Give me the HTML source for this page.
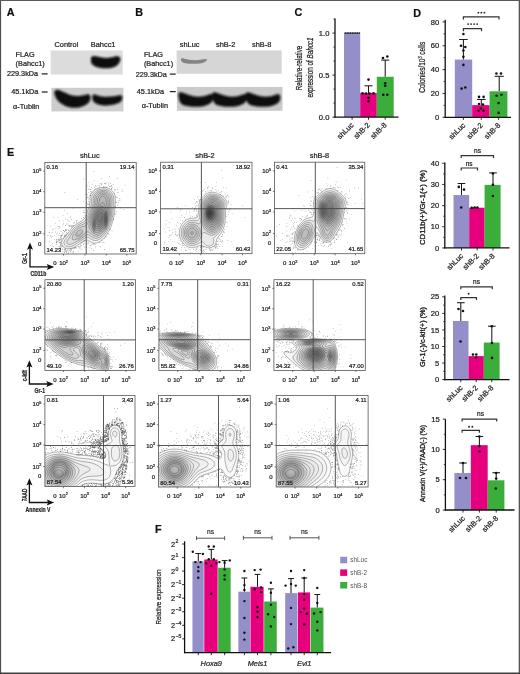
<!DOCTYPE html>
<html><head><meta charset="utf-8"><title>Figure</title>
<style>html,body{margin:0;padding:0;background:#fff;}body{width:520px;height:674px;overflow:hidden;position:relative;font-family:"Liberation Sans", sans-serif;}svg{display:block;filter:blur(0.35px);}svg.ov{position:absolute;left:0;top:0;filter:none;}svg text{stroke:#222;stroke-width:0.22px;}</style>
</head><body>
<svg width="520" height="674" viewBox="0 0 520 674" font-family='"Liberation Sans", sans-serif'><defs>
<filter id="bl1" x="-20%" y="-20%" width="140%" height="140%"><feGaussianBlur stdDeviation="0.7"/></filter>
<filter id="bl2" x="-20%" y="-30%" width="140%" height="160%"><feGaussianBlur stdDeviation="0.9"/></filter>
<filter id="bl3" x="-30%" y="-30%" width="160%" height="160%"><feGaussianBlur stdDeviation="2.2"/></filter>
<radialGradient id="shd"><stop offset="0" stop-color="#555" stop-opacity="0.9"/><stop offset="0.6" stop-color="#666" stop-opacity="0.6"/><stop offset="1" stop-color="#888" stop-opacity="0"/></radialGradient>
<radialGradient id="shd2"><stop offset="0" stop-color="#bbb" stop-opacity="0.3"/><stop offset="0.45" stop-color="#777" stop-opacity="0.75"/><stop offset="0.75" stop-color="#888" stop-opacity="0.4"/><stop offset="1" stop-color="#999" stop-opacity="0"/></radialGradient>
</defs><rect width="520" height="674" fill="#fff"/><text x="6.80" y="15.80" font-size="10.8" font-weight="bold" fill="#111">A</text>
<text x="135.30" y="16.00" font-size="10.8" font-weight="bold" fill="#111">B</text>
<text x="294.40" y="15.60" font-size="10.8" font-weight="bold" fill="#111">C</text>
<text x="413.30" y="16.50" font-size="10.8" font-weight="bold" fill="#111">D</text>
<text x="7.00" y="156.20" font-size="10.8" font-weight="bold" fill="#111">E</text>
<text x="155.00" y="532.70" font-size="10.8" font-weight="bold" fill="#111">F</text>
<text x="54.50" y="47.30" font-size="7.4" fill="#222">Control</text>
<text x="90.80" y="47.30" font-size="7.4" fill="#222">Bahcc1</text>
<text x="15.60" y="57.20" font-size="7.3" fill="#222">FLAG</text>
<text x="15.60" y="65.60" font-size="7.3" fill="#222">(Bahcc1)</text>
<text x="6.90" y="76.30" font-size="7.3" fill="#222">229.3kDa</text>
<line x1="41.80" y1="73.90" x2="47.60" y2="73.90" stroke="#1a1a1a" stroke-width="1.2"/>
<text x="11.20" y="94.40" font-size="7.3" fill="#222">45.1kDa</text>
<line x1="41.80" y1="92.00" x2="47.60" y2="92.00" stroke="#1a1a1a" stroke-width="1.2"/>
<text x="13.00" y="108.60" font-size="7.3" fill="#222">α-Tublin</text>
<rect x="50.70" y="50.50" width="72.00" height="24.00" fill="#dcdcdc"/>
<rect x="51.40" y="87.80" width="72.00" height="23.60" fill="#cdcdcd"/>
<text x="179.80" y="47.20" font-size="7.4" fill="#222">shLuc</text>
<text x="216.00" y="47.20" font-size="7.4" fill="#222">shB-2</text>
<text x="252.00" y="47.20" font-size="7.4" fill="#222">shB-8</text>
<text x="143.90" y="57.40" font-size="7.3" fill="#222">FLAG</text>
<text x="143.90" y="65.80" font-size="7.3" fill="#222">(Bahcc1)</text>
<text x="135.70" y="76.50" font-size="7.3" fill="#222">229.3kDa</text>
<line x1="169.80" y1="74.10" x2="175.70" y2="74.10" stroke="#1a1a1a" stroke-width="1.2"/>
<text x="136.80" y="94.00" font-size="7.3" fill="#222">45.1kDa</text>
<line x1="169.80" y1="91.60" x2="175.70" y2="91.60" stroke="#1a1a1a" stroke-width="1.2"/>
<text x="141.70" y="108.20" font-size="7.3" fill="#222">α-Tublin</text>
<rect x="176.60" y="50.40" width="105.10" height="23.40" fill="#d6d6d6"/>
<rect x="176.90" y="87.00" width="105.60" height="23.80" fill="#cacaca"/>
<g filter="url(#bl1)">
<path d="M91,58.5 C91,56 94,55.6 97,56.6 C103,58.4 110,58.4 115,56.6 C118,55.6 120.8,56.3 120.3,59.5 C119.8,64 116,67.8 108,68.2 C100,68.5 93,66.7 91.3,63 C90.8,61.5 90.8,60 91,58.5 Z" fill="#080808" filter="url(#bl2)"/>
<path d="M54.3,92.5 C54.5,90 56.5,89.3 59.5,90.2 C63,91.5 67,94 72,95.6 C78,96.6 83,95.3 87,94.4 C90.2,94 91,96.5 90.3,99.5 C89.5,103 86,105.5 80,107.2 C74,108.6 68,107.6 63.5,105 C58.5,102 55,98.5 54.3,92.5 Z" fill="#0a0a0a" filter="url(#bl2)"/>
<path d="M92.3,96.6 C92.3,94.3 94.5,94.2 97,95.2 C101,96.7 106,97 112,96.6 C116,96.2 119,94.9 121.2,95.3 C123,96.3 122.6,99.5 121,101.4 C117.5,104 111,105.4 104,105.4 C99,105.2 95.3,103.6 93.3,101.5 C92.4,100.2 92.2,98.2 92.3,96.6 Z" fill="#0a0a0a" filter="url(#bl2)"/>
<path d="M180.8,59.6 C180.8,58.2 182.5,58.0 184.5,58.8 C189,60.3 196,60.6 201.5,59.6 C204,59.1 206.8,58.6 207,59.6 C207,61 205,62.6 201.5,63.3 C195,64.2 188,64 184,63 C181.8,62.3 180.8,61 180.8,59.6 Z" fill="#858585" filter="url(#bl1)"/>
<path d="M178.5,94.5 C178.3,92.2 180.5,91.8 183.0,92.8 C187.0,94.5 192.0,96.5 198.0,96.8 C203.0,96.8 207.0,95.2 210.0,94.2 C212.5,93.6 213.5,96 213.0,99 C212.5,102.5 209.0,105 203.0,106.2 C196.0,107.2 188.0,106.8 183.0,105 C179.5,103.3 178.6,99 178.5,94.5 Z M212.3,94.5 C212.1,92.2 214.3,91.8 216.8,92.8 C220.8,94.5 225.8,96.5 231.8,96.8 C236.8,96.8 240.8,95.2 243.8,94.2 C246.3,93.6 247.3,96 246.8,99 C246.3,102.5 242.8,105 236.8,106.2 C229.8,107.2 221.8,106.8 216.8,105 C213.3,103.3 212.4,99 212.3,94.5 Z M245.7,94.5 C245.5,92.2 247.7,91.8 250.2,92.8 C254.2,94.5 259.2,96.5 265.2,96.8 C270.2,96.8 274.2,95.2 277.2,94.2 C279.7,93.6 280.7,96 280.2,99 C279.7,102.5 276.2,105 270.2,106.2 C263.2,107.2 255.2,106.8 250.2,105 C246.7,103.3 245.8,99 245.7,94.5 Z" fill="#0c0c0c" filter="url(#bl2)"/>
</g>
<rect x="344.00" y="32.70" width="16.20" height="84.40" fill="#958fc9"/>
<rect x="360.20" y="92.91" width="16.60" height="24.19" fill="#e6007e"/>
<rect x="376.80" y="76.78" width="16.90" height="40.32" fill="#3bad3a"/>
<line x1="335.00" y1="18.50" x2="335.00" y2="117.70" stroke="#111" stroke-width="1.3"/>
<line x1="334.40" y1="117.10" x2="398.50" y2="117.10" stroke="#111" stroke-width="1.3"/>
<line x1="332.40" y1="33.10" x2="335.00" y2="33.10" stroke="#1a1a1a" stroke-width="0.9"/>
<line x1="332.40" y1="75.10" x2="335.00" y2="75.10" stroke="#1a1a1a" stroke-width="0.9"/>
<line x1="332.40" y1="117.10" x2="335.00" y2="117.10" stroke="#1a1a1a" stroke-width="0.9"/>
<line x1="333.40" y1="103.10" x2="335.00" y2="103.10" stroke="#1a1a1a" stroke-width="0.8"/>
<line x1="333.40" y1="89.10" x2="335.00" y2="89.10" stroke="#1a1a1a" stroke-width="0.8"/>
<line x1="333.40" y1="61.10" x2="335.00" y2="61.10" stroke="#1a1a1a" stroke-width="0.8"/>
<line x1="333.40" y1="47.10" x2="335.00" y2="47.10" stroke="#1a1a1a" stroke-width="0.8"/>
<line x1="333.40" y1="19.10" x2="335.00" y2="19.10" stroke="#1a1a1a" stroke-width="0.8"/>
<line x1="352.10" y1="117.10" x2="352.10" y2="119.70" stroke="#1a1a1a" stroke-width="0.9"/>
<line x1="368.50" y1="117.10" x2="368.50" y2="119.70" stroke="#1a1a1a" stroke-width="0.9"/>
<line x1="385.20" y1="117.10" x2="385.20" y2="119.70" stroke="#1a1a1a" stroke-width="0.9"/>
<text x="329.40" y="35.70" font-size="7.6" text-anchor="end" fill="#1a1a1a">1.0</text>
<text x="329.40" y="77.70" font-size="7.6" text-anchor="end" fill="#1a1a1a">0.5</text>
<text x="329.40" y="119.70" font-size="7.6" text-anchor="end" fill="#1a1a1a">0.0</text>
<circle cx="345.40" cy="33.00" r="0.85" fill="#111"/>
<circle cx="347.12" cy="33.00" r="0.85" fill="#111"/>
<circle cx="348.84" cy="33.00" r="0.85" fill="#111"/>
<circle cx="350.56" cy="33.00" r="0.85" fill="#111"/>
<circle cx="352.28" cy="33.00" r="0.85" fill="#111"/>
<circle cx="354.00" cy="33.00" r="0.85" fill="#111"/>
<circle cx="355.72" cy="33.00" r="0.85" fill="#111"/>
<circle cx="357.44" cy="33.00" r="0.85" fill="#111"/>
<circle cx="359.16" cy="33.00" r="0.85" fill="#111"/>
<line x1="368.50" y1="85.80" x2="368.50" y2="92.91" stroke="#1a1a1a" stroke-width="1.05"/>
<line x1="364.50" y1="85.80" x2="372.50" y2="85.80" stroke="#1a1a1a" stroke-width="1.05"/>
<line x1="385.20" y1="60.10" x2="385.20" y2="76.78" stroke="#1a1a1a" stroke-width="1.05"/>
<line x1="381.20" y1="60.10" x2="389.20" y2="60.10" stroke="#1a1a1a" stroke-width="1.05"/>
<circle cx="368.50" cy="79.60" r="1.3" fill="#111"/>
<circle cx="362.50" cy="93.40" r="1.3" fill="#111"/>
<circle cx="366.00" cy="93.60" r="1.3" fill="#111"/>
<circle cx="369.50" cy="93.60" r="1.3" fill="#111"/>
<circle cx="373.50" cy="93.40" r="1.3" fill="#111"/>
<circle cx="368.50" cy="97.90" r="1.3" fill="#111"/>
<circle cx="368.50" cy="101.30" r="1.3" fill="#111"/>
<circle cx="383.00" cy="58.00" r="1.3" fill="#111"/>
<circle cx="387.30" cy="56.50" r="1.3" fill="#111"/>
<circle cx="385.20" cy="83.20" r="1.3" fill="#111"/>
<circle cx="385.20" cy="85.80" r="1.3" fill="#111"/>
<circle cx="383.30" cy="94.80" r="1.3" fill="#111"/>
<circle cx="387.30" cy="94.80" r="1.3" fill="#111"/>
<text x="0" y="0" font-size="7.4" text-anchor="end" fill="#151515" transform="translate(354.00,125.60) rotate(-45)">shLuc</text>
<text x="0" y="0" font-size="7.4" text-anchor="end" fill="#151515" transform="translate(370.40,125.60) rotate(-45)">shB-2</text>
<text x="0" y="0" font-size="7.4" text-anchor="end" fill="#151515" transform="translate(387.10,125.60) rotate(-45)">shB-8</text>
<text x="0" y="0" font-size="8.2" text-anchor="middle" fill="#151515" stroke="#222" stroke-width="0.2" transform="translate(302.3,68.0) rotate(-90)" textLength="44.5" lengthAdjust="spacingAndGlyphs">Relative-relative</text>
<text x="0" y="0" font-size="8.2" text-anchor="middle" fill="#151515" stroke="#222" stroke-width="0.2" transform="translate(312.6,67.6) rotate(-90)" textLength="60" lengthAdjust="spacingAndGlyphs">expression of <tspan font-style="italic">Bahcc1</tspan></text>
<rect x="454.80" y="59.58" width="17.40" height="57.72" fill="#958fc9"/>
<rect x="472.20" y="105.14" width="17.40" height="12.16" fill="#e6007e"/>
<rect x="489.60" y="91.30" width="17.80" height="26.00" fill="#3bad3a"/>
<line x1="445.20" y1="19.70" x2="445.20" y2="117.90" stroke="#111" stroke-width="1.3"/>
<line x1="444.60" y1="117.30" x2="511.00" y2="117.30" stroke="#111" stroke-width="1.3"/>
<line x1="442.60" y1="117.30" x2="445.20" y2="117.30" stroke="#1a1a1a" stroke-width="0.9"/>
<line x1="442.60" y1="93.45" x2="445.20" y2="93.45" stroke="#1a1a1a" stroke-width="0.9"/>
<line x1="442.60" y1="69.60" x2="445.20" y2="69.60" stroke="#1a1a1a" stroke-width="0.9"/>
<line x1="442.60" y1="45.75" x2="445.20" y2="45.75" stroke="#1a1a1a" stroke-width="0.9"/>
<line x1="442.60" y1="21.90" x2="445.20" y2="21.90" stroke="#1a1a1a" stroke-width="0.9"/>
<line x1="443.60" y1="105.38" x2="445.20" y2="105.38" stroke="#1a1a1a" stroke-width="0.8"/>
<line x1="443.60" y1="81.53" x2="445.20" y2="81.53" stroke="#1a1a1a" stroke-width="0.8"/>
<line x1="443.60" y1="57.68" x2="445.20" y2="57.68" stroke="#1a1a1a" stroke-width="0.8"/>
<line x1="443.60" y1="33.83" x2="445.20" y2="33.83" stroke="#1a1a1a" stroke-width="0.8"/>
<line x1="463.40" y1="117.30" x2="463.40" y2="119.90" stroke="#1a1a1a" stroke-width="0.9"/>
<line x1="481.30" y1="117.30" x2="481.30" y2="119.90" stroke="#1a1a1a" stroke-width="0.9"/>
<line x1="498.60" y1="117.30" x2="498.60" y2="119.90" stroke="#1a1a1a" stroke-width="0.9"/>
<text x="439.30" y="119.90" font-size="7.6" text-anchor="end" fill="#1a1a1a">0</text>
<text x="439.30" y="96.05" font-size="7.6" text-anchor="end" fill="#1a1a1a">20</text>
<text x="439.30" y="72.20" font-size="7.6" text-anchor="end" fill="#1a1a1a">40</text>
<text x="439.30" y="48.35" font-size="7.6" text-anchor="end" fill="#1a1a1a">60</text>
<text x="439.30" y="24.50" font-size="7.6" text-anchor="end" fill="#1a1a1a">80</text>
<line x1="463.40" y1="39.50" x2="463.40" y2="59.58" stroke="#1a1a1a" stroke-width="1.05"/>
<line x1="459.10" y1="39.50" x2="467.70" y2="39.50" stroke="#1a1a1a" stroke-width="1.05"/>
<line x1="481.30" y1="99.50" x2="481.30" y2="105.14" stroke="#1a1a1a" stroke-width="1.05"/>
<line x1="477.00" y1="99.50" x2="485.60" y2="99.50" stroke="#1a1a1a" stroke-width="1.05"/>
<line x1="499.20" y1="76.30" x2="499.20" y2="91.30" stroke="#1a1a1a" stroke-width="1.05"/>
<line x1="494.60" y1="76.30" x2="503.80" y2="76.30" stroke="#1a1a1a" stroke-width="1.05"/>
<circle cx="463.40" cy="34.00" r="1.3" fill="#111"/>
<circle cx="461.00" cy="45.70" r="1.3" fill="#111"/>
<circle cx="465.30" cy="47.00" r="1.3" fill="#111"/>
<circle cx="463.40" cy="50.50" r="1.3" fill="#111"/>
<circle cx="463.40" cy="56.80" r="1.3" fill="#111"/>
<circle cx="463.40" cy="64.90" r="1.3" fill="#111"/>
<circle cx="461.60" cy="88.60" r="1.3" fill="#111"/>
<circle cx="465.30" cy="87.50" r="1.3" fill="#111"/>
<circle cx="479.00" cy="96.90" r="1.3" fill="#111"/>
<circle cx="483.60" cy="96.90" r="1.3" fill="#111"/>
<circle cx="479.00" cy="104.00" r="1.3" fill="#111"/>
<circle cx="483.00" cy="104.50" r="1.3" fill="#111"/>
<circle cx="481.00" cy="108.50" r="1.3" fill="#111"/>
<circle cx="478.50" cy="110.80" r="1.3" fill="#111"/>
<circle cx="483.60" cy="110.80" r="1.3" fill="#111"/>
<circle cx="496.40" cy="73.50" r="1.3" fill="#111"/>
<circle cx="501.00" cy="73.50" r="1.3" fill="#111"/>
<circle cx="496.60" cy="95.80" r="1.3" fill="#111"/>
<circle cx="501.50" cy="94.80" r="1.3" fill="#111"/>
<circle cx="498.60" cy="103.00" r="1.3" fill="#111"/>
<circle cx="498.60" cy="112.90" r="1.3" fill="#111"/>
<path d="M463.40,19.50 V16.90 H499.00 V19.50" fill="none" stroke="#333" stroke-width="1.2"/>
<path d="M463.40,31.30 V28.70 H481.50 V31.30" fill="none" stroke="#333" stroke-width="1.2"/>
<circle cx="478.40" cy="12.70" r="0.9" fill="#222"/>
<circle cx="481.40" cy="12.70" r="0.9" fill="#222"/>
<circle cx="484.40" cy="12.70" r="0.9" fill="#222"/>
<circle cx="468.10" cy="24.10" r="0.9" fill="#222"/>
<circle cx="471.10" cy="24.10" r="0.9" fill="#222"/>
<circle cx="474.10" cy="24.10" r="0.9" fill="#222"/>
<circle cx="477.10" cy="24.10" r="0.9" fill="#222"/>
<text x="0" y="0" font-size="7.4" text-anchor="end" fill="#151515" transform="translate(465.80,125.80) rotate(-45)">shLuc</text>
<text x="0" y="0" font-size="7.4" text-anchor="end" fill="#151515" transform="translate(483.50,125.80) rotate(-45)">shB-2</text>
<text x="0" y="0" font-size="7.4" text-anchor="end" fill="#151515" transform="translate(501.00,125.80) rotate(-45)">shB-8</text>
<text x="0" y="0" font-size="8.4" text-anchor="middle" fill="#151515" stroke="#222" stroke-width="0.2" transform="translate(424.5,67.2) rotate(-90)" textLength="51" lengthAdjust="spacingAndGlyphs">Colonies/10<tspan font-size="5" dy="-2.6">3</tspan><tspan dy="2.6"> cells</tspan></text>
<rect x="453.50" y="195.03" width="15.70" height="52.88" fill="#958fc9"/>
<rect x="469.20" y="207.72" width="15.40" height="40.19" fill="#e6007e"/>
<rect x="484.60" y="184.87" width="16.00" height="63.03" fill="#3bad3a"/>
<line x1="444.80" y1="162.50" x2="444.80" y2="248.50" stroke="#111" stroke-width="1.3"/>
<line x1="444.20" y1="247.90" x2="509.50" y2="247.90" stroke="#111" stroke-width="1.3"/>
<line x1="442.20" y1="247.90" x2="444.80" y2="247.90" stroke="#1a1a1a" stroke-width="0.9"/>
<line x1="442.20" y1="226.75" x2="444.80" y2="226.75" stroke="#1a1a1a" stroke-width="0.9"/>
<line x1="442.20" y1="205.60" x2="444.80" y2="205.60" stroke="#1a1a1a" stroke-width="0.9"/>
<line x1="442.20" y1="184.45" x2="444.80" y2="184.45" stroke="#1a1a1a" stroke-width="0.9"/>
<line x1="442.20" y1="163.30" x2="444.80" y2="163.30" stroke="#1a1a1a" stroke-width="0.9"/>
<line x1="443.20" y1="237.33" x2="444.80" y2="237.33" stroke="#1a1a1a" stroke-width="0.8"/>
<line x1="443.20" y1="216.18" x2="444.80" y2="216.18" stroke="#1a1a1a" stroke-width="0.8"/>
<line x1="443.20" y1="195.03" x2="444.80" y2="195.03" stroke="#1a1a1a" stroke-width="0.8"/>
<line x1="443.20" y1="173.88" x2="444.80" y2="173.88" stroke="#1a1a1a" stroke-width="0.8"/>
<line x1="461.50" y1="247.90" x2="461.50" y2="250.50" stroke="#1a1a1a" stroke-width="0.9"/>
<line x1="477.20" y1="247.90" x2="477.20" y2="250.50" stroke="#1a1a1a" stroke-width="0.9"/>
<line x1="493.00" y1="247.90" x2="493.00" y2="250.50" stroke="#1a1a1a" stroke-width="0.9"/>
<text x="439.30" y="250.50" font-size="7.6" text-anchor="end" fill="#1a1a1a">0</text>
<text x="439.30" y="229.35" font-size="7.6" text-anchor="end" fill="#1a1a1a">10</text>
<text x="439.30" y="208.20" font-size="7.6" text-anchor="end" fill="#1a1a1a">20</text>
<text x="439.30" y="187.05" font-size="7.6" text-anchor="end" fill="#1a1a1a">30</text>
<text x="439.30" y="165.90" font-size="7.6" text-anchor="end" fill="#1a1a1a">40</text>
<line x1="461.50" y1="183.50" x2="461.50" y2="195.03" stroke="#1a1a1a" stroke-width="1.05"/>
<line x1="457.70" y1="183.50" x2="465.30" y2="183.50" stroke="#1a1a1a" stroke-width="1.05"/>
<line x1="493.00" y1="172.90" x2="493.00" y2="184.87" stroke="#1a1a1a" stroke-width="1.05"/>
<line x1="489.20" y1="172.90" x2="496.80" y2="172.90" stroke="#1a1a1a" stroke-width="1.05"/>
<circle cx="458.80" cy="186.90" r="1.3" fill="#111"/>
<circle cx="464.00" cy="189.60" r="1.3" fill="#111"/>
<circle cx="461.20" cy="207.50" r="1.3" fill="#111"/>
<circle cx="471.70" cy="207.90" r="1.3" fill="#111"/>
<circle cx="474.60" cy="207.50" r="1.3" fill="#111"/>
<circle cx="477.40" cy="207.50" r="1.3" fill="#111"/>
<circle cx="492.90" cy="173.50" r="1.3" fill="#111"/>
<circle cx="492.90" cy="184.80" r="1.3" fill="#111"/>
<circle cx="492.90" cy="196.00" r="1.3" fill="#111"/>
<path d="M461.20,170.40 V168.00 H477.50 V170.40" fill="none" stroke="#333" stroke-width="1.2"/>
<path d="M461.20,158.00 V155.60 H493.50 V158.00" fill="none" stroke="#333" stroke-width="1.2"/>
<text x="469.20" y="165.50" font-size="6.5" text-anchor="middle" fill="#1a1a1a">ns</text>
<text x="477.50" y="153.00" font-size="6.5" text-anchor="middle" fill="#1a1a1a">ns</text>
<text x="0" y="0" font-size="7.4" text-anchor="end" fill="#151515" transform="translate(463.70,256.50) rotate(-45)">shLuc</text>
<text x="0" y="0" font-size="7.4" text-anchor="end" fill="#151515" transform="translate(479.40,256.50) rotate(-45)">shB-2</text>
<text x="0" y="0" font-size="7.4" text-anchor="end" fill="#151515" transform="translate(495.20,256.50) rotate(-45)">shB-8</text>
<text x="0" y="0" font-size="7.2" text-anchor="middle" fill="#151515" style="stroke-width:0.32px" transform="translate(425.0,207.5) rotate(-90)" textLength="75" lengthAdjust="spacingAndGlyphs">CD11b(+)/Gr-1(+) (%)</text>
<rect x="453.00" y="321.01" width="15.50" height="58.59" fill="#958fc9"/>
<rect x="468.50" y="356.10" width="15.30" height="23.50" fill="#e6007e"/>
<rect x="483.80" y="342.53" width="15.80" height="37.07" fill="#3bad3a"/>
<line x1="444.80" y1="295.50" x2="444.80" y2="380.20" stroke="#111" stroke-width="1.3"/>
<line x1="444.20" y1="379.60" x2="509.50" y2="379.60" stroke="#111" stroke-width="1.3"/>
<line x1="442.20" y1="379.60" x2="444.80" y2="379.60" stroke="#1a1a1a" stroke-width="0.9"/>
<line x1="442.20" y1="363.05" x2="444.80" y2="363.05" stroke="#1a1a1a" stroke-width="0.9"/>
<line x1="442.20" y1="346.50" x2="444.80" y2="346.50" stroke="#1a1a1a" stroke-width="0.9"/>
<line x1="442.20" y1="329.95" x2="444.80" y2="329.95" stroke="#1a1a1a" stroke-width="0.9"/>
<line x1="442.20" y1="313.40" x2="444.80" y2="313.40" stroke="#1a1a1a" stroke-width="0.9"/>
<line x1="442.20" y1="296.85" x2="444.80" y2="296.85" stroke="#1a1a1a" stroke-width="0.9"/>
<line x1="443.20" y1="371.33" x2="444.80" y2="371.33" stroke="#1a1a1a" stroke-width="0.8"/>
<line x1="443.20" y1="354.78" x2="444.80" y2="354.78" stroke="#1a1a1a" stroke-width="0.8"/>
<line x1="443.20" y1="338.23" x2="444.80" y2="338.23" stroke="#1a1a1a" stroke-width="0.8"/>
<line x1="443.20" y1="321.68" x2="444.80" y2="321.68" stroke="#1a1a1a" stroke-width="0.8"/>
<line x1="443.20" y1="305.12" x2="444.80" y2="305.12" stroke="#1a1a1a" stroke-width="0.8"/>
<line x1="460.80" y1="379.60" x2="460.80" y2="382.20" stroke="#1a1a1a" stroke-width="0.9"/>
<line x1="476.20" y1="379.60" x2="476.20" y2="382.20" stroke="#1a1a1a" stroke-width="0.9"/>
<line x1="491.80" y1="379.60" x2="491.80" y2="382.20" stroke="#1a1a1a" stroke-width="0.9"/>
<text x="439.30" y="382.20" font-size="7.6" text-anchor="end" fill="#1a1a1a">0</text>
<text x="439.30" y="365.65" font-size="7.6" text-anchor="end" fill="#1a1a1a">5</text>
<text x="439.30" y="349.10" font-size="7.6" text-anchor="end" fill="#1a1a1a">10</text>
<text x="439.30" y="332.55" font-size="7.6" text-anchor="end" fill="#1a1a1a">15</text>
<text x="439.30" y="316.00" font-size="7.6" text-anchor="end" fill="#1a1a1a">20</text>
<text x="439.30" y="299.45" font-size="7.6" text-anchor="end" fill="#1a1a1a">25</text>
<line x1="460.80" y1="302.70" x2="460.80" y2="321.01" stroke="#1a1a1a" stroke-width="1.05"/>
<line x1="457.00" y1="302.70" x2="464.60" y2="302.70" stroke="#1a1a1a" stroke-width="1.05"/>
<line x1="491.80" y1="326.20" x2="491.80" y2="342.53" stroke="#1a1a1a" stroke-width="1.05"/>
<line x1="488.00" y1="326.20" x2="495.60" y2="326.20" stroke="#1a1a1a" stroke-width="1.05"/>
<circle cx="458.50" cy="309.00" r="1.3" fill="#111"/>
<circle cx="463.00" cy="311.00" r="1.3" fill="#111"/>
<circle cx="460.50" cy="341.50" r="1.3" fill="#111"/>
<circle cx="473.00" cy="354.50" r="1.3" fill="#111"/>
<circle cx="476.30" cy="354.50" r="1.3" fill="#111"/>
<circle cx="476.00" cy="357.50" r="1.3" fill="#111"/>
<circle cx="491.80" cy="326.20" r="1.3" fill="#111"/>
<circle cx="492.00" cy="343.00" r="1.3" fill="#111"/>
<circle cx="492.00" cy="357.90" r="1.3" fill="#111"/>
<path d="M460.80,300.10 V297.70 H476.50 V300.10" fill="none" stroke="#333" stroke-width="1.2"/>
<path d="M460.80,289.20 V286.80 H492.30 V289.20" fill="none" stroke="#333" stroke-width="1.2"/>
<circle cx="468.60" cy="293.70" r="0.95" fill="#222"/>
<text x="476.50" y="283.80" font-size="6.5" text-anchor="middle" fill="#1a1a1a">ns</text>
<text x="0" y="0" font-size="7.4" text-anchor="end" fill="#151515" transform="translate(463.00,388.30) rotate(-45)">shLuc</text>
<text x="0" y="0" font-size="7.4" text-anchor="end" fill="#151515" transform="translate(478.40,388.30) rotate(-45)">shB-2</text>
<text x="0" y="0" font-size="7.4" text-anchor="end" fill="#151515" transform="translate(494.00,388.30) rotate(-45)">shB-8</text>
<text x="0" y="0" font-size="7.2" text-anchor="middle" fill="#151515" style="stroke-width:0.32px" transform="translate(425.0,337.0) rotate(-90)" textLength="60" lengthAdjust="spacingAndGlyphs">Gr-1(-)/c-kit(+) (%)</text>
<rect x="454.40" y="473.03" width="16.40" height="36.97" fill="#958fc9"/>
<rect x="470.80" y="445.16" width="16.90" height="64.84" fill="#e6007e"/>
<rect x="487.70" y="480.31" width="16.70" height="29.69" fill="#3bad3a"/>
<line x1="445.40" y1="419.20" x2="445.40" y2="510.60" stroke="#111" stroke-width="1.3"/>
<line x1="444.80" y1="510.00" x2="514.50" y2="510.00" stroke="#111" stroke-width="1.3"/>
<line x1="442.80" y1="510.00" x2="445.40" y2="510.00" stroke="#1a1a1a" stroke-width="0.9"/>
<line x1="442.80" y1="479.70" x2="445.40" y2="479.70" stroke="#1a1a1a" stroke-width="0.9"/>
<line x1="442.80" y1="449.40" x2="445.40" y2="449.40" stroke="#1a1a1a" stroke-width="0.9"/>
<line x1="442.80" y1="419.10" x2="445.40" y2="419.10" stroke="#1a1a1a" stroke-width="0.9"/>
<line x1="443.80" y1="494.85" x2="445.40" y2="494.85" stroke="#1a1a1a" stroke-width="0.8"/>
<line x1="443.80" y1="464.55" x2="445.40" y2="464.55" stroke="#1a1a1a" stroke-width="0.8"/>
<line x1="443.80" y1="434.25" x2="445.40" y2="434.25" stroke="#1a1a1a" stroke-width="0.8"/>
<line x1="463.00" y1="510.00" x2="463.00" y2="512.60" stroke="#1a1a1a" stroke-width="0.9"/>
<line x1="479.40" y1="510.00" x2="479.40" y2="512.60" stroke="#1a1a1a" stroke-width="0.9"/>
<line x1="496.20" y1="510.00" x2="496.20" y2="512.60" stroke="#1a1a1a" stroke-width="0.9"/>
<text x="439.80" y="512.60" font-size="7.6" text-anchor="end" fill="#1a1a1a">0</text>
<text x="439.80" y="482.30" font-size="7.6" text-anchor="end" fill="#1a1a1a">5</text>
<text x="439.80" y="452.00" font-size="7.6" text-anchor="end" fill="#1a1a1a">10</text>
<text x="439.80" y="421.70" font-size="7.6" text-anchor="end" fill="#1a1a1a">15</text>
<line x1="463.00" y1="463.00" x2="463.00" y2="473.03" stroke="#1a1a1a" stroke-width="1.05"/>
<line x1="459.20" y1="463.00" x2="466.80" y2="463.00" stroke="#1a1a1a" stroke-width="1.05"/>
<line x1="479.40" y1="436.50" x2="479.40" y2="445.16" stroke="#1a1a1a" stroke-width="1.05"/>
<line x1="475.60" y1="436.50" x2="483.20" y2="436.50" stroke="#1a1a1a" stroke-width="1.05"/>
<line x1="496.20" y1="472.70" x2="496.20" y2="480.31" stroke="#1a1a1a" stroke-width="1.05"/>
<line x1="492.40" y1="472.70" x2="500.00" y2="472.70" stroke="#1a1a1a" stroke-width="1.05"/>
<circle cx="463.00" cy="463.00" r="1.3" fill="#111"/>
<circle cx="460.00" cy="478.00" r="1.3" fill="#111"/>
<circle cx="466.00" cy="478.00" r="1.3" fill="#111"/>
<circle cx="479.40" cy="436.50" r="1.3" fill="#111"/>
<circle cx="479.40" cy="446.00" r="1.3" fill="#111"/>
<circle cx="479.40" cy="451.50" r="1.3" fill="#111"/>
<circle cx="496.20" cy="473.00" r="1.3" fill="#111"/>
<circle cx="496.20" cy="478.50" r="1.3" fill="#111"/>
<circle cx="495.80" cy="488.50" r="1.3" fill="#111"/>
<path d="M462.10,432.80 V430.40 H479.40 V432.80" fill="none" stroke="#333" stroke-width="1.2"/>
<path d="M462.10,421.60 V419.20 H496.70 V421.60" fill="none" stroke="#333" stroke-width="1.2"/>
<circle cx="469.10" cy="426.80" r="0.95" fill="#222"/>
<circle cx="472.30" cy="426.80" r="0.95" fill="#222"/>
<text x="480.50" y="415.80" font-size="6.5" text-anchor="middle" fill="#1a1a1a">ns</text>
<text x="0" y="0" font-size="7.4" text-anchor="end" fill="#151515" transform="translate(465.40,518.80) rotate(-45)">shLuc</text>
<text x="0" y="0" font-size="7.4" text-anchor="end" fill="#151515" transform="translate(481.80,518.80) rotate(-45)">shB-2</text>
<text x="0" y="0" font-size="7.4" text-anchor="end" fill="#151515" transform="translate(498.60,518.80) rotate(-45)">shB-8</text>
<text x="0" y="0" font-size="7.2" text-anchor="middle" fill="#151515" style="stroke-width:0.32px" transform="translate(425.0,463.5) rotate(-90)" textLength="77" lengthAdjust="spacingAndGlyphs">Annexin V(+)/7AAD(-) (%)</text>
<rect x="192.45" y="561.30" width="11.30" height="91.30" fill="#958fc9"/>
<rect x="204.25" y="559.50" width="13.40" height="93.10" fill="#e6007e"/>
<rect x="218.15" y="567.70" width="12.50" height="84.90" fill="#3bad3a"/>
<rect x="238.35" y="591.70" width="11.60" height="60.90" fill="#958fc9"/>
<rect x="250.45" y="586.80" width="13.20" height="65.80" fill="#e6007e"/>
<rect x="264.15" y="601.50" width="12.60" height="51.10" fill="#3bad3a"/>
<rect x="285.15" y="593.10" width="12.20" height="59.50" fill="#958fc9"/>
<rect x="297.85" y="592.40" width="12.20" height="60.20" fill="#e6007e"/>
<rect x="310.55" y="607.60" width="12.90" height="45.00" fill="#3bad3a"/>
<line x1="184.60" y1="541.30" x2="184.60" y2="653.20" stroke="#111" stroke-width="1.3"/>
<line x1="184.00" y1="652.60" x2="331.10" y2="652.60" stroke="#111" stroke-width="1.3"/>
<line x1="182.10" y1="544.00" x2="184.60" y2="544.00" stroke="#1a1a1a" stroke-width="0.9"/>
<text x="175.00" y="546.60" font-size="7.4" text-anchor="end" fill="#1a1a1a">2</text>
<text x="175.40" y="543.40" font-size="5.2" fill="#1a1a1a">2</text>
<line x1="182.10" y1="557.55" x2="184.60" y2="557.55" stroke="#1a1a1a" stroke-width="0.9"/>
<text x="175.00" y="560.15" font-size="7.4" text-anchor="end" fill="#1a1a1a">2</text>
<text x="175.40" y="556.95" font-size="5.2" fill="#1a1a1a">1</text>
<line x1="182.10" y1="571.10" x2="184.60" y2="571.10" stroke="#1a1a1a" stroke-width="0.9"/>
<text x="175.00" y="573.70" font-size="7.4" text-anchor="end" fill="#1a1a1a">2</text>
<text x="175.40" y="570.50" font-size="5.2" fill="#1a1a1a">0</text>
<line x1="182.10" y1="584.65" x2="184.60" y2="584.65" stroke="#1a1a1a" stroke-width="0.9"/>
<text x="175.00" y="587.25" font-size="7.4" text-anchor="end" fill="#1a1a1a">2</text>
<text x="175.40" y="584.05" font-size="5.2" fill="#1a1a1a">−1</text>
<line x1="182.10" y1="598.20" x2="184.60" y2="598.20" stroke="#1a1a1a" stroke-width="0.9"/>
<text x="175.00" y="600.80" font-size="7.4" text-anchor="end" fill="#1a1a1a">2</text>
<text x="175.40" y="597.60" font-size="5.2" fill="#1a1a1a">−2</text>
<line x1="182.10" y1="611.75" x2="184.60" y2="611.75" stroke="#1a1a1a" stroke-width="0.9"/>
<text x="175.00" y="614.35" font-size="7.4" text-anchor="end" fill="#1a1a1a">2</text>
<text x="175.40" y="611.15" font-size="5.2" fill="#1a1a1a">−3</text>
<line x1="182.10" y1="625.30" x2="184.60" y2="625.30" stroke="#1a1a1a" stroke-width="0.9"/>
<text x="175.00" y="627.90" font-size="7.4" text-anchor="end" fill="#1a1a1a">2</text>
<text x="175.40" y="624.70" font-size="5.2" fill="#1a1a1a">−4</text>
<line x1="182.10" y1="638.85" x2="184.60" y2="638.85" stroke="#1a1a1a" stroke-width="0.9"/>
<text x="175.00" y="641.45" font-size="7.4" text-anchor="end" fill="#1a1a1a">2</text>
<text x="175.40" y="638.25" font-size="5.2" fill="#1a1a1a">−5</text>
<line x1="198.30" y1="553.50" x2="198.30" y2="561.30" stroke="#1a1a1a" stroke-width="1.05"/>
<line x1="195.40" y1="553.50" x2="201.20" y2="553.50" stroke="#1a1a1a" stroke-width="1.05"/>
<line x1="198.30" y1="652.60" x2="198.30" y2="655.20" stroke="#1a1a1a" stroke-width="0.9"/>
<line x1="211.30" y1="549.40" x2="211.30" y2="559.50" stroke="#1a1a1a" stroke-width="1.05"/>
<line x1="208.40" y1="549.40" x2="214.20" y2="549.40" stroke="#1a1a1a" stroke-width="1.05"/>
<line x1="211.30" y1="652.60" x2="211.30" y2="655.20" stroke="#1a1a1a" stroke-width="0.9"/>
<line x1="224.60" y1="560.60" x2="224.60" y2="567.70" stroke="#1a1a1a" stroke-width="1.05"/>
<line x1="221.70" y1="560.60" x2="227.50" y2="560.60" stroke="#1a1a1a" stroke-width="1.05"/>
<line x1="224.60" y1="652.60" x2="224.60" y2="655.20" stroke="#1a1a1a" stroke-width="0.9"/>
<line x1="244.40" y1="578.00" x2="244.40" y2="591.70" stroke="#1a1a1a" stroke-width="1.05"/>
<line x1="241.50" y1="578.00" x2="247.30" y2="578.00" stroke="#1a1a1a" stroke-width="1.05"/>
<line x1="244.40" y1="652.60" x2="244.40" y2="655.20" stroke="#1a1a1a" stroke-width="0.9"/>
<line x1="257.50" y1="574.40" x2="257.50" y2="586.80" stroke="#1a1a1a" stroke-width="1.05"/>
<line x1="254.60" y1="574.40" x2="260.40" y2="574.40" stroke="#1a1a1a" stroke-width="1.05"/>
<line x1="257.50" y1="652.60" x2="257.50" y2="655.20" stroke="#1a1a1a" stroke-width="0.9"/>
<line x1="270.90" y1="588.90" x2="270.90" y2="601.50" stroke="#1a1a1a" stroke-width="1.05"/>
<line x1="268.00" y1="588.90" x2="273.80" y2="588.90" stroke="#1a1a1a" stroke-width="1.05"/>
<line x1="270.90" y1="652.60" x2="270.90" y2="655.20" stroke="#1a1a1a" stroke-width="0.9"/>
<line x1="291.00" y1="578.60" x2="291.00" y2="593.10" stroke="#1a1a1a" stroke-width="1.05"/>
<line x1="288.10" y1="578.60" x2="293.90" y2="578.60" stroke="#1a1a1a" stroke-width="1.05"/>
<line x1="291.00" y1="652.60" x2="291.00" y2="655.20" stroke="#1a1a1a" stroke-width="0.9"/>
<line x1="304.20" y1="578.00" x2="304.20" y2="592.40" stroke="#1a1a1a" stroke-width="1.05"/>
<line x1="301.30" y1="578.00" x2="307.10" y2="578.00" stroke="#1a1a1a" stroke-width="1.05"/>
<line x1="304.20" y1="652.60" x2="304.20" y2="655.20" stroke="#1a1a1a" stroke-width="0.9"/>
<line x1="317.30" y1="594.50" x2="317.30" y2="607.60" stroke="#1a1a1a" stroke-width="1.05"/>
<line x1="314.40" y1="594.50" x2="320.20" y2="594.50" stroke="#1a1a1a" stroke-width="1.05"/>
<line x1="317.30" y1="652.60" x2="317.30" y2="655.20" stroke="#1a1a1a" stroke-width="0.9"/>
<text x="211.30" y="665.60" font-size="7.4" text-anchor="middle" font-style="italic" fill="#222">Hoxa9</text>
<text x="257.50" y="665.60" font-size="7.4" text-anchor="middle" font-style="italic" fill="#222">Meis1</text>
<text x="304.20" y="665.60" font-size="7.4" text-anchor="middle" font-style="italic" fill="#222">Evi1</text>
<line x1="196.50" y1="538.20" x2="224.60" y2="538.20" stroke="#444" stroke-width="0.9"/>
<line x1="196.50" y1="536.20" x2="196.50" y2="540.20" stroke="#444" stroke-width="0.9"/>
<line x1="224.60" y1="536.20" x2="224.60" y2="540.20" stroke="#444" stroke-width="0.9"/>
<text x="210.55" y="533.80" font-size="6.6" text-anchor="middle" fill="#444">ns</text>
<line x1="243.40" y1="537.80" x2="272.00" y2="537.80" stroke="#444" stroke-width="0.9"/>
<line x1="243.40" y1="535.80" x2="243.40" y2="539.80" stroke="#444" stroke-width="0.9"/>
<line x1="272.00" y1="535.80" x2="272.00" y2="539.80" stroke="#444" stroke-width="0.9"/>
<text x="257.70" y="533.80" font-size="6.6" text-anchor="middle" fill="#444">ns</text>
<line x1="290.00" y1="537.80" x2="318.90" y2="537.80" stroke="#444" stroke-width="0.9"/>
<line x1="290.00" y1="535.80" x2="290.00" y2="539.80" stroke="#444" stroke-width="0.9"/>
<line x1="318.90" y1="535.80" x2="318.90" y2="539.80" stroke="#444" stroke-width="0.9"/>
<text x="304.45" y="533.80" font-size="6.6" text-anchor="middle" fill="#444">ns</text>
<text x="0" y="0" font-size="8.0" text-anchor="middle" fill="#151515" stroke="#222" stroke-width="0.2" transform="translate(161.0,597) rotate(-90)" textLength="55" lengthAdjust="spacingAndGlyphs">Relative expression</text>
<circle cx="192.80" cy="551.70" r="1.2" fill="#111"/>
<circle cx="202.90" cy="554.00" r="1.2" fill="#111"/>
<circle cx="195.40" cy="562.10" r="1.2" fill="#111"/>
<circle cx="200.60" cy="562.10" r="1.2" fill="#111"/>
<circle cx="198.30" cy="567.10" r="1.2" fill="#111"/>
<circle cx="198.30" cy="571.30" r="1.2" fill="#111"/>
<circle cx="198.30" cy="577.70" r="1.2" fill="#111"/>
<circle cx="208.70" cy="546.50" r="1.2" fill="#111"/>
<circle cx="213.80" cy="546.50" r="1.2" fill="#111"/>
<circle cx="208.70" cy="559.20" r="1.2" fill="#111"/>
<circle cx="213.80" cy="559.20" r="1.2" fill="#111"/>
<circle cx="206.00" cy="563.30" r="1.2" fill="#111"/>
<circle cx="216.40" cy="563.30" r="1.2" fill="#111"/>
<circle cx="211.30" cy="565.90" r="1.2" fill="#111"/>
<circle cx="211.30" cy="593.80" r="1.2" fill="#111"/>
<circle cx="219.40" cy="562.10" r="1.2" fill="#111"/>
<circle cx="229.80" cy="560.40" r="1.2" fill="#111"/>
<circle cx="224.60" cy="562.70" r="1.2" fill="#111"/>
<circle cx="224.60" cy="569.40" r="1.2" fill="#111"/>
<circle cx="224.60" cy="575.40" r="1.2" fill="#111"/>
<circle cx="224.60" cy="579.40" r="1.2" fill="#111"/>
<circle cx="244.40" cy="571.00" r="1.2" fill="#111"/>
<circle cx="244.40" cy="585.10" r="1.2" fill="#111"/>
<circle cx="244.40" cy="589.90" r="1.2" fill="#111"/>
<circle cx="244.40" cy="601.10" r="1.2" fill="#111"/>
<circle cx="244.40" cy="618.00" r="1.2" fill="#111"/>
<circle cx="244.40" cy="632.80" r="1.2" fill="#111"/>
<circle cx="244.40" cy="639.60" r="1.2" fill="#111"/>
<circle cx="254.70" cy="570.10" r="1.2" fill="#111"/>
<circle cx="260.60" cy="569.60" r="1.2" fill="#111"/>
<circle cx="254.70" cy="589.30" r="1.2" fill="#111"/>
<circle cx="261.10" cy="587.50" r="1.2" fill="#111"/>
<circle cx="261.10" cy="592.10" r="1.2" fill="#111"/>
<circle cx="257.50" cy="607.20" r="1.2" fill="#111"/>
<circle cx="257.50" cy="611.80" r="1.2" fill="#111"/>
<circle cx="257.50" cy="617.00" r="1.2" fill="#111"/>
<circle cx="270.90" cy="582.80" r="1.2" fill="#111"/>
<circle cx="270.90" cy="592.70" r="1.2" fill="#111"/>
<circle cx="270.90" cy="604.80" r="1.2" fill="#111"/>
<circle cx="268.10" cy="614.20" r="1.2" fill="#111"/>
<circle cx="274.20" cy="617.00" r="1.2" fill="#111"/>
<circle cx="270.90" cy="626.50" r="1.2" fill="#111"/>
<circle cx="291.00" cy="571.00" r="1.2" fill="#111"/>
<circle cx="285.60" cy="585.60" r="1.2" fill="#111"/>
<circle cx="291.00" cy="584.00" r="1.2" fill="#111"/>
<circle cx="295.80" cy="585.60" r="1.2" fill="#111"/>
<circle cx="291.00" cy="607.90" r="1.2" fill="#111"/>
<circle cx="291.00" cy="624.10" r="1.2" fill="#111"/>
<circle cx="288.20" cy="648.50" r="1.2" fill="#111"/>
<circle cx="293.40" cy="647.30" r="1.2" fill="#111"/>
<circle cx="304.20" cy="570.10" r="1.2" fill="#111"/>
<circle cx="304.20" cy="578.00" r="1.2" fill="#111"/>
<circle cx="304.20" cy="594.10" r="1.2" fill="#111"/>
<circle cx="304.20" cy="599.70" r="1.2" fill="#111"/>
<circle cx="304.20" cy="608.60" r="1.2" fill="#111"/>
<circle cx="300.80" cy="612.10" r="1.2" fill="#111"/>
<circle cx="307.00" cy="613.80" r="1.2" fill="#111"/>
<circle cx="304.20" cy="624.50" r="1.2" fill="#111"/>
<circle cx="317.30" cy="587.90" r="1.2" fill="#111"/>
<circle cx="317.30" cy="603.00" r="1.2" fill="#111"/>
<circle cx="314.10" cy="613.50" r="1.2" fill="#111"/>
<circle cx="320.60" cy="612.10" r="1.2" fill="#111"/>
<circle cx="317.30" cy="621.70" r="1.2" fill="#111"/>
<circle cx="317.30" cy="630.40" r="1.2" fill="#111"/>
<rect x="340.20" y="556.80" width="7.00" height="6.50" fill="#958fc9"/>
<text x="350.30" y="562.30" font-size="6.4" fill="#555" style="stroke:none">shLuc</text>
<rect x="340.20" y="569.40" width="7.00" height="6.50" fill="#e6007e"/>
<text x="350.30" y="574.90" font-size="6.4" fill="#555" style="stroke:none">shB-2</text>
<rect x="340.20" y="582.00" width="7.00" height="6.50" fill="#3bad3a"/>
<text x="350.30" y="587.50" font-size="6.4" fill="#555" style="stroke:none">shB-8</text>
<clipPath id="cp1"><rect x="44.80" y="162.40" width="91.40" height="91.60"/></clipPath>
<g clip-path="url(#cp1)">
<g fill="#666"><circle cx="86.3" cy="213.0" r="0.42"/><circle cx="87.3" cy="243.9" r="0.42"/><circle cx="61.4" cy="240.0" r="0.42"/><circle cx="68.9" cy="225.4" r="0.42"/><circle cx="67.1" cy="233.5" r="0.42"/><circle cx="111.3" cy="186.0" r="0.42"/><circle cx="62.2" cy="248.8" r="0.42"/><circle cx="65.8" cy="229.5" r="0.42"/><circle cx="59.7" cy="250.0" r="0.42"/><circle cx="104.7" cy="183.5" r="0.42"/><circle cx="95.9" cy="188.7" r="0.42"/><circle cx="89.6" cy="202.1" r="0.42"/><circle cx="71.8" cy="227.8" r="0.42"/><circle cx="95.3" cy="244.8" r="0.42"/><circle cx="69.4" cy="226.7" r="0.42"/><circle cx="116.3" cy="197.1" r="0.42"/><circle cx="73.9" cy="223.3" r="0.42"/><circle cx="65.6" cy="249.5" r="0.42"/><circle cx="60.6" cy="245.4" r="0.42"/><circle cx="106.1" cy="236.2" r="0.42"/><circle cx="80.2" cy="244.9" r="0.42"/><circle cx="71.6" cy="249.7" r="0.42"/><circle cx="73.0" cy="248.7" r="0.42"/><circle cx="110.4" cy="186.8" r="0.42"/><circle cx="99.4" cy="242.5" r="0.42"/><circle cx="60.1" cy="241.1" r="0.42"/><circle cx="110.6" cy="183.4" r="0.42"/><circle cx="103.6" cy="187.4" r="0.42"/><circle cx="90.6" cy="245.7" r="0.42"/><circle cx="64.1" cy="236.0" r="0.42"/><circle cx="59.1" cy="240.7" r="0.42"/><circle cx="60.4" cy="250.8" r="0.42"/><circle cx="63.9" cy="233.2" r="0.42"/><circle cx="117.3" cy="189.6" r="0.42"/><circle cx="90.2" cy="195.2" r="0.42"/><circle cx="64.6" cy="249.7" r="0.42"/><circle cx="92.1" cy="192.2" r="0.42"/><circle cx="60.6" cy="244.4" r="0.42"/><circle cx="119.1" cy="198.4" r="0.42"/><circle cx="71.9" cy="248.4" r="0.42"/><circle cx="88.0" cy="197.5" r="0.42"/><circle cx="56.8" cy="239.7" r="0.42"/><circle cx="83.3" cy="241.7" r="0.42"/><circle cx="67.8" cy="250.8" r="0.42"/><circle cx="58.9" cy="246.5" r="0.42"/><circle cx="65.3" cy="248.3" r="0.42"/><circle cx="80.1" cy="247.9" r="0.42"/><circle cx="60.6" cy="239.0" r="0.42"/><circle cx="89.0" cy="199.0" r="0.42"/><circle cx="95.6" cy="185.8" r="0.42"/><circle cx="75.8" cy="247.3" r="0.42"/><circle cx="61.4" cy="238.3" r="0.42"/><circle cx="73.6" cy="248.1" r="0.42"/><circle cx="105.4" cy="183.0" r="0.42"/><circle cx="118.7" cy="202.4" r="0.42"/><circle cx="88.3" cy="201.6" r="0.42"/><circle cx="106.0" cy="183.4" r="0.42"/><circle cx="70.5" cy="249.0" r="0.42"/><circle cx="87.1" cy="209.1" r="0.42"/><circle cx="57.1" cy="241.6" r="0.42"/><circle cx="86.9" cy="242.0" r="0.42"/><circle cx="85.6" cy="194.2" r="0.42"/><circle cx="91.3" cy="187.7" r="0.42"/><circle cx="84.9" cy="247.6" r="0.42"/><circle cx="62.6" cy="249.6" r="0.42"/><circle cx="60.7" cy="237.3" r="0.42"/><circle cx="79.2" cy="246.3" r="0.42"/><circle cx="61.2" cy="236.3" r="0.42"/><circle cx="59.0" cy="240.7" r="0.42"/><circle cx="76.5" cy="222.8" r="0.42"/><circle cx="61.0" cy="237.8" r="0.42"/><circle cx="84.3" cy="243.6" r="0.42"/><circle cx="91.0" cy="191.8" r="0.42"/><circle cx="56.7" cy="242.3" r="0.42"/><circle cx="66.0" cy="234.3" r="0.42"/><circle cx="91.9" cy="244.4" r="0.42"/><circle cx="108.5" cy="182.9" r="0.42"/><circle cx="65.8" cy="230.0" r="0.42"/><circle cx="90.3" cy="189.2" r="0.42"/><circle cx="74.5" cy="248.0" r="0.42"/><circle cx="61.1" cy="239.8" r="0.42"/><circle cx="118.3" cy="192.2" r="0.42"/><circle cx="73.6" cy="225.5" r="0.42"/><circle cx="112.7" cy="187.8" r="0.42"/><circle cx="119.0" cy="200.3" r="0.42"/><circle cx="66.1" cy="230.8" r="0.42"/><circle cx="115.0" cy="190.3" r="0.42"/><circle cx="93.1" cy="243.7" r="0.42"/><circle cx="108.4" cy="185.0" r="0.42"/><circle cx="94.7" cy="187.6" r="0.42"/><circle cx="115.5" cy="189.8" r="0.42"/><circle cx="56.8" cy="240.2" r="0.42"/><circle cx="93.5" cy="250.6" r="0.42"/><circle cx="63.0" cy="251.9" r="0.42"/><circle cx="106.8" cy="187.5" r="0.42"/><circle cx="87.7" cy="207.1" r="0.42"/><circle cx="117.8" cy="205.4" r="0.42"/><circle cx="84.6" cy="241.2" r="0.42"/><circle cx="70.3" cy="251.2" r="0.42"/><circle cx="74.6" cy="247.8" r="0.42"/><circle cx="70.9" cy="251.9" r="0.42"/><circle cx="89.4" cy="195.6" r="0.42"/><circle cx="88.3" cy="203.9" r="0.42"/><circle cx="114.5" cy="193.2" r="0.42"/><circle cx="60.6" cy="244.0" r="0.42"/><circle cx="114.9" cy="214.0" r="0.42"/><circle cx="95.7" cy="247.1" r="0.42"/><circle cx="64.6" cy="252.3" r="0.42"/><circle cx="103.3" cy="186.7" r="0.42"/><circle cx="65.2" cy="230.9" r="0.42"/><circle cx="60.7" cy="243.0" r="0.42"/><circle cx="84.3" cy="212.4" r="0.42"/><circle cx="115.8" cy="214.1" r="0.42"/><circle cx="68.4" cy="230.2" r="0.42"/><circle cx="60.4" cy="247.3" r="0.42"/><circle cx="97.9" cy="188.1" r="0.42"/><circle cx="111.6" cy="189.4" r="0.42"/><circle cx="74.4" cy="222.2" r="0.42"/><circle cx="69.6" cy="250.7" r="0.42"/><circle cx="91.1" cy="245.9" r="0.42"/><circle cx="81.1" cy="245.8" r="0.42"/><circle cx="116.2" cy="211.9" r="0.42"/><circle cx="79.9" cy="248.0" r="0.42"/><circle cx="100.2" cy="246.8" r="0.42"/><circle cx="58.6" cy="239.5" r="0.42"/><circle cx="115.5" cy="196.9" r="0.42"/><circle cx="115.2" cy="206.7" r="0.42"/><circle cx="65.6" cy="235.9" r="0.42"/><circle cx="61.6" cy="234.9" r="0.42"/><circle cx="81.1" cy="242.9" r="0.42"/><circle cx="116.4" cy="202.3" r="0.42"/><circle cx="61.5" cy="235.3" r="0.42"/><circle cx="66.1" cy="251.5" r="0.42"/><circle cx="86.2" cy="198.7" r="0.42"/><circle cx="96.0" cy="186.2" r="0.42"/><circle cx="59.5" cy="247.8" r="0.42"/><circle cx="101.3" cy="183.6" r="0.42"/><circle cx="63.4" cy="238.0" r="0.42"/><circle cx="72.2" cy="226.4" r="0.42"/><circle cx="78.2" cy="246.8" r="0.42"/><circle cx="73.7" cy="251.9" r="0.42"/><circle cx="65.8" cy="235.2" r="0.42"/><circle cx="61.3" cy="246.0" r="0.42"/><circle cx="109.9" cy="186.3" r="0.42"/><circle cx="106.3" cy="236.8" r="0.42"/><circle cx="59.7" cy="239.1" r="0.42"/><circle cx="86.5" cy="246.9" r="0.42"/><circle cx="84.5" cy="240.7" r="0.42"/><circle cx="104.6" cy="238.2" r="0.42"/><circle cx="114.4" cy="189.6" r="0.42"/><circle cx="109.9" cy="229.5" r="0.42"/><circle cx="110.6" cy="229.1" r="0.42"/><circle cx="113.1" cy="184.6" r="0.42"/><circle cx="99.9" cy="186.0" r="0.42"/><circle cx="91.3" cy="248.4" r="0.42"/><circle cx="87.0" cy="210.7" r="0.42"/><circle cx="111.8" cy="185.4" r="0.42"/><circle cx="111.5" cy="188.1" r="0.42"/><circle cx="99.2" cy="187.1" r="0.42"/><circle cx="68.7" cy="252.0" r="0.42"/><circle cx="64.3" cy="248.9" r="0.42"/><circle cx="104.9" cy="187.0" r="0.42"/><circle cx="87.8" cy="207.7" r="0.42"/><circle cx="104.0" cy="242.8" r="0.42"/><circle cx="59.3" cy="242.5" r="0.42"/><circle cx="56.9" cy="241.8" r="0.42"/><circle cx="88.8" cy="192.7" r="0.42"/><circle cx="64.7" cy="236.9" r="0.42"/><circle cx="83.4" cy="244.8" r="0.42"/><circle cx="81.7" cy="218.7" r="0.42"/><circle cx="60.7" cy="242.5" r="0.42"/><circle cx="87.2" cy="194.3" r="0.42"/><circle cx="83.6" cy="212.8" r="0.42"/><circle cx="80.8" cy="246.0" r="0.42"/><circle cx="62.0" cy="238.6" r="0.42"/><circle cx="86.8" cy="202.7" r="0.42"/><circle cx="88.9" cy="243.6" r="0.42"/><circle cx="84.9" cy="215.4" r="0.42"/><circle cx="120.0" cy="200.0" r="0.42"/><circle cx="94.5" cy="189.6" r="0.42"/><circle cx="73.7" cy="251.5" r="0.42"/><circle cx="98.0" cy="185.6" r="0.42"/><circle cx="113.7" cy="219.7" r="0.42"/><circle cx="69.8" cy="248.8" r="0.42"/><circle cx="100.2" cy="183.3" r="0.42"/><circle cx="115.2" cy="201.9" r="0.42"/><circle cx="94.7" cy="244.2" r="0.42"/><circle cx="101.1" cy="184.7" r="0.42"/><circle cx="66.5" cy="250.8" r="0.42"/><circle cx="115.2" cy="206.8" r="0.42"/><circle cx="89.8" cy="189.2" r="0.42"/><circle cx="76.4" cy="246.9" r="0.42"/><circle cx="60.2" cy="246.7" r="0.42"/><circle cx="84.0" cy="210.5" r="0.42"/><circle cx="101.9" cy="240.6" r="0.42"/><circle cx="90.7" cy="193.6" r="0.42"/><circle cx="87.8" cy="196.9" r="0.42"/><circle cx="90.2" cy="195.3" r="0.42"/><circle cx="83.5" cy="217.7" r="0.42"/><circle cx="83.7" cy="243.9" r="0.42"/><circle cx="82.6" cy="242.3" r="0.42"/><circle cx="64.3" cy="251.8" r="0.42"/><circle cx="71.3" cy="226.6" r="0.42"/><circle cx="61.3" cy="236.0" r="0.42"/><circle cx="62.7" cy="234.4" r="0.42"/><circle cx="66.8" cy="252.4" r="0.42"/><circle cx="56.2" cy="242.1" r="0.42"/><circle cx="56.2" cy="242.1" r="0.42"/><circle cx="106.1" cy="186.1" r="0.42"/><circle cx="112.0" cy="231.1" r="0.42"/><circle cx="71.3" cy="250.2" r="0.42"/><circle cx="66.0" cy="251.3" r="0.42"/><circle cx="113.4" cy="219.5" r="0.42"/><circle cx="84.1" cy="212.8" r="0.42"/><circle cx="86.3" cy="243.9" r="0.42"/><circle cx="62.1" cy="246.4" r="0.42"/><circle cx="81.4" cy="243.1" r="0.42"/><circle cx="89.2" cy="204.5" r="0.42"/><circle cx="66.4" cy="232.7" r="0.42"/><circle cx="76.9" cy="220.8" r="0.42"/></g>
<g fill="#777"><circle cx="93.4" cy="244.2" r="0.42"/><circle cx="88.9" cy="204.1" r="0.42"/><circle cx="87.8" cy="185.8" r="0.42"/><circle cx="82.7" cy="207.3" r="0.42"/><circle cx="77.5" cy="199.3" r="0.42"/><circle cx="87.1" cy="203.2" r="0.42"/><circle cx="122.1" cy="189.4" r="0.42"/><circle cx="118.2" cy="207.3" r="0.42"/><circle cx="102.9" cy="242.6" r="0.42"/><circle cx="117.3" cy="178.5" r="0.42"/><circle cx="109.0" cy="234.3" r="0.42"/><circle cx="89.2" cy="247.1" r="0.42"/><circle cx="108.2" cy="233.3" r="0.42"/><circle cx="94.0" cy="171.3" r="0.42"/><circle cx="109.6" cy="176.3" r="0.42"/><circle cx="109.6" cy="186.3" r="0.42"/><circle cx="104.8" cy="249.5" r="0.42"/><circle cx="120.3" cy="207.9" r="0.42"/><circle cx="122.1" cy="191.5" r="0.42"/><circle cx="89.4" cy="186.6" r="0.42"/><circle cx="117.2" cy="192.7" r="0.42"/><circle cx="115.4" cy="202.8" r="0.42"/><circle cx="86.2" cy="205.1" r="0.42"/><circle cx="87.8" cy="204.4" r="0.42"/><circle cx="123.4" cy="209.7" r="0.42"/><circle cx="88.9" cy="182.6" r="0.42"/><circle cx="111.3" cy="188.3" r="0.42"/><circle cx="83.3" cy="179.0" r="0.42"/><circle cx="92.2" cy="184.1" r="0.42"/><circle cx="83.3" cy="201.3" r="0.42"/><circle cx="90.7" cy="191.4" r="0.42"/><circle cx="90.6" cy="189.4" r="0.42"/><circle cx="125.1" cy="185.1" r="0.42"/><circle cx="101.8" cy="184.6" r="0.42"/><circle cx="101.8" cy="178.2" r="0.42"/><circle cx="94.1" cy="180.2" r="0.42"/><circle cx="64.9" cy="192.5" r="0.42"/><circle cx="117.2" cy="197.4" r="0.42"/><circle cx="88.6" cy="189.0" r="0.42"/><circle cx="78.3" cy="247.0" r="0.42"/><circle cx="70.9" cy="225.1" r="0.42"/><circle cx="67.3" cy="213.1" r="0.42"/><circle cx="73.4" cy="225.6" r="0.42"/><circle cx="88.2" cy="242.3" r="0.42"/><circle cx="81.9" cy="249.5" r="0.42"/><circle cx="68.6" cy="230.0" r="0.42"/><circle cx="60.5" cy="248.7" r="0.42"/><circle cx="75.2" cy="247.5" r="0.42"/><circle cx="58.9" cy="239.7" r="0.42"/><circle cx="86.5" cy="241.5" r="0.42"/><circle cx="62.4" cy="232.7" r="0.42"/><circle cx="59.9" cy="239.2" r="0.42"/><circle cx="52.0" cy="245.9" r="0.42"/><circle cx="49.5" cy="232.3" r="0.42"/><circle cx="76.1" cy="248.4" r="0.42"/><circle cx="66.6" cy="230.0" r="0.42"/><circle cx="56.9" cy="242.6" r="0.42"/><circle cx="66.3" cy="234.2" r="0.42"/><circle cx="78.6" cy="251.1" r="0.42"/><circle cx="55.7" cy="232.0" r="0.42"/><circle cx="70.1" cy="250.6" r="0.42"/><circle cx="51.5" cy="237.0" r="0.42"/><circle cx="64.4" cy="250.8" r="0.42"/><circle cx="68.1" cy="223.9" r="0.42"/><circle cx="56.7" cy="244.1" r="0.42"/><circle cx="70.6" cy="217.0" r="0.42"/><circle cx="63.0" cy="224.7" r="0.42"/><circle cx="67.6" cy="219.3" r="0.42"/><circle cx="62.2" cy="245.8" r="0.42"/><circle cx="53.5" cy="246.7" r="0.42"/><circle cx="69.4" cy="225.6" r="0.42"/><circle cx="61.0" cy="231.4" r="0.42"/><circle cx="65.5" cy="230.6" r="0.42"/><circle cx="57.7" cy="233.0" r="0.42"/><circle cx="55.7" cy="223.1" r="0.42"/><circle cx="50.7" cy="236.0" r="0.42"/><circle cx="59.5" cy="226.2" r="0.42"/><circle cx="58.5" cy="241.9" r="0.42"/><circle cx="65.5" cy="225.1" r="0.42"/><circle cx="65.0" cy="236.5" r="0.42"/><circle cx="65.6" cy="218.8" r="0.42"/><circle cx="72.5" cy="225.2" r="0.42"/><circle cx="47.9" cy="235.4" r="0.42"/><circle cx="77.1" cy="220.8" r="0.42"/><circle cx="55.1" cy="228.6" r="0.42"/><circle cx="54.7" cy="239.8" r="0.42"/><circle cx="57.9" cy="228.8" r="0.42"/><circle cx="70.3" cy="226.3" r="0.42"/><circle cx="53.9" cy="217.6" r="0.42"/><circle cx="50.4" cy="225.9" r="0.42"/><circle cx="52.7" cy="243.5" r="0.42"/><circle cx="52.1" cy="232.5" r="0.42"/><circle cx="79.9" cy="207.8" r="0.42"/><circle cx="71.3" cy="225.2" r="0.42"/><circle cx="63.1" cy="220.9" r="0.42"/><circle cx="56.2" cy="249.9" r="0.42"/><circle cx="57.3" cy="217.1" r="0.42"/><circle cx="62.1" cy="235.7" r="0.42"/><circle cx="65.2" cy="235.1" r="0.42"/><circle cx="54.8" cy="235.3" r="0.42"/><circle cx="65.6" cy="248.9" r="0.42"/><circle cx="58.3" cy="235.4" r="0.42"/><circle cx="59.9" cy="228.6" r="0.42"/><circle cx="65.4" cy="225.6" r="0.42"/><circle cx="58.7" cy="226.5" r="0.42"/><circle cx="63.6" cy="230.5" r="0.42"/><circle cx="52.4" cy="236.7" r="0.42"/><circle cx="52.6" cy="229.8" r="0.42"/><circle cx="63.1" cy="215.2" r="0.42"/><circle cx="64.4" cy="231.8" r="0.42"/><circle cx="62.3" cy="226.2" r="0.42"/><circle cx="63.3" cy="230.5" r="0.42"/><circle cx="66.9" cy="224.0" r="0.42"/><circle cx="64.6" cy="231.6" r="0.42"/><circle cx="71.5" cy="219.4" r="0.42"/><circle cx="59.5" cy="233.4" r="0.42"/><circle cx="68.1" cy="220.9" r="0.42"/><circle cx="50.4" cy="245.4" r="0.42"/><circle cx="64.5" cy="210.7" r="0.42"/><circle cx="69.8" cy="221.1" r="0.42"/><circle cx="53.0" cy="229.7" r="0.42"/><circle cx="68.7" cy="253.5" r="0.42"/><circle cx="63.6" cy="223.4" r="0.42"/><circle cx="59.1" cy="240.3" r="0.42"/><circle cx="69.6" cy="226.0" r="0.42"/><circle cx="49.6" cy="241.8" r="0.42"/><circle cx="49.0" cy="232.3" r="0.42"/><circle cx="60.0" cy="227.4" r="0.42"/><circle cx="60.0" cy="235.9" r="0.42"/><circle cx="73.6" cy="208.4" r="0.42"/><circle cx="72.8" cy="253.0" r="0.42"/><circle cx="60.6" cy="235.6" r="0.42"/><circle cx="64.4" cy="235.5" r="0.42"/><circle cx="68.0" cy="249.4" r="0.42"/><circle cx="65.7" cy="250.7" r="0.42"/><circle cx="56.3" cy="234.1" r="0.42"/><circle cx="76.5" cy="220.9" r="0.42"/><circle cx="56.8" cy="239.4" r="0.42"/><circle cx="59.4" cy="220.8" r="0.42"/></g>
<ellipse cx="101" cy="219" rx="9" ry="16" fill="url(#shd)" opacity="0.4"/>
<ellipse cx="80" cy="236" rx="8" ry="6" fill="url(#shd)" opacity="0.15"/>
<ellipse cx="106" cy="220" rx="2.5" ry="11" fill="url(#shd)" opacity="0.75"/>
<ellipse cx="94" cy="226" rx="2.5" ry="9" fill="url(#shd)" opacity="0.6"/>
<path d="M71.3,248.4 L69.3,248.7 L67.3,248.6 L65.3,248.1 L63.8,247.2 L62.4,245.9 L61.7,244.4 L61.4,242.9 L61.5,241.9 L61.9,240.9 L62.4,239.9 L63.1,238.9 L66.8,234.9 L70.4,229.9 L73.0,226.9 L74.8,225.3 L76.8,223.8 L81.8,220.8 L83.1,219.9 L84.2,218.9 L85.0,217.9 L85.8,216.4 L86.3,215.1 L89.6,205.4 L90.0,202.9 L90.0,198.4 L90.2,196.4 L90.6,194.9 L91.6,192.9 L93.3,191.1 L95.3,189.6 L97.3,188.7 L100.3,187.7 L103.3,187.4 L105.8,187.5 L108.3,188.2 L110.3,189.2 L112.3,190.9 L113.5,192.4 L114.6,194.4 L115.1,196.4 L115.3,197.9 L115.4,199.9 L114.7,210.9 L114.2,214.9 L113.6,217.9 L113.0,220.4 L112.1,223.4 L111.1,226.4 L110.0,228.9 L108.4,231.9 L106.9,234.4 L104.7,237.4 L102.3,239.8 L99.8,241.7 L97.8,242.7 L96.3,243.1 L95.3,243.2 L93.3,243.1 L91.3,242.4 L87.8,240.3 L86.8,240.1 L85.8,240.1 L84.3,240.7 L82.8,241.5 L74.8,247.0 L73.3,247.7 L71.3,248.4Z" fill="#000" fill-opacity="0.045" stroke="#444" stroke-width="0.4"/>
<path d="M71.3,246.5 L69.8,246.8 L68.3,246.8 L66.8,246.4 L65.7,245.9 L64.6,244.9 L64.1,243.9 L63.9,242.9 L64.1,241.4 L64.9,239.9 L68.3,235.9 L72.0,230.4 L74.2,227.9 L75.8,226.5 L77.8,225.0 L83.8,221.8 L84.9,220.9 L86.1,219.4 L87.3,216.7 L91.3,204.9 L91.7,202.4 L91.7,198.4 L91.9,196.9 L92.3,195.4 L93.0,193.9 L94.3,192.4 L95.3,191.5 L96.3,190.9 L98.8,189.7 L100.8,189.2 L103.3,189.0 L105.3,189.1 L107.3,189.6 L109.3,190.6 L110.9,191.9 L112.1,193.4 L112.9,194.9 L113.5,196.9 L113.7,198.4 L113.7,199.9 L113.1,211.9 L112.7,215.4 L112.2,217.9 L111.6,220.4 L110.7,223.4 L109.5,226.4 L108.6,228.4 L107.5,230.4 L106.0,232.9 L104.3,235.1 L102.3,237.3 L100.3,238.8 L98.3,239.9 L97.3,240.3 L95.8,240.5 L94.8,240.5 L93.8,240.4 L92.8,240.0 L91.8,239.6 L89.3,238.0 L88.3,237.5 L87.3,237.3 L86.3,237.5 L85.3,237.9 L84.3,238.4 L74.3,245.1 L72.8,245.9 L71.3,246.5Z" fill="#000" fill-opacity="0.045" stroke="#444" stroke-width="0.4"/>
<path d="M70.3,244.5 L68.8,244.4 L67.6,243.9 L67.1,243.4 L66.9,242.9 L66.8,241.9 L67.4,240.4 L69.8,237.1 L72.1,232.9 L73.1,231.4 L75.3,228.8 L77.8,226.8 L80.3,225.4 L84.0,223.9 L85.3,223.1 L86.3,222.0 L87.3,220.3 L88.3,217.7 L90.1,211.9 L92.8,204.5 L93.2,202.4 L93.3,198.4 L93.5,196.9 L94.0,195.4 L94.8,194.0 L96.3,192.5 L97.8,191.6 L99.3,190.9 L101.3,190.5 L103.3,190.3 L105.3,190.5 L107.3,191.2 L108.8,192.1 L109.8,193.0 L110.9,194.4 L111.6,195.9 L112.1,197.9 L112.2,199.9 L112.0,204.4 L112.0,209.4 L111.7,213.4 L111.4,215.9 L110.9,218.4 L110.1,221.4 L109.4,223.4 L108.6,225.4 L107.5,227.9 L106.0,230.4 L104.8,232.2 L102.8,234.6 L100.8,236.4 L98.8,237.6 L96.8,238.2 L95.3,238.3 L93.8,238.0 L92.3,237.3 L89.8,235.5 L88.8,235.0 L87.8,234.7 L86.8,234.9 L85.3,235.6 L80.8,238.9 L77.3,241.1 L72.8,243.6 L71.3,244.2 L70.3,244.5Z" fill="#000" fill-opacity="0.045" stroke="#444" stroke-width="0.4"/>
<path d="M74.3,239.9 L73.1,239.9 L72.8,239.8 L72.4,239.4 L72.2,238.9 L72.2,237.9 L72.6,236.4 L73.2,234.4 L74.0,232.9 L75.0,231.4 L76.9,229.4 L78.2,228.4 L79.3,227.8 L81.3,227.0 L84.8,226.2 L85.8,225.7 L86.8,224.7 L87.6,223.4 L88.8,220.1 L91.0,212.4 L94.1,204.4 L94.5,202.4 L94.7,198.9 L94.9,197.4 L95.3,195.9 L95.9,194.9 L96.8,193.9 L98.3,192.8 L99.8,192.1 L101.3,191.7 L103.3,191.6 L104.8,191.8 L106.3,192.2 L107.8,193.1 L108.8,194.0 L109.8,195.3 L110.3,196.4 L110.7,197.9 L110.8,199.9 L110.7,204.4 L110.8,209.4 L110.7,212.9 L110.1,217.4 L109.4,219.9 L108.7,222.4 L107.0,226.4 L105.9,228.4 L104.6,230.4 L102.8,232.6 L100.8,234.5 L98.8,235.7 L97.8,236.0 L96.8,236.2 L95.3,236.2 L93.8,235.8 L92.3,234.9 L89.8,232.8 L88.8,232.1 L87.8,231.8 L86.8,231.9 L85.8,232.5 L82.2,235.9 L79.8,237.7 L78.3,238.6 L76.8,239.2 L74.3,239.9Z" fill="#000" fill-opacity="0.045" stroke="#444" stroke-width="0.4"/>
<path d="M98.3,234.1 L96.8,234.4 L95.3,234.2 L93.8,233.6 L92.2,232.4 L90.5,230.4 L89.3,228.4 L89.0,226.9 L89.0,224.9 L90.1,219.4 L91.6,213.9 L92.6,210.9 L94.8,205.9 L95.6,203.9 L95.9,201.9 L96.2,198.4 L96.4,197.4 L96.7,196.4 L97.8,194.9 L99.3,193.7 L100.3,193.3 L101.3,193.0 L102.8,192.9 L103.8,192.9 L104.8,193.1 L105.8,193.5 L107.2,194.4 L107.8,195.0 L108.5,195.9 L109.1,197.4 L109.4,199.4 L109.4,203.9 L109.8,209.9 L109.7,212.4 L109.5,214.9 L108.9,217.9 L108.0,221.4 L106.6,224.9 L105.3,227.3 L103.6,229.9 L101.8,231.8 L100.3,233.1 L99.3,233.6 L98.3,234.1Z" fill="#000" fill-opacity="0.045" stroke="#444" stroke-width="0.4"/>
<path d="M78.3,236.0 L77.3,236.2 L76.8,236.2 L76.2,235.9 L75.9,235.4 L75.9,234.4 L76.5,232.9 L77.6,231.4 L78.3,230.8 L79.3,230.2 L80.8,229.7 L81.3,229.7 L82.1,229.9 L82.6,230.4 L82.7,230.9 L82.5,231.9 L82.0,232.9 L81.3,233.9 L80.3,234.8 L79.3,235.5 L78.3,236.0Z" fill="#000" fill-opacity="0.045" stroke="#444" stroke-width="0.4"/>
<path d="M97.8,232.5 L96.8,232.6 L95.8,232.5 L94.3,231.8 L92.8,230.5 L91.7,228.9 L91.1,227.4 L90.7,225.4 L90.7,223.4 L91.0,220.4 L92.0,215.9 L93.1,212.4 L94.1,209.9 L96.5,204.9 L97.1,203.4 L97.4,201.9 L97.7,198.4 L98.3,196.9 L99.0,195.9 L100.3,194.9 L101.8,194.4 L102.8,194.3 L103.8,194.4 L105.3,194.9 L106.3,195.6 L107.2,196.9 L107.8,198.4 L108.0,199.9 L108.1,203.9 L108.7,210.4 L108.7,213.4 L108.4,215.9 L107.9,218.4 L107.0,221.4 L105.7,224.4 L104.3,227.0 L102.8,229.0 L101.3,230.6 L99.8,231.7 L98.8,232.2 L97.8,232.5Z" fill="#000" fill-opacity="0.045" stroke="#444" stroke-width="0.4"/>
<path d="M98.8,230.5 L97.3,230.8 L95.8,230.5 L94.8,230.0 L94.3,229.6 L93.3,228.4 L92.6,226.9 L92.0,224.9 L91.9,222.4 L92.1,219.9 L92.7,216.9 L93.7,213.4 L95.2,209.9 L98.0,204.9 L98.7,203.4 L99.1,201.9 L99.6,198.9 L100.0,197.9 L100.8,196.9 L101.3,196.5 L102.3,196.2 L103.3,196.2 L103.9,196.4 L104.8,196.9 L105.6,197.9 L106.0,198.9 L106.5,203.4 L107.4,207.9 L107.6,209.9 L107.7,212.4 L107.5,215.4 L107.0,217.9 L106.3,220.4 L105.4,222.9 L104.3,225.0 L103.1,226.9 L101.8,228.4 L100.3,229.7 L98.8,230.5Z" fill="#000" fill-opacity="0.045" stroke="#444" stroke-width="0.4"/>
<path d="M97.8,228.9 L96.8,228.9 L96.3,228.7 L95.3,228.1 L94.3,226.9 L93.8,225.9 L93.3,224.4 L93.1,222.4 L93.2,220.4 L93.5,217.9 L94.1,215.4 L94.7,213.4 L95.6,211.4 L96.8,209.1 L98.3,206.9 L100.8,203.8 L101.8,202.8 L102.3,202.5 L102.8,202.4 L103.3,202.6 L103.8,203.2 L104.8,204.9 L105.7,206.9 L106.3,208.9 L106.6,210.9 L106.7,212.9 L106.6,214.9 L106.3,216.9 L105.7,219.4 L105.0,221.4 L104.0,223.4 L102.8,225.4 L101.5,226.9 L100.3,228.0 L98.8,228.7 L97.8,228.9Z" fill="#000" fill-opacity="0.045" stroke="#444" stroke-width="0.4"/>
<path d="M98.3,227.0 L97.3,226.9 L96.3,226.5 L95.3,225.4 L94.8,224.4 L94.4,222.9 L94.3,221.4 L94.3,219.4 L94.6,217.4 L95.1,215.4 L95.8,213.4 L96.8,211.4 L97.8,209.7 L98.8,208.5 L100.3,207.1 L101.3,206.6 L102.3,206.5 L103.3,206.9 L103.8,207.3 L104.5,208.4 L105.1,209.9 L105.4,211.4 L105.6,213.4 L105.5,214.9 L105.3,216.9 L104.8,218.8 L104.3,220.4 L103.3,222.4 L102.4,223.9 L101.3,225.3 L100.3,226.1 L99.3,226.7 L98.3,227.0Z" fill="#000" fill-opacity="0.045" stroke="#444" stroke-width="0.4"/>
<path d="M99.3,224.6 L98.3,224.8 L97.8,224.7 L97.3,224.5 L96.8,224.1 L96.3,223.4 L95.8,222.1 L95.6,220.9 L95.6,219.4 L95.7,217.9 L96.2,215.9 L96.7,214.4 L97.3,212.9 L98.3,211.4 L99.3,210.2 L100.3,209.5 L101.3,209.1 L101.8,209.1 L102.6,209.4 L103.1,209.9 L103.5,210.4 L103.9,211.4 L104.2,212.4 L104.4,213.9 L104.2,216.4 L103.9,217.9 L103.4,219.4 L102.3,221.7 L101.5,222.9 L100.8,223.6 L99.8,224.4 L99.3,224.6Z" fill="#000" fill-opacity="0.045" stroke="#444" stroke-width="0.4"/>
<path d="M99.3,221.9 L98.8,222.0 L98.3,221.8 L97.8,221.3 L97.6,220.9 L97.2,219.4 L97.3,217.4 L97.8,215.4 L98.8,213.6 L99.3,213.0 L100.0,212.4 L100.8,212.1 L101.3,212.1 L101.8,212.4 L102.2,212.9 L102.6,213.9 L102.8,215.4 L102.6,216.9 L102.2,218.4 L101.3,220.3 L100.3,221.4 L99.3,221.9Z" fill="#000" fill-opacity="0.045" stroke="#444" stroke-width="0.4"/>
</g>
<rect x="44.80" y="162.40" width="91.40" height="91.60" fill="none" stroke="#555" stroke-width="0.8"/>
<line x1="86.20" y1="162.40" x2="86.20" y2="254.00" stroke="#444" stroke-width="0.9"/>
<line x1="44.80" y1="207.70" x2="136.20" y2="207.70" stroke="#444" stroke-width="0.9"/>
<text x="46.60" y="169.00" font-size="5.9" fill="#1a1a1a">0.16</text>
<text x="134.60" y="169.00" font-size="5.9" text-anchor="end" fill="#1a1a1a">19.14</text>
<text x="46.60" y="251.60" font-size="5.9" fill="#1a1a1a">14.23</text>
<text x="134.60" y="251.60" font-size="5.9" text-anchor="end" fill="#1a1a1a">65.75</text>
<text x="41.30" y="173.30" font-size="6.0" text-anchor="end" fill="#1a1a1a">10<tspan font-size="3.8" dy="-2.4">5</tspan></text>
<line x1="43.20" y1="171.10" x2="44.80" y2="171.10" stroke="#444" stroke-width="0.7"/>
<text x="41.30" y="193.91" font-size="6.0" text-anchor="end" fill="#1a1a1a">10<tspan font-size="3.8" dy="-2.4">4</tspan></text>
<line x1="43.20" y1="191.71" x2="44.80" y2="191.71" stroke="#444" stroke-width="0.7"/>
<text x="41.30" y="214.52" font-size="6.0" text-anchor="end" fill="#1a1a1a">10<tspan font-size="3.8" dy="-2.4">3</tspan></text>
<line x1="43.20" y1="212.32" x2="44.80" y2="212.32" stroke="#444" stroke-width="0.7"/>
<text x="41.30" y="236.05" font-size="6.0" text-anchor="end" fill="#1a1a1a">10<tspan font-size="3.8" dy="-2.4">2</tspan></text>
<line x1="43.20" y1="233.85" x2="44.80" y2="233.85" stroke="#444" stroke-width="0.7"/>
<text x="41.30" y="245.67" font-size="6.0" text-anchor="end" fill="#1a1a1a">0</text>
<text x="63.54" y="265.20" font-size="6.0" text-anchor="middle" fill="#1a1a1a">10<tspan font-size="3.8" dy="-2.4">2</tspan></text>
<line x1="63.54" y1="254.00" x2="63.54" y2="255.60" stroke="#444" stroke-width="0.7"/>
<text x="85.02" y="265.20" font-size="6.0" text-anchor="middle" fill="#1a1a1a">10<tspan font-size="3.8" dy="-2.4">3</tspan></text>
<line x1="85.02" y1="254.00" x2="85.02" y2="255.60" stroke="#444" stroke-width="0.7"/>
<text x="106.22" y="265.20" font-size="6.0" text-anchor="middle" fill="#1a1a1a">10<tspan font-size="3.8" dy="-2.4">4</tspan></text>
<line x1="106.22" y1="254.00" x2="106.22" y2="255.60" stroke="#444" stroke-width="0.7"/>
<text x="126.69" y="265.20" font-size="6.0" text-anchor="middle" fill="#1a1a1a">10<tspan font-size="3.8" dy="-2.4">5</tspan></text>
<line x1="126.69" y1="254.00" x2="126.69" y2="255.60" stroke="#444" stroke-width="0.7"/>
<text x="55.04" y="265.20" font-size="6.0" text-anchor="middle" fill="#1a1a1a">0</text>
<clipPath id="cp2"><rect x="160.60" y="162.20" width="91.40" height="91.50"/></clipPath>
<g clip-path="url(#cp2)">
<g fill="#777"><circle cx="216.0" cy="244.7" r="0.42"/><circle cx="221.0" cy="236.6" r="0.42"/><circle cx="197.1" cy="248.0" r="0.42"/><circle cx="216.1" cy="245.3" r="0.42"/><circle cx="217.6" cy="241.1" r="0.42"/><circle cx="222.5" cy="241.3" r="0.42"/><circle cx="180.1" cy="244.7" r="0.42"/><circle cx="215.2" cy="247.1" r="0.42"/><circle cx="210.7" cy="250.6" r="0.42"/><circle cx="190.0" cy="249.6" r="0.42"/><circle cx="179.4" cy="236.0" r="0.42"/><circle cx="226.3" cy="196.7" r="0.42"/><circle cx="228.3" cy="202.3" r="0.42"/><circle cx="201.6" cy="192.9" r="0.42"/><circle cx="209.8" cy="248.4" r="0.42"/><circle cx="206.9" cy="249.1" r="0.42"/><circle cx="229.2" cy="210.1" r="0.42"/><circle cx="185.1" cy="249.3" r="0.42"/><circle cx="216.3" cy="244.3" r="0.42"/><circle cx="196.7" cy="215.7" r="0.42"/><circle cx="195.3" cy="250.0" r="0.42"/><circle cx="223.9" cy="231.5" r="0.42"/><circle cx="189.7" cy="212.8" r="0.42"/><circle cx="196.2" cy="209.3" r="0.42"/><circle cx="204.8" cy="189.1" r="0.42"/><circle cx="211.0" cy="250.3" r="0.42"/><circle cx="215.9" cy="186.6" r="0.42"/><circle cx="212.3" cy="250.0" r="0.42"/><circle cx="200.5" cy="250.3" r="0.42"/><circle cx="202.3" cy="251.1" r="0.42"/><circle cx="195.4" cy="207.6" r="0.42"/><circle cx="190.4" cy="252.9" r="0.42"/><circle cx="205.9" cy="192.8" r="0.42"/><circle cx="215.6" cy="245.9" r="0.42"/><circle cx="200.8" cy="246.6" r="0.42"/><circle cx="192.6" cy="253.4" r="0.42"/><circle cx="221.1" cy="192.0" r="0.42"/><circle cx="192.5" cy="216.6" r="0.42"/><circle cx="215.8" cy="189.8" r="0.42"/><circle cx="211.8" cy="249.2" r="0.42"/><circle cx="219.1" cy="238.3" r="0.42"/><circle cx="224.3" cy="229.3" r="0.42"/><circle cx="202.5" cy="191.2" r="0.42"/><circle cx="213.8" cy="248.8" r="0.42"/><circle cx="215.8" cy="247.7" r="0.42"/><circle cx="203.5" cy="247.0" r="0.42"/><circle cx="203.3" cy="190.3" r="0.42"/><circle cx="203.0" cy="246.9" r="0.42"/><circle cx="229.3" cy="209.6" r="0.42"/><circle cx="200.1" cy="199.7" r="0.42"/><circle cx="196.9" cy="251.5" r="0.42"/><circle cx="218.4" cy="238.0" r="0.42"/><circle cx="188.9" cy="248.9" r="0.42"/><circle cx="175.0" cy="229.0" r="0.42"/><circle cx="222.7" cy="235.9" r="0.42"/><circle cx="182.8" cy="243.5" r="0.42"/><circle cx="209.5" cy="192.2" r="0.42"/><circle cx="198.6" cy="199.9" r="0.42"/><circle cx="220.6" cy="194.3" r="0.42"/><circle cx="215.7" cy="248.7" r="0.42"/><circle cx="196.6" cy="201.5" r="0.42"/><circle cx="219.4" cy="246.6" r="0.42"/><circle cx="217.8" cy="246.4" r="0.42"/><circle cx="181.4" cy="247.4" r="0.42"/><circle cx="198.5" cy="250.6" r="0.42"/><circle cx="178.2" cy="234.2" r="0.42"/><circle cx="215.0" cy="247.3" r="0.42"/><circle cx="217.9" cy="241.2" r="0.42"/><circle cx="193.7" cy="249.1" r="0.42"/><circle cx="214.3" cy="246.3" r="0.42"/><circle cx="203.2" cy="250.6" r="0.42"/><circle cx="227.9" cy="195.6" r="0.42"/><circle cx="230.4" cy="208.3" r="0.42"/><circle cx="213.4" cy="246.6" r="0.42"/><circle cx="178.5" cy="228.8" r="0.42"/><circle cx="219.4" cy="239.1" r="0.42"/><circle cx="201.9" cy="194.6" r="0.42"/><circle cx="222.7" cy="234.6" r="0.42"/><circle cx="222.0" cy="195.1" r="0.42"/><circle cx="178.8" cy="243.5" r="0.42"/><circle cx="222.0" cy="191.6" r="0.42"/><circle cx="182.9" cy="245.7" r="0.42"/><circle cx="217.5" cy="248.3" r="0.42"/><circle cx="201.2" cy="246.2" r="0.42"/><circle cx="228.4" cy="214.3" r="0.42"/><circle cx="227.2" cy="195.0" r="0.42"/><circle cx="229.8" cy="208.1" r="0.42"/><circle cx="226.0" cy="222.4" r="0.42"/><circle cx="216.7" cy="246.8" r="0.42"/><circle cx="209.5" cy="249.8" r="0.42"/><circle cx="180.0" cy="240.9" r="0.42"/><circle cx="220.2" cy="241.5" r="0.42"/><circle cx="200.3" cy="247.8" r="0.42"/><circle cx="218.3" cy="190.8" r="0.42"/><circle cx="200.8" cy="249.2" r="0.42"/><circle cx="216.6" cy="191.1" r="0.42"/><circle cx="228.5" cy="201.6" r="0.42"/><circle cx="226.3" cy="216.6" r="0.42"/><circle cx="216.4" cy="244.0" r="0.42"/><circle cx="197.6" cy="197.2" r="0.42"/><circle cx="226.2" cy="197.4" r="0.42"/><circle cx="211.6" cy="190.8" r="0.42"/><circle cx="190.7" cy="216.9" r="0.42"/><circle cx="196.8" cy="201.8" r="0.42"/><circle cx="185.8" cy="250.7" r="0.42"/><circle cx="225.1" cy="194.3" r="0.42"/><circle cx="195.9" cy="206.2" r="0.42"/><circle cx="186.1" cy="214.1" r="0.42"/><circle cx="224.6" cy="232.8" r="0.42"/><circle cx="194.4" cy="209.5" r="0.42"/><circle cx="210.5" cy="190.4" r="0.42"/><circle cx="222.4" cy="240.4" r="0.42"/><circle cx="202.2" cy="246.5" r="0.42"/><circle cx="195.9" cy="208.3" r="0.42"/><circle cx="205.3" cy="191.4" r="0.42"/><circle cx="228.7" cy="203.1" r="0.42"/><circle cx="231.1" cy="204.4" r="0.42"/><circle cx="195.1" cy="217.2" r="0.42"/><circle cx="218.6" cy="244.2" r="0.42"/><circle cx="200.4" cy="247.5" r="0.42"/><circle cx="212.5" cy="188.8" r="0.42"/><circle cx="207.1" cy="190.9" r="0.42"/><circle cx="195.3" cy="203.2" r="0.42"/><circle cx="207.6" cy="187.6" r="0.42"/><circle cx="175.9" cy="234.8" r="0.42"/><circle cx="219.9" cy="192.6" r="0.42"/><circle cx="212.7" cy="187.9" r="0.42"/><circle cx="199.8" cy="200.8" r="0.42"/><circle cx="190.9" cy="252.8" r="0.42"/><circle cx="207.3" cy="188.6" r="0.42"/><circle cx="197.8" cy="202.6" r="0.42"/><circle cx="228.8" cy="211.4" r="0.42"/><circle cx="210.2" cy="249.1" r="0.42"/><circle cx="196.2" cy="210.8" r="0.42"/><circle cx="194.8" cy="210.8" r="0.42"/><circle cx="184.3" cy="217.5" r="0.42"/><circle cx="223.6" cy="231.8" r="0.42"/><circle cx="176.9" cy="235.7" r="0.42"/><circle cx="221.3" cy="242.0" r="0.42"/><circle cx="177.1" cy="235.7" r="0.42"/></g>
<g fill="#888"><circle cx="223.2" cy="187.4" r="0.42"/><circle cx="201.8" cy="186.9" r="0.42"/><circle cx="189.9" cy="211.3" r="0.42"/><circle cx="201.5" cy="193.3" r="0.42"/><circle cx="197.5" cy="205.6" r="0.42"/><circle cx="227.0" cy="221.9" r="0.42"/><circle cx="222.5" cy="178.1" r="0.42"/><circle cx="244.9" cy="217.3" r="0.42"/><circle cx="196.5" cy="205.6" r="0.42"/><circle cx="196.8" cy="216.9" r="0.42"/><circle cx="221.5" cy="170.4" r="0.42"/><circle cx="208.4" cy="186.0" r="0.42"/><circle cx="203.2" cy="251.0" r="0.42"/><circle cx="221.5" cy="236.3" r="0.42"/><circle cx="198.1" cy="196.1" r="0.42"/><circle cx="223.8" cy="232.5" r="0.42"/><circle cx="209.0" cy="190.9" r="0.42"/><circle cx="202.8" cy="253.4" r="0.42"/><circle cx="222.3" cy="246.6" r="0.42"/><circle cx="208.0" cy="187.5" r="0.42"/><circle cx="233.9" cy="247.1" r="0.42"/><circle cx="185.4" cy="219.2" r="0.42"/><circle cx="205.7" cy="182.3" r="0.42"/><circle cx="227.0" cy="226.7" r="0.42"/><circle cx="225.4" cy="196.7" r="0.42"/><circle cx="235.5" cy="208.2" r="0.42"/><circle cx="223.6" cy="196.0" r="0.42"/><circle cx="232.9" cy="213.6" r="0.42"/><circle cx="242.6" cy="205.4" r="0.42"/><circle cx="196.5" cy="211.3" r="0.42"/><circle cx="194.4" cy="199.7" r="0.42"/><circle cx="228.6" cy="196.9" r="0.42"/><circle cx="185.5" cy="205.3" r="0.42"/><circle cx="194.8" cy="208.6" r="0.42"/><circle cx="226.2" cy="188.0" r="0.42"/><circle cx="192.6" cy="207.3" r="0.42"/><circle cx="228.1" cy="200.2" r="0.42"/><circle cx="200.9" cy="182.3" r="0.42"/><circle cx="196.9" cy="216.1" r="0.42"/><circle cx="227.4" cy="209.4" r="0.42"/><circle cx="199.4" cy="199.9" r="0.42"/><circle cx="216.3" cy="182.2" r="0.42"/><circle cx="172.9" cy="241.3" r="0.42"/><circle cx="196.3" cy="249.0" r="0.42"/><circle cx="190.1" cy="215.8" r="0.42"/><circle cx="168.6" cy="253.4" r="0.42"/><circle cx="198.1" cy="211.8" r="0.42"/><circle cx="170.8" cy="235.1" r="0.42"/><circle cx="177.8" cy="222.5" r="0.42"/><circle cx="177.7" cy="235.9" r="0.42"/><circle cx="201.3" cy="246.6" r="0.42"/><circle cx="172.5" cy="232.7" r="0.42"/><circle cx="183.0" cy="245.4" r="0.42"/><circle cx="180.8" cy="209.3" r="0.42"/><circle cx="180.5" cy="210.9" r="0.42"/><circle cx="176.4" cy="248.1" r="0.42"/><circle cx="205.2" cy="249.7" r="0.42"/><circle cx="186.2" cy="250.7" r="0.42"/><circle cx="197.0" cy="214.0" r="0.42"/><circle cx="216.1" cy="247.2" r="0.42"/><circle cx="231.0" cy="241.6" r="0.42"/><circle cx="217.4" cy="241.3" r="0.42"/><circle cx="204.7" cy="251.6" r="0.42"/><circle cx="205.2" cy="249.1" r="0.42"/><circle cx="202.0" cy="248.8" r="0.42"/><circle cx="203.2" cy="252.9" r="0.42"/><circle cx="220.3" cy="239.9" r="0.42"/><circle cx="210.7" cy="250.6" r="0.42"/><circle cx="196.6" cy="249.1" r="0.42"/><circle cx="203.2" cy="250.1" r="0.42"/><circle cx="227.9" cy="240.5" r="0.42"/><circle cx="217.2" cy="244.3" r="0.42"/><circle cx="177.6" cy="207.5" r="0.42"/><circle cx="170.8" cy="212.0" r="0.42"/><circle cx="168.6" cy="241.3" r="0.42"/><circle cx="169.4" cy="227.4" r="0.42"/><circle cx="182.2" cy="244.2" r="0.42"/><circle cx="174.5" cy="248.3" r="0.42"/><circle cx="166.0" cy="224.1" r="0.42"/><circle cx="167.9" cy="227.3" r="0.42"/><circle cx="171.9" cy="218.8" r="0.42"/><circle cx="169.7" cy="230.3" r="0.42"/><circle cx="165.4" cy="232.0" r="0.42"/><circle cx="180.0" cy="217.6" r="0.42"/><circle cx="180.4" cy="223.5" r="0.42"/><circle cx="175.5" cy="231.1" r="0.42"/><circle cx="181.9" cy="215.5" r="0.42"/><circle cx="164.4" cy="229.0" r="0.42"/><circle cx="169.7" cy="222.5" r="0.42"/><circle cx="175.3" cy="234.7" r="0.42"/><circle cx="178.5" cy="238.3" r="0.42"/><circle cx="169.7" cy="236.9" r="0.42"/><circle cx="172.4" cy="229.8" r="0.42"/><circle cx="182.7" cy="220.5" r="0.42"/><circle cx="181.2" cy="250.0" r="0.42"/><circle cx="175.8" cy="233.0" r="0.42"/><circle cx="186.7" cy="211.8" r="0.42"/><circle cx="171.5" cy="234.8" r="0.42"/><circle cx="170.1" cy="239.3" r="0.42"/><circle cx="174.7" cy="241.6" r="0.42"/><circle cx="193.6" cy="211.7" r="0.42"/><circle cx="165.9" cy="225.8" r="0.42"/><circle cx="177.8" cy="242.3" r="0.42"/><circle cx="164.8" cy="242.5" r="0.42"/><circle cx="168.2" cy="237.3" r="0.42"/><circle cx="184.3" cy="247.6" r="0.42"/><circle cx="166.5" cy="220.6" r="0.42"/><circle cx="176.2" cy="225.5" r="0.42"/><circle cx="197.4" cy="247.2" r="0.42"/><circle cx="169.3" cy="235.5" r="0.42"/></g>
<ellipse cx="211" cy="213" rx="8" ry="12" fill="url(#shd)" opacity="0.5"/>
<ellipse cx="192" cy="233" rx="7" ry="8" fill="url(#shd)" opacity="0.05"/>
<ellipse cx="210" cy="213" rx="6" ry="9" fill="url(#shd)" opacity="0.9"/>
<ellipse cx="209" cy="213" rx="3.5" ry="6" fill="url(#shd)" opacity="0.9"/>
<path d="M210.1,247.8 L208.6,247.8 L206.6,247.5 L205.1,247.0 L202.1,245.7 L201.1,245.5 L199.6,245.7 L195.6,247.1 L193.1,247.6 L191.6,247.7 L190.1,247.5 L188.6,247.1 L187.1,246.5 L185.6,245.6 L183.9,244.2 L182.6,242.7 L181.3,240.7 L180.4,238.7 L179.8,236.7 L179.5,234.2 L179.4,232.2 L179.8,229.2 L180.3,227.7 L180.9,226.2 L181.6,224.7 L182.6,223.3 L183.6,222.1 L184.6,221.1 L186.6,219.7 L188.6,218.9 L191.1,218.3 L195.6,218.1 L196.6,217.7 L197.1,217.2 L197.6,216.4 L197.9,215.7 L198.4,213.2 L198.7,210.2 L199.0,204.7 L199.3,202.7 L199.8,201.2 L200.2,200.2 L200.8,199.2 L201.8,197.7 L204.1,195.4 L205.6,194.3 L207.1,193.4 L209.6,192.5 L211.1,192.2 L212.6,192.2 L215.1,192.5 L217.6,193.4 L220.6,195.0 L223.1,196.8 L224.7,198.2 L225.5,199.2 L226.2,200.2 L226.8,201.7 L227.0,202.7 L227.0,203.7 L226.9,205.2 L226.0,208.7 L225.6,210.7 L225.4,218.2 L225.0,222.2 L224.4,225.2 L223.3,228.7 L222.2,231.2 L221.1,233.2 L220.0,234.7 L217.6,237.7 L217.0,238.7 L216.6,239.7 L215.9,243.2 L215.1,244.9 L214.1,246.0 L213.1,246.7 L211.6,247.4 L210.1,247.8Z" fill="#000" fill-opacity="0.045" stroke="#444" stroke-width="0.4"/>
<path d="M210.6,245.8 L209.6,246.0 L208.6,246.0 L207.6,245.8 L206.6,245.5 L205.6,244.9 L204.7,244.2 L203.1,242.1 L202.6,241.7 L202.1,241.7 L201.1,242.0 L196.6,244.5 L194.1,245.3 L192.6,245.5 L191.1,245.5 L189.6,245.2 L188.1,244.7 L186.6,243.9 L185.1,242.6 L183.8,241.2 L182.9,239.7 L182.2,238.2 L181.6,236.2 L181.3,234.2 L181.3,232.2 L181.4,230.7 L181.7,229.2 L182.2,227.7 L183.0,226.2 L183.6,225.2 L184.6,223.9 L185.6,222.9 L186.6,222.1 L188.6,221.1 L190.6,220.5 L192.6,220.4 L197.1,220.7 L198.1,220.4 L198.6,219.9 L199.1,218.7 L199.6,216.2 L200.7,203.7 L201.3,201.7 L202.0,200.2 L203.0,198.7 L204.1,197.5 L205.6,196.3 L207.1,195.3 L208.6,194.6 L210.1,194.2 L211.6,194.0 L213.1,194.0 L215.6,194.4 L217.6,195.1 L220.1,196.4 L222.1,197.8 L223.5,199.2 L224.5,200.7 L225.1,202.2 L225.2,203.2 L225.2,204.2 L225.0,205.7 L224.3,209.2 L224.1,210.7 L224.1,216.7 L223.8,220.2 L223.3,223.2 L222.4,226.7 L220.8,230.2 L219.2,232.7 L217.6,234.5 L214.4,237.2 L213.7,238.2 L213.5,239.2 L213.7,241.7 L213.4,243.2 L212.9,244.2 L212.5,244.7 L211.6,245.3 L210.6,245.8Z" fill="#000" fill-opacity="0.045" stroke="#444" stroke-width="0.4"/>
<path d="M194.6,243.3 L193.1,243.6 L191.6,243.7 L190.1,243.5 L189.1,243.1 L187.6,242.4 L186.7,241.7 L185.6,240.7 L184.9,239.7 L184.0,238.2 L183.4,236.7 L183.0,235.2 L182.9,233.7 L182.9,232.2 L183.0,230.7 L183.4,229.2 L184.1,227.6 L185.3,225.7 L186.6,224.4 L188.1,223.3 L190.1,222.5 L191.6,222.3 L193.6,222.4 L195.6,222.8 L198.1,223.7 L199.1,223.8 L199.6,223.7 L200.1,223.2 L200.5,222.2 L200.6,221.2 L201.1,213.2 L201.8,205.7 L202.1,203.7 L202.5,202.2 L203.2,200.7 L204.1,199.4 L205.2,198.2 L206.6,197.2 L208.1,196.3 L209.6,195.8 L211.6,195.4 L213.6,195.4 L215.1,195.6 L216.6,196.1 L218.6,197.0 L220.1,197.9 L221.1,198.7 L222.5,200.2 L223.3,201.7 L223.6,202.7 L223.8,203.7 L223.7,205.2 L223.1,208.4 L222.9,210.2 L222.9,216.7 L222.6,220.7 L222.2,222.7 L221.5,225.2 L220.8,227.2 L220.1,228.7 L218.6,231.0 L217.1,232.7 L215.1,234.1 L213.1,235.0 L211.6,235.2 L210.1,235.0 L208.6,234.5 L204.6,232.5 L203.6,232.4 L203.1,232.6 L202.6,233.2 L202.1,234.2 L200.5,238.2 L199.2,240.2 L198.2,241.2 L197.1,242.0 L196.0,242.7 L194.6,243.3Z" fill="#000" fill-opacity="0.045" stroke="#444" stroke-width="0.4"/>
<path d="M213.6,232.9 L212.6,233.1 L211.6,233.1 L210.6,233.0 L209.1,232.5 L208.1,232.0 L206.9,231.2 L205.7,230.2 L204.7,229.2 L203.7,227.7 L202.9,225.7 L202.4,223.2 L202.1,219.2 L202.1,214.2 L202.9,206.2 L203.3,203.7 L203.8,202.2 L204.3,201.2 L205.1,200.0 L206.1,199.0 L207.1,198.2 L208.1,197.6 L209.6,197.0 L211.1,196.6 L212.1,196.5 L213.6,196.6 L215.6,196.9 L217.6,197.7 L219.3,198.7 L220.6,199.8 L221.6,201.2 L222.2,202.7 L222.4,204.2 L221.8,210.2 L221.9,215.7 L221.8,218.2 L221.4,221.2 L220.8,223.7 L220.3,225.2 L219.4,227.2 L217.9,229.7 L217.0,230.7 L215.8,231.7 L214.6,232.5 L213.6,232.9Z" fill="#000" fill-opacity="0.045" stroke="#444" stroke-width="0.4"/>
<path d="M193.6,241.7 L192.1,241.9 L190.6,241.8 L189.1,241.2 L187.6,240.3 L186.5,239.2 L185.5,237.7 L184.9,236.2 L184.4,234.2 L184.4,232.2 L184.6,230.7 L185.1,229.2 L185.9,227.7 L187.1,226.2 L188.1,225.3 L189.6,224.5 L191.1,224.1 L192.6,224.1 L194.1,224.3 L195.6,224.9 L196.9,225.7 L198.1,226.7 L199.3,228.2 L199.8,229.2 L200.1,230.7 L200.2,232.2 L199.9,234.2 L199.4,236.2 L198.6,237.8 L197.6,239.2 L196.6,240.2 L195.1,241.2 L193.6,241.7Z" fill="#000" fill-opacity="0.045" stroke="#444" stroke-width="0.4"/>
<path d="M213.1,231.3 L212.1,231.4 L211.1,231.4 L210.1,231.1 L209.1,230.7 L208.1,230.1 L207.1,229.3 L205.8,227.7 L204.6,225.7 L203.8,223.2 L203.2,220.2 L203.0,217.2 L203.2,213.2 L204.0,206.2 L204.3,204.2 L205.0,202.2 L205.6,201.2 L206.4,200.2 L208.1,198.9 L210.1,198.0 L211.1,197.7 L212.6,197.6 L214.1,197.7 L215.6,198.0 L217.2,198.7 L218.8,199.7 L219.8,200.7 L220.6,201.9 L221.1,203.2 L221.2,204.7 L220.7,209.7 L220.9,215.2 L220.8,217.7 L220.5,220.7 L219.9,223.2 L218.7,226.2 L217.1,228.6 L216.1,229.6 L215.1,230.4 L214.1,230.9 L213.1,231.3Z" fill="#000" fill-opacity="0.045" stroke="#444" stroke-width="0.4"/>
<path d="M193.6,239.8 L192.6,240.0 L191.1,240.0 L190.1,239.7 L189.1,239.2 L188.1,238.4 L187.1,237.2 L186.6,236.2 L186.1,234.6 L185.9,233.2 L186.0,231.7 L186.4,230.2 L186.9,229.2 L187.6,228.1 L188.6,227.2 L189.6,226.5 L191.1,226.0 L192.1,225.9 L193.6,226.1 L194.6,226.5 L195.6,227.1 L196.3,227.7 L197.1,228.7 L197.6,229.7 L198.1,231.2 L198.3,232.7 L198.1,234.2 L197.7,235.7 L197.2,236.7 L196.6,237.7 L195.6,238.7 L194.6,239.4 L193.6,239.8Z" fill="#000" fill-opacity="0.045" stroke="#444" stroke-width="0.4"/>
<path d="M212.6,229.7 L211.6,229.8 L210.6,229.6 L209.1,228.9 L207.6,227.7 L206.4,226.2 L205.4,224.2 L204.6,221.7 L204.2,219.2 L204.0,216.2 L204.2,212.7 L205.1,206.2 L205.5,204.2 L206.0,202.7 L207.1,201.1 L208.6,199.8 L209.6,199.3 L210.6,199.0 L212.6,198.7 L214.1,198.8 L215.6,199.1 L217.1,199.9 L218.1,200.6 L219.1,201.7 L219.6,202.7 L219.9,203.7 L220.0,205.2 L219.7,209.7 L220.0,214.7 L219.9,217.2 L219.7,219.7 L219.1,222.2 L218.1,224.8 L217.3,226.2 L216.6,227.2 L215.6,228.3 L214.6,229.0 L213.6,229.5 L212.6,229.7Z" fill="#000" fill-opacity="0.045" stroke="#444" stroke-width="0.4"/>
<path d="M193.1,237.8 L192.1,237.9 L191.1,237.8 L190.1,237.4 L189.6,237.1 L189.1,236.6 L188.4,235.7 L188.0,234.7 L187.8,233.7 L187.8,232.7 L187.9,231.7 L188.6,230.0 L189.1,229.4 L189.9,228.7 L190.6,228.3 L191.6,228.1 L193.1,228.2 L194.1,228.6 L194.6,229.0 L195.6,230.2 L196.1,231.2 L196.3,232.2 L196.3,233.2 L196.2,234.2 L195.6,235.7 L194.6,236.9 L194.1,237.3 L193.1,237.8Z" fill="#000" fill-opacity="0.045" stroke="#444" stroke-width="0.4"/>
<path d="M213.6,227.9 L212.1,228.2 L210.6,228.0 L209.1,227.2 L207.6,225.7 L206.4,223.7 L205.7,221.7 L205.1,219.2 L204.9,216.7 L205.0,214.2 L205.3,211.7 L206.3,205.7 L206.9,203.7 L207.7,202.2 L209.1,200.9 L210.6,200.1 L211.6,199.8 L212.6,199.7 L214.1,199.9 L215.1,200.1 L216.1,200.6 L217.1,201.3 L217.9,202.2 L218.4,203.2 L218.7,204.2 L218.8,205.2 L218.7,209.7 L219.1,216.2 L218.9,218.7 L218.5,220.7 L217.7,223.2 L216.6,225.2 L215.1,226.9 L213.6,227.9Z" fill="#000" fill-opacity="0.045" stroke="#444" stroke-width="0.4"/>
<path d="M192.6,234.3 L192.1,234.4 L191.6,234.4 L191.1,234.0 L190.9,233.7 L190.8,233.2 L190.8,232.7 L191.1,232.0 L191.6,231.6 L192.1,231.6 L192.6,231.7 L193.1,232.3 L193.2,233.2 L193.1,233.7 L192.6,234.3Z" fill="#000" fill-opacity="0.045" stroke="#444" stroke-width="0.4"/>
<path d="M213.1,226.4 L211.6,226.5 L210.6,226.3 L209.1,225.3 L208.1,224.2 L207.2,222.7 L206.5,220.7 L206.1,218.7 L205.9,216.2 L206.0,214.2 L206.3,211.7 L207.4,206.2 L208.0,204.2 L208.9,202.7 L210.1,201.7 L211.2,201.2 L212.6,201.0 L214.1,201.1 L215.5,201.7 L216.6,202.7 L217.2,203.7 L217.5,205.2 L217.6,209.2 L218.1,215.2 L218.1,217.2 L217.9,218.7 L217.5,220.7 L216.9,222.2 L216.1,223.8 L215.1,225.1 L214.1,225.9 L213.1,226.4Z" fill="#000" fill-opacity="0.045" stroke="#444" stroke-width="0.4"/>
<path d="M212.6,224.8 L211.6,224.8 L210.6,224.5 L209.6,223.8 L208.6,222.6 L207.9,221.2 L207.3,219.7 L207.0,218.2 L206.9,216.2 L207.0,214.2 L207.3,212.2 L208.6,206.7 L209.1,205.2 L209.6,204.2 L210.6,203.2 L211.6,202.7 L212.6,202.5 L213.6,202.6 L214.6,203.0 L215.3,203.7 L215.8,204.7 L216.1,206.1 L216.3,209.2 L217.0,213.7 L217.1,215.7 L216.9,218.7 L216.5,220.2 L215.9,221.7 L215.1,223.0 L214.5,223.7 L213.6,224.4 L212.6,224.8Z" fill="#000" fill-opacity="0.045" stroke="#444" stroke-width="0.4"/>
<path d="M212.6,222.8 L211.6,222.8 L211.1,222.7 L210.1,222.0 L209.4,221.2 L208.9,220.2 L208.3,218.7 L208.1,217.2 L208.0,215.7 L208.1,214.2 L208.5,212.2 L209.1,210.4 L210.1,207.8 L211.1,206.0 L211.6,205.5 L212.1,205.2 L212.6,205.1 L213.1,205.3 L213.6,205.7 L214.1,206.7 L215.6,212.5 L215.9,214.2 L216.0,215.7 L215.8,218.2 L215.1,220.3 L214.1,221.8 L213.6,222.3 L212.6,222.8Z" fill="#000" fill-opacity="0.045" stroke="#444" stroke-width="0.4"/>
<path d="M212.6,220.2 L212.1,220.3 L211.6,220.3 L211.1,220.1 L210.6,219.6 L210.1,218.8 L209.8,218.2 L209.6,217.2 L209.5,216.2 L209.6,214.5 L210.1,212.7 L210.6,211.8 L211.1,211.2 L211.6,210.8 L212.1,210.7 L212.6,210.9 L213.1,211.3 L213.6,212.0 L214.1,213.2 L214.5,215.2 L214.5,216.7 L214.1,218.4 L213.6,219.3 L213.1,219.9 L212.6,220.2Z" fill="#000" fill-opacity="0.045" stroke="#444" stroke-width="0.4"/>
</g>
<rect x="160.60" y="162.20" width="91.40" height="91.50" fill="none" stroke="#555" stroke-width="0.8"/>
<line x1="201.40" y1="162.20" x2="201.40" y2="253.70" stroke="#444" stroke-width="0.9"/>
<line x1="160.60" y1="208.80" x2="252.00" y2="208.80" stroke="#444" stroke-width="0.9"/>
<text x="162.40" y="168.80" font-size="5.9" fill="#1a1a1a">0.31</text>
<text x="250.40" y="168.80" font-size="5.9" text-anchor="end" fill="#1a1a1a">18.92</text>
<text x="162.40" y="251.30" font-size="5.9" fill="#1a1a1a">19.42</text>
<text x="250.40" y="251.30" font-size="5.9" text-anchor="end" fill="#1a1a1a">60.43</text>
<text x="157.10" y="173.09" font-size="6.0" text-anchor="end" fill="#1a1a1a">10<tspan font-size="3.8" dy="-2.4">5</tspan></text>
<line x1="159.00" y1="170.89" x2="160.60" y2="170.89" stroke="#444" stroke-width="0.7"/>
<text x="157.10" y="193.68" font-size="6.0" text-anchor="end" fill="#1a1a1a">10<tspan font-size="3.8" dy="-2.4">4</tspan></text>
<line x1="159.00" y1="191.48" x2="160.60" y2="191.48" stroke="#444" stroke-width="0.7"/>
<text x="157.10" y="214.27" font-size="6.0" text-anchor="end" fill="#1a1a1a">10<tspan font-size="3.8" dy="-2.4">3</tspan></text>
<line x1="159.00" y1="212.07" x2="160.60" y2="212.07" stroke="#444" stroke-width="0.7"/>
<text x="157.10" y="235.77" font-size="6.0" text-anchor="end" fill="#1a1a1a">10<tspan font-size="3.8" dy="-2.4">2</tspan></text>
<line x1="159.00" y1="233.57" x2="160.60" y2="233.57" stroke="#444" stroke-width="0.7"/>
<text x="157.10" y="245.38" font-size="6.0" text-anchor="end" fill="#1a1a1a">0</text>
<text x="179.34" y="264.90" font-size="6.0" text-anchor="middle" fill="#1a1a1a">10<tspan font-size="3.8" dy="-2.4">2</tspan></text>
<line x1="179.34" y1="253.70" x2="179.34" y2="255.30" stroke="#444" stroke-width="0.7"/>
<text x="200.82" y="264.90" font-size="6.0" text-anchor="middle" fill="#1a1a1a">10<tspan font-size="3.8" dy="-2.4">3</tspan></text>
<line x1="200.82" y1="253.70" x2="200.82" y2="255.30" stroke="#444" stroke-width="0.7"/>
<text x="222.02" y="264.90" font-size="6.0" text-anchor="middle" fill="#1a1a1a">10<tspan font-size="3.8" dy="-2.4">4</tspan></text>
<line x1="222.02" y1="253.70" x2="222.02" y2="255.30" stroke="#444" stroke-width="0.7"/>
<text x="242.49" y="264.90" font-size="6.0" text-anchor="middle" fill="#1a1a1a">10<tspan font-size="3.8" dy="-2.4">5</tspan></text>
<line x1="242.49" y1="253.70" x2="242.49" y2="255.30" stroke="#444" stroke-width="0.7"/>
<text x="170.84" y="264.90" font-size="6.0" text-anchor="middle" fill="#1a1a1a">0</text>
<clipPath id="cp3"><rect x="274.50" y="162.20" width="90.30" height="91.50"/></clipPath>
<g clip-path="url(#cp3)">
<g fill="#777"><circle cx="340.2" cy="235.6" r="0.42"/><circle cx="340.8" cy="192.9" r="0.42"/><circle cx="313.8" cy="212.4" r="0.42"/><circle cx="345.2" cy="193.9" r="0.42"/><circle cx="293.2" cy="232.3" r="0.42"/><circle cx="318.9" cy="237.0" r="0.42"/><circle cx="323.0" cy="242.2" r="0.42"/><circle cx="317.4" cy="235.0" r="0.42"/><circle cx="346.0" cy="207.2" r="0.42"/><circle cx="321.3" cy="192.0" r="0.42"/><circle cx="326.7" cy="242.5" r="0.42"/><circle cx="346.7" cy="207.8" r="0.42"/><circle cx="330.1" cy="245.8" r="0.42"/><circle cx="319.4" cy="240.1" r="0.42"/><circle cx="338.9" cy="235.0" r="0.42"/><circle cx="338.7" cy="236.9" r="0.42"/><circle cx="344.4" cy="209.2" r="0.42"/><circle cx="294.7" cy="228.1" r="0.42"/><circle cx="317.6" cy="239.3" r="0.42"/><circle cx="329.5" cy="244.2" r="0.42"/><circle cx="307.7" cy="215.5" r="0.42"/><circle cx="337.9" cy="236.8" r="0.42"/><circle cx="347.4" cy="213.7" r="0.42"/><circle cx="336.7" cy="235.7" r="0.42"/><circle cx="313.1" cy="203.6" r="0.42"/><circle cx="322.0" cy="243.7" r="0.42"/><circle cx="310.6" cy="211.9" r="0.42"/><circle cx="345.5" cy="196.4" r="0.42"/><circle cx="335.7" cy="184.6" r="0.42"/><circle cx="325.8" cy="189.1" r="0.42"/><circle cx="310.7" cy="205.5" r="0.42"/><circle cx="347.9" cy="202.5" r="0.42"/><circle cx="332.9" cy="187.6" r="0.42"/><circle cx="315.2" cy="191.6" r="0.42"/><circle cx="311.1" cy="212.6" r="0.42"/><circle cx="315.2" cy="237.4" r="0.42"/><circle cx="334.9" cy="187.2" r="0.42"/><circle cx="318.1" cy="193.0" r="0.42"/><circle cx="337.0" cy="238.9" r="0.42"/><circle cx="317.2" cy="239.5" r="0.42"/><circle cx="316.6" cy="235.9" r="0.42"/><circle cx="342.2" cy="225.5" r="0.42"/><circle cx="292.7" cy="234.5" r="0.42"/><circle cx="328.7" cy="246.7" r="0.42"/><circle cx="343.3" cy="224.4" r="0.42"/><circle cx="338.2" cy="187.5" r="0.42"/><circle cx="338.8" cy="229.7" r="0.42"/><circle cx="318.6" cy="190.1" r="0.42"/><circle cx="333.8" cy="187.7" r="0.42"/><circle cx="350.1" cy="197.6" r="0.42"/><circle cx="335.2" cy="188.1" r="0.42"/><circle cx="305.4" cy="217.3" r="0.42"/><circle cx="345.1" cy="218.8" r="0.42"/><circle cx="310.5" cy="244.8" r="0.42"/><circle cx="300.4" cy="218.7" r="0.42"/><circle cx="294.3" cy="242.5" r="0.42"/><circle cx="292.5" cy="237.6" r="0.42"/><circle cx="342.1" cy="192.9" r="0.42"/><circle cx="311.0" cy="205.8" r="0.42"/><circle cx="330.3" cy="241.3" r="0.42"/><circle cx="329.2" cy="242.1" r="0.42"/><circle cx="340.3" cy="187.3" r="0.42"/><circle cx="330.1" cy="186.8" r="0.42"/><circle cx="341.8" cy="191.7" r="0.42"/><circle cx="321.2" cy="241.3" r="0.42"/><circle cx="317.2" cy="240.1" r="0.42"/><circle cx="344.7" cy="228.5" r="0.42"/><circle cx="316.2" cy="242.4" r="0.42"/><circle cx="311.6" cy="209.0" r="0.42"/><circle cx="337.1" cy="234.5" r="0.42"/><circle cx="320.4" cy="243.9" r="0.42"/><circle cx="310.9" cy="200.8" r="0.42"/><circle cx="319.9" cy="240.0" r="0.42"/><circle cx="293.5" cy="241.2" r="0.42"/><circle cx="334.7" cy="242.6" r="0.42"/><circle cx="295.0" cy="231.6" r="0.42"/><circle cx="335.0" cy="238.4" r="0.42"/><circle cx="344.5" cy="218.4" r="0.42"/><circle cx="299.8" cy="218.2" r="0.42"/><circle cx="323.5" cy="242.7" r="0.42"/><circle cx="319.2" cy="189.6" r="0.42"/><circle cx="317.0" cy="192.2" r="0.42"/><circle cx="334.7" cy="241.9" r="0.42"/><circle cx="340.1" cy="229.8" r="0.42"/><circle cx="336.4" cy="239.5" r="0.42"/><circle cx="333.5" cy="238.8" r="0.42"/><circle cx="326.4" cy="183.8" r="0.42"/><circle cx="311.8" cy="241.5" r="0.42"/><circle cx="347.0" cy="209.9" r="0.42"/><circle cx="316.5" cy="242.2" r="0.42"/><circle cx="294.4" cy="247.4" r="0.42"/><circle cx="316.3" cy="242.5" r="0.42"/><circle cx="323.2" cy="241.9" r="0.42"/><circle cx="337.0" cy="190.2" r="0.42"/><circle cx="347.4" cy="204.7" r="0.42"/><circle cx="341.7" cy="233.9" r="0.42"/><circle cx="311.6" cy="201.7" r="0.42"/><circle cx="316.6" cy="235.2" r="0.42"/><circle cx="346.0" cy="219.0" r="0.42"/><circle cx="328.3" cy="246.1" r="0.42"/><circle cx="341.4" cy="231.1" r="0.42"/><circle cx="322.7" cy="188.3" r="0.42"/><circle cx="324.7" cy="242.2" r="0.42"/><circle cx="319.1" cy="240.6" r="0.42"/><circle cx="347.7" cy="213.0" r="0.42"/><circle cx="348.0" cy="204.9" r="0.42"/><circle cx="345.4" cy="208.0" r="0.42"/><circle cx="291.2" cy="238.4" r="0.42"/><circle cx="310.0" cy="203.8" r="0.42"/><circle cx="331.9" cy="243.7" r="0.42"/><circle cx="341.1" cy="230.5" r="0.42"/><circle cx="347.6" cy="201.9" r="0.42"/><circle cx="301.7" cy="219.0" r="0.42"/><circle cx="330.9" cy="242.6" r="0.42"/><circle cx="344.6" cy="212.5" r="0.42"/><circle cx="319.9" cy="188.4" r="0.42"/><circle cx="314.1" cy="242.0" r="0.42"/><circle cx="293.3" cy="247.1" r="0.42"/><circle cx="313.0" cy="196.7" r="0.42"/><circle cx="326.8" cy="188.2" r="0.42"/><circle cx="330.5" cy="244.5" r="0.42"/><circle cx="330.3" cy="185.7" r="0.42"/><circle cx="316.1" cy="235.6" r="0.42"/><circle cx="291.0" cy="244.7" r="0.42"/><circle cx="290.8" cy="240.3" r="0.42"/><circle cx="311.2" cy="243.1" r="0.42"/><circle cx="316.9" cy="234.9" r="0.42"/><circle cx="312.2" cy="206.7" r="0.42"/><circle cx="330.0" cy="188.4" r="0.42"/><circle cx="308.8" cy="210.0" r="0.42"/><circle cx="312.6" cy="210.2" r="0.42"/><circle cx="336.3" cy="234.3" r="0.42"/><circle cx="311.7" cy="214.0" r="0.42"/><circle cx="324.5" cy="245.2" r="0.42"/><circle cx="346.1" cy="210.9" r="0.42"/><circle cx="327.6" cy="185.8" r="0.42"/><circle cx="320.0" cy="238.3" r="0.42"/><circle cx="336.2" cy="234.4" r="0.42"/><circle cx="318.4" cy="235.4" r="0.42"/><circle cx="314.0" cy="197.9" r="0.42"/></g>
<g fill="#888"><circle cx="354.7" cy="188.0" r="0.42"/><circle cx="349.5" cy="191.3" r="0.42"/><circle cx="342.7" cy="222.3" r="0.42"/><circle cx="355.2" cy="203.4" r="0.42"/><circle cx="342.5" cy="224.4" r="0.42"/><circle cx="337.2" cy="187.0" r="0.42"/><circle cx="340.5" cy="239.7" r="0.42"/><circle cx="336.8" cy="239.7" r="0.42"/><circle cx="336.1" cy="182.0" r="0.42"/><circle cx="339.5" cy="230.6" r="0.42"/><circle cx="351.4" cy="169.0" r="0.42"/><circle cx="344.4" cy="194.9" r="0.42"/><circle cx="327.9" cy="178.0" r="0.42"/><circle cx="349.7" cy="219.0" r="0.42"/><circle cx="347.0" cy="211.9" r="0.42"/><circle cx="346.2" cy="180.1" r="0.42"/><circle cx="315.1" cy="194.6" r="0.42"/><circle cx="318.1" cy="245.5" r="0.42"/><circle cx="306.9" cy="216.7" r="0.42"/><circle cx="351.8" cy="214.6" r="0.42"/><circle cx="318.2" cy="192.4" r="0.42"/><circle cx="310.9" cy="197.3" r="0.42"/><circle cx="337.0" cy="167.5" r="0.42"/><circle cx="347.2" cy="242.2" r="0.42"/><circle cx="346.2" cy="194.1" r="0.42"/><circle cx="361.6" cy="199.1" r="0.42"/><circle cx="348.6" cy="198.7" r="0.42"/><circle cx="314.1" cy="197.0" r="0.42"/><circle cx="311.1" cy="180.4" r="0.42"/><circle cx="317.1" cy="193.1" r="0.42"/><circle cx="312.9" cy="190.3" r="0.42"/><circle cx="358.7" cy="188.0" r="0.42"/><circle cx="345.3" cy="198.2" r="0.42"/><circle cx="298.4" cy="195.4" r="0.42"/><circle cx="320.4" cy="190.2" r="0.42"/><circle cx="304.6" cy="206.0" r="0.42"/><circle cx="318.4" cy="189.2" r="0.42"/><circle cx="362.8" cy="203.2" r="0.42"/><circle cx="307.9" cy="192.0" r="0.42"/><circle cx="349.7" cy="189.7" r="0.42"/><circle cx="321.6" cy="190.0" r="0.42"/><circle cx="293.3" cy="248.6" r="0.42"/><circle cx="293.2" cy="245.9" r="0.42"/><circle cx="295.0" cy="218.5" r="0.42"/><circle cx="297.3" cy="250.4" r="0.42"/><circle cx="282.6" cy="233.4" r="0.42"/><circle cx="289.7" cy="241.3" r="0.42"/><circle cx="300.1" cy="220.8" r="0.42"/><circle cx="289.8" cy="249.7" r="0.42"/><circle cx="291.0" cy="253.1" r="0.42"/><circle cx="312.1" cy="214.3" r="0.42"/><circle cx="303.1" cy="249.7" r="0.42"/><circle cx="302.9" cy="216.7" r="0.42"/><circle cx="305.9" cy="211.6" r="0.42"/><circle cx="290.3" cy="229.2" r="0.42"/><circle cx="295.2" cy="252.6" r="0.42"/><circle cx="307.0" cy="251.0" r="0.42"/><circle cx="303.7" cy="253.0" r="0.42"/><circle cx="309.8" cy="212.5" r="0.42"/><circle cx="313.7" cy="212.3" r="0.42"/><circle cx="292.9" cy="248.3" r="0.42"/><circle cx="321.1" cy="245.7" r="0.42"/><circle cx="292.1" cy="240.6" r="0.42"/><circle cx="291.1" cy="216.1" r="0.42"/><circle cx="312.7" cy="248.3" r="0.42"/><circle cx="303.4" cy="205.3" r="0.42"/><circle cx="319.4" cy="239.6" r="0.42"/><circle cx="346.8" cy="222.9" r="0.42"/><circle cx="319.8" cy="236.4" r="0.42"/><circle cx="337.4" cy="232.1" r="0.42"/><circle cx="334.0" cy="237.7" r="0.42"/><circle cx="317.8" cy="237.9" r="0.42"/><circle cx="323.5" cy="243.0" r="0.42"/><circle cx="322.8" cy="246.2" r="0.42"/><circle cx="323.5" cy="246.6" r="0.42"/><circle cx="331.4" cy="248.3" r="0.42"/><circle cx="334.3" cy="240.2" r="0.42"/><circle cx="331.3" cy="244.6" r="0.42"/><circle cx="291.2" cy="220.4" r="0.42"/><circle cx="290.0" cy="215.1" r="0.42"/><circle cx="292.8" cy="241.5" r="0.42"/><circle cx="291.6" cy="227.4" r="0.42"/><circle cx="301.0" cy="219.3" r="0.42"/><circle cx="286.9" cy="223.4" r="0.42"/><circle cx="292.3" cy="233.7" r="0.42"/><circle cx="296.8" cy="222.4" r="0.42"/><circle cx="288.0" cy="236.1" r="0.42"/><circle cx="286.2" cy="242.5" r="0.42"/><circle cx="292.6" cy="243.0" r="0.42"/><circle cx="291.9" cy="233.9" r="0.42"/><circle cx="280.7" cy="240.2" r="0.42"/><circle cx="293.9" cy="233.3" r="0.42"/><circle cx="298.0" cy="249.6" r="0.42"/><circle cx="295.0" cy="228.1" r="0.42"/><circle cx="289.5" cy="218.0" r="0.42"/><circle cx="293.4" cy="223.9" r="0.42"/><circle cx="287.0" cy="236.0" r="0.42"/><circle cx="295.9" cy="247.9" r="0.42"/><circle cx="287.2" cy="226.9" r="0.42"/><circle cx="284.6" cy="245.3" r="0.42"/><circle cx="282.5" cy="239.3" r="0.42"/><circle cx="301.9" cy="210.7" r="0.42"/><circle cx="290.9" cy="215.3" r="0.42"/><circle cx="287.1" cy="241.1" r="0.42"/><circle cx="298.2" cy="226.6" r="0.42"/><circle cx="289.7" cy="217.2" r="0.42"/><circle cx="292.9" cy="252.7" r="0.42"/><circle cx="287.7" cy="235.9" r="0.42"/><circle cx="289.3" cy="239.7" r="0.42"/><circle cx="277.1" cy="226.7" r="0.42"/><circle cx="276.3" cy="236.0" r="0.42"/><circle cx="297.9" cy="226.0" r="0.42"/><circle cx="291.1" cy="234.6" r="0.42"/><circle cx="288.9" cy="235.2" r="0.42"/><circle cx="292.7" cy="208.5" r="0.42"/><circle cx="293.3" cy="225.9" r="0.42"/><circle cx="286.5" cy="235.7" r="0.42"/><circle cx="289.9" cy="237.1" r="0.42"/><circle cx="279.5" cy="224.5" r="0.42"/><circle cx="286.8" cy="230.9" r="0.42"/><circle cx="292.1" cy="229.3" r="0.42"/><circle cx="294.6" cy="211.1" r="0.42"/><circle cx="292.5" cy="218.5" r="0.42"/><circle cx="308.5" cy="247.2" r="0.42"/><circle cx="290.0" cy="241.3" r="0.42"/><circle cx="292.8" cy="237.9" r="0.42"/><circle cx="285.9" cy="226.0" r="0.42"/><circle cx="294.6" cy="222.4" r="0.42"/><circle cx="293.5" cy="226.5" r="0.42"/><circle cx="294.2" cy="241.4" r="0.42"/><circle cx="294.9" cy="233.0" r="0.42"/></g>
<ellipse cx="328" cy="212" rx="9" ry="14" fill="url(#shd)" opacity="0.45"/>
<ellipse cx="305" cy="234" rx="6" ry="9" fill="url(#shd)" opacity="0.05"/>
<ellipse cx="322" cy="210" rx="5" ry="11" fill="url(#shd)" opacity="0.6"/>
<path d="M302.0,249.7 L300.5,249.8 L299.0,249.6 L298.0,249.1 L297.0,248.3 L296.1,247.2 L295.5,246.2 L294.9,244.7 L294.6,243.2 L294.4,241.7 L294.3,239.7 L294.4,237.7 L294.7,235.7 L295.2,233.7 L295.8,231.7 L296.9,229.2 L297.9,227.2 L299.1,225.2 L300.6,223.2 L302.5,221.2 L304.0,220.0 L305.5,219.1 L307.0,218.4 L311.7,217.2 L312.5,216.6 L313.0,216.0 L313.5,214.7 L313.8,213.7 L314.1,210.7 L314.1,208.2 L313.5,203.7 L313.5,202.2 L313.7,201.2 L314.2,199.7 L314.7,198.7 L315.8,197.2 L316.7,196.2 L319.5,193.8 L322.5,191.5 L325.0,190.0 L327.0,189.1 L329.0,188.7 L331.0,188.6 L333.0,188.9 L335.5,190.0 L337.0,190.9 L339.0,192.4 L341.5,194.6 L343.5,196.5 L344.8,198.2 L345.4,199.2 L345.8,200.2 L346.2,201.7 L346.2,202.7 L346.0,204.2 L344.5,208.8 L344.1,210.7 L343.3,216.7 L342.6,220.2 L341.2,224.7 L340.4,226.7 L339.3,228.7 L333.7,237.7 L332.6,239.2 L331.5,240.3 L330.5,241.1 L329.0,241.9 L328.0,242.1 L327.0,242.2 L325.5,242.0 L324.0,241.4 L323.1,240.7 L322.0,239.7 L321.2,238.7 L319.0,234.8 L318.0,233.3 L317.5,232.9 L317.0,232.8 L316.5,233.0 L316.0,233.4 L315.5,234.2 L313.3,238.7 L311.6,241.7 L310.3,243.7 L309.0,245.2 L307.5,246.8 L305.5,248.3 L303.5,249.3 L302.0,249.7Z" fill="#000" fill-opacity="0.045" stroke="#444" stroke-width="0.4"/>
<path d="M303.0,247.3 L302.0,247.5 L301.0,247.5 L299.5,247.1 L298.8,246.7 L298.0,246.1 L297.3,245.2 L296.8,244.2 L296.1,242.2 L295.9,239.7 L296.0,236.7 L296.7,233.7 L297.9,230.2 L298.9,228.2 L299.8,226.7 L301.8,224.2 L303.0,223.0 L304.0,222.2 L306.0,221.0 L307.5,220.5 L308.5,220.3 L310.5,220.4 L313.5,221.3 L314.0,221.2 L314.5,220.9 L314.9,219.7 L315.2,218.2 L315.8,210.7 L315.8,208.2 L315.3,204.2 L315.3,202.7 L315.7,200.7 L316.4,199.2 L317.1,198.2 L318.4,196.7 L321.0,194.5 L324.0,192.6 L325.5,191.9 L327.0,191.3 L329.5,190.8 L331.0,190.8 L332.0,191.0 L334.5,191.7 L337.0,193.1 L339.0,194.5 L340.5,195.7 L342.0,197.2 L342.8,198.2 L343.7,199.7 L344.1,200.7 L344.3,201.7 L344.3,203.2 L344.1,204.7 L343.0,208.2 L342.6,210.2 L341.8,216.2 L341.4,218.7 L340.2,222.7 L339.2,225.2 L338.2,227.2 L335.0,232.2 L332.5,236.7 L331.5,238.1 L330.5,239.1 L329.5,239.8 L328.5,240.3 L327.5,240.5 L326.5,240.5 L325.5,240.2 L324.5,239.8 L323.0,238.5 L321.8,236.7 L321.1,235.2 L319.5,231.2 L318.0,228.6 L317.0,227.5 L316.5,227.1 L316.0,227.1 L315.5,227.8 L315.3,228.2 L313.7,233.7 L312.8,236.2 L311.7,238.7 L310.3,241.2 L308.8,243.2 L307.0,245.0 L305.0,246.5 L303.0,247.3Z" fill="#000" fill-opacity="0.045" stroke="#444" stroke-width="0.4"/>
<path d="M328.0,238.8 L326.5,238.9 L325.5,238.6 L324.5,238.0 L323.4,236.7 L322.3,234.7 L320.5,229.3 L318.6,225.2 L317.8,223.2 L317.2,220.7 L317.0,218.2 L316.9,215.2 L317.1,209.2 L316.7,203.2 L317.1,201.2 L317.7,199.7 L318.3,198.7 L319.2,197.7 L321.0,196.1 L323.5,194.4 L326.0,193.3 L328.5,192.6 L330.5,192.5 L333.0,192.9 L335.0,193.6 L337.5,195.0 L339.5,196.6 L341.1,198.2 L342.1,199.7 L342.6,201.2 L342.8,202.2 L342.8,203.2 L342.6,204.7 L341.3,209.7 L340.7,215.2 L340.3,217.7 L339.6,220.2 L338.8,222.7 L337.3,225.7 L333.8,231.2 L331.2,236.2 L330.4,237.2 L329.5,238.1 L328.0,238.8Z" fill="#000" fill-opacity="0.045" stroke="#444" stroke-width="0.4"/>
<path d="M303.5,245.3 L302.0,245.5 L300.5,245.2 L299.5,244.6 L299.0,244.2 L298.3,243.2 L297.8,242.2 L297.5,241.2 L297.3,239.2 L297.3,236.7 L297.8,234.2 L298.6,231.7 L299.8,229.2 L301.0,227.2 L302.7,225.2 L304.5,223.7 L306.0,222.9 L307.0,222.6 L308.0,222.4 L309.5,222.6 L310.5,223.0 L311.5,223.8 L312.1,224.7 L312.8,226.2 L313.0,227.7 L313.0,229.7 L312.8,231.7 L312.3,233.7 L311.7,235.7 L310.8,237.7 L309.7,239.7 L308.7,241.2 L307.5,242.6 L306.0,243.9 L304.5,244.9 L303.5,245.3Z" fill="#000" fill-opacity="0.045" stroke="#444" stroke-width="0.4"/>
<path d="M327.5,237.2 L326.5,237.2 L325.5,236.8 L324.8,236.2 L324.0,235.1 L323.2,233.2 L322.0,229.0 L319.9,224.2 L319.0,221.7 L318.5,219.2 L318.2,216.7 L318.2,214.2 L318.3,209.2 L318.0,203.2 L318.4,201.2 L319.1,199.7 L320.3,198.2 L322.0,196.7 L324.0,195.4 L326.5,194.4 L328.5,193.9 L331.0,193.8 L333.0,194.2 L335.0,194.9 L337.0,196.1 L339.0,197.7 L340.3,199.2 L341.1,200.7 L341.4,202.2 L341.4,203.7 L340.1,209.7 L339.6,214.7 L339.2,217.2 L338.5,219.7 L337.6,222.2 L336.0,225.4 L332.5,230.5 L330.2,235.2 L329.0,236.5 L328.5,236.9 L327.5,237.2Z" fill="#000" fill-opacity="0.045" stroke="#444" stroke-width="0.4"/>
<path d="M304.0,243.3 L302.5,243.5 L301.5,243.4 L300.5,242.9 L299.5,241.7 L298.9,240.2 L298.6,238.2 L298.7,236.2 L299.0,234.2 L299.6,232.2 L300.6,230.2 L301.8,228.2 L303.0,226.8 L304.5,225.5 L306.0,224.7 L307.5,224.4 L308.5,224.5 L309.5,225.0 L310.3,225.7 L310.9,226.7 L311.3,227.7 L311.5,228.7 L311.5,230.2 L311.4,231.7 L311.2,233.2 L310.8,234.7 L310.0,236.7 L309.2,238.2 L308.3,239.7 L307.0,241.2 L306.0,242.1 L305.0,242.8 L304.0,243.3Z" fill="#000" fill-opacity="0.045" stroke="#444" stroke-width="0.4"/>
<path d="M328.0,234.9 L327.5,235.1 L327.0,235.2 L326.5,235.1 L325.9,234.7 L325.1,233.7 L324.5,232.2 L323.5,228.7 L321.1,223.7 L320.0,220.7 L319.5,218.2 L319.3,215.7 L319.4,208.7 L319.2,204.7 L319.2,203.2 L319.5,201.7 L320.2,200.2 L321.3,198.7 L323.0,197.2 L324.5,196.3 L326.5,195.5 L328.5,195.0 L330.5,194.9 L332.0,195.1 L334.0,195.7 L336.0,196.7 L337.5,197.8 L338.9,199.2 L339.8,200.7 L340.2,202.2 L340.2,203.7 L339.1,209.2 L338.3,216.2 L337.7,218.7 L337.0,220.7 L336.1,222.7 L335.3,224.2 L334.2,225.7 L331.5,229.2 L330.6,230.7 L329.2,233.7 L328.5,234.6 L328.0,234.9Z" fill="#000" fill-opacity="0.045" stroke="#444" stroke-width="0.4"/>
<path d="M304.0,241.3 L303.0,241.5 L302.0,241.3 L301.2,240.7 L300.5,239.7 L300.1,238.7 L299.9,237.2 L300.0,235.7 L300.3,234.2 L300.8,232.7 L301.5,231.0 L302.5,229.4 L303.5,228.3 L304.5,227.4 L305.5,226.8 L306.5,226.5 L307.5,226.5 L308.1,226.7 L308.8,227.2 L309.2,227.7 L309.7,228.7 L310.0,229.7 L310.1,231.2 L309.8,233.7 L308.9,236.2 L307.5,238.6 L306.0,240.2 L305.0,240.9 L304.0,241.3Z" fill="#000" fill-opacity="0.045" stroke="#444" stroke-width="0.4"/>
<path d="M328.0,230.3 L327.5,230.6 L327.0,230.5 L326.5,230.1 L322.6,223.7 L321.8,222.2 L321.1,220.2 L320.6,217.7 L320.3,215.2 L320.5,208.7 L320.3,203.7 L320.5,202.2 L321.1,200.7 L322.2,199.2 L323.5,198.1 L325.0,197.2 L327.0,196.4 L329.0,196.0 L331.0,196.0 L333.0,196.4 L334.5,197.0 L336.0,197.9 L337.0,198.7 L338.0,199.9 L338.7,201.2 L339.1,202.7 L339.0,204.2 L338.1,209.2 L337.6,213.7 L337.2,216.2 L336.6,218.7 L335.8,220.7 L334.8,222.7 L333.5,224.5 L328.0,230.3Z" fill="#000" fill-opacity="0.045" stroke="#444" stroke-width="0.4"/>
<path d="M305.0,238.7 L304.0,239.1 L303.5,239.1 L303.0,239.0 L302.5,238.7 L302.1,238.2 L301.8,237.7 L301.6,236.7 L301.6,235.7 L301.7,234.7 L302.3,232.7 L302.8,231.7 L303.5,230.6 L304.4,229.7 L305.0,229.3 L306.0,228.9 L306.5,228.9 L307.0,229.0 L307.5,229.3 L308.1,230.2 L308.5,231.7 L308.4,233.2 L308.0,234.7 L307.0,236.7 L306.0,237.9 L305.0,238.7Z" fill="#000" fill-opacity="0.045" stroke="#444" stroke-width="0.4"/>
<path d="M328.5,226.3 L327.5,226.4 L327.0,226.2 L326.0,225.6 L325.0,224.7 L324.0,223.4 L323.2,222.2 L322.2,219.7 L321.7,217.7 L321.4,215.2 L321.5,208.7 L321.4,203.7 L321.7,202.2 L322.4,200.7 L323.2,199.7 L324.3,198.7 L326.0,197.8 L327.5,197.2 L329.0,197.0 L330.5,196.9 L332.0,197.2 L333.5,197.6 L335.0,198.4 L336.0,199.2 L337.0,200.3 L337.7,201.7 L337.9,202.7 L337.9,204.2 L337.0,209.2 L336.6,213.7 L336.3,215.7 L335.8,217.7 L335.0,219.7 L333.7,222.2 L332.0,224.2 L330.0,225.7 L328.5,226.3Z" fill="#000" fill-opacity="0.045" stroke="#444" stroke-width="0.4"/>
<path d="M329.5,223.9 L328.5,224.1 L327.5,224.0 L326.5,223.6 L326.0,223.3 L325.0,222.3 L324.5,221.6 L323.9,220.7 L323.3,219.2 L322.7,217.2 L322.4,214.7 L322.6,208.7 L322.5,204.7 L322.6,203.2 L322.9,202.2 L323.5,201.0 L324.5,199.9 L325.5,199.1 L327.0,198.4 L328.5,198.0 L330.0,197.9 L331.5,198.1 L332.5,198.3 L334.0,199.0 L335.0,199.7 L335.9,200.7 L336.4,201.7 L336.7,202.7 L336.8,203.7 L336.7,205.2 L336.0,209.2 L335.5,214.2 L335.1,216.2 L334.6,217.7 L333.8,219.7 L332.5,221.6 L331.0,223.1 L329.5,223.9Z" fill="#000" fill-opacity="0.045" stroke="#444" stroke-width="0.4"/>
<path d="M329.5,221.9 L328.5,222.1 L328.0,222.0 L327.0,221.7 L326.5,221.4 L325.7,220.7 L325.0,219.7 L324.1,217.7 L323.8,216.2 L323.5,214.2 L323.7,208.7 L323.7,204.7 L323.8,203.7 L324.0,202.7 L324.5,201.7 L325.3,200.7 L326.5,199.8 L327.5,199.3 L328.5,199.1 L330.0,198.9 L331.5,199.1 L332.5,199.5 L333.5,200.0 L334.3,200.7 L334.8,201.2 L335.3,202.2 L335.5,203.2 L335.6,204.2 L334.9,208.7 L334.4,213.7 L333.7,216.7 L333.0,218.4 L332.0,220.0 L331.0,221.0 L329.5,221.9Z" fill="#000" fill-opacity="0.045" stroke="#444" stroke-width="0.4"/>
<path d="M329.5,219.7 L328.5,219.9 L328.0,219.8 L327.0,219.3 L326.0,218.2 L325.3,216.7 L325.0,215.2 L324.8,213.7 L325.0,208.7 L325.0,205.2 L325.0,204.2 L325.2,203.2 L325.5,202.6 L326.1,201.7 L327.0,200.9 L328.0,200.4 L329.0,200.2 L330.0,200.1 L331.5,200.4 L332.2,200.7 L333.0,201.2 L333.5,201.8 L334.0,202.7 L334.2,204.2 L333.6,208.7 L333.2,213.2 L332.6,215.7 L332.0,217.2 L331.4,218.2 L330.5,219.1 L329.5,219.7Z" fill="#000" fill-opacity="0.045" stroke="#444" stroke-width="0.4"/>
<path d="M329.5,216.8 L329.0,217.0 L328.5,217.0 L327.9,216.7 L327.5,216.3 L327.1,215.7 L326.7,214.7 L326.5,212.7 L326.7,208.7 L326.6,205.2 L326.9,203.7 L327.5,202.7 L328.5,202.0 L329.4,201.7 L330.0,201.7 L331.0,202.0 L331.9,202.7 L332.4,203.7 L332.5,204.7 L331.9,208.7 L331.6,212.2 L331.4,213.7 L331.0,215.0 L330.6,215.7 L330.0,216.5 L329.5,216.8Z" fill="#000" fill-opacity="0.045" stroke="#444" stroke-width="0.4"/>
</g>
<rect x="274.50" y="162.20" width="90.30" height="91.50" fill="none" stroke="#555" stroke-width="0.8"/>
<line x1="315.30" y1="162.20" x2="315.30" y2="253.70" stroke="#444" stroke-width="0.9"/>
<line x1="274.50" y1="208.60" x2="364.80" y2="208.60" stroke="#444" stroke-width="0.9"/>
<text x="276.30" y="168.80" font-size="5.9" fill="#1a1a1a">0.41</text>
<text x="363.20" y="168.80" font-size="5.9" text-anchor="end" fill="#1a1a1a">35.34</text>
<text x="276.30" y="251.30" font-size="5.9" fill="#1a1a1a">22.05</text>
<text x="363.20" y="251.30" font-size="5.9" text-anchor="end" fill="#1a1a1a">41.65</text>
<text x="271.00" y="173.09" font-size="6.0" text-anchor="end" fill="#1a1a1a">10<tspan font-size="3.8" dy="-2.4">5</tspan></text>
<line x1="272.90" y1="170.89" x2="274.50" y2="170.89" stroke="#444" stroke-width="0.7"/>
<text x="271.00" y="193.68" font-size="6.0" text-anchor="end" fill="#1a1a1a">10<tspan font-size="3.8" dy="-2.4">4</tspan></text>
<line x1="272.90" y1="191.48" x2="274.50" y2="191.48" stroke="#444" stroke-width="0.7"/>
<text x="271.00" y="214.27" font-size="6.0" text-anchor="end" fill="#1a1a1a">10<tspan font-size="3.8" dy="-2.4">3</tspan></text>
<line x1="272.90" y1="212.07" x2="274.50" y2="212.07" stroke="#444" stroke-width="0.7"/>
<text x="271.00" y="235.77" font-size="6.0" text-anchor="end" fill="#1a1a1a">10<tspan font-size="3.8" dy="-2.4">2</tspan></text>
<line x1="272.90" y1="233.57" x2="274.50" y2="233.57" stroke="#444" stroke-width="0.7"/>
<text x="271.00" y="245.38" font-size="6.0" text-anchor="end" fill="#1a1a1a">0</text>
<text x="293.01" y="264.90" font-size="6.0" text-anchor="middle" fill="#1a1a1a">10<tspan font-size="3.8" dy="-2.4">2</tspan></text>
<line x1="293.01" y1="253.70" x2="293.01" y2="255.30" stroke="#444" stroke-width="0.7"/>
<text x="314.23" y="264.90" font-size="6.0" text-anchor="middle" fill="#1a1a1a">10<tspan font-size="3.8" dy="-2.4">3</tspan></text>
<line x1="314.23" y1="253.70" x2="314.23" y2="255.30" stroke="#444" stroke-width="0.7"/>
<text x="335.18" y="264.90" font-size="6.0" text-anchor="middle" fill="#1a1a1a">10<tspan font-size="3.8" dy="-2.4">4</tspan></text>
<line x1="335.18" y1="253.70" x2="335.18" y2="255.30" stroke="#444" stroke-width="0.7"/>
<text x="355.41" y="264.90" font-size="6.0" text-anchor="middle" fill="#1a1a1a">10<tspan font-size="3.8" dy="-2.4">5</tspan></text>
<line x1="355.41" y1="253.70" x2="355.41" y2="255.30" stroke="#444" stroke-width="0.7"/>
<text x="284.61" y="264.90" font-size="6.0" text-anchor="middle" fill="#1a1a1a">0</text>
<clipPath id="cp4"><rect x="44.90" y="279.70" width="90.50" height="90.70"/></clipPath>
<g clip-path="url(#cp4)">
<g fill="#777"><circle cx="112.4" cy="361.1" r="0.42"/><circle cx="111.5" cy="368.5" r="0.42"/><circle cx="81.9" cy="365.4" r="0.42"/><circle cx="112.0" cy="359.7" r="0.42"/><circle cx="47.0" cy="350.6" r="0.42"/><circle cx="97.1" cy="343.1" r="0.42"/><circle cx="65.5" cy="326.7" r="0.42"/><circle cx="80.9" cy="329.2" r="0.42"/><circle cx="75.2" cy="329.1" r="0.42"/><circle cx="80.8" cy="330.6" r="0.42"/><circle cx="112.0" cy="367.0" r="0.42"/><circle cx="56.8" cy="355.9" r="0.42"/><circle cx="49.8" cy="329.7" r="0.42"/><circle cx="65.3" cy="362.5" r="0.42"/><circle cx="108.8" cy="355.3" r="0.42"/><circle cx="109.6" cy="352.3" r="0.42"/><circle cx="58.0" cy="327.1" r="0.42"/><circle cx="107.4" cy="348.1" r="0.42"/><circle cx="80.9" cy="330.9" r="0.42"/><circle cx="104.7" cy="348.3" r="0.42"/><circle cx="109.7" cy="365.9" r="0.42"/><circle cx="86.6" cy="333.9" r="0.42"/><circle cx="91.8" cy="336.8" r="0.42"/><circle cx="65.1" cy="360.6" r="0.42"/><circle cx="56.5" cy="327.8" r="0.42"/><circle cx="67.0" cy="328.1" r="0.42"/><circle cx="111.6" cy="366.7" r="0.42"/><circle cx="50.8" cy="352.7" r="0.42"/><circle cx="105.5" cy="349.4" r="0.42"/><circle cx="47.6" cy="330.8" r="0.42"/><circle cx="102.0" cy="343.9" r="0.42"/><circle cx="94.9" cy="368.5" r="0.42"/><circle cx="101.0" cy="345.6" r="0.42"/><circle cx="109.9" cy="354.6" r="0.42"/><circle cx="104.2" cy="348.3" r="0.42"/><circle cx="109.2" cy="356.8" r="0.42"/><circle cx="45.4" cy="331.6" r="0.42"/><circle cx="104.8" cy="347.9" r="0.42"/><circle cx="85.1" cy="331.1" r="0.42"/><circle cx="55.0" cy="352.4" r="0.42"/><circle cx="107.9" cy="349.7" r="0.42"/><circle cx="58.4" cy="327.1" r="0.42"/><circle cx="104.4" cy="347.9" r="0.42"/><circle cx="89.7" cy="369.3" r="0.42"/><circle cx="106.1" cy="349.3" r="0.42"/><circle cx="109.7" cy="356.4" r="0.42"/><circle cx="61.6" cy="327.0" r="0.42"/><circle cx="105.8" cy="350.5" r="0.42"/><circle cx="110.2" cy="368.7" r="0.42"/><circle cx="86.4" cy="334.7" r="0.42"/><circle cx="81.6" cy="369.4" r="0.42"/><circle cx="110.4" cy="366.1" r="0.42"/><circle cx="101.1" cy="347.0" r="0.42"/><circle cx="97.4" cy="342.4" r="0.42"/><circle cx="107.6" cy="353.9" r="0.42"/><circle cx="90.1" cy="367.0" r="0.42"/><circle cx="90.1" cy="335.7" r="0.42"/><circle cx="93.2" cy="336.9" r="0.42"/><circle cx="110.9" cy="363.6" r="0.42"/><circle cx="86.3" cy="335.1" r="0.42"/><circle cx="85.8" cy="331.2" r="0.42"/><circle cx="100.7" cy="344.6" r="0.42"/><circle cx="112.7" cy="366.2" r="0.42"/><circle cx="47.6" cy="350.0" r="0.42"/><circle cx="91.1" cy="339.5" r="0.42"/><circle cx="84.9" cy="370.4" r="0.42"/><circle cx="46.1" cy="344.2" r="0.42"/><circle cx="53.0" cy="326.3" r="0.42"/><circle cx="58.9" cy="328.2" r="0.42"/><circle cx="45.7" cy="349.4" r="0.42"/><circle cx="65.6" cy="327.7" r="0.42"/><circle cx="94.7" cy="338.7" r="0.42"/><circle cx="92.8" cy="368.9" r="0.42"/><circle cx="108.6" cy="353.3" r="0.42"/><circle cx="87.5" cy="367.2" r="0.42"/><circle cx="66.4" cy="326.7" r="0.42"/><circle cx="108.6" cy="368.0" r="0.42"/><circle cx="108.7" cy="369.5" r="0.42"/><circle cx="74.7" cy="329.5" r="0.42"/><circle cx="56.4" cy="355.1" r="0.42"/><circle cx="72.0" cy="327.9" r="0.42"/><circle cx="78.4" cy="330.3" r="0.42"/><circle cx="86.4" cy="332.2" r="0.42"/><circle cx="86.5" cy="335.7" r="0.42"/><circle cx="109.7" cy="370.1" r="0.42"/><circle cx="46.9" cy="345.6" r="0.42"/><circle cx="102.6" cy="347.9" r="0.42"/><circle cx="66.2" cy="361.9" r="0.42"/><circle cx="53.6" cy="328.4" r="0.42"/><circle cx="53.3" cy="351.8" r="0.42"/><circle cx="85.1" cy="366.9" r="0.42"/><circle cx="104.5" cy="349.4" r="0.42"/><circle cx="91.7" cy="367.9" r="0.42"/><circle cx="96.8" cy="370.4" r="0.42"/><circle cx="93.4" cy="368.4" r="0.42"/><circle cx="98.3" cy="342.4" r="0.42"/><circle cx="109.9" cy="358.7" r="0.42"/><circle cx="91.5" cy="336.1" r="0.42"/><circle cx="59.7" cy="326.7" r="0.42"/><circle cx="69.4" cy="363.9" r="0.42"/><circle cx="88.8" cy="370.2" r="0.42"/><circle cx="49.2" cy="328.7" r="0.42"/><circle cx="52.9" cy="351.1" r="0.42"/><circle cx="103.3" cy="348.4" r="0.42"/><circle cx="75.4" cy="328.5" r="0.42"/><circle cx="108.0" cy="351.7" r="0.42"/><circle cx="93.4" cy="370.0" r="0.42"/><circle cx="100.4" cy="343.4" r="0.42"/><circle cx="88.5" cy="336.1" r="0.42"/><circle cx="104.5" cy="347.6" r="0.42"/><circle cx="56.6" cy="355.7" r="0.42"/><circle cx="91.3" cy="367.4" r="0.42"/><circle cx="73.1" cy="328.2" r="0.42"/><circle cx="47.7" cy="346.7" r="0.42"/><circle cx="87.3" cy="332.6" r="0.42"/><circle cx="89.2" cy="336.0" r="0.42"/><circle cx="66.6" cy="326.7" r="0.42"/><circle cx="52.2" cy="327.6" r="0.42"/><circle cx="81.0" cy="331.1" r="0.42"/><circle cx="58.9" cy="327.8" r="0.42"/></g>
<g fill="#888"><circle cx="93.8" cy="335.8" r="0.42"/><circle cx="84.3" cy="324.5" r="0.42"/><circle cx="46.1" cy="330.5" r="0.42"/><circle cx="60.0" cy="327.5" r="0.42"/><circle cx="81.1" cy="330.8" r="0.42"/><circle cx="120.5" cy="345.5" r="0.42"/><circle cx="93.2" cy="323.1" r="0.42"/><circle cx="73.6" cy="368.1" r="0.42"/><circle cx="58.9" cy="358.1" r="0.42"/><circle cx="47.9" cy="327.0" r="0.42"/><circle cx="46.1" cy="327.4" r="0.42"/><circle cx="50.4" cy="356.5" r="0.42"/><circle cx="86.9" cy="330.1" r="0.42"/><circle cx="61.0" cy="328.2" r="0.42"/><circle cx="45.2" cy="332.3" r="0.42"/><circle cx="51.1" cy="358.5" r="0.42"/><circle cx="50.6" cy="322.4" r="0.42"/><circle cx="66.8" cy="322.0" r="0.42"/><circle cx="76.0" cy="328.8" r="0.42"/><circle cx="88.1" cy="328.9" r="0.42"/><circle cx="106.8" cy="347.4" r="0.42"/><circle cx="86.5" cy="316.8" r="0.42"/><circle cx="88.4" cy="368.0" r="0.42"/><circle cx="88.3" cy="367.3" r="0.42"/><circle cx="68.3" cy="365.1" r="0.42"/><circle cx="115.9" cy="359.4" r="0.42"/><circle cx="87.1" cy="334.6" r="0.42"/><circle cx="101.6" cy="343.2" r="0.42"/><circle cx="127.0" cy="363.7" r="0.42"/><circle cx="96.0" cy="343.6" r="0.42"/><circle cx="124.9" cy="343.7" r="0.42"/><circle cx="110.4" cy="367.2" r="0.42"/><circle cx="83.0" cy="330.4" r="0.42"/><circle cx="110.8" cy="368.7" r="0.42"/><circle cx="92.9" cy="370.1" r="0.42"/><circle cx="110.8" cy="356.9" r="0.42"/><circle cx="100.7" cy="343.8" r="0.42"/><circle cx="100.8" cy="346.7" r="0.42"/><circle cx="107.6" cy="344.3" r="0.42"/><circle cx="100.6" cy="345.1" r="0.42"/><circle cx="107.5" cy="349.0" r="0.42"/><circle cx="102.0" cy="347.3" r="0.42"/><circle cx="113.2" cy="357.0" r="0.42"/><circle cx="88.7" cy="331.4" r="0.42"/><circle cx="80.3" cy="329.4" r="0.42"/><circle cx="71.3" cy="329.1" r="0.42"/><circle cx="85.6" cy="330.4" r="0.42"/><circle cx="85.5" cy="333.1" r="0.42"/><circle cx="79.7" cy="329.9" r="0.42"/><circle cx="71.7" cy="362.3" r="0.42"/><circle cx="76.4" cy="366.2" r="0.42"/><circle cx="63.7" cy="366.1" r="0.42"/><circle cx="52.5" cy="350.5" r="0.42"/><circle cx="110.2" cy="359.4" r="0.42"/><circle cx="71.7" cy="362.7" r="0.42"/><circle cx="55.6" cy="355.5" r="0.42"/><circle cx="98.0" cy="332.5" r="0.42"/><circle cx="101.2" cy="337.3" r="0.42"/><circle cx="108.6" cy="338.3" r="0.42"/><circle cx="105.4" cy="346.7" r="0.42"/><circle cx="106.1" cy="332.4" r="0.42"/><circle cx="98.5" cy="335.4" r="0.42"/><circle cx="89.9" cy="336.2" r="0.42"/><circle cx="97.9" cy="334.9" r="0.42"/><circle cx="90.7" cy="338.4" r="0.42"/><circle cx="95.5" cy="336.2" r="0.42"/><circle cx="101.7" cy="332.8" r="0.42"/><circle cx="91.4" cy="326.4" r="0.42"/><circle cx="91.2" cy="336.0" r="0.42"/><circle cx="102.1" cy="334.0" r="0.42"/><circle cx="97.6" cy="336.9" r="0.42"/><circle cx="88.8" cy="332.2" r="0.42"/><circle cx="114.6" cy="331.8" r="0.42"/><circle cx="107.5" cy="335.5" r="0.42"/><circle cx="109.9" cy="332.7" r="0.42"/><circle cx="100.5" cy="336.5" r="0.42"/><circle cx="93.2" cy="336.4" r="0.42"/></g>
<ellipse cx="70" cy="337" rx="14" ry="6" fill="url(#shd)" opacity="0.45"/>
<ellipse cx="95" cy="355" rx="8" ry="7" fill="url(#shd)" opacity="0.35"/>
<ellipse cx="70" cy="332" rx="6" ry="2" fill="url(#shd)" opacity="0.6"/>
<path d="M104.9,373.3 L103.9,373.5 L103.4,373.4 L102.4,372.9 L99.4,370.2 L98.4,369.6 L97.4,369.2 L87.5,366.2 L78.9,364.6 L76.4,363.9 L73.4,362.9 L70.9,361.9 L67.9,360.5 L62.4,357.5 L57.9,354.4 L53.9,351.2 L48.9,346.7 L45.5,343.2 L43.8,340.7 L43.1,338.7 L42.9,337.7 L42.9,336.7 L43.2,335.7 L43.6,334.7 L44.4,333.7 L45.9,332.3 L47.4,331.3 L49.4,330.4 L51.9,329.5 L53.9,329.0 L58.4,328.4 L61.4,328.3 L64.9,328.5 L69.4,328.9 L73.4,329.4 L78.9,330.5 L81.4,331.3 L83.2,332.2 L84.4,333.2 L85.9,335.5 L87.1,336.7 L96.4,343.9 L100.9,347.8 L101.9,348.5 L103.9,349.4 L104.9,350.1 L106.0,351.2 L107.0,352.7 L108.1,355.2 L109.0,358.7 L109.4,361.7 L109.3,364.7 L109.1,366.2 L108.7,367.7 L107.7,370.2 L106.4,372.1 L105.4,373.0 L104.9,373.3Z" fill="#000" fill-opacity="0.04" stroke="#444" stroke-width="0.4"/>
<path d="M104.4,371.8 L103.4,371.8 L102.4,371.3 L99.4,368.4 L97.9,367.7 L93.4,366.4 L87.9,364.3 L85.9,363.7 L83.9,363.3 L78.4,362.6 L75.9,362.1 L73.9,361.5 L71.4,360.5 L68.9,359.5 L65.9,357.9 L63.4,356.5 L59.9,354.1 L55.9,350.9 L50.9,346.4 L47.8,343.2 L46.4,341.2 L45.5,339.2 L45.4,338.2 L45.4,337.2 L45.6,336.2 L46.0,335.2 L46.7,334.2 L47.8,333.2 L49.2,332.2 L50.9,331.3 L52.9,330.6 L54.9,330.1 L59.4,329.4 L62.4,329.3 L65.4,329.4 L72.4,329.9 L75.4,330.4 L77.9,330.9 L79.9,331.6 L81.4,332.3 L82.5,333.2 L82.9,333.7 L83.8,335.7 L85.2,337.2 L89.0,340.2 L95.9,345.2 L100.9,349.5 L101.9,350.1 L103.9,351.1 L104.9,351.7 L105.8,352.7 L106.4,353.6 L107.5,356.2 L108.2,358.7 L108.5,361.7 L108.3,364.7 L107.8,367.2 L106.9,369.4 L105.9,370.8 L105.4,371.3 L104.4,371.8Z" fill="#000" fill-opacity="0.04" stroke="#444" stroke-width="0.4"/>
<path d="M104.4,370.3 L103.4,370.3 L102.4,369.8 L99.9,367.3 L98.9,366.6 L97.9,366.2 L94.9,365.5 L92.9,364.9 L84.9,361.3 L82.9,360.7 L77.9,360.6 L75.9,360.4 L73.9,359.9 L71.4,359.1 L68.9,358.0 L66.4,356.7 L63.9,355.3 L60.4,352.8 L57.4,350.4 L51.9,345.3 L49.4,342.7 L48.1,340.7 L47.7,339.7 L47.4,338.7 L47.4,337.7 L47.5,336.7 L48.2,335.2 L49.0,334.2 L50.3,333.2 L51.4,332.5 L52.9,331.8 L54.4,331.3 L56.4,330.8 L58.4,330.4 L60.9,330.2 L66.4,330.0 L72.9,330.5 L75.4,330.9 L77.4,331.4 L78.9,331.9 L80.4,332.7 L80.9,333.2 L81.3,333.7 L81.9,335.7 L82.2,336.2 L83.1,337.2 L84.9,338.8 L88.0,341.2 L92.9,344.3 L95.4,346.1 L97.3,347.7 L100.9,351.0 L101.9,351.6 L103.4,352.2 L104.4,352.8 L105.4,353.7 L105.9,354.5 L106.7,356.2 L107.4,358.7 L107.7,361.2 L107.7,363.7 L107.2,366.2 L106.5,368.2 L105.9,369.2 L105.4,369.7 L104.4,370.3Z" fill="#000" fill-opacity="0.04" stroke="#444" stroke-width="0.4"/>
<path d="M104.9,368.7 L104.4,369.0 L103.9,369.1 L102.9,368.8 L101.9,368.0 L100.4,366.2 L99.4,365.4 L98.4,365.0 L94.4,364.2 L91.4,363.0 L87.9,361.1 L83.7,358.2 L81.3,356.2 L80.6,355.2 L79.9,351.2 L79.4,349.7 L78.9,348.8 L78.4,348.3 L77.4,347.8 L76.4,347.6 L74.9,347.8 L73.9,348.3 L73.5,348.7 L73.4,349.2 L73.7,350.2 L74.4,351.0 L77.8,354.2 L78.8,355.2 L79.0,355.7 L79.1,356.2 L78.9,356.7 L78.6,357.2 L78.0,357.7 L76.9,358.1 L75.9,358.3 L74.4,358.2 L72.9,357.9 L69.4,356.7 L65.5,354.7 L62.9,353.0 L60.0,350.7 L53.9,345.3 L51.3,342.7 L49.9,340.7 L49.3,339.2 L49.2,338.2 L49.2,337.2 L49.8,335.7 L50.6,334.7 L51.4,334.0 L52.5,333.2 L53.9,332.5 L56.9,331.5 L60.9,330.8 L66.4,330.5 L71.9,330.8 L75.9,331.5 L77.4,332.0 L78.9,332.7 L79.5,333.2 L79.9,333.7 L80.1,334.2 L80.2,335.7 L80.8,336.7 L84.9,340.7 L87.1,342.2 L91.9,344.9 L94.4,346.5 L96.9,348.6 L100.6,352.2 L101.4,352.8 L103.9,353.8 L104.9,354.6 L105.4,355.2 L106.2,356.7 L106.8,358.7 L107.1,360.7 L107.1,362.7 L106.9,364.7 L106.5,366.2 L105.8,367.7 L104.9,368.7Z" fill="#000" fill-opacity="0.04" stroke="#444" stroke-width="0.4"/>
<path d="M103.9,367.8 L103.4,367.7 L102.4,367.1 L100.4,364.7 L99.4,363.9 L98.4,363.6 L95.4,363.2 L92.9,362.5 L89.9,361.0 L88.4,360.0 L86.7,358.7 L85.1,357.2 L83.5,355.2 L82.3,352.7 L81.0,348.7 L80.6,347.7 L79.9,346.8 L78.9,346.3 L77.9,346.1 L76.9,346.0 L74.4,346.3 L72.9,346.7 L71.5,347.2 L70.7,347.7 L70.2,348.2 L70.0,348.7 L70.2,349.7 L70.8,350.7 L72.3,352.7 L72.9,353.7 L73.0,354.2 L72.9,354.7 L72.4,355.0 L71.4,355.1 L69.9,354.8 L68.3,354.2 L66.4,353.2 L63.5,351.2 L55.9,345.2 L54.1,343.7 L52.7,342.2 L51.6,340.7 L51.0,339.2 L50.9,337.7 L51.3,336.2 L52.5,334.7 L53.8,333.7 L54.9,333.1 L56.4,332.5 L57.9,332.0 L61.4,331.3 L65.9,331.0 L70.4,331.1 L74.4,331.6 L76.4,332.2 L77.5,332.7 L78.2,333.2 L78.6,333.7 L78.8,334.2 L78.7,335.7 L79.1,336.7 L82.9,341.1 L83.9,342.0 L85.4,343.0 L90.4,345.2 L93.4,347.0 L96.4,349.3 L100.4,353.5 L101.4,354.2 L103.9,355.1 L104.9,356.0 L105.6,357.2 L106.2,359.2 L106.5,361.2 L106.4,363.2 L106.0,365.2 L105.4,366.6 L104.9,367.3 L104.4,367.6 L103.9,367.8Z" fill="#000" fill-opacity="0.04" stroke="#444" stroke-width="0.4"/>
<path d="M66.4,347.3 L65.4,347.6 L64.4,347.6 L63.4,347.5 L61.9,347.0 L59.9,346.1 L57.9,344.9 L56.4,343.9 L55.0,342.7 L53.4,340.9 L53.0,340.2 L52.6,339.2 L52.4,338.2 L52.6,337.2 L53.1,336.2 L53.4,335.7 L55.1,334.2 L57.4,333.0 L60.4,332.1 L63.4,331.6 L67.4,331.4 L71.4,331.6 L74.8,332.2 L76.1,332.7 L76.9,333.2 L77.3,333.7 L77.5,334.2 L77.2,335.7 L77.3,336.2 L77.8,337.2 L79.1,338.7 L80.1,340.2 L80.7,341.7 L80.8,342.7 L80.6,343.2 L80.1,343.7 L78.9,344.2 L69.9,346.2 L66.4,347.3Z" fill="#000" fill-opacity="0.04" stroke="#444" stroke-width="0.4"/>
<path d="M103.9,366.3 L103.4,366.3 L102.9,366.0 L102.4,365.6 L100.9,363.5 L99.9,362.5 L98.9,362.2 L96.9,362.2 L95.4,362.1 L92.9,361.3 L90.9,360.4 L89.4,359.4 L87.9,358.3 L86.8,357.2 L85.5,355.7 L84.5,354.2 L83.8,352.7 L83.3,351.2 L82.9,349.2 L82.8,347.2 L82.9,346.2 L83.1,345.7 L83.4,345.4 L83.9,345.2 L84.9,345.0 L86.9,345.3 L89.4,346.0 L91.9,347.2 L93.9,348.4 L96.0,350.2 L97.5,351.7 L100.4,355.3 L101.4,355.9 L103.4,356.3 L104.4,357.0 L104.9,357.7 L105.5,359.2 L105.8,360.7 L105.8,362.2 L105.6,363.7 L105.1,365.2 L104.4,366.1 L103.9,366.3Z" fill="#000" fill-opacity="0.04" stroke="#444" stroke-width="0.4"/>
<path d="M68.9,345.2 L65.9,345.6 L63.4,345.5 L60.9,344.8 L58.4,343.7 L56.3,342.2 L55.3,341.2 L54.6,340.2 L54.2,339.2 L54.0,338.2 L54.2,337.2 L54.4,336.7 L54.9,336.0 L55.7,335.2 L56.9,334.3 L57.9,333.7 L60.4,332.7 L62.9,332.1 L66.4,331.8 L70.4,331.9 L73.4,332.3 L74.6,332.7 L75.6,333.2 L76.0,333.7 L76.2,334.2 L75.8,335.7 L75.7,336.2 L76.2,337.2 L77.5,338.7 L78.1,339.7 L78.3,340.7 L78.2,341.7 L77.9,342.2 L77.4,342.7 L76.6,343.2 L75.4,343.7 L72.4,344.6 L68.9,345.2Z" fill="#000" fill-opacity="0.04" stroke="#444" stroke-width="0.4"/>
<path d="M96.9,360.7 L95.9,360.8 L94.4,360.6 L93.4,360.4 L91.9,359.7 L89.4,358.1 L87.3,356.2 L86.5,355.2 L85.6,353.7 L85.1,352.7 L84.7,351.2 L84.6,350.2 L84.6,349.2 L84.9,348.2 L85.4,347.5 L86.4,347.0 L87.4,346.9 L88.9,347.1 L90.4,347.6 L92.4,348.6 L93.9,349.6 L95.4,350.9 L96.7,352.2 L97.8,353.7 L98.7,355.2 L99.6,357.2 L100.1,358.7 L99.9,359.2 L99.3,359.7 L97.9,360.5 L96.9,360.7Z" fill="#000" fill-opacity="0.04" stroke="#444" stroke-width="0.4"/>
<path d="M103.9,364.5 L103.4,364.5 L102.9,364.2 L102.4,363.6 L101.6,362.2 L100.7,359.7 L100.6,359.2 L101.0,358.7 L101.8,358.2 L102.4,358.0 L102.9,357.9 L103.4,358.0 L103.9,358.3 L104.4,359.0 L104.9,360.2 L105.0,361.7 L104.9,362.9 L104.4,364.2 L103.9,364.5Z" fill="#000" fill-opacity="0.04" stroke="#444" stroke-width="0.4"/>
<path d="M68.9,344.2 L65.9,344.4 L63.4,344.2 L60.9,343.5 L58.9,342.6 L57.1,341.2 L56.0,339.7 L55.7,338.7 L55.6,338.2 L55.9,337.2 L56.2,336.7 L57.4,335.4 L59.0,334.2 L61.1,333.2 L63.4,332.6 L66.4,332.2 L69.4,332.2 L72.4,332.6 L74.1,333.2 L74.6,333.7 L74.8,334.2 L74.2,335.7 L74.1,336.2 L74.3,336.7 L74.6,337.2 L76.1,339.2 L76.4,340.2 L76.2,341.2 L75.9,341.7 L75.4,342.2 L73.9,343.0 L71.4,343.8 L68.9,344.2Z" fill="#000" fill-opacity="0.04" stroke="#444" stroke-width="0.4"/>
<path d="M95.9,359.2 L94.4,359.3 L92.4,358.7 L90.4,357.5 L89.4,356.7 L88.4,355.7 L87.3,354.2 L86.8,353.2 L86.4,352.2 L86.2,351.2 L86.3,350.2 L86.5,349.7 L86.9,349.2 L87.4,348.8 L88.4,348.6 L89.4,348.7 L90.9,349.1 L92.2,349.7 L93.4,350.5 L95.3,352.2 L96.4,353.6 L97.0,354.7 L97.4,355.7 L97.6,356.7 L97.6,357.7 L97.4,358.2 L96.9,358.8 L95.9,359.2Z" fill="#000" fill-opacity="0.04" stroke="#444" stroke-width="0.4"/>
<path d="M68.9,343.3 L66.4,343.4 L64.4,343.3 L62.4,342.8 L60.4,342.0 L58.9,341.1 L58.0,340.2 L57.7,339.7 L57.4,338.7 L57.3,338.2 L57.7,337.2 L58.5,336.2 L60.3,334.7 L62.1,333.7 L63.5,333.2 L65.9,332.8 L68.4,332.6 L70.4,332.8 L72.4,333.3 L73.1,333.7 L73.3,334.2 L73.1,334.7 L72.5,335.7 L72.4,336.2 L72.5,336.7 L73.7,338.2 L74.4,339.2 L74.5,340.2 L74.4,340.7 L74.1,341.2 L73.6,341.7 L72.8,342.2 L70.9,342.9 L68.9,343.3Z" fill="#000" fill-opacity="0.04" stroke="#444" stroke-width="0.4"/>
<path d="M94.9,357.3 L93.9,357.5 L92.4,357.1 L90.9,356.2 L89.8,355.2 L88.9,354.0 L88.3,352.7 L88.3,351.7 L88.5,351.2 L88.9,350.8 L89.9,350.5 L91.4,350.9 L92.9,351.7 L94.0,352.7 L94.9,353.9 L95.5,355.2 L95.6,356.2 L95.5,356.7 L94.9,357.3Z" fill="#000" fill-opacity="0.04" stroke="#444" stroke-width="0.4"/>
<path d="M68.9,342.2 L67.4,342.4 L65.4,342.3 L63.4,342.0 L61.9,341.4 L60.6,340.7 L59.6,339.7 L59.2,338.7 L59.4,337.7 L59.9,337.1 L60.9,336.2 L63.7,334.2 L64.8,333.7 L66.4,333.4 L67.9,333.2 L69.4,333.3 L70.8,333.7 L71.3,334.2 L71.1,334.7 L70.3,335.7 L70.2,336.2 L70.4,336.7 L72.2,338.7 L72.6,339.7 L72.5,340.2 L72.2,340.7 L71.4,341.4 L70.4,341.8 L68.9,342.2Z" fill="#000" fill-opacity="0.04" stroke="#444" stroke-width="0.4"/>
<path d="M68.9,340.8 L67.9,341.0 L66.4,341.1 L64.9,341.0 L63.8,340.7 L62.8,340.2 L62.1,339.7 L61.8,339.2 L61.7,338.7 L61.8,338.2 L62.4,337.5 L63.9,336.8 L65.4,336.5 L66.9,336.8 L68.9,337.9 L69.4,338.3 L69.9,338.9 L70.0,339.2 L70.1,339.7 L69.9,340.0 L69.8,340.2 L68.9,340.8Z" fill="#000" fill-opacity="0.04" stroke="#444" stroke-width="0.4"/>
</g>
<rect x="44.90" y="279.70" width="90.50" height="90.70" fill="none" stroke="#555" stroke-width="0.8"/>
<line x1="84.20" y1="279.70" x2="84.20" y2="370.40" stroke="#444" stroke-width="0.9"/>
<line x1="44.90" y1="339.90" x2="135.40" y2="339.90" stroke="#444" stroke-width="0.9"/>
<text x="46.70" y="286.30" font-size="5.9" fill="#1a1a1a">20.80</text>
<text x="133.80" y="286.30" font-size="5.9" text-anchor="end" fill="#1a1a1a">1.20</text>
<text x="46.70" y="368.00" font-size="5.9" fill="#1a1a1a">49.10</text>
<text x="133.80" y="368.00" font-size="5.9" text-anchor="end" fill="#1a1a1a">26.76</text>
<text x="41.40" y="290.52" font-size="6.0" text-anchor="end" fill="#1a1a1a">10<tspan font-size="3.8" dy="-2.4">5</tspan></text>
<line x1="43.30" y1="288.32" x2="44.90" y2="288.32" stroke="#444" stroke-width="0.7"/>
<text x="41.40" y="310.92" font-size="6.0" text-anchor="end" fill="#1a1a1a">10<tspan font-size="3.8" dy="-2.4">4</tspan></text>
<line x1="43.30" y1="308.72" x2="44.90" y2="308.72" stroke="#444" stroke-width="0.7"/>
<text x="41.40" y="331.33" font-size="6.0" text-anchor="end" fill="#1a1a1a">10<tspan font-size="3.8" dy="-2.4">3</tspan></text>
<line x1="43.30" y1="329.13" x2="44.90" y2="329.13" stroke="#444" stroke-width="0.7"/>
<text x="41.40" y="352.65" font-size="6.0" text-anchor="end" fill="#1a1a1a">10<tspan font-size="3.8" dy="-2.4">2</tspan></text>
<line x1="43.30" y1="350.45" x2="44.90" y2="350.45" stroke="#444" stroke-width="0.7"/>
<text x="41.40" y="362.17" font-size="6.0" text-anchor="end" fill="#1a1a1a">0</text>
<text x="63.45" y="381.60" font-size="6.0" text-anchor="middle" fill="#1a1a1a">10<tspan font-size="3.8" dy="-2.4">2</tspan></text>
<line x1="63.45" y1="370.40" x2="63.45" y2="372.00" stroke="#444" stroke-width="0.7"/>
<text x="84.72" y="381.60" font-size="6.0" text-anchor="middle" fill="#1a1a1a">10<tspan font-size="3.8" dy="-2.4">3</tspan></text>
<line x1="84.72" y1="370.40" x2="84.72" y2="372.00" stroke="#444" stroke-width="0.7"/>
<text x="105.72" y="381.60" font-size="6.0" text-anchor="middle" fill="#1a1a1a">10<tspan font-size="3.8" dy="-2.4">4</tspan></text>
<line x1="105.72" y1="370.40" x2="105.72" y2="372.00" stroke="#444" stroke-width="0.7"/>
<text x="125.99" y="381.60" font-size="6.0" text-anchor="middle" fill="#1a1a1a">10<tspan font-size="3.8" dy="-2.4">5</tspan></text>
<line x1="125.99" y1="370.40" x2="125.99" y2="372.00" stroke="#444" stroke-width="0.7"/>
<text x="55.04" y="381.60" font-size="6.0" text-anchor="middle" fill="#1a1a1a">0</text>
<clipPath id="cp5"><rect x="158.90" y="279.70" width="91.40" height="90.70"/></clipPath>
<g clip-path="url(#cp5)">
<g fill="#888"><circle cx="217.0" cy="367.2" r="0.42"/><circle cx="217.3" cy="355.4" r="0.42"/><circle cx="194.2" cy="334.0" r="0.42"/><circle cx="177.2" cy="362.6" r="0.42"/><circle cx="161.8" cy="353.8" r="0.42"/><circle cx="185.1" cy="332.7" r="0.42"/><circle cx="175.2" cy="362.0" r="0.42"/><circle cx="203.2" cy="338.0" r="0.42"/><circle cx="205.3" cy="341.4" r="0.42"/><circle cx="189.5" cy="369.8" r="0.42"/><circle cx="210.3" cy="346.0" r="0.42"/><circle cx="203.8" cy="336.2" r="0.42"/><circle cx="198.5" cy="335.0" r="0.42"/><circle cx="178.6" cy="364.5" r="0.42"/><circle cx="208.2" cy="342.1" r="0.42"/><circle cx="195.8" cy="334.8" r="0.42"/><circle cx="182.5" cy="365.5" r="0.42"/><circle cx="185.7" cy="366.6" r="0.42"/><circle cx="209.9" cy="342.4" r="0.42"/><circle cx="212.1" cy="343.7" r="0.42"/><circle cx="218.1" cy="356.2" r="0.42"/><circle cx="219.0" cy="356.6" r="0.42"/><circle cx="162.3" cy="354.0" r="0.42"/><circle cx="167.0" cy="332.6" r="0.42"/><circle cx="165.6" cy="355.1" r="0.42"/><circle cx="192.7" cy="333.0" r="0.42"/><circle cx="176.7" cy="363.5" r="0.42"/><circle cx="207.2" cy="343.3" r="0.42"/><circle cx="193.9" cy="369.6" r="0.42"/><circle cx="218.3" cy="355.4" r="0.42"/><circle cx="180.5" cy="332.4" r="0.42"/><circle cx="162.4" cy="354.5" r="0.42"/><circle cx="216.6" cy="357.7" r="0.42"/><circle cx="205.0" cy="338.4" r="0.42"/><circle cx="175.5" cy="330.5" r="0.42"/><circle cx="175.3" cy="330.9" r="0.42"/><circle cx="211.1" cy="347.6" r="0.42"/><circle cx="199.3" cy="336.2" r="0.42"/><circle cx="173.9" cy="361.6" r="0.42"/><circle cx="159.4" cy="333.0" r="0.42"/><circle cx="179.6" cy="363.7" r="0.42"/><circle cx="180.8" cy="331.8" r="0.42"/><circle cx="160.0" cy="348.8" r="0.42"/><circle cx="161.1" cy="352.8" r="0.42"/><circle cx="214.9" cy="368.1" r="0.42"/><circle cx="194.6" cy="369.7" r="0.42"/><circle cx="165.7" cy="354.4" r="0.42"/><circle cx="202.8" cy="338.6" r="0.42"/><circle cx="186.1" cy="368.6" r="0.42"/><circle cx="205.2" cy="339.5" r="0.42"/><circle cx="162.5" cy="333.3" r="0.42"/><circle cx="216.2" cy="352.1" r="0.42"/><circle cx="210.7" cy="346.0" r="0.42"/><circle cx="172.0" cy="330.9" r="0.42"/><circle cx="190.7" cy="368.8" r="0.42"/><circle cx="217.7" cy="368.9" r="0.42"/><circle cx="215.6" cy="350.3" r="0.42"/><circle cx="205.7" cy="339.7" r="0.42"/><circle cx="173.2" cy="359.5" r="0.42"/><circle cx="217.8" cy="357.2" r="0.42"/><circle cx="167.9" cy="358.1" r="0.42"/><circle cx="187.4" cy="331.6" r="0.42"/><circle cx="218.1" cy="355.6" r="0.42"/><circle cx="217.6" cy="358.3" r="0.42"/><circle cx="217.1" cy="366.1" r="0.42"/><circle cx="176.3" cy="331.5" r="0.42"/><circle cx="184.3" cy="332.3" r="0.42"/><circle cx="195.6" cy="333.7" r="0.42"/><circle cx="219.1" cy="360.1" r="0.42"/><circle cx="195.5" cy="369.4" r="0.42"/><circle cx="208.4" cy="339.0" r="0.42"/><circle cx="202.9" cy="335.2" r="0.42"/><circle cx="200.0" cy="336.9" r="0.42"/><circle cx="195.3" cy="369.4" r="0.42"/><circle cx="180.2" cy="365.5" r="0.42"/><circle cx="211.6" cy="346.6" r="0.42"/><circle cx="196.2" cy="332.9" r="0.42"/><circle cx="200.1" cy="336.3" r="0.42"/><circle cx="163.4" cy="355.0" r="0.42"/><circle cx="195.0" cy="370.0" r="0.42"/><circle cx="173.3" cy="332.0" r="0.42"/><circle cx="160.1" cy="330.9" r="0.42"/><circle cx="164.7" cy="353.8" r="0.42"/><circle cx="198.9" cy="334.8" r="0.42"/><circle cx="174.6" cy="332.0" r="0.42"/><circle cx="201.4" cy="336.0" r="0.42"/><circle cx="199.7" cy="335.3" r="0.42"/><circle cx="170.7" cy="359.4" r="0.42"/><circle cx="197.7" cy="370.2" r="0.42"/><circle cx="202.3" cy="337.6" r="0.42"/></g>
<g fill="#888"><circle cx="214.5" cy="352.6" r="0.42"/><circle cx="228.6" cy="345.9" r="0.42"/><circle cx="200.9" cy="335.2" r="0.42"/><circle cx="218.5" cy="334.1" r="0.42"/><circle cx="159.4" cy="323.2" r="0.42"/><circle cx="217.8" cy="341.9" r="0.42"/><circle cx="159.0" cy="325.0" r="0.42"/><circle cx="184.5" cy="332.2" r="0.42"/><circle cx="167.3" cy="324.1" r="0.42"/><circle cx="185.0" cy="331.4" r="0.42"/><circle cx="202.4" cy="337.5" r="0.42"/><circle cx="217.8" cy="348.4" r="0.42"/><circle cx="219.5" cy="345.4" r="0.42"/><circle cx="170.3" cy="322.4" r="0.42"/><circle cx="208.6" cy="341.3" r="0.42"/><circle cx="177.3" cy="330.5" r="0.42"/><circle cx="215.4" cy="348.1" r="0.42"/><circle cx="206.9" cy="340.1" r="0.42"/><circle cx="191.5" cy="326.9" r="0.42"/><circle cx="206.9" cy="341.6" r="0.42"/><circle cx="171.2" cy="329.4" r="0.42"/><circle cx="232.2" cy="349.2" r="0.42"/><circle cx="166.0" cy="329.7" r="0.42"/><circle cx="225.9" cy="343.2" r="0.42"/><circle cx="218.5" cy="362.7" r="0.42"/><circle cx="192.8" cy="322.6" r="0.42"/><circle cx="198.4" cy="335.3" r="0.42"/><circle cx="193.1" cy="326.3" r="0.42"/><circle cx="214.2" cy="352.6" r="0.42"/><circle cx="227.3" cy="350.5" r="0.42"/><circle cx="236.3" cy="368.9" r="0.42"/><circle cx="211.7" cy="343.2" r="0.42"/><circle cx="206.7" cy="339.8" r="0.42"/><circle cx="167.3" cy="356.2" r="0.42"/><circle cx="192.7" cy="369.3" r="0.42"/><circle cx="215.1" cy="368.8" r="0.42"/><circle cx="166.9" cy="355.3" r="0.42"/><circle cx="188.8" cy="369.3" r="0.42"/><circle cx="182.1" cy="368.6" r="0.42"/><circle cx="217.3" cy="367.2" r="0.42"/><circle cx="209.7" cy="335.2" r="0.42"/><circle cx="221.6" cy="367.8" r="0.42"/><circle cx="176.8" cy="364.3" r="0.42"/><circle cx="183.7" cy="367.9" r="0.42"/><circle cx="162.9" cy="355.1" r="0.42"/><circle cx="170.7" cy="364.9" r="0.42"/><circle cx="218.8" cy="366.4" r="0.42"/><circle cx="203.0" cy="331.8" r="0.42"/><circle cx="201.2" cy="335.4" r="0.42"/><circle cx="163.3" cy="333.2" r="0.42"/><circle cx="160.9" cy="332.6" r="0.42"/><circle cx="219.5" cy="338.1" r="0.42"/><circle cx="166.7" cy="331.9" r="0.42"/><circle cx="178.4" cy="331.9" r="0.42"/><circle cx="164.6" cy="330.5" r="0.42"/><circle cx="166.4" cy="328.8" r="0.42"/><circle cx="198.0" cy="335.5" r="0.42"/><circle cx="207.9" cy="339.5" r="0.42"/></g>
<ellipse cx="186" cy="346" rx="15" ry="5" fill="url(#shd)" opacity="0.3"/>
<ellipse cx="205" cy="358" rx="7" ry="7" fill="url(#shd)" opacity="0.35"/>
<path d="M209.4,371.2 L206.9,371.6 L204.4,371.6 L201.4,371.2 L198.4,370.4 L190.4,367.5 L184.4,365.0 L179.9,362.9 L174.9,360.0 L169.4,356.4 L165.4,353.3 L161.4,349.7 L157.0,345.2 L155.3,343.2 L154.7,342.2 L154.2,341.2 L154.0,340.2 L154.0,339.2 L154.5,337.7 L155.3,336.7 L156.6,335.7 L158.4,334.7 L160.4,334.0 L162.4,333.4 L164.9,333.0 L168.4,332.6 L170.9,332.4 L174.9,332.4 L178.9,332.5 L184.4,332.9 L188.4,333.4 L191.9,334.0 L194.4,334.6 L196.3,335.2 L197.9,336.0 L198.9,336.7 L200.5,338.2 L204.9,341.3 L206.4,342.7 L207.3,343.7 L214.2,353.7 L215.2,355.7 L216.0,357.7 L216.6,360.2 L216.7,362.2 L216.5,364.2 L215.8,366.2 L214.9,367.8 L213.4,369.3 L211.4,370.5 L209.4,371.2Z" fill="#000" fill-opacity="0.04" stroke="#444" stroke-width="0.4"/>
<path d="M207.9,369.8 L205.9,370.0 L203.4,369.9 L200.9,369.4 L198.4,368.6 L192.9,366.5 L186.9,364.5 L183.9,363.4 L178.9,361.1 L174.4,358.4 L169.9,355.3 L166.1,352.2 L162.6,348.7 L159.0,344.7 L157.7,342.7 L157.1,341.2 L157.0,339.7 L157.2,338.7 L157.7,337.7 L158.5,336.7 L159.8,335.7 L161.4,335.0 L162.9,334.4 L164.9,334.0 L167.4,333.5 L172.9,333.1 L176.4,333.1 L180.9,333.3 L187.4,333.9 L190.4,334.3 L192.9,334.9 L194.4,335.5 L195.8,336.2 L197.9,338.2 L202.3,341.2 L204.5,343.2 L205.7,344.7 L207.9,347.7 L210.7,351.2 L212.2,353.2 L213.4,355.2 L214.3,357.2 L214.8,359.2 L215.1,361.7 L214.8,363.7 L214.0,365.7 L212.9,367.3 L211.4,368.5 L209.9,369.2 L207.9,369.8Z" fill="#000" fill-opacity="0.04" stroke="#444" stroke-width="0.4"/>
<path d="M187.4,355.2 L187.9,354.7 L188.1,353.7 L187.9,352.7 L187.6,352.2 L187.0,351.7 L185.9,351.2 L183.9,350.8 L182.4,350.8 L181.4,351.2 L181.4,351.7 L181.7,352.2 L183.5,353.7 L184.9,354.6 L185.9,355.0 L186.9,355.3 L187.4,355.2Z" fill="#000" fill-opacity="0.04" stroke="#444" stroke-width="0.4"/>
<path d="M208.4,368.2 L206.4,368.6 L204.4,368.6 L202.4,368.3 L200.4,367.8 L197.4,366.6 L192.9,364.3 L191.4,363.7 L190.4,363.4 L185.9,362.6 L182.4,361.4 L178.9,359.8 L174.9,357.5 L170.9,354.7 L168.1,352.2 L165.7,349.7 L161.2,344.2 L160.0,342.2 L159.6,340.7 L159.7,339.2 L160.2,337.7 L161.0,336.7 L161.6,336.2 L162.9,335.5 L164.4,335.0 L166.4,334.4 L168.9,334.0 L173.4,333.7 L178.9,333.7 L185.4,334.1 L187.9,334.4 L190.4,334.9 L192.4,335.6 L193.7,336.2 L194.4,336.7 L196.4,338.7 L200.2,341.2 L202.4,343.2 L205.9,347.7 L208.9,350.9 L210.4,352.7 L211.8,354.7 L212.6,356.2 L213.3,358.2 L213.6,360.2 L213.6,362.2 L213.3,363.7 L212.5,365.2 L211.4,366.5 L209.9,367.6 L208.4,368.2Z" fill="#000" fill-opacity="0.04" stroke="#444" stroke-width="0.4"/>
<path d="M189.2,358.2 L189.4,358.1 L189.6,357.7 L189.9,356.9 L190.0,354.2 L189.9,353.2 L189.6,352.2 L188.9,351.2 L188.1,350.7 L186.7,350.2 L183.4,349.7 L179.4,349.5 L178.3,349.7 L177.7,350.2 L177.8,350.7 L178.2,351.2 L179.3,352.2 L184.9,356.4 L186.4,357.4 L187.9,358.2 L188.4,358.3 L188.9,358.3 L189.2,358.2Z" fill="#000" fill-opacity="0.04" stroke="#444" stroke-width="0.4"/>
<path d="M206.9,367.2 L205.4,367.4 L203.9,367.3 L201.9,367.0 L200.4,366.5 L198.9,365.9 L196.9,364.8 L195.4,363.7 L194.2,362.7 L193.0,361.2 L192.1,359.2 L191.6,356.7 L191.3,352.7 L191.1,351.7 L190.9,351.2 L190.4,350.6 L189.8,350.2 L188.9,349.8 L185.9,349.2 L177.4,348.4 L174.4,348.3 L172.9,348.7 L172.8,349.2 L173.8,350.2 L179.6,354.2 L182.7,356.7 L184.0,358.2 L184.3,358.7 L184.4,359.2 L183.9,359.7 L183.4,359.7 L182.4,359.6 L180.9,359.2 L177.9,357.8 L175.2,356.2 L172.5,354.2 L170.9,352.7 L169.3,350.7 L168.5,348.7 L167.8,347.7 L164.4,344.7 L162.7,342.7 L162.1,341.7 L161.8,340.2 L162.0,338.7 L162.7,337.2 L163.2,336.7 L164.4,335.9 L166.9,335.0 L170.4,334.4 L174.9,334.1 L179.9,334.1 L185.4,334.5 L189.4,335.3 L190.8,335.7 L191.9,336.2 L192.6,336.7 L194.4,338.7 L198.3,341.2 L200.0,342.7 L201.3,344.2 L203.5,347.2 L207.4,350.9 L209.1,352.7 L210.2,354.2 L211.3,356.2 L212.1,358.2 L212.4,359.7 L212.3,361.7 L212.0,363.2 L211.2,364.7 L209.9,366.0 L208.4,366.8 L206.9,367.2Z" fill="#000" fill-opacity="0.04" stroke="#444" stroke-width="0.4"/>
<path d="M205.4,366.2 L204.4,366.2 L202.9,366.1 L201.4,365.7 L199.9,365.1 L197.4,363.7 L196.2,362.7 L195.3,361.7 L193.9,359.7 L193.1,357.7 L192.7,355.2 L192.6,351.2 L192.2,350.2 L191.6,349.7 L190.4,349.1 L188.4,348.7 L180.4,347.9 L174.4,347.0 L171.4,346.3 L168.9,345.5 L167.4,344.7 L166.0,343.7 L165.0,342.7 L164.2,341.7 L163.9,340.7 L163.8,339.7 L164.1,338.2 L164.7,337.2 L165.2,336.7 L166.0,336.2 L167.2,335.7 L168.9,335.2 L171.9,334.7 L176.4,334.5 L180.9,334.5 L185.4,335.0 L188.8,335.7 L190.0,336.2 L190.8,336.7 L192.6,338.7 L196.4,341.2 L198.2,342.7 L199.1,343.7 L200.6,346.2 L201.3,347.2 L202.4,348.2 L205.9,351.0 L207.4,352.3 L209.0,354.2 L210.2,356.2 L210.8,357.7 L211.2,359.7 L211.1,361.7 L210.5,363.2 L209.9,364.1 L209.4,364.7 L208.4,365.4 L206.9,366.0 L205.4,366.2Z" fill="#000" fill-opacity="0.04" stroke="#444" stroke-width="0.4"/>
<path d="M206.4,364.9 L205.4,365.1 L203.9,365.1 L202.4,364.9 L200.9,364.4 L199.9,364.0 L198.4,363.0 L196.9,361.8 L195.9,360.7 L194.7,358.7 L194.2,357.2 L194.0,356.2 L193.9,355.2 L194.0,353.7 L194.6,350.2 L194.6,349.7 L194.4,349.3 L193.9,348.9 L192.9,348.5 L191.4,348.2 L182.9,347.5 L178.4,346.9 L173.9,346.0 L170.9,345.0 L169.4,344.4 L167.9,343.4 L167.0,342.7 L166.2,341.7 L165.7,340.7 L165.7,339.7 L165.9,338.7 L166.3,337.7 L166.6,337.2 L167.2,336.7 L168.1,336.2 L169.5,335.7 L172.4,335.2 L175.9,334.9 L179.9,334.9 L184.0,335.2 L186.9,335.8 L188.2,336.2 L189.0,336.7 L190.8,338.7 L194.7,341.2 L196.4,342.7 L197.5,344.2 L197.8,345.2 L198.2,346.7 L198.7,347.7 L199.3,348.2 L202.9,350.2 L204.9,351.5 L206.9,353.2 L208.5,355.2 L209.3,356.7 L209.8,358.2 L210.0,359.7 L209.9,361.2 L209.3,362.7 L208.5,363.7 L207.4,364.5 L206.4,364.9Z" fill="#000" fill-opacity="0.04" stroke="#444" stroke-width="0.4"/>
<path d="M193.4,346.8 L191.9,347.0 L189.4,347.1 L183.4,346.9 L178.9,346.4 L174.4,345.3 L172.5,344.7 L170.9,344.0 L169.5,343.2 L168.4,342.2 L168.0,341.7 L167.5,340.7 L167.5,339.7 L167.8,338.7 L168.2,337.7 L168.6,337.2 L169.2,336.7 L170.9,336.0 L173.4,335.5 L176.9,335.2 L180.4,335.3 L183.9,335.7 L186.1,336.2 L187.2,336.7 L187.8,337.2 L188.4,338.2 L188.9,338.7 L193.6,341.7 L194.2,342.2 L195.0,343.2 L195.4,344.2 L195.4,345.2 L195.2,345.7 L194.7,346.2 L193.4,346.8Z" fill="#000" fill-opacity="0.04" stroke="#444" stroke-width="0.4"/>
<path d="M205.9,363.7 L204.9,363.9 L203.4,363.9 L202.4,363.8 L200.9,363.3 L199.4,362.5 L198.4,361.7 L197.3,360.7 L196.6,359.7 L195.5,357.7 L195.2,356.2 L195.1,355.2 L195.3,353.7 L195.7,352.7 L196.3,351.7 L196.9,351.1 L197.9,350.6 L198.9,350.4 L200.4,350.6 L201.9,351.0 L203.4,351.7 L204.9,352.7 L206.4,354.1 L207.3,355.2 L207.9,356.2 L208.5,357.7 L208.8,359.2 L208.8,360.2 L208.6,361.2 L207.9,362.4 L207.0,363.2 L205.9,363.7Z" fill="#000" fill-opacity="0.04" stroke="#444" stroke-width="0.4"/>
<path d="M188.9,346.2 L184.9,346.3 L180.9,346.0 L176.9,345.3 L173.4,344.2 L171.4,343.2 L170.4,342.4 L169.8,341.7 L169.5,341.2 L169.3,340.2 L170.0,338.2 L170.6,337.2 L171.4,336.7 L172.9,336.2 L175.4,335.8 L177.9,335.7 L180.9,335.8 L183.7,336.2 L185.1,336.7 L185.8,337.2 L187.0,338.7 L191.2,341.2 L192.4,342.2 L193.1,343.2 L193.3,343.7 L193.3,344.2 L193.1,344.7 L192.6,345.2 L191.4,345.8 L188.9,346.2Z" fill="#000" fill-opacity="0.04" stroke="#444" stroke-width="0.4"/>
<path d="M204.4,362.7 L202.9,362.7 L201.9,362.5 L200.9,362.1 L199.9,361.5 L198.9,360.7 L197.6,359.2 L196.8,357.7 L196.5,356.7 L196.4,355.7 L196.6,354.7 L196.9,353.8 L197.4,353.1 L197.9,352.6 L198.9,352.2 L199.9,352.0 L200.9,352.1 L201.9,352.3 L203.4,353.0 L204.4,353.7 L205.5,354.7 L206.4,355.8 L207.1,357.2 L207.4,358.2 L207.5,359.2 L207.4,360.2 L207.0,361.2 L206.4,361.8 L205.4,362.5 L204.4,362.7Z" fill="#000" fill-opacity="0.04" stroke="#444" stroke-width="0.4"/>
<path d="M188.9,345.2 L186.4,345.6 L183.4,345.6 L179.9,345.2 L176.9,344.6 L174.4,343.7 L172.6,342.7 L171.6,341.7 L171.3,341.2 L171.2,340.7 L171.3,340.2 L172.6,337.7 L173.2,337.2 L174.3,336.7 L176.4,336.3 L178.4,336.2 L180.4,336.3 L182.4,336.7 L183.4,337.2 L184.7,338.7 L188.9,340.9 L190.5,342.2 L190.9,342.7 L191.1,343.2 L191.1,343.7 L190.9,344.1 L190.2,344.7 L188.9,345.2Z" fill="#000" fill-opacity="0.04" stroke="#444" stroke-width="0.4"/>
<path d="M203.9,361.3 L202.4,361.2 L201.0,360.7 L199.6,359.7 L198.8,358.7 L198.2,357.7 L198.0,356.2 L198.1,355.2 L198.4,354.7 L198.9,354.1 L199.4,353.8 L200.4,353.6 L201.9,353.8 L202.9,354.2 L203.7,354.7 L204.4,355.3 L205.2,356.2 L205.9,357.8 L206.0,358.7 L205.9,359.6 L205.6,360.2 L205.1,360.7 L204.4,361.1 L203.9,361.3Z" fill="#000" fill-opacity="0.04" stroke="#444" stroke-width="0.4"/>
<path d="M185.4,344.7 L183.4,344.8 L181.4,344.7 L178.9,344.3 L176.9,343.7 L175.4,343.1 L174.1,342.2 L173.6,341.7 L173.4,341.2 L173.4,340.7 L173.7,340.2 L174.1,339.7 L176.7,337.7 L178.4,337.4 L179.9,337.7 L181.4,338.7 L186.4,340.8 L187.9,341.7 L188.4,342.2 L188.7,342.7 L188.8,343.2 L188.5,343.7 L187.4,344.3 L185.4,344.7Z" fill="#000" fill-opacity="0.04" stroke="#444" stroke-width="0.4"/>
<path d="M203.4,358.8 L202.9,359.1 L202.4,359.1 L201.4,358.8 L200.9,358.4 L200.4,357.7 L200.3,357.2 L200.3,356.7 L200.5,356.2 L200.9,356.0 L201.4,355.8 L202.4,356.1 L202.9,356.4 L203.4,357.0 L203.7,357.7 L203.7,358.2 L203.4,358.8Z" fill="#000" fill-opacity="0.04" stroke="#444" stroke-width="0.4"/>
<path d="M183.9,343.7 L181.4,343.7 L178.7,343.2 L177.5,342.7 L176.7,342.2 L176.3,341.7 L176.2,341.2 L176.5,340.7 L176.9,340.5 L177.9,340.2 L178.9,340.0 L180.9,340.2 L183.1,340.7 L184.4,341.2 L185.3,341.7 L185.8,342.2 L185.9,342.7 L185.6,343.2 L185.4,343.3 L183.9,343.7Z" fill="#000" fill-opacity="0.04" stroke="#444" stroke-width="0.4"/>
</g>
<rect x="158.90" y="279.70" width="91.40" height="90.70" fill="none" stroke="#555" stroke-width="0.8"/>
<line x1="197.70" y1="279.70" x2="197.70" y2="370.40" stroke="#444" stroke-width="0.9"/>
<line x1="158.90" y1="339.70" x2="250.30" y2="339.70" stroke="#444" stroke-width="0.9"/>
<text x="160.70" y="286.30" font-size="5.9" fill="#1a1a1a">7.75</text>
<text x="248.70" y="286.30" font-size="5.9" text-anchor="end" fill="#1a1a1a">0.31</text>
<text x="160.70" y="368.00" font-size="5.9" fill="#1a1a1a">55.82</text>
<text x="248.70" y="368.00" font-size="5.9" text-anchor="end" fill="#1a1a1a">34.86</text>
<text x="155.40" y="290.52" font-size="6.0" text-anchor="end" fill="#1a1a1a">10<tspan font-size="3.8" dy="-2.4">5</tspan></text>
<line x1="157.30" y1="288.32" x2="158.90" y2="288.32" stroke="#444" stroke-width="0.7"/>
<text x="155.40" y="310.92" font-size="6.0" text-anchor="end" fill="#1a1a1a">10<tspan font-size="3.8" dy="-2.4">4</tspan></text>
<line x1="157.30" y1="308.72" x2="158.90" y2="308.72" stroke="#444" stroke-width="0.7"/>
<text x="155.40" y="331.33" font-size="6.0" text-anchor="end" fill="#1a1a1a">10<tspan font-size="3.8" dy="-2.4">3</tspan></text>
<line x1="157.30" y1="329.13" x2="158.90" y2="329.13" stroke="#444" stroke-width="0.7"/>
<text x="155.40" y="352.65" font-size="6.0" text-anchor="end" fill="#1a1a1a">10<tspan font-size="3.8" dy="-2.4">2</tspan></text>
<line x1="157.30" y1="350.45" x2="158.90" y2="350.45" stroke="#444" stroke-width="0.7"/>
<text x="155.40" y="362.17" font-size="6.0" text-anchor="end" fill="#1a1a1a">0</text>
<text x="177.64" y="381.60" font-size="6.0" text-anchor="middle" fill="#1a1a1a">10<tspan font-size="3.8" dy="-2.4">2</tspan></text>
<line x1="177.64" y1="370.40" x2="177.64" y2="372.00" stroke="#444" stroke-width="0.7"/>
<text x="199.12" y="381.60" font-size="6.0" text-anchor="middle" fill="#1a1a1a">10<tspan font-size="3.8" dy="-2.4">3</tspan></text>
<line x1="199.12" y1="370.40" x2="199.12" y2="372.00" stroke="#444" stroke-width="0.7"/>
<text x="220.32" y="381.60" font-size="6.0" text-anchor="middle" fill="#1a1a1a">10<tspan font-size="3.8" dy="-2.4">4</tspan></text>
<line x1="220.32" y1="370.40" x2="220.32" y2="372.00" stroke="#444" stroke-width="0.7"/>
<text x="240.79" y="381.60" font-size="6.0" text-anchor="middle" fill="#1a1a1a">10<tspan font-size="3.8" dy="-2.4">5</tspan></text>
<line x1="240.79" y1="370.40" x2="240.79" y2="372.00" stroke="#444" stroke-width="0.7"/>
<text x="169.14" y="381.60" font-size="6.0" text-anchor="middle" fill="#1a1a1a">0</text>
<clipPath id="cp6"><rect x="273.90" y="279.70" width="91.40" height="90.70"/></clipPath>
<g clip-path="url(#cp6)">
<g fill="#888"><circle cx="287.9" cy="344.7" r="0.42"/><circle cx="313.4" cy="333.9" r="0.42"/><circle cx="302.2" cy="327.0" r="0.42"/><circle cx="289.9" cy="343.1" r="0.42"/><circle cx="291.7" cy="342.3" r="0.42"/><circle cx="276.7" cy="339.6" r="0.42"/><circle cx="287.7" cy="350.2" r="0.42"/><circle cx="323.6" cy="335.7" r="0.42"/><circle cx="293.4" cy="366.9" r="0.42"/><circle cx="335.0" cy="340.8" r="0.42"/><circle cx="285.8" cy="347.4" r="0.42"/><circle cx="339.8" cy="363.2" r="0.42"/><circle cx="282.3" cy="343.2" r="0.42"/><circle cx="276.7" cy="346.7" r="0.42"/><circle cx="281.3" cy="352.8" r="0.42"/><circle cx="293.7" cy="349.9" r="0.42"/><circle cx="294.3" cy="346.7" r="0.42"/><circle cx="277.8" cy="338.7" r="0.42"/><circle cx="317.6" cy="336.8" r="0.42"/><circle cx="336.3" cy="342.9" r="0.42"/><circle cx="335.4" cy="368.8" r="0.42"/><circle cx="281.8" cy="328.2" r="0.42"/><circle cx="290.8" cy="350.7" r="0.42"/><circle cx="286.7" cy="344.2" r="0.42"/><circle cx="286.0" cy="342.5" r="0.42"/><circle cx="331.1" cy="338.8" r="0.42"/><circle cx="336.2" cy="340.2" r="0.42"/><circle cx="285.8" cy="357.6" r="0.42"/><circle cx="279.3" cy="345.4" r="0.42"/><circle cx="277.5" cy="341.3" r="0.42"/><circle cx="321.8" cy="338.9" r="0.42"/><circle cx="296.9" cy="328.2" r="0.42"/><circle cx="296.9" cy="346.9" r="0.42"/><circle cx="301.7" cy="326.9" r="0.42"/><circle cx="325.9" cy="338.1" r="0.42"/><circle cx="339.0" cy="346.5" r="0.42"/><circle cx="284.1" cy="345.6" r="0.42"/><circle cx="282.0" cy="341.5" r="0.42"/><circle cx="283.0" cy="342.5" r="0.42"/><circle cx="308.1" cy="330.6" r="0.42"/><circle cx="291.8" cy="340.4" r="0.42"/><circle cx="276.6" cy="344.8" r="0.42"/><circle cx="290.4" cy="342.2" r="0.42"/><circle cx="338.4" cy="364.8" r="0.42"/><circle cx="306.0" cy="329.4" r="0.42"/><circle cx="276.4" cy="352.6" r="0.42"/><circle cx="286.5" cy="342.5" r="0.42"/><circle cx="313.8" cy="330.2" r="0.42"/><circle cx="336.0" cy="366.5" r="0.42"/><circle cx="327.5" cy="336.6" r="0.42"/><circle cx="281.3" cy="358.9" r="0.42"/><circle cx="275.9" cy="328.5" r="0.42"/><circle cx="339.4" cy="354.8" r="0.42"/><circle cx="287.1" cy="343.8" r="0.42"/><circle cx="312.0" cy="333.4" r="0.42"/><circle cx="281.8" cy="346.4" r="0.42"/><circle cx="285.3" cy="351.5" r="0.42"/><circle cx="285.9" cy="328.3" r="0.42"/><circle cx="338.9" cy="345.2" r="0.42"/><circle cx="335.3" cy="369.2" r="0.42"/><circle cx="301.3" cy="328.8" r="0.42"/><circle cx="336.0" cy="339.7" r="0.42"/><circle cx="278.6" cy="340.3" r="0.42"/><circle cx="287.5" cy="341.4" r="0.42"/><circle cx="316.9" cy="334.5" r="0.42"/><circle cx="276.4" cy="341.7" r="0.42"/><circle cx="274.7" cy="339.4" r="0.42"/><circle cx="334.4" cy="338.0" r="0.42"/><circle cx="314.8" cy="337.3" r="0.42"/><circle cx="337.6" cy="356.9" r="0.42"/><circle cx="283.1" cy="356.5" r="0.42"/><circle cx="290.6" cy="363.9" r="0.42"/><circle cx="274.8" cy="329.7" r="0.42"/><circle cx="313.6" cy="330.5" r="0.42"/><circle cx="330.5" cy="340.0" r="0.42"/><circle cx="289.0" cy="347.9" r="0.42"/><circle cx="278.8" cy="346.9" r="0.42"/><circle cx="290.9" cy="349.2" r="0.42"/><circle cx="288.4" cy="362.6" r="0.42"/><circle cx="339.3" cy="359.3" r="0.42"/><circle cx="291.7" cy="348.6" r="0.42"/><circle cx="303.9" cy="328.2" r="0.42"/><circle cx="295.6" cy="347.5" r="0.42"/><circle cx="295.8" cy="366.3" r="0.42"/><circle cx="282.8" cy="356.1" r="0.42"/><circle cx="288.5" cy="351.9" r="0.42"/><circle cx="283.5" cy="327.0" r="0.42"/><circle cx="291.2" cy="348.6" r="0.42"/><circle cx="324.8" cy="338.7" r="0.42"/><circle cx="281.1" cy="357.9" r="0.42"/></g>
<g fill="#888"><circle cx="320.0" cy="332.7" r="0.42"/><circle cx="274.7" cy="329.1" r="0.42"/><circle cx="314.1" cy="335.8" r="0.42"/><circle cx="295.4" cy="326.3" r="0.42"/><circle cx="289.7" cy="326.8" r="0.42"/><circle cx="280.7" cy="343.6" r="0.42"/><circle cx="283.7" cy="324.9" r="0.42"/><circle cx="284.8" cy="326.1" r="0.42"/><circle cx="319.6" cy="330.9" r="0.42"/><circle cx="298.9" cy="323.9" r="0.42"/><circle cx="280.0" cy="342.9" r="0.42"/><circle cx="311.1" cy="332.4" r="0.42"/><circle cx="309.4" cy="319.8" r="0.42"/><circle cx="289.0" cy="340.9" r="0.42"/><circle cx="319.4" cy="331.5" r="0.42"/><circle cx="291.1" cy="342.1" r="0.42"/><circle cx="289.3" cy="327.6" r="0.42"/><circle cx="304.3" cy="328.1" r="0.42"/><circle cx="345.7" cy="347.1" r="0.42"/><circle cx="354.9" cy="365.7" r="0.42"/><circle cx="293.3" cy="364.7" r="0.42"/><circle cx="340.1" cy="324.4" r="0.42"/><circle cx="312.3" cy="321.3" r="0.42"/><circle cx="278.3" cy="362.2" r="0.42"/><circle cx="278.3" cy="356.3" r="0.42"/><circle cx="336.0" cy="367.8" r="0.42"/><circle cx="343.1" cy="366.8" r="0.42"/><circle cx="337.9" cy="363.7" r="0.42"/><circle cx="334.3" cy="335.4" r="0.42"/><circle cx="350.8" cy="358.2" r="0.42"/><circle cx="298.5" cy="321.3" r="0.42"/><circle cx="351.1" cy="354.9" r="0.42"/><circle cx="315.9" cy="338.5" r="0.42"/><circle cx="327.2" cy="336.0" r="0.42"/><circle cx="340.7" cy="329.6" r="0.42"/><circle cx="286.3" cy="351.4" r="0.42"/><circle cx="335.8" cy="367.1" r="0.42"/><circle cx="335.3" cy="331.1" r="0.42"/><circle cx="333.2" cy="328.5" r="0.42"/><circle cx="337.8" cy="349.1" r="0.42"/><circle cx="333.1" cy="334.5" r="0.42"/><circle cx="335.3" cy="341.7" r="0.42"/><circle cx="341.4" cy="339.9" r="0.42"/><circle cx="289.5" cy="343.9" r="0.42"/><circle cx="329.8" cy="338.8" r="0.42"/><circle cx="291.9" cy="349.8" r="0.42"/><circle cx="346.1" cy="339.8" r="0.42"/><circle cx="338.8" cy="337.1" r="0.42"/><circle cx="289.7" cy="342.1" r="0.42"/><circle cx="293.6" cy="347.5" r="0.42"/><circle cx="278.5" cy="342.1" r="0.42"/><circle cx="323.7" cy="336.4" r="0.42"/><circle cx="334.0" cy="341.5" r="0.42"/><circle cx="341.5" cy="347.1" r="0.42"/><circle cx="337.7" cy="342.5" r="0.42"/><circle cx="325.9" cy="336.8" r="0.42"/><circle cx="340.9" cy="344.8" r="0.42"/><circle cx="284.5" cy="363.4" r="0.42"/><circle cx="291.4" cy="351.2" r="0.42"/><circle cx="288.1" cy="351.9" r="0.42"/><circle cx="287.8" cy="361.2" r="0.42"/><circle cx="279.3" cy="340.3" r="0.42"/><circle cx="284.8" cy="363.1" r="0.42"/><circle cx="281.8" cy="357.7" r="0.42"/><circle cx="295.4" cy="365.1" r="0.42"/><circle cx="282.4" cy="351.7" r="0.42"/><circle cx="284.0" cy="367.7" r="0.42"/></g>
<ellipse cx="316" cy="354" rx="13" ry="10" fill="url(#shd)" opacity="0.7"/>
<ellipse cx="291" cy="334" rx="11" ry="4" fill="url(#shd)" opacity="0.45"/>
<ellipse cx="308" cy="343" rx="7" ry="3" fill="url(#shd)" opacity="0.6"/>
<ellipse cx="330" cy="356" rx="3" ry="8" fill="url(#shd)" opacity="0.6"/>
<path d="M331.9,372.3 L330.9,372.5 L329.9,372.4 L328.9,371.9 L326.9,370.7 L325.4,370.3 L323.9,370.5 L319.9,371.5 L317.4,371.9 L313.9,372.0 L310.9,371.8 L307.4,371.1 L304.9,370.3 L301.9,369.0 L299.4,367.5 L295.4,364.5 L287.7,357.7 L285.3,355.2 L284.5,354.2 L284.1,353.2 L284.0,352.7 L284.1,352.2 L284.4,351.9 L284.9,351.7 L286.4,351.6 L290.9,352.3 L291.9,352.2 L292.9,352.0 L293.5,351.7 L294.4,351.0 L295.9,349.3 L296.9,347.7 L297.0,347.2 L296.8,346.7 L296.4,346.2 L293.3,344.2 L292.9,343.7 L292.6,343.2 L292.6,342.7 L292.9,342.2 L294.2,340.7 L293.9,340.3 L293.7,340.2 L292.4,340.0 L284.9,339.5 L281.4,339.1 L278.4,338.6 L275.9,338.0 L272.9,336.8 L271.1,335.7 L270.6,335.2 L270.2,334.2 L270.2,333.7 L270.4,333.2 L270.9,332.5 L271.9,331.7 L273.9,330.8 L276.9,329.8 L281.4,328.9 L285.9,328.5 L290.4,328.3 L295.4,328.4 L299.9,328.8 L303.4,329.4 L306.9,330.3 L309.2,331.2 L310.8,332.2 L311.8,333.2 L312.1,334.2 L312.1,334.7 L311.6,335.7 L310.0,337.2 L309.7,337.7 L310.4,338.0 L311.1,338.2 L320.4,338.9 L326.9,339.9 L330.4,340.0 L331.9,340.4 L332.9,340.9 L333.9,341.7 L334.3,342.2 L334.7,342.7 L335.1,343.7 L335.5,345.7 L336.7,349.7 L337.2,351.7 L337.5,354.7 L337.6,357.2 L337.1,361.7 L336.5,364.2 L335.5,367.2 L334.6,369.2 L333.9,370.4 L332.9,371.6 L331.9,372.3Z" fill="#000" fill-opacity="0.04" stroke="#444" stroke-width="0.4"/>
<path d="M298.4,338.8 L293.9,339.0 L288.9,339.0 L283.9,338.6 L280.4,338.0 L277.4,337.3 L274.8,336.2 L273.4,335.2 L273.1,334.7 L272.9,334.2 L272.9,333.7 L273.2,333.2 L273.6,332.7 L274.4,332.0 L276.1,331.2 L278.4,330.4 L280.9,329.9 L283.9,329.4 L289.9,329.0 L292.9,329.1 L296.4,329.3 L298.9,329.5 L301.9,330.0 L304.4,330.7 L306.4,331.4 L307.9,332.2 L308.9,333.2 L309.2,333.7 L309.2,334.2 L309.1,334.7 L308.3,335.7 L306.9,336.6 L304.9,337.5 L303.4,337.9 L300.9,338.5 L298.4,338.8Z" fill="#000" fill-opacity="0.04" stroke="#444" stroke-width="0.4"/>
<path d="M331.9,370.3 L330.9,370.6 L329.9,370.5 L328.9,370.0 L326.9,368.8 L326.4,368.6 L325.4,368.4 L323.9,368.7 L319.9,369.8 L317.4,370.2 L313.9,370.3 L310.4,370.0 L307.4,369.3 L304.4,368.2 L301.9,366.9 L298.9,364.9 L296.4,362.7 L294.6,360.7 L293.5,359.2 L292.9,357.7 L292.9,356.7 L293.2,356.2 L294.9,354.5 L295.9,353.3 L299.2,348.2 L299.6,347.2 L299.6,346.7 L299.1,346.2 L296.4,344.5 L295.5,343.7 L295.3,343.2 L295.3,342.7 L295.7,342.2 L296.4,341.7 L297.9,340.9 L299.4,340.4 L301.4,339.9 L305.9,339.4 L311.9,339.2 L317.4,339.4 L321.9,339.9 L326.9,340.8 L330.4,341.3 L331.4,341.6 L332.4,342.2 L332.9,342.7 L333.6,343.7 L335.7,349.7 L336.4,353.2 L336.6,355.2 L336.6,357.2 L336.4,359.2 L336.1,361.7 L335.7,363.7 L335.0,365.7 L334.2,367.7 L333.6,368.7 L332.9,369.5 L331.9,370.3Z" fill="#000" fill-opacity="0.04" stroke="#444" stroke-width="0.4"/>
<path d="M294.9,338.2 L291.4,338.3 L287.9,338.2 L284.4,337.9 L280.9,337.3 L278.4,336.6 L276.6,335.7 L275.9,335.2 L275.5,334.7 L275.3,334.2 L275.3,333.7 L275.6,333.2 L275.9,332.8 L276.7,332.2 L278.4,331.4 L280.4,330.8 L282.4,330.4 L285.4,330.0 L290.9,329.7 L293.9,329.8 L296.9,330.0 L299.4,330.4 L301.9,330.9 L303.9,331.5 L305.3,332.2 L306.0,332.7 L306.5,333.2 L306.8,333.7 L306.8,334.2 L306.6,334.7 L306.3,335.2 L305.4,335.8 L303.9,336.6 L302.4,337.1 L300.4,337.5 L297.9,337.9 L294.9,338.2Z" fill="#000" fill-opacity="0.04" stroke="#444" stroke-width="0.4"/>
<path d="M331.4,368.9 L330.9,369.0 L329.9,368.8 L328.9,368.4 L326.9,367.1 L325.9,366.7 L325.4,366.7 L324.4,366.9 L320.4,368.2 L317.9,368.7 L314.9,368.9 L311.4,368.7 L308.9,368.2 L306.4,367.4 L303.9,366.2 L301.4,364.6 L299.7,363.2 L298.0,361.2 L297.4,360.2 L297.0,359.2 L296.9,357.7 L297.3,355.7 L298.5,352.7 L299.6,350.7 L301.8,347.7 L302.0,347.2 L302.0,346.7 L301.6,346.2 L300.9,345.7 L298.2,344.2 L297.7,343.7 L297.5,343.2 L297.6,342.7 L298.0,342.2 L299.4,341.5 L300.9,341.0 L302.9,340.5 L307.9,339.9 L313.4,339.8 L317.9,340.0 L321.9,340.5 L323.9,341.0 L329.9,342.6 L331.2,343.2 L331.9,343.9 L332.9,345.5 L333.9,347.3 L334.7,349.2 L335.1,350.7 L335.5,352.7 L335.8,356.2 L335.8,358.2 L335.6,360.2 L335.2,362.2 L334.7,364.2 L334.1,365.7 L333.3,367.2 L332.4,368.2 L331.4,368.9Z" fill="#000" fill-opacity="0.04" stroke="#444" stroke-width="0.4"/>
<path d="M291.4,337.7 L288.4,337.6 L285.9,337.4 L283.4,337.1 L281.4,336.6 L279.4,335.9 L278.2,335.2 L277.7,334.7 L277.5,334.2 L277.5,333.7 L277.8,333.2 L278.3,332.7 L279.2,332.2 L281.9,331.3 L283.9,330.8 L286.4,330.5 L290.9,330.3 L295.4,330.5 L297.9,330.8 L299.9,331.2 L301.6,331.7 L302.8,332.2 L303.9,332.9 L304.2,333.2 L304.5,333.7 L304.6,334.2 L304.3,334.7 L303.9,335.2 L302.9,335.8 L300.9,336.6 L298.9,337.0 L296.4,337.4 L291.4,337.7Z" fill="#000" fill-opacity="0.04" stroke="#444" stroke-width="0.4"/>
<path d="M331.4,367.3 L330.9,367.5 L329.9,367.4 L328.9,366.8 L326.9,365.5 L325.9,365.2 L324.9,365.3 L320.9,366.8 L318.4,367.4 L315.4,367.7 L311.9,367.5 L309.4,367.0 L306.9,366.1 L304.9,365.2 L302.9,363.8 L301.2,362.2 L300.1,360.7 L299.7,359.7 L299.4,358.7 L299.3,356.7 L299.6,354.7 L300.5,352.2 L301.8,350.2 L303.9,347.7 L304.2,347.2 L304.3,346.7 L303.9,346.2 L303.2,345.7 L300.9,344.5 L299.9,343.8 L299.5,343.2 L299.7,342.7 L300.3,342.2 L301.9,341.5 L303.9,341.0 L306.9,340.6 L312.4,340.3 L317.9,340.5 L320.9,341.0 L322.9,341.4 L325.0,342.2 L325.8,342.7 L326.3,343.2 L326.5,343.7 L326.3,344.2 L325.5,345.2 L325.2,345.7 L325.2,346.2 L325.9,346.7 L326.4,346.8 L327.2,346.7 L328.9,345.8 L329.9,345.5 L330.4,345.5 L331.4,345.9 L332.4,346.8 L332.9,347.5 L333.6,348.7 L334.2,350.2 L334.9,353.2 L335.2,356.7 L335.1,358.7 L334.8,360.7 L334.0,363.7 L333.4,365.2 L332.9,366.0 L332.3,366.7 L331.4,367.3Z" fill="#000" fill-opacity="0.04" stroke="#444" stroke-width="0.4"/>
<path d="M296.4,336.7 L293.4,337.0 L290.4,337.1 L287.4,336.9 L284.9,336.6 L282.4,336.0 L280.5,335.2 L280.0,334.7 L279.7,334.2 L279.7,333.7 L280.0,333.2 L280.7,332.7 L281.8,332.2 L283.4,331.7 L286.9,331.1 L290.9,330.9 L294.9,331.1 L298.6,331.7 L300.2,332.2 L301.3,332.7 L302.0,333.2 L302.3,333.7 L302.3,334.2 L302.1,334.7 L301.5,335.2 L300.9,335.5 L299.1,336.2 L296.4,336.7Z" fill="#000" fill-opacity="0.04" stroke="#444" stroke-width="0.4"/>
<path d="M317.9,366.3 L315.9,366.5 L313.4,366.5 L310.9,366.1 L308.9,365.6 L306.9,364.7 L304.9,363.5 L303.4,362.2 L302.2,360.7 L301.5,359.2 L301.0,357.2 L301.1,355.7 L301.5,353.7 L302.1,352.2 L303.1,350.7 L304.4,349.3 L306.2,347.7 L306.6,347.2 L306.7,346.7 L306.4,346.2 L305.7,345.7 L302.9,344.4 L301.8,343.7 L301.6,343.2 L301.8,342.7 L302.5,342.2 L303.8,341.7 L305.9,341.3 L310.4,340.8 L315.9,340.9 L318.4,341.1 L320.4,341.5 L322.7,342.2 L323.6,342.7 L323.9,343.2 L324.0,343.7 L323.7,344.2 L322.4,345.7 L322.3,346.2 L322.6,346.7 L323.9,347.8 L325.4,348.5 L326.4,348.7 L327.4,348.5 L329.4,347.5 L330.4,347.3 L330.9,347.4 L331.9,348.0 L332.9,349.2 L333.6,350.7 L334.1,352.7 L334.5,355.2 L334.5,357.2 L334.3,359.7 L333.9,361.7 L333.2,363.7 L332.4,365.1 L331.4,365.9 L330.4,366.0 L329.4,365.7 L326.9,363.9 L326.4,363.7 L325.4,363.6 L324.4,363.9 L320.9,365.5 L317.9,366.3Z" fill="#000" fill-opacity="0.04" stroke="#444" stroke-width="0.4"/>
<path d="M294.9,336.2 L292.9,336.4 L290.4,336.5 L287.9,336.3 L285.9,336.0 L284.4,335.7 L283.1,335.2 L282.3,334.7 L282.0,334.2 L282.0,333.7 L282.4,333.2 L283.3,332.7 L284.9,332.2 L287.7,331.7 L290.9,331.5 L294.3,331.7 L297.2,332.2 L298.9,332.8 L299.6,333.2 L300.0,333.7 L300.0,334.2 L299.7,334.7 L298.9,335.2 L297.4,335.8 L294.9,336.2Z" fill="#000" fill-opacity="0.04" stroke="#444" stroke-width="0.4"/>
<path d="M317.4,365.2 L315.4,365.4 L313.4,365.4 L311.4,365.1 L309.4,364.5 L307.6,363.7 L306.1,362.7 L304.9,361.7 L303.7,360.2 L303.0,358.7 L302.6,356.7 L302.7,354.7 L303.2,353.2 L304.0,351.7 L305.3,350.2 L306.9,348.9 L309.4,347.2 L309.8,346.7 L309.5,346.2 L308.6,345.7 L305.8,344.7 L304.4,344.0 L303.9,343.7 L303.6,343.2 L303.9,342.7 L304.8,342.2 L306.4,341.8 L310.4,341.3 L312.9,341.2 L315.4,341.3 L317.9,341.6 L319.4,341.9 L320.4,342.2 L321.4,342.7 L321.9,343.2 L321.9,343.7 L321.5,344.2 L319.5,345.7 L319.3,346.2 L319.5,346.7 L320.3,347.2 L324.9,350.0 L325.9,350.4 L326.9,350.4 L329.4,349.0 L330.4,348.8 L331.4,349.1 L331.9,349.5 L332.4,350.2 L333.1,351.7 L333.6,353.2 L333.9,355.2 L333.9,357.2 L333.8,359.2 L333.3,361.2 L332.8,362.7 L331.9,364.0 L331.4,364.4 L330.9,364.6 L329.9,364.5 L328.9,363.9 L326.9,362.2 L325.9,361.9 L324.9,362.1 L322.4,363.6 L320.9,364.3 L319.4,364.8 L317.4,365.2Z" fill="#000" fill-opacity="0.04" stroke="#444" stroke-width="0.4"/>
<path d="M291.9,335.7 L288.9,335.6 L286.4,335.2 L285.2,334.7 L284.7,334.2 L284.7,333.7 L285.4,333.2 L286.8,332.7 L288.9,332.4 L290.9,332.3 L292.9,332.4 L295.2,332.7 L296.6,333.2 L297.3,333.7 L297.3,334.2 L296.9,334.6 L295.9,335.1 L293.9,335.5 L291.9,335.7Z" fill="#000" fill-opacity="0.04" stroke="#444" stroke-width="0.4"/>
<path d="M315.9,345.3 L314.9,345.4 L313.4,345.5 L309.9,345.0 L307.2,344.2 L306.3,343.7 L306.0,343.2 L306.4,342.7 L307.8,342.2 L309.9,341.9 L312.4,341.8 L314.9,341.8 L317.4,342.2 L319.0,342.7 L319.5,343.2 L319.5,343.7 L318.9,344.2 L317.4,344.9 L315.9,345.3Z" fill="#000" fill-opacity="0.04" stroke="#444" stroke-width="0.4"/>
<path d="M316.9,364.2 L315.4,364.3 L313.4,364.3 L311.9,364.0 L310.4,363.6 L308.9,363.0 L307.6,362.2 L306.3,361.2 L305.4,360.2 L304.8,359.2 L304.2,357.7 L304.1,356.7 L304.1,355.2 L304.5,353.7 L305.0,352.7 L305.9,351.4 L306.9,350.4 L308.9,349.1 L311.4,348.0 L313.4,347.5 L315.4,347.4 L316.9,347.6 L318.4,348.0 L320.9,349.0 L322.4,349.9 L324.9,351.9 L325.9,352.5 L326.4,352.6 L326.9,352.4 L328.9,350.9 L329.9,350.4 L330.4,350.3 L330.9,350.4 L331.4,350.7 L331.9,351.2 L332.5,352.2 L332.9,353.7 L333.2,355.2 L333.3,357.2 L333.1,359.2 L332.7,360.7 L332.0,362.2 L331.4,362.8 L330.9,363.1 L330.4,363.1 L329.9,363.0 L328.9,362.2 L326.9,360.1 L326.4,359.8 L325.9,359.7 L324.9,360.2 L322.4,362.1 L320.9,363.0 L318.9,363.8 L316.9,364.2Z" fill="#000" fill-opacity="0.04" stroke="#444" stroke-width="0.4"/>
<path d="M292.4,334.3 L290.9,334.4 L289.3,334.2 L289.5,333.7 L291.4,333.6 L292.5,333.7 L292.7,334.2 L292.4,334.3Z" fill="#000" fill-opacity="0.04" stroke="#444" stroke-width="0.4"/>
<path d="M314.4,344.2 L312.4,344.2 L310.9,344.0 L309.6,343.7 L309.2,343.2 L310.2,342.7 L312.9,342.5 L315.2,342.7 L316.4,343.2 L316.2,343.7 L314.4,344.2Z" fill="#000" fill-opacity="0.04" stroke="#444" stroke-width="0.4"/>
<path d="M315.4,363.2 L313.4,363.1 L311.9,362.8 L310.4,362.3 L308.9,361.6 L307.4,360.4 L306.5,359.2 L306.0,358.2 L305.6,356.7 L305.6,355.2 L305.9,354.2 L306.6,352.7 L307.4,351.7 L308.6,350.7 L309.9,349.9 L311.4,349.3 L313.4,348.9 L315.4,348.8 L317.4,349.0 L319.4,349.6 L320.9,350.4 L322.4,351.5 L323.5,352.7 L324.4,354.2 L324.9,355.7 L324.8,356.7 L324.2,358.2 L323.2,359.7 L321.9,360.9 L320.4,361.9 L318.9,362.6 L317.4,363.0 L315.4,363.2Z" fill="#000" fill-opacity="0.04" stroke="#444" stroke-width="0.4"/>
<path d="M330.9,361.3 L330.4,361.3 L329.9,361.2 L328.9,360.2 L328.1,358.7 L327.7,357.7 L327.5,356.7 L327.7,355.2 L328.3,353.7 L329.4,352.4 L329.9,352.1 L330.4,352.0 L330.9,352.2 L331.4,352.6 L331.9,353.4 L332.3,354.7 L332.5,356.2 L332.4,358.2 L332.1,359.7 L331.4,360.9 L330.9,361.3Z" fill="#000" fill-opacity="0.04" stroke="#444" stroke-width="0.4"/>
<path d="M317.4,361.8 L314.9,362.0 L313.4,361.9 L312.4,361.7 L311.0,361.2 L310.0,360.7 L308.9,359.9 L308.3,359.2 L307.6,358.2 L307.2,357.2 L307.1,356.2 L307.2,355.2 L307.5,354.2 L308.0,353.2 L309.4,351.7 L310.9,350.8 L312.4,350.3 L313.9,350.0 L315.9,350.0 L317.4,350.2 L318.9,350.8 L320.4,351.6 L321.6,352.7 L322.3,353.7 L322.9,355.2 L322.9,356.2 L322.6,357.7 L321.7,359.2 L320.7,360.2 L319.0,361.2 L317.4,361.8Z" fill="#000" fill-opacity="0.04" stroke="#444" stroke-width="0.4"/>
<path d="M330.4,358.7 L329.8,358.2 L329.4,357.2 L329.4,356.7 L329.5,355.7 L329.7,355.2 L329.9,354.9 L330.4,354.7 L330.9,354.9 L331.0,355.2 L331.4,356.7 L331.1,358.2 L330.9,358.5 L330.4,358.7Z" fill="#000" fill-opacity="0.04" stroke="#444" stroke-width="0.4"/>
<path d="M314.9,360.7 L313.4,360.5 L312.4,360.3 L311.4,359.8 L310.5,359.2 L309.9,358.6 L309.3,357.7 L308.9,356.7 L308.9,355.7 L309.1,354.7 L309.4,354.1 L310.1,353.2 L310.9,352.5 L311.9,351.9 L312.9,351.6 L313.9,351.4 L315.4,351.3 L317.5,351.7 L318.4,352.1 L319.4,352.7 L319.9,353.2 L320.7,354.2 L321.1,355.2 L321.1,356.2 L320.7,357.7 L320.0,358.7 L319.4,359.3 L318.4,359.9 L317.4,360.3 L316.4,360.6 L314.9,360.7Z" fill="#000" fill-opacity="0.04" stroke="#444" stroke-width="0.4"/>
<path d="M316.4,358.8 L315.4,359.0 L313.9,358.9 L312.9,358.5 L311.8,357.7 L311.2,356.7 L311.1,355.7 L311.4,354.9 L311.9,354.2 L312.5,353.7 L313.4,353.3 L314.9,353.0 L316.4,353.2 L317.4,353.6 L318.1,354.2 L318.8,355.2 L318.9,355.7 L318.8,356.7 L318.4,357.5 L317.9,358.0 L317.4,358.4 L316.4,358.8Z" fill="#000" fill-opacity="0.04" stroke="#444" stroke-width="0.4"/>
</g>
<rect x="273.90" y="279.70" width="91.40" height="90.70" fill="none" stroke="#555" stroke-width="0.8"/>
<line x1="313.20" y1="279.70" x2="313.20" y2="370.40" stroke="#444" stroke-width="0.9"/>
<line x1="273.90" y1="339.70" x2="365.30" y2="339.70" stroke="#444" stroke-width="0.9"/>
<text x="275.70" y="286.30" font-size="5.9" fill="#1a1a1a">16.22</text>
<text x="363.70" y="286.30" font-size="5.9" text-anchor="end" fill="#1a1a1a">0.52</text>
<text x="275.70" y="368.00" font-size="5.9" fill="#1a1a1a">34.32</text>
<text x="363.70" y="368.00" font-size="5.9" text-anchor="end" fill="#1a1a1a">47.00</text>
<text x="270.40" y="290.52" font-size="6.0" text-anchor="end" fill="#1a1a1a">10<tspan font-size="3.8" dy="-2.4">5</tspan></text>
<line x1="272.30" y1="288.32" x2="273.90" y2="288.32" stroke="#444" stroke-width="0.7"/>
<text x="270.40" y="310.92" font-size="6.0" text-anchor="end" fill="#1a1a1a">10<tspan font-size="3.8" dy="-2.4">4</tspan></text>
<line x1="272.30" y1="308.72" x2="273.90" y2="308.72" stroke="#444" stroke-width="0.7"/>
<text x="270.40" y="331.33" font-size="6.0" text-anchor="end" fill="#1a1a1a">10<tspan font-size="3.8" dy="-2.4">3</tspan></text>
<line x1="272.30" y1="329.13" x2="273.90" y2="329.13" stroke="#444" stroke-width="0.7"/>
<text x="270.40" y="352.65" font-size="6.0" text-anchor="end" fill="#1a1a1a">10<tspan font-size="3.8" dy="-2.4">2</tspan></text>
<line x1="272.30" y1="350.45" x2="273.90" y2="350.45" stroke="#444" stroke-width="0.7"/>
<text x="270.40" y="362.17" font-size="6.0" text-anchor="end" fill="#1a1a1a">0</text>
<text x="292.64" y="381.60" font-size="6.0" text-anchor="middle" fill="#1a1a1a">10<tspan font-size="3.8" dy="-2.4">2</tspan></text>
<line x1="292.64" y1="370.40" x2="292.64" y2="372.00" stroke="#444" stroke-width="0.7"/>
<text x="314.12" y="381.60" font-size="6.0" text-anchor="middle" fill="#1a1a1a">10<tspan font-size="3.8" dy="-2.4">3</tspan></text>
<line x1="314.12" y1="370.40" x2="314.12" y2="372.00" stroke="#444" stroke-width="0.7"/>
<text x="335.32" y="381.60" font-size="6.0" text-anchor="middle" fill="#1a1a1a">10<tspan font-size="3.8" dy="-2.4">4</tspan></text>
<line x1="335.32" y1="370.40" x2="335.32" y2="372.00" stroke="#444" stroke-width="0.7"/>
<text x="355.79" y="381.60" font-size="6.0" text-anchor="middle" fill="#1a1a1a">10<tspan font-size="3.8" dy="-2.4">5</tspan></text>
<line x1="355.79" y1="370.40" x2="355.79" y2="372.00" stroke="#444" stroke-width="0.7"/>
<text x="284.14" y="381.60" font-size="6.0" text-anchor="middle" fill="#1a1a1a">0</text>
<clipPath id="cp7"><rect x="44.90" y="395.40" width="90.10" height="91.20"/></clipPath>
<g clip-path="url(#cp7)">
<g fill="#444"><circle cx="106.3" cy="440.6" r="0.42"/><circle cx="78.2" cy="451.8" r="0.42"/><circle cx="109.9" cy="423.3" r="0.42"/><circle cx="118.2" cy="472.8" r="0.42"/><circle cx="100.6" cy="448.4" r="0.42"/><circle cx="121.1" cy="467.2" r="0.42"/><circle cx="125.1" cy="440.6" r="0.42"/><circle cx="94.9" cy="452.3" r="0.42"/><circle cx="121.9" cy="424.7" r="0.42"/><circle cx="107.5" cy="438.3" r="0.42"/><circle cx="122.3" cy="438.3" r="0.42"/><circle cx="99.5" cy="453.1" r="0.42"/><circle cx="123.7" cy="445.1" r="0.42"/><circle cx="92.3" cy="445.5" r="0.42"/><circle cx="126.4" cy="435.1" r="0.42"/><circle cx="105.3" cy="439.5" r="0.42"/><circle cx="105.0" cy="441.1" r="0.42"/><circle cx="103.8" cy="452.0" r="0.42"/><circle cx="114.9" cy="422.0" r="0.42"/><circle cx="120.8" cy="467.7" r="0.42"/><circle cx="118.3" cy="474.7" r="0.42"/><circle cx="115.2" cy="425.1" r="0.42"/><circle cx="126.2" cy="432.5" r="0.42"/><circle cx="116.2" cy="478.7" r="0.42"/><circle cx="120.6" cy="470.7" r="0.42"/><circle cx="62.8" cy="449.2" r="0.42"/><circle cx="97.1" cy="441.4" r="0.42"/><circle cx="93.6" cy="456.2" r="0.42"/><circle cx="93.0" cy="452.2" r="0.42"/><circle cx="86.4" cy="483.6" r="0.42"/><circle cx="82.2" cy="450.7" r="0.42"/><circle cx="105.3" cy="430.1" r="0.42"/><circle cx="124.9" cy="435.5" r="0.42"/><circle cx="119.2" cy="425.4" r="0.42"/><circle cx="122.7" cy="473.6" r="0.42"/><circle cx="111.1" cy="482.7" r="0.42"/><circle cx="117.7" cy="425.5" r="0.42"/><circle cx="100.0" cy="448.4" r="0.42"/><circle cx="117.9" cy="419.3" r="0.42"/><circle cx="108.1" cy="431.6" r="0.42"/><circle cx="109.6" cy="484.7" r="0.42"/><circle cx="92.9" cy="450.3" r="0.42"/><circle cx="112.4" cy="424.1" r="0.42"/><circle cx="123.1" cy="469.3" r="0.42"/><circle cx="98.7" cy="447.4" r="0.42"/><circle cx="118.9" cy="469.1" r="0.42"/><circle cx="126.3" cy="465.2" r="0.42"/><circle cx="106.9" cy="436.3" r="0.42"/><circle cx="100.2" cy="454.7" r="0.42"/><circle cx="101.5" cy="449.7" r="0.42"/><circle cx="98.8" cy="454.2" r="0.42"/><circle cx="125.2" cy="465.5" r="0.42"/><circle cx="117.6" cy="482.4" r="0.42"/><circle cx="121.9" cy="430.8" r="0.42"/><circle cx="121.9" cy="422.7" r="0.42"/><circle cx="128.0" cy="458.9" r="0.42"/><circle cx="103.1" cy="440.6" r="0.42"/><circle cx="53.3" cy="447.5" r="0.42"/><circle cx="118.7" cy="469.2" r="0.42"/><circle cx="105.7" cy="433.0" r="0.42"/><circle cx="121.5" cy="465.2" r="0.42"/><circle cx="114.9" cy="422.8" r="0.42"/><circle cx="94.0" cy="454.3" r="0.42"/><circle cx="107.8" cy="426.6" r="0.42"/><circle cx="123.9" cy="438.4" r="0.42"/><circle cx="104.3" cy="430.9" r="0.42"/><circle cx="124.7" cy="439.3" r="0.42"/><circle cx="123.0" cy="463.9" r="0.42"/><circle cx="119.5" cy="477.2" r="0.42"/><circle cx="122.1" cy="432.2" r="0.42"/><circle cx="102.5" cy="454.0" r="0.42"/><circle cx="98.0" cy="443.5" r="0.42"/><circle cx="125.7" cy="437.3" r="0.42"/><circle cx="123.3" cy="467.8" r="0.42"/><circle cx="92.4" cy="455.7" r="0.42"/><circle cx="84.7" cy="484.1" r="0.42"/><circle cx="98.6" cy="454.4" r="0.42"/><circle cx="100.6" cy="438.5" r="0.42"/><circle cx="72.2" cy="449.5" r="0.42"/><circle cx="117.3" cy="423.4" r="0.42"/><circle cx="123.1" cy="477.0" r="0.42"/><circle cx="120.5" cy="423.9" r="0.42"/><circle cx="126.0" cy="453.8" r="0.42"/><circle cx="107.7" cy="439.5" r="0.42"/><circle cx="126.8" cy="445.7" r="0.42"/><circle cx="120.2" cy="482.0" r="0.42"/><circle cx="118.4" cy="473.1" r="0.42"/><circle cx="118.0" cy="470.8" r="0.42"/><circle cx="128.0" cy="448.7" r="0.42"/><circle cx="119.9" cy="479.5" r="0.42"/><circle cx="99.0" cy="443.5" r="0.42"/><circle cx="123.0" cy="465.2" r="0.42"/><circle cx="125.3" cy="447.8" r="0.42"/><circle cx="107.7" cy="433.8" r="0.42"/><circle cx="125.0" cy="438.2" r="0.42"/><circle cx="107.0" cy="433.1" r="0.42"/><circle cx="110.7" cy="426.7" r="0.42"/><circle cx="125.9" cy="451.7" r="0.42"/><circle cx="120.2" cy="471.6" r="0.42"/><circle cx="108.3" cy="484.6" r="0.42"/><circle cx="120.4" cy="466.2" r="0.42"/><circle cx="125.0" cy="431.2" r="0.42"/><circle cx="126.4" cy="468.2" r="0.42"/><circle cx="116.4" cy="474.2" r="0.42"/><circle cx="92.6" cy="447.6" r="0.42"/><circle cx="116.8" cy="478.3" r="0.42"/><circle cx="78.3" cy="452.5" r="0.42"/><circle cx="99.4" cy="438.9" r="0.42"/><circle cx="123.9" cy="451.5" r="0.42"/><circle cx="104.2" cy="458.0" r="0.42"/><circle cx="121.2" cy="477.7" r="0.42"/><circle cx="77.9" cy="448.2" r="0.42"/><circle cx="121.0" cy="466.2" r="0.42"/><circle cx="106.1" cy="430.2" r="0.42"/><circle cx="107.8" cy="485.5" r="0.42"/><circle cx="125.2" cy="466.7" r="0.42"/><circle cx="83.0" cy="484.8" r="0.42"/><circle cx="108.3" cy="426.3" r="0.42"/><circle cx="94.8" cy="445.7" r="0.42"/><circle cx="101.1" cy="457.8" r="0.42"/><circle cx="108.2" cy="424.4" r="0.42"/><circle cx="105.2" cy="456.9" r="0.42"/><circle cx="123.1" cy="465.5" r="0.42"/><circle cx="124.9" cy="445.2" r="0.42"/><circle cx="105.9" cy="441.3" r="0.42"/><circle cx="121.1" cy="427.9" r="0.42"/><circle cx="99.6" cy="454.5" r="0.42"/><circle cx="124.8" cy="446.6" r="0.42"/><circle cx="91.4" cy="486.5" r="0.42"/><circle cx="121.7" cy="428.8" r="0.42"/><circle cx="95.2" cy="447.3" r="0.42"/><circle cx="99.6" cy="442.7" r="0.42"/><circle cx="100.7" cy="441.6" r="0.42"/><circle cx="95.9" cy="486.6" r="0.42"/><circle cx="99.5" cy="448.9" r="0.42"/><circle cx="80.4" cy="447.8" r="0.42"/><circle cx="114.9" cy="423.3" r="0.42"/><circle cx="55.9" cy="450.6" r="0.42"/><circle cx="118.0" cy="481.7" r="0.42"/><circle cx="122.6" cy="441.0" r="0.42"/><circle cx="106.4" cy="430.2" r="0.42"/><circle cx="88.6" cy="485.7" r="0.42"/><circle cx="108.9" cy="429.6" r="0.42"/><circle cx="119.5" cy="471.6" r="0.42"/><circle cx="111.6" cy="424.2" r="0.42"/><circle cx="89.9" cy="450.4" r="0.42"/><circle cx="106.0" cy="441.2" r="0.42"/><circle cx="114.9" cy="478.5" r="0.42"/><circle cx="122.7" cy="423.7" r="0.42"/><circle cx="126.5" cy="461.9" r="0.42"/><circle cx="119.4" cy="467.6" r="0.42"/><circle cx="90.5" cy="455.9" r="0.42"/><circle cx="125.8" cy="441.6" r="0.42"/><circle cx="105.9" cy="425.8" r="0.42"/><circle cx="93.4" cy="455.0" r="0.42"/><circle cx="120.1" cy="483.8" r="0.42"/><circle cx="105.0" cy="456.1" r="0.42"/><circle cx="64.8" cy="449.4" r="0.42"/><circle cx="122.1" cy="482.0" r="0.42"/><circle cx="125.0" cy="465.2" r="0.42"/><circle cx="121.0" cy="428.7" r="0.42"/><circle cx="127.4" cy="454.3" r="0.42"/><circle cx="100.2" cy="452.3" r="0.42"/><circle cx="112.9" cy="421.8" r="0.42"/><circle cx="107.2" cy="425.8" r="0.42"/><circle cx="112.7" cy="485.5" r="0.42"/><circle cx="100.7" cy="437.9" r="0.42"/><circle cx="126.6" cy="466.4" r="0.42"/><circle cx="116.7" cy="472.0" r="0.42"/><circle cx="121.0" cy="420.5" r="0.42"/><circle cx="105.1" cy="456.0" r="0.42"/><circle cx="77.1" cy="450.1" r="0.42"/><circle cx="93.8" cy="451.5" r="0.42"/><circle cx="123.8" cy="460.5" r="0.42"/><circle cx="95.2" cy="452.6" r="0.42"/><circle cx="96.4" cy="483.6" r="0.42"/><circle cx="106.2" cy="439.9" r="0.42"/><circle cx="125.3" cy="431.5" r="0.42"/><circle cx="116.4" cy="473.2" r="0.42"/><circle cx="100.5" cy="450.1" r="0.42"/><circle cx="60.2" cy="451.2" r="0.42"/><circle cx="72.5" cy="451.9" r="0.42"/><circle cx="108.1" cy="425.7" r="0.42"/><circle cx="123.1" cy="431.0" r="0.42"/><circle cx="127.6" cy="450.0" r="0.42"/><circle cx="105.3" cy="484.9" r="0.42"/><circle cx="122.0" cy="438.9" r="0.42"/><circle cx="93.8" cy="453.9" r="0.42"/><circle cx="91.3" cy="455.1" r="0.42"/><circle cx="96.9" cy="484.4" r="0.42"/><circle cx="88.0" cy="484.5" r="0.42"/><circle cx="84.1" cy="451.4" r="0.42"/><circle cx="124.4" cy="441.9" r="0.42"/><circle cx="67.4" cy="451.0" r="0.42"/><circle cx="116.6" cy="472.9" r="0.42"/><circle cx="125.1" cy="432.4" r="0.42"/><circle cx="104.8" cy="457.4" r="0.42"/><circle cx="125.4" cy="471.7" r="0.42"/><circle cx="112.9" cy="485.6" r="0.42"/><circle cx="90.6" cy="485.3" r="0.42"/><circle cx="99.5" cy="484.7" r="0.42"/><circle cx="115.9" cy="478.8" r="0.42"/><circle cx="107.1" cy="425.9" r="0.42"/><circle cx="116.8" cy="418.0" r="0.42"/><circle cx="120.3" cy="481.3" r="0.42"/><circle cx="123.8" cy="472.8" r="0.42"/><circle cx="97.9" cy="444.4" r="0.42"/><circle cx="120.1" cy="420.6" r="0.42"/><circle cx="121.4" cy="422.1" r="0.42"/><circle cx="116.2" cy="480.8" r="0.42"/><circle cx="120.2" cy="481.0" r="0.42"/><circle cx="98.1" cy="440.0" r="0.42"/><circle cx="122.0" cy="432.0" r="0.42"/><circle cx="119.0" cy="425.6" r="0.42"/><circle cx="100.6" cy="448.7" r="0.42"/><circle cx="106.6" cy="440.5" r="0.42"/><circle cx="122.7" cy="461.4" r="0.42"/><circle cx="115.3" cy="420.9" r="0.42"/><circle cx="86.0" cy="454.9" r="0.42"/><circle cx="124.4" cy="444.4" r="0.42"/><circle cx="126.6" cy="460.2" r="0.42"/><circle cx="103.2" cy="457.9" r="0.42"/><circle cx="94.9" cy="445.5" r="0.42"/><circle cx="124.5" cy="452.2" r="0.42"/><circle cx="125.9" cy="455.7" r="0.42"/><circle cx="122.4" cy="468.8" r="0.42"/><circle cx="114.9" cy="486.2" r="0.42"/><circle cx="126.7" cy="468.6" r="0.42"/><circle cx="109.3" cy="428.1" r="0.42"/><circle cx="123.2" cy="438.4" r="0.42"/><circle cx="114.4" cy="482.1" r="0.42"/><circle cx="126.4" cy="436.6" r="0.42"/><circle cx="119.7" cy="419.6" r="0.42"/><circle cx="121.3" cy="426.3" r="0.42"/><circle cx="111.8" cy="423.9" r="0.42"/><circle cx="125.5" cy="461.4" r="0.42"/><circle cx="122.8" cy="438.3" r="0.42"/><circle cx="120.0" cy="477.9" r="0.42"/><circle cx="91.2" cy="454.0" r="0.42"/><circle cx="102.5" cy="441.0" r="0.42"/><circle cx="107.4" cy="424.0" r="0.42"/><circle cx="107.9" cy="424.8" r="0.42"/><circle cx="127.3" cy="443.3" r="0.42"/><circle cx="115.2" cy="477.8" r="0.42"/><circle cx="122.4" cy="430.7" r="0.42"/><circle cx="79.1" cy="454.1" r="0.42"/><circle cx="109.5" cy="428.6" r="0.42"/><circle cx="90.4" cy="448.2" r="0.42"/><circle cx="99.0" cy="441.4" r="0.42"/><circle cx="110.6" cy="486.0" r="0.42"/><circle cx="126.2" cy="437.5" r="0.42"/><circle cx="114.8" cy="422.2" r="0.42"/><circle cx="102.7" cy="485.8" r="0.42"/><circle cx="98.8" cy="440.1" r="0.42"/><circle cx="106.8" cy="429.4" r="0.42"/><circle cx="94.3" cy="447.6" r="0.42"/><circle cx="60.8" cy="449.3" r="0.42"/><circle cx="85.4" cy="452.0" r="0.42"/><circle cx="104.9" cy="455.6" r="0.42"/><circle cx="122.2" cy="472.4" r="0.42"/><circle cx="120.8" cy="470.4" r="0.42"/><circle cx="95.8" cy="451.4" r="0.42"/><circle cx="99.0" cy="441.6" r="0.42"/><circle cx="124.1" cy="445.9" r="0.42"/><circle cx="108.7" cy="426.3" r="0.42"/><circle cx="123.5" cy="442.4" r="0.42"/><circle cx="76.4" cy="454.3" r="0.42"/><circle cx="78.8" cy="450.6" r="0.42"/><circle cx="116.3" cy="418.8" r="0.42"/><circle cx="98.5" cy="450.8" r="0.42"/><circle cx="127.8" cy="461.5" r="0.42"/><circle cx="116.3" cy="424.9" r="0.42"/><circle cx="119.9" cy="420.2" r="0.42"/><circle cx="123.7" cy="433.3" r="0.42"/><circle cx="118.5" cy="423.1" r="0.42"/><circle cx="112.7" cy="419.9" r="0.42"/><circle cx="119.4" cy="426.8" r="0.42"/><circle cx="121.3" cy="466.1" r="0.42"/><circle cx="123.7" cy="447.3" r="0.42"/><circle cx="115.8" cy="479.3" r="0.42"/><circle cx="102.6" cy="457.5" r="0.42"/><circle cx="126.2" cy="460.9" r="0.42"/><circle cx="98.2" cy="452.4" r="0.42"/><circle cx="100.2" cy="450.9" r="0.42"/><circle cx="122.4" cy="432.2" r="0.42"/><circle cx="124.1" cy="475.2" r="0.42"/><circle cx="116.9" cy="484.8" r="0.42"/><circle cx="114.5" cy="481.3" r="0.42"/><circle cx="119.3" cy="472.3" r="0.42"/><circle cx="124.0" cy="429.7" r="0.42"/><circle cx="123.5" cy="430.1" r="0.42"/><circle cx="95.9" cy="454.5" r="0.42"/><circle cx="107.2" cy="428.7" r="0.42"/><circle cx="120.7" cy="424.1" r="0.42"/><circle cx="106.1" cy="430.9" r="0.42"/><circle cx="118.4" cy="485.2" r="0.42"/><circle cx="76.2" cy="452.1" r="0.42"/><circle cx="104.1" cy="436.0" r="0.42"/><circle cx="99.6" cy="446.4" r="0.42"/><circle cx="106.9" cy="438.7" r="0.42"/><circle cx="121.6" cy="425.3" r="0.42"/><circle cx="101.6" cy="453.7" r="0.42"/><circle cx="122.7" cy="463.1" r="0.42"/><circle cx="127.2" cy="446.8" r="0.42"/><circle cx="104.5" cy="457.6" r="0.42"/><circle cx="112.2" cy="425.0" r="0.42"/><circle cx="99.1" cy="451.7" r="0.42"/><circle cx="123.8" cy="462.8" r="0.42"/><circle cx="102.9" cy="451.4" r="0.42"/><circle cx="82.2" cy="485.1" r="0.42"/><circle cx="117.3" cy="480.4" r="0.42"/><circle cx="125.9" cy="443.7" r="0.42"/><circle cx="93.2" cy="443.7" r="0.42"/><circle cx="125.2" cy="471.8" r="0.42"/><circle cx="126.6" cy="468.7" r="0.42"/><circle cx="117.7" cy="419.9" r="0.42"/><circle cx="124.2" cy="464.5" r="0.42"/><circle cx="96.4" cy="442.6" r="0.42"/><circle cx="100.4" cy="442.8" r="0.42"/><circle cx="101.2" cy="439.7" r="0.42"/><circle cx="125.5" cy="450.3" r="0.42"/><circle cx="89.9" cy="448.5" r="0.42"/><circle cx="93.0" cy="446.9" r="0.42"/><circle cx="119.3" cy="469.0" r="0.42"/><circle cx="97.9" cy="454.5" r="0.42"/><circle cx="123.0" cy="469.1" r="0.42"/><circle cx="119.1" cy="423.8" r="0.42"/><circle cx="115.7" cy="474.7" r="0.42"/><circle cx="118.7" cy="478.4" r="0.42"/><circle cx="120.1" cy="478.3" r="0.42"/><circle cx="123.6" cy="469.9" r="0.42"/><circle cx="102.7" cy="438.7" r="0.42"/><circle cx="102.8" cy="455.7" r="0.42"/><circle cx="100.0" cy="457.9" r="0.42"/><circle cx="123.8" cy="448.4" r="0.42"/><circle cx="124.7" cy="457.0" r="0.42"/><circle cx="123.9" cy="426.1" r="0.42"/><circle cx="104.8" cy="452.3" r="0.42"/><circle cx="101.4" cy="439.2" r="0.42"/><circle cx="94.2" cy="447.3" r="0.42"/><circle cx="90.1" cy="450.8" r="0.42"/><circle cx="96.4" cy="451.8" r="0.42"/><circle cx="55.2" cy="447.9" r="0.42"/><circle cx="99.5" cy="454.3" r="0.42"/><circle cx="93.7" cy="447.0" r="0.42"/><circle cx="97.3" cy="452.6" r="0.42"/><circle cx="119.8" cy="426.4" r="0.42"/><circle cx="125.2" cy="456.7" r="0.42"/><circle cx="127.5" cy="462.7" r="0.42"/><circle cx="101.0" cy="456.1" r="0.42"/><circle cx="127.8" cy="446.6" r="0.42"/><circle cx="119.1" cy="426.5" r="0.42"/><circle cx="123.4" cy="431.7" r="0.42"/><circle cx="99.2" cy="442.5" r="0.42"/><circle cx="121.9" cy="475.6" r="0.42"/><circle cx="125.8" cy="430.0" r="0.42"/><circle cx="117.5" cy="476.2" r="0.42"/><circle cx="127.4" cy="461.2" r="0.42"/><circle cx="123.0" cy="444.0" r="0.42"/><circle cx="124.7" cy="451.6" r="0.42"/><circle cx="106.9" cy="435.9" r="0.42"/><circle cx="105.9" cy="440.0" r="0.42"/><circle cx="106.9" cy="483.6" r="0.42"/><circle cx="102.5" cy="454.3" r="0.42"/><circle cx="90.5" cy="446.4" r="0.42"/><circle cx="121.9" cy="428.2" r="0.42"/><circle cx="128.1" cy="454.0" r="0.42"/><circle cx="82.7" cy="485.5" r="0.42"/><circle cx="107.9" cy="425.5" r="0.42"/><circle cx="100.3" cy="455.0" r="0.42"/><circle cx="122.7" cy="426.6" r="0.42"/><circle cx="92.9" cy="486.2" r="0.42"/><circle cx="123.2" cy="443.3" r="0.42"/><circle cx="100.2" cy="449.2" r="0.42"/><circle cx="114.9" cy="480.6" r="0.42"/><circle cx="102.9" cy="453.2" r="0.42"/><circle cx="127.4" cy="456.9" r="0.42"/><circle cx="121.3" cy="423.7" r="0.42"/><circle cx="118.8" cy="425.3" r="0.42"/><circle cx="124.9" cy="438.9" r="0.42"/><circle cx="87.7" cy="486.0" r="0.42"/><circle cx="124.1" cy="462.8" r="0.42"/><circle cx="79.3" cy="452.4" r="0.42"/><circle cx="103.9" cy="441.3" r="0.42"/><circle cx="100.8" cy="456.1" r="0.42"/><circle cx="100.0" cy="445.6" r="0.42"/><circle cx="116.5" cy="424.9" r="0.42"/><circle cx="114.6" cy="424.6" r="0.42"/><circle cx="123.5" cy="478.5" r="0.42"/><circle cx="124.6" cy="455.1" r="0.42"/><circle cx="101.6" cy="449.8" r="0.42"/><circle cx="113.6" cy="483.6" r="0.42"/><circle cx="98.0" cy="447.7" r="0.42"/><circle cx="124.5" cy="432.0" r="0.42"/><circle cx="125.0" cy="438.5" r="0.42"/><circle cx="98.5" cy="451.3" r="0.42"/><circle cx="104.3" cy="432.1" r="0.42"/><circle cx="123.8" cy="449.1" r="0.42"/><circle cx="93.0" cy="446.4" r="0.42"/><circle cx="123.9" cy="428.7" r="0.42"/><circle cx="99.4" cy="450.9" r="0.42"/><circle cx="121.9" cy="436.9" r="0.42"/><circle cx="126.2" cy="465.5" r="0.42"/><circle cx="125.4" cy="449.1" r="0.42"/><circle cx="125.8" cy="465.3" r="0.42"/><circle cx="122.1" cy="472.5" r="0.42"/><circle cx="127.8" cy="451.4" r="0.42"/><circle cx="126.7" cy="444.5" r="0.42"/><circle cx="119.7" cy="467.6" r="0.42"/><circle cx="77.9" cy="452.1" r="0.42"/><circle cx="102.2" cy="450.1" r="0.42"/><circle cx="95.2" cy="483.7" r="0.42"/><circle cx="126.3" cy="457.2" r="0.42"/><circle cx="124.2" cy="440.3" r="0.42"/><circle cx="108.7" cy="425.9" r="0.42"/><circle cx="117.4" cy="417.8" r="0.42"/><circle cx="120.1" cy="478.5" r="0.42"/><circle cx="109.2" cy="429.1" r="0.42"/><circle cx="126.4" cy="441.7" r="0.42"/><circle cx="100.7" cy="457.0" r="0.42"/><circle cx="125.6" cy="447.0" r="0.42"/><circle cx="90.8" cy="446.3" r="0.42"/><circle cx="94.9" cy="443.1" r="0.42"/><circle cx="107.0" cy="424.8" r="0.42"/><circle cx="51.7" cy="450.2" r="0.42"/><circle cx="128.0" cy="453.6" r="0.42"/><circle cx="121.8" cy="430.7" r="0.42"/><circle cx="123.8" cy="441.0" r="0.42"/><circle cx="105.8" cy="427.5" r="0.42"/><circle cx="120.6" cy="474.7" r="0.42"/><circle cx="84.4" cy="451.4" r="0.42"/><circle cx="125.4" cy="461.9" r="0.42"/><circle cx="97.1" cy="450.2" r="0.42"/><circle cx="108.2" cy="432.8" r="0.42"/><circle cx="96.2" cy="451.6" r="0.42"/><circle cx="92.0" cy="453.2" r="0.42"/><circle cx="102.0" cy="454.7" r="0.42"/><circle cx="124.1" cy="443.2" r="0.42"/><circle cx="122.7" cy="471.9" r="0.42"/><circle cx="108.5" cy="426.6" r="0.42"/><circle cx="122.2" cy="433.8" r="0.42"/><circle cx="121.5" cy="432.7" r="0.42"/><circle cx="80.4" cy="451.1" r="0.42"/><circle cx="123.9" cy="477.9" r="0.42"/><circle cx="107.0" cy="426.7" r="0.42"/><circle cx="103.0" cy="457.1" r="0.42"/><circle cx="108.5" cy="426.8" r="0.42"/><circle cx="123.9" cy="440.0" r="0.42"/><circle cx="94.0" cy="443.4" r="0.42"/><circle cx="95.3" cy="440.4" r="0.42"/><circle cx="92.4" cy="446.6" r="0.42"/><circle cx="67.8" cy="450.3" r="0.42"/><circle cx="127.3" cy="460.2" r="0.42"/><circle cx="91.6" cy="483.4" r="0.42"/><circle cx="104.4" cy="430.5" r="0.42"/><circle cx="106.7" cy="426.8" r="0.42"/><circle cx="123.7" cy="434.3" r="0.42"/><circle cx="96.5" cy="443.4" r="0.42"/><circle cx="100.2" cy="443.8" r="0.42"/><circle cx="62.4" cy="448.3" r="0.42"/><circle cx="124.7" cy="451.2" r="0.42"/><circle cx="99.6" cy="443.2" r="0.42"/><circle cx="102.5" cy="439.5" r="0.42"/><circle cx="105.3" cy="435.0" r="0.42"/><circle cx="106.0" cy="430.0" r="0.42"/><circle cx="117.8" cy="424.5" r="0.42"/><circle cx="125.4" cy="474.7" r="0.42"/><circle cx="126.3" cy="451.5" r="0.42"/><circle cx="106.9" cy="438.3" r="0.42"/><circle cx="125.3" cy="449.3" r="0.42"/><circle cx="118.6" cy="423.6" r="0.42"/><circle cx="123.3" cy="444.0" r="0.42"/><circle cx="107.4" cy="434.7" r="0.42"/><circle cx="108.6" cy="428.2" r="0.42"/><circle cx="94.6" cy="447.2" r="0.42"/><circle cx="89.4" cy="455.2" r="0.42"/><circle cx="123.9" cy="431.7" r="0.42"/><circle cx="67.3" cy="450.0" r="0.42"/><circle cx="62.6" cy="448.6" r="0.42"/><circle cx="83.9" cy="486.1" r="0.42"/><circle cx="106.9" cy="438.7" r="0.42"/><circle cx="124.4" cy="472.2" r="0.42"/><circle cx="125.7" cy="435.5" r="0.42"/><circle cx="105.2" cy="456.9" r="0.42"/><circle cx="78.4" cy="452.9" r="0.42"/><circle cx="123.8" cy="461.6" r="0.42"/><circle cx="108.7" cy="428.1" r="0.42"/><circle cx="126.5" cy="448.1" r="0.42"/><circle cx="76.7" cy="448.4" r="0.42"/><circle cx="102.5" cy="441.1" r="0.42"/><circle cx="125.3" cy="464.3" r="0.42"/><circle cx="106.2" cy="430.3" r="0.42"/><circle cx="123.6" cy="442.0" r="0.42"/><circle cx="104.4" cy="435.1" r="0.42"/><circle cx="119.4" cy="475.6" r="0.42"/><circle cx="50.2" cy="448.6" r="0.42"/><circle cx="95.8" cy="445.4" r="0.42"/><circle cx="109.1" cy="426.0" r="0.42"/><circle cx="97.8" cy="454.6" r="0.42"/><circle cx="125.0" cy="448.5" r="0.42"/><circle cx="108.6" cy="425.4" r="0.42"/><circle cx="127.5" cy="453.7" r="0.42"/><circle cx="106.3" cy="427.8" r="0.42"/><circle cx="120.9" cy="423.3" r="0.42"/><circle cx="122.8" cy="466.8" r="0.42"/><circle cx="122.7" cy="442.9" r="0.42"/><circle cx="95.6" cy="485.3" r="0.42"/><circle cx="123.8" cy="463.8" r="0.42"/><circle cx="99.3" cy="445.1" r="0.42"/><circle cx="126.3" cy="433.8" r="0.42"/><circle cx="87.9" cy="455.6" r="0.42"/><circle cx="100.6" cy="443.0" r="0.42"/><circle cx="118.2" cy="473.3" r="0.42"/><circle cx="122.7" cy="473.8" r="0.42"/><circle cx="122.4" cy="422.2" r="0.42"/><circle cx="105.1" cy="437.5" r="0.42"/><circle cx="127.2" cy="461.3" r="0.42"/><circle cx="107.2" cy="436.6" r="0.42"/><circle cx="124.2" cy="450.5" r="0.42"/><circle cx="103.7" cy="438.4" r="0.42"/><circle cx="124.9" cy="445.5" r="0.42"/><circle cx="112.4" cy="483.8" r="0.42"/><circle cx="122.2" cy="440.3" r="0.42"/><circle cx="117.2" cy="477.4" r="0.42"/><circle cx="123.8" cy="465.0" r="0.42"/><circle cx="104.0" cy="434.2" r="0.42"/><circle cx="98.5" cy="448.5" r="0.42"/><circle cx="126.4" cy="436.6" r="0.42"/><circle cx="108.2" cy="439.7" r="0.42"/><circle cx="122.6" cy="431.8" r="0.42"/><circle cx="103.8" cy="452.6" r="0.42"/><circle cx="122.0" cy="422.9" r="0.42"/><circle cx="123.8" cy="449.0" r="0.42"/><circle cx="86.3" cy="486.5" r="0.42"/><circle cx="97.9" cy="442.1" r="0.42"/><circle cx="126.9" cy="463.2" r="0.42"/><circle cx="125.2" cy="458.8" r="0.42"/><circle cx="100.1" cy="444.1" r="0.42"/><circle cx="124.8" cy="476.8" r="0.42"/><circle cx="105.2" cy="439.2" r="0.42"/><circle cx="98.0" cy="442.6" r="0.42"/><circle cx="95.8" cy="442.3" r="0.42"/><circle cx="116.4" cy="477.4" r="0.42"/><circle cx="99.2" cy="450.2" r="0.42"/><circle cx="121.3" cy="466.6" r="0.42"/><circle cx="81.3" cy="450.0" r="0.42"/><circle cx="123.8" cy="439.6" r="0.42"/><circle cx="99.0" cy="452.2" r="0.42"/><circle cx="121.5" cy="464.6" r="0.42"/><circle cx="122.3" cy="464.9" r="0.42"/><circle cx="115.9" cy="483.5" r="0.42"/><circle cx="100.8" cy="456.8" r="0.42"/><circle cx="85.5" cy="450.6" r="0.42"/><circle cx="124.5" cy="456.9" r="0.42"/><circle cx="47.9" cy="452.3" r="0.42"/><circle cx="124.8" cy="448.1" r="0.42"/><circle cx="108.2" cy="483.3" r="0.42"/><circle cx="105.2" cy="434.8" r="0.42"/><circle cx="124.9" cy="448.7" r="0.42"/><circle cx="122.7" cy="461.8" r="0.42"/><circle cx="100.7" cy="439.7" r="0.42"/><circle cx="125.2" cy="445.7" r="0.42"/><circle cx="107.6" cy="433.2" r="0.42"/><circle cx="124.7" cy="465.5" r="0.42"/><circle cx="105.7" cy="440.5" r="0.42"/><circle cx="124.6" cy="464.0" r="0.42"/><circle cx="127.0" cy="457.8" r="0.42"/><circle cx="106.6" cy="428.4" r="0.42"/><circle cx="119.2" cy="481.7" r="0.42"/><circle cx="103.7" cy="437.5" r="0.42"/><circle cx="125.9" cy="452.0" r="0.42"/><circle cx="84.6" cy="453.1" r="0.42"/><circle cx="100.1" cy="442.7" r="0.42"/><circle cx="104.6" cy="437.4" r="0.42"/><circle cx="121.5" cy="473.4" r="0.42"/><circle cx="127.2" cy="449.8" r="0.42"/><circle cx="93.7" cy="451.4" r="0.42"/><circle cx="125.3" cy="451.6" r="0.42"/><circle cx="116.9" cy="473.3" r="0.42"/><circle cx="99.4" cy="446.1" r="0.42"/><circle cx="101.6" cy="485.1" r="0.42"/><circle cx="104.5" cy="436.9" r="0.42"/><circle cx="91.6" cy="451.1" r="0.42"/><circle cx="91.4" cy="454.7" r="0.42"/><circle cx="124.0" cy="474.3" r="0.42"/><circle cx="118.6" cy="469.2" r="0.42"/><circle cx="122.4" cy="432.0" r="0.42"/><circle cx="127.8" cy="460.4" r="0.42"/><circle cx="123.1" cy="434.1" r="0.42"/><circle cx="126.8" cy="459.5" r="0.42"/><circle cx="119.9" cy="427.7" r="0.42"/><circle cx="93.2" cy="447.6" r="0.42"/><circle cx="112.1" cy="424.7" r="0.42"/><circle cx="104.6" cy="485.8" r="0.42"/><circle cx="97.6" cy="453.0" r="0.42"/><circle cx="83.9" cy="486.5" r="0.42"/><circle cx="108.0" cy="436.3" r="0.42"/><circle cx="104.7" cy="440.3" r="0.42"/><circle cx="95.5" cy="451.8" r="0.42"/><circle cx="127.1" cy="462.0" r="0.42"/><circle cx="122.5" cy="477.1" r="0.42"/><circle cx="105.0" cy="454.6" r="0.42"/><circle cx="98.7" cy="444.7" r="0.42"/><circle cx="95.7" cy="440.4" r="0.42"/><circle cx="112.8" cy="422.2" r="0.42"/><circle cx="98.7" cy="456.5" r="0.42"/><circle cx="118.0" cy="485.1" r="0.42"/><circle cx="99.8" cy="443.8" r="0.42"/><circle cx="125.4" cy="450.0" r="0.42"/><circle cx="91.7" cy="444.8" r="0.42"/><circle cx="92.2" cy="446.7" r="0.42"/><circle cx="119.8" cy="485.1" r="0.42"/><circle cx="116.3" cy="424.5" r="0.42"/><circle cx="91.3" cy="451.9" r="0.42"/><circle cx="98.4" cy="447.7" r="0.42"/><circle cx="122.9" cy="434.4" r="0.42"/><circle cx="77.9" cy="454.5" r="0.42"/><circle cx="86.6" cy="453.9" r="0.42"/><circle cx="100.0" cy="446.9" r="0.42"/><circle cx="124.0" cy="425.8" r="0.42"/><circle cx="122.1" cy="435.5" r="0.42"/><circle cx="97.9" cy="446.7" r="0.42"/><circle cx="103.3" cy="454.6" r="0.42"/><circle cx="125.1" cy="469.6" r="0.42"/><circle cx="122.8" cy="423.2" r="0.42"/><circle cx="101.9" cy="456.4" r="0.42"/><circle cx="122.3" cy="469.5" r="0.42"/><circle cx="117.4" cy="476.1" r="0.42"/><circle cx="101.4" cy="439.9" r="0.42"/><circle cx="99.7" cy="442.5" r="0.42"/><circle cx="122.6" cy="431.8" r="0.42"/><circle cx="101.0" cy="456.1" r="0.42"/><circle cx="127.1" cy="461.3" r="0.42"/><circle cx="122.6" cy="430.4" r="0.42"/><circle cx="121.3" cy="479.0" r="0.42"/><circle cx="107.7" cy="427.3" r="0.42"/><circle cx="113.4" cy="484.2" r="0.42"/><circle cx="124.3" cy="435.2" r="0.42"/><circle cx="122.8" cy="434.7" r="0.42"/><circle cx="123.1" cy="432.3" r="0.42"/><circle cx="123.7" cy="441.5" r="0.42"/><circle cx="108.3" cy="439.0" r="0.42"/><circle cx="102.5" cy="457.0" r="0.42"/><circle cx="99.8" cy="453.0" r="0.42"/><circle cx="104.1" cy="439.7" r="0.42"/><circle cx="96.6" cy="485.6" r="0.42"/><circle cx="98.0" cy="440.9" r="0.42"/><circle cx="111.2" cy="425.3" r="0.42"/><circle cx="114.2" cy="422.5" r="0.42"/><circle cx="112.3" cy="423.1" r="0.42"/><circle cx="101.9" cy="454.9" r="0.42"/><circle cx="125.0" cy="430.5" r="0.42"/><circle cx="124.6" cy="445.9" r="0.42"/><circle cx="95.7" cy="452.9" r="0.42"/><circle cx="119.9" cy="485.7" r="0.42"/><circle cx="108.1" cy="440.0" r="0.42"/><circle cx="99.4" cy="440.4" r="0.42"/><circle cx="96.9" cy="445.7" r="0.42"/><circle cx="95.3" cy="456.3" r="0.42"/><circle cx="109.2" cy="428.0" r="0.42"/><circle cx="112.3" cy="424.7" r="0.42"/><circle cx="126.5" cy="450.4" r="0.42"/><circle cx="103.8" cy="453.4" r="0.42"/><circle cx="99.7" cy="445.2" r="0.42"/><circle cx="98.7" cy="484.8" r="0.42"/><circle cx="105.0" cy="436.6" r="0.42"/><circle cx="91.6" cy="447.8" r="0.42"/><circle cx="104.3" cy="436.0" r="0.42"/><circle cx="90.2" cy="448.2" r="0.42"/><circle cx="124.5" cy="431.7" r="0.42"/><circle cx="122.6" cy="440.6" r="0.42"/><circle cx="124.0" cy="457.3" r="0.42"/><circle cx="121.1" cy="476.1" r="0.42"/><circle cx="110.5" cy="485.0" r="0.42"/><circle cx="93.9" cy="442.5" r="0.42"/><circle cx="106.1" cy="432.5" r="0.42"/><circle cx="125.2" cy="430.9" r="0.42"/><circle cx="99.4" cy="453.5" r="0.42"/><circle cx="124.4" cy="462.5" r="0.42"/><circle cx="116.1" cy="485.3" r="0.42"/><circle cx="125.1" cy="435.0" r="0.42"/><circle cx="121.8" cy="474.8" r="0.42"/><circle cx="96.3" cy="456.0" r="0.42"/><circle cx="119.6" cy="419.0" r="0.42"/><circle cx="111.1" cy="426.6" r="0.42"/><circle cx="124.2" cy="477.1" r="0.42"/><circle cx="83.5" cy="448.1" r="0.42"/><circle cx="122.0" cy="432.3" r="0.42"/><circle cx="116.8" cy="421.8" r="0.42"/><circle cx="97.2" cy="441.7" r="0.42"/><circle cx="105.9" cy="436.4" r="0.42"/><circle cx="118.4" cy="481.0" r="0.42"/><circle cx="97.2" cy="444.7" r="0.42"/><circle cx="126.0" cy="467.0" r="0.42"/><circle cx="126.7" cy="460.0" r="0.42"/><circle cx="52.1" cy="451.9" r="0.42"/><circle cx="123.4" cy="445.9" r="0.42"/><circle cx="122.7" cy="428.7" r="0.42"/><circle cx="115.5" cy="479.4" r="0.42"/><circle cx="108.5" cy="484.9" r="0.42"/><circle cx="80.4" cy="454.5" r="0.42"/><circle cx="126.9" cy="456.6" r="0.42"/><circle cx="124.3" cy="477.5" r="0.42"/><circle cx="83.7" cy="449.9" r="0.42"/><circle cx="87.3" cy="448.1" r="0.42"/><circle cx="96.9" cy="441.1" r="0.42"/><circle cx="123.9" cy="432.9" r="0.42"/><circle cx="125.3" cy="447.1" r="0.42"/><circle cx="84.9" cy="485.1" r="0.42"/><circle cx="124.7" cy="455.8" r="0.42"/><circle cx="103.0" cy="441.5" r="0.42"/><circle cx="116.1" cy="480.6" r="0.42"/><circle cx="121.1" cy="429.5" r="0.42"/><circle cx="126.5" cy="449.9" r="0.42"/><circle cx="126.1" cy="451.0" r="0.42"/><circle cx="109.6" cy="486.3" r="0.42"/><circle cx="103.6" cy="439.5" r="0.42"/><circle cx="101.0" cy="448.9" r="0.42"/><circle cx="116.4" cy="481.9" r="0.42"/><circle cx="124.7" cy="472.6" r="0.42"/><circle cx="117.8" cy="423.1" r="0.42"/><circle cx="126.7" cy="465.0" r="0.42"/><circle cx="69.0" cy="448.3" r="0.42"/><circle cx="85.4" cy="447.9" r="0.42"/><circle cx="116.7" cy="482.0" r="0.42"/><circle cx="55.9" cy="450.4" r="0.42"/><circle cx="106.4" cy="426.5" r="0.42"/><circle cx="101.8" cy="441.7" r="0.42"/><circle cx="122.9" cy="422.4" r="0.42"/><circle cx="126.6" cy="458.4" r="0.42"/><circle cx="101.5" cy="455.5" r="0.42"/><circle cx="120.3" cy="468.9" r="0.42"/><circle cx="89.4" cy="449.8" r="0.42"/><circle cx="87.7" cy="449.7" r="0.42"/><circle cx="51.7" cy="448.0" r="0.42"/><circle cx="109.6" cy="423.2" r="0.42"/><circle cx="128.0" cy="449.9" r="0.42"/><circle cx="105.9" cy="426.4" r="0.42"/><circle cx="115.4" cy="422.0" r="0.42"/><circle cx="112.9" cy="420.8" r="0.42"/><circle cx="92.5" cy="447.2" r="0.42"/><circle cx="100.4" cy="457.0" r="0.42"/><circle cx="119.8" cy="422.0" r="0.42"/><circle cx="126.0" cy="467.2" r="0.42"/><circle cx="93.3" cy="447.7" r="0.42"/><circle cx="116.3" cy="423.9" r="0.42"/><circle cx="101.8" cy="443.2" r="0.42"/><circle cx="118.4" cy="470.4" r="0.42"/><circle cx="106.2" cy="432.6" r="0.42"/><circle cx="101.1" cy="484.7" r="0.42"/><circle cx="97.9" cy="439.5" r="0.42"/><circle cx="119.9" cy="467.6" r="0.42"/><circle cx="125.2" cy="450.8" r="0.42"/><circle cx="103.1" cy="441.0" r="0.42"/><circle cx="46.2" cy="449.1" r="0.42"/><circle cx="118.5" cy="483.6" r="0.42"/><circle cx="105.4" cy="431.9" r="0.42"/><circle cx="105.6" cy="483.9" r="0.42"/><circle cx="108.9" cy="427.3" r="0.42"/><circle cx="124.1" cy="438.9" r="0.42"/><circle cx="125.7" cy="468.7" r="0.42"/><circle cx="121.7" cy="480.4" r="0.42"/><circle cx="116.5" cy="477.8" r="0.42"/><circle cx="107.6" cy="429.3" r="0.42"/><circle cx="100.2" cy="457.2" r="0.42"/><circle cx="121.6" cy="428.1" r="0.42"/><circle cx="116.6" cy="419.0" r="0.42"/><circle cx="111.7" cy="424.6" r="0.42"/><circle cx="91.3" cy="445.6" r="0.42"/><circle cx="105.3" cy="454.2" r="0.42"/><circle cx="102.7" cy="458.3" r="0.42"/><circle cx="99.8" cy="446.8" r="0.42"/><circle cx="124.5" cy="444.6" r="0.42"/><circle cx="127.3" cy="443.6" r="0.42"/><circle cx="108.5" cy="438.6" r="0.42"/><circle cx="82.5" cy="453.0" r="0.42"/><circle cx="116.7" cy="420.1" r="0.42"/><circle cx="122.0" cy="422.6" r="0.42"/><circle cx="107.4" cy="424.5" r="0.42"/><circle cx="100.7" cy="451.6" r="0.42"/><circle cx="122.1" cy="433.1" r="0.42"/><circle cx="112.0" cy="424.3" r="0.42"/><circle cx="84.5" cy="452.4" r="0.42"/><circle cx="97.6" cy="454.9" r="0.42"/><circle cx="101.9" cy="454.4" r="0.42"/><circle cx="111.9" cy="425.2" r="0.42"/><circle cx="105.7" cy="435.9" r="0.42"/><circle cx="121.8" cy="428.0" r="0.42"/><circle cx="100.5" cy="456.5" r="0.42"/><circle cx="105.1" cy="455.9" r="0.42"/><circle cx="122.3" cy="469.0" r="0.42"/><circle cx="92.3" cy="486.1" r="0.42"/><circle cx="106.7" cy="425.2" r="0.42"/><circle cx="95.7" cy="486.1" r="0.42"/><circle cx="126.3" cy="444.6" r="0.42"/><circle cx="104.7" cy="452.9" r="0.42"/><circle cx="124.7" cy="477.8" r="0.42"/><circle cx="106.3" cy="435.5" r="0.42"/><circle cx="117.6" cy="423.4" r="0.42"/><circle cx="100.3" cy="484.9" r="0.42"/><circle cx="111.3" cy="422.0" r="0.42"/><circle cx="116.3" cy="485.2" r="0.42"/><circle cx="112.2" cy="425.3" r="0.42"/><circle cx="101.9" cy="453.1" r="0.42"/><circle cx="50.3" cy="446.5" r="0.42"/><circle cx="108.8" cy="425.1" r="0.42"/><circle cx="122.4" cy="440.6" r="0.42"/><circle cx="118.8" cy="481.9" r="0.42"/><circle cx="119.1" cy="471.9" r="0.42"/><circle cx="104.6" cy="441.8" r="0.42"/><circle cx="123.5" cy="464.7" r="0.42"/><circle cx="93.1" cy="444.7" r="0.42"/><circle cx="79.3" cy="449.8" r="0.42"/><circle cx="107.9" cy="424.3" r="0.42"/><circle cx="92.5" cy="451.0" r="0.42"/><circle cx="124.6" cy="433.0" r="0.42"/><circle cx="98.0" cy="453.0" r="0.42"/><circle cx="96.7" cy="446.9" r="0.42"/><circle cx="123.5" cy="443.4" r="0.42"/><circle cx="65.9" cy="452.2" r="0.42"/><circle cx="118.5" cy="482.8" r="0.42"/><circle cx="116.1" cy="481.0" r="0.42"/><circle cx="119.0" cy="475.6" r="0.42"/><circle cx="122.7" cy="472.8" r="0.42"/><circle cx="85.0" cy="453.8" r="0.42"/><circle cx="102.8" cy="455.1" r="0.42"/><circle cx="60.4" cy="451.3" r="0.42"/><circle cx="126.4" cy="459.1" r="0.42"/><circle cx="123.8" cy="428.0" r="0.42"/><circle cx="79.1" cy="454.3" r="0.42"/><circle cx="125.3" cy="469.0" r="0.42"/><circle cx="124.8" cy="458.2" r="0.42"/><circle cx="109.7" cy="483.9" r="0.42"/><circle cx="125.5" cy="445.9" r="0.42"/><circle cx="123.6" cy="445.0" r="0.42"/><circle cx="125.1" cy="470.8" r="0.42"/><circle cx="122.7" cy="472.4" r="0.42"/><circle cx="117.7" cy="424.8" r="0.42"/><circle cx="124.4" cy="465.6" r="0.42"/><circle cx="121.7" cy="471.6" r="0.42"/><circle cx="88.5" cy="449.5" r="0.42"/><circle cx="95.0" cy="450.4" r="0.42"/><circle cx="96.6" cy="440.1" r="0.42"/><circle cx="120.5" cy="418.9" r="0.42"/><circle cx="98.4" cy="442.1" r="0.42"/><circle cx="89.5" cy="483.4" r="0.42"/><circle cx="98.2" cy="445.0" r="0.42"/><circle cx="103.8" cy="452.3" r="0.42"/><circle cx="94.5" cy="451.2" r="0.42"/><circle cx="124.5" cy="471.0" r="0.42"/><circle cx="94.4" cy="451.2" r="0.42"/><circle cx="107.1" cy="424.5" r="0.42"/><circle cx="103.9" cy="452.5" r="0.42"/><circle cx="94.6" cy="446.3" r="0.42"/><circle cx="126.8" cy="438.3" r="0.42"/><circle cx="89.2" cy="453.4" r="0.42"/><circle cx="121.1" cy="473.3" r="0.42"/><circle cx="106.6" cy="432.9" r="0.42"/><circle cx="118.0" cy="484.9" r="0.42"/><circle cx="101.2" cy="443.4" r="0.42"/><circle cx="119.8" cy="484.3" r="0.42"/><circle cx="93.3" cy="483.4" r="0.42"/><circle cx="117.6" cy="425.2" r="0.42"/><circle cx="103.7" cy="453.4" r="0.42"/><circle cx="127.7" cy="459.4" r="0.42"/><circle cx="122.4" cy="474.9" r="0.42"/><circle cx="57.6" cy="449.4" r="0.42"/><circle cx="85.6" cy="454.4" r="0.42"/><circle cx="109.7" cy="427.7" r="0.42"/><circle cx="125.2" cy="471.5" r="0.42"/><circle cx="102.1" cy="454.1" r="0.42"/><circle cx="119.7" cy="474.0" r="0.42"/><circle cx="98.8" cy="440.2" r="0.42"/><circle cx="92.5" cy="451.5" r="0.42"/><circle cx="84.5" cy="448.4" r="0.42"/><circle cx="82.5" cy="454.5" r="0.42"/><circle cx="95.7" cy="446.7" r="0.42"/><circle cx="127.2" cy="443.8" r="0.42"/><circle cx="112.3" cy="481.1" r="0.42"/><circle cx="102.5" cy="437.5" r="0.42"/><circle cx="128.1" cy="451.5" r="0.42"/><circle cx="118.9" cy="471.0" r="0.42"/><circle cx="120.6" cy="429.4" r="0.42"/><circle cx="109.8" cy="425.5" r="0.42"/><circle cx="100.5" cy="444.2" r="0.42"/><circle cx="109.0" cy="484.9" r="0.42"/><circle cx="92.1" cy="484.2" r="0.42"/><circle cx="100.9" cy="484.1" r="0.42"/><circle cx="78.2" cy="455.0" r="0.42"/><circle cx="122.3" cy="432.9" r="0.42"/><circle cx="122.1" cy="470.0" r="0.42"/><circle cx="81.2" cy="454.1" r="0.42"/><circle cx="81.6" cy="448.7" r="0.42"/><circle cx="119.8" cy="472.8" r="0.42"/><circle cx="65.0" cy="450.1" r="0.42"/><circle cx="118.4" cy="484.9" r="0.42"/><circle cx="108.4" cy="438.8" r="0.42"/><circle cx="67.8" cy="452.6" r="0.42"/><circle cx="121.2" cy="464.6" r="0.42"/><circle cx="103.5" cy="455.8" r="0.42"/></g>
<g fill="#555"><circle cx="94.5" cy="484.2" r="0.42"/><circle cx="81.2" cy="454.2" r="0.42"/><circle cx="45.8" cy="453.9" r="0.42"/><circle cx="70.9" cy="452.7" r="0.42"/><circle cx="45.6" cy="452.5" r="0.42"/><circle cx="48.6" cy="445.2" r="0.42"/><circle cx="90.7" cy="437.6" r="0.42"/><circle cx="86.5" cy="485.3" r="0.42"/><circle cx="88.1" cy="485.5" r="0.42"/><circle cx="71.9" cy="447.1" r="0.42"/><circle cx="94.9" cy="455.9" r="0.42"/><circle cx="62.6" cy="430.3" r="0.42"/><circle cx="99.2" cy="441.9" r="0.42"/><circle cx="121.1" cy="476.8" r="0.42"/><circle cx="62.6" cy="446.6" r="0.42"/><circle cx="90.8" cy="442.1" r="0.42"/><circle cx="129.3" cy="475.1" r="0.42"/><circle cx="112.1" cy="425.2" r="0.42"/><circle cx="109.6" cy="424.8" r="0.42"/><circle cx="101.1" cy="440.4" r="0.42"/><circle cx="105.3" cy="428.7" r="0.42"/><circle cx="105.3" cy="437.6" r="0.42"/><circle cx="107.5" cy="437.0" r="0.42"/><circle cx="106.6" cy="436.3" r="0.42"/><circle cx="108.1" cy="434.7" r="0.42"/><circle cx="119.8" cy="425.2" r="0.42"/><circle cx="101.8" cy="432.7" r="0.42"/><circle cx="108.3" cy="438.5" r="0.42"/><circle cx="123.9" cy="428.0" r="0.42"/><circle cx="114.1" cy="419.5" r="0.42"/><circle cx="115.0" cy="422.0" r="0.42"/><circle cx="115.6" cy="412.1" r="0.42"/><circle cx="125.8" cy="452.2" r="0.42"/><circle cx="127.5" cy="466.2" r="0.42"/><circle cx="127.2" cy="457.1" r="0.42"/><circle cx="128.2" cy="457.9" r="0.42"/><circle cx="109.6" cy="485.7" r="0.42"/><circle cx="122.4" cy="474.7" r="0.42"/><circle cx="121.2" cy="428.1" r="0.42"/><circle cx="127.0" cy="456.4" r="0.42"/><circle cx="96.8" cy="442.4" r="0.42"/><circle cx="127.3" cy="480.8" r="0.42"/><circle cx="90.6" cy="447.7" r="0.42"/><circle cx="101.5" cy="485.6" r="0.42"/><circle cx="91.2" cy="483.6" r="0.42"/><circle cx="92.0" cy="485.2" r="0.42"/><circle cx="97.2" cy="457.0" r="0.42"/><circle cx="124.9" cy="462.6" r="0.42"/><circle cx="130.1" cy="462.3" r="0.42"/><circle cx="105.5" cy="432.6" r="0.42"/><circle cx="98.7" cy="445.2" r="0.42"/><circle cx="96.0" cy="434.6" r="0.42"/><circle cx="87.9" cy="454.6" r="0.42"/><circle cx="91.6" cy="442.4" r="0.42"/><circle cx="93.4" cy="452.5" r="0.42"/><circle cx="99.5" cy="455.1" r="0.42"/><circle cx="97.9" cy="448.1" r="0.42"/><circle cx="92.4" cy="443.2" r="0.42"/><circle cx="105.0" cy="432.2" r="0.42"/><circle cx="101.0" cy="442.9" r="0.42"/><circle cx="102.3" cy="434.7" r="0.42"/><circle cx="101.8" cy="458.2" r="0.42"/><circle cx="95.5" cy="444.5" r="0.42"/><circle cx="125.0" cy="402.9" r="0.42"/><circle cx="124.1" cy="433.0" r="0.42"/><circle cx="122.8" cy="442.3" r="0.42"/><circle cx="122.7" cy="426.8" r="0.42"/><circle cx="119.4" cy="472.6" r="0.42"/><circle cx="126.4" cy="437.0" r="0.42"/><circle cx="127.1" cy="458.1" r="0.42"/><circle cx="129.0" cy="479.6" r="0.42"/><circle cx="114.7" cy="408.7" r="0.42"/><circle cx="130.6" cy="447.0" r="0.42"/><circle cx="117.3" cy="408.5" r="0.42"/><circle cx="122.8" cy="442.9" r="0.42"/><circle cx="123.0" cy="423.3" r="0.42"/><circle cx="106.0" cy="428.7" r="0.42"/><circle cx="125.7" cy="452.9" r="0.42"/><circle cx="125.7" cy="468.5" r="0.42"/><circle cx="86.2" cy="441.3" r="0.42"/><circle cx="90.0" cy="442.4" r="0.42"/><circle cx="89.6" cy="438.3" r="0.42"/><circle cx="71.3" cy="443.7" r="0.42"/><circle cx="99.2" cy="434.6" r="0.42"/><circle cx="97.3" cy="442.7" r="0.42"/><circle cx="87.0" cy="438.8" r="0.42"/><circle cx="84.6" cy="441.9" r="0.42"/><circle cx="92.3" cy="434.0" r="0.42"/><circle cx="94.7" cy="447.3" r="0.42"/><circle cx="67.7" cy="436.9" r="0.42"/><circle cx="98.9" cy="430.3" r="0.42"/><circle cx="123.5" cy="424.5" r="0.42"/><circle cx="74.7" cy="439.8" r="0.42"/><circle cx="104.2" cy="437.6" r="0.42"/><circle cx="113.3" cy="425.1" r="0.42"/><circle cx="100.9" cy="444.0" r="0.42"/><circle cx="79.2" cy="443.0" r="0.42"/><circle cx="95.0" cy="447.4" r="0.42"/><circle cx="104.0" cy="441.5" r="0.42"/><circle cx="78.1" cy="437.9" r="0.42"/><circle cx="85.4" cy="448.9" r="0.42"/><circle cx="57.8" cy="436.8" r="0.42"/><circle cx="107.6" cy="436.1" r="0.42"/><circle cx="49.7" cy="445.7" r="0.42"/><circle cx="91.8" cy="444.8" r="0.42"/><circle cx="65.5" cy="441.7" r="0.42"/><circle cx="80.9" cy="439.6" r="0.42"/><circle cx="74.1" cy="449.3" r="0.42"/><circle cx="90.0" cy="445.5" r="0.42"/><circle cx="106.6" cy="431.2" r="0.42"/><circle cx="93.7" cy="441.6" r="0.42"/><circle cx="105.1" cy="432.4" r="0.42"/><circle cx="86.9" cy="442.8" r="0.42"/><circle cx="99.4" cy="431.7" r="0.42"/><circle cx="93.4" cy="434.5" r="0.42"/><circle cx="88.3" cy="446.0" r="0.42"/><circle cx="80.4" cy="438.0" r="0.42"/><circle cx="104.1" cy="436.6" r="0.42"/><circle cx="96.5" cy="430.7" r="0.42"/><circle cx="94.7" cy="436.4" r="0.42"/><circle cx="82.6" cy="438.0" r="0.42"/><circle cx="91.9" cy="443.0" r="0.42"/><circle cx="124.1" cy="432.5" r="0.42"/><circle cx="73.1" cy="443.1" r="0.42"/><circle cx="84.4" cy="451.5" r="0.42"/><circle cx="83.7" cy="437.0" r="0.42"/><circle cx="89.1" cy="446.6" r="0.42"/><circle cx="102.6" cy="441.1" r="0.42"/><circle cx="61.9" cy="445.0" r="0.42"/><circle cx="94.6" cy="441.7" r="0.42"/><circle cx="89.7" cy="445.2" r="0.42"/><circle cx="83.8" cy="433.7" r="0.42"/><circle cx="72.1" cy="449.3" r="0.42"/><circle cx="106.4" cy="431.9" r="0.42"/><circle cx="92.4" cy="431.5" r="0.42"/><circle cx="87.5" cy="440.4" r="0.42"/><circle cx="98.2" cy="434.8" r="0.42"/><circle cx="83.9" cy="442.6" r="0.42"/><circle cx="73.1" cy="444.9" r="0.42"/><circle cx="81.0" cy="440.4" r="0.42"/><circle cx="98.1" cy="436.4" r="0.42"/><circle cx="89.1" cy="441.1" r="0.42"/><circle cx="95.5" cy="439.4" r="0.42"/><circle cx="91.8" cy="434.9" r="0.42"/><circle cx="105.9" cy="436.3" r="0.42"/><circle cx="89.8" cy="435.7" r="0.42"/><circle cx="88.3" cy="436.5" r="0.42"/><circle cx="67.5" cy="452.2" r="0.42"/><circle cx="88.0" cy="442.7" r="0.42"/><circle cx="100.0" cy="436.9" r="0.42"/><circle cx="94.9" cy="439.1" r="0.42"/><circle cx="61.5" cy="441.9" r="0.42"/><circle cx="86.5" cy="448.2" r="0.42"/><circle cx="105.6" cy="439.9" r="0.42"/><circle cx="105.2" cy="435.2" r="0.42"/><circle cx="75.3" cy="445.6" r="0.42"/><circle cx="102.4" cy="441.4" r="0.42"/><circle cx="126.2" cy="424.9" r="0.42"/><circle cx="96.5" cy="431.7" r="0.42"/><circle cx="80.4" cy="438.3" r="0.42"/><circle cx="92.6" cy="439.3" r="0.42"/><circle cx="81.4" cy="436.7" r="0.42"/><circle cx="102.2" cy="436.4" r="0.42"/><circle cx="125.2" cy="429.8" r="0.42"/><circle cx="94.0" cy="443.4" r="0.42"/><circle cx="100.6" cy="437.4" r="0.42"/><circle cx="85.2" cy="431.7" r="0.42"/><circle cx="95.2" cy="443.1" r="0.42"/><circle cx="93.0" cy="442.8" r="0.42"/><circle cx="85.8" cy="445.9" r="0.42"/><circle cx="93.8" cy="436.2" r="0.42"/><circle cx="104.8" cy="436.8" r="0.42"/><circle cx="106.7" cy="436.4" r="0.42"/><circle cx="78.2" cy="443.3" r="0.42"/><circle cx="103.6" cy="438.4" r="0.42"/><circle cx="94.4" cy="447.3" r="0.42"/><circle cx="85.2" cy="441.0" r="0.42"/><circle cx="98.1" cy="432.3" r="0.42"/><circle cx="78.8" cy="445.0" r="0.42"/><circle cx="106.3" cy="436.6" r="0.42"/><circle cx="71.6" cy="441.9" r="0.42"/><circle cx="100.2" cy="440.2" r="0.42"/><circle cx="61.9" cy="450.2" r="0.42"/><circle cx="89.9" cy="441.7" r="0.42"/><circle cx="98.1" cy="432.6" r="0.42"/><circle cx="82.8" cy="443.0" r="0.42"/><circle cx="94.0" cy="442.1" r="0.42"/><circle cx="92.3" cy="449.4" r="0.42"/><circle cx="94.2" cy="448.6" r="0.42"/><circle cx="85.1" cy="443.1" r="0.42"/><circle cx="81.8" cy="443.1" r="0.42"/><circle cx="105.3" cy="441.2" r="0.42"/><circle cx="78.0" cy="439.8" r="0.42"/><circle cx="90.6" cy="430.7" r="0.42"/><circle cx="91.5" cy="431.2" r="0.42"/><circle cx="100.7" cy="437.9" r="0.42"/><circle cx="90.4" cy="441.9" r="0.42"/><circle cx="78.8" cy="439.5" r="0.42"/><circle cx="126.9" cy="425.1" r="0.42"/><circle cx="86.0" cy="433.3" r="0.42"/><circle cx="75.5" cy="436.3" r="0.42"/><circle cx="107.6" cy="435.2" r="0.42"/><circle cx="104.1" cy="428.4" r="0.42"/><circle cx="64.7" cy="437.5" r="0.42"/><circle cx="98.2" cy="430.2" r="0.42"/><circle cx="79.4" cy="441.7" r="0.42"/><circle cx="81.1" cy="434.8" r="0.42"/><circle cx="108.2" cy="439.8" r="0.42"/><circle cx="90.8" cy="430.4" r="0.42"/><circle cx="91.1" cy="436.0" r="0.42"/><circle cx="96.9" cy="435.8" r="0.42"/><circle cx="94.0" cy="433.6" r="0.42"/><circle cx="100.9" cy="436.4" r="0.42"/><circle cx="61.9" cy="431.8" r="0.42"/><circle cx="83.7" cy="438.1" r="0.42"/><circle cx="91.8" cy="445.0" r="0.42"/><circle cx="84.3" cy="434.0" r="0.42"/><circle cx="101.7" cy="441.5" r="0.42"/><circle cx="90.8" cy="436.8" r="0.42"/><circle cx="96.0" cy="441.3" r="0.42"/><circle cx="89.4" cy="438.2" r="0.42"/><circle cx="93.9" cy="435.8" r="0.42"/><circle cx="91.5" cy="440.5" r="0.42"/><circle cx="100.0" cy="444.2" r="0.42"/><circle cx="107.7" cy="434.9" r="0.42"/><circle cx="60.5" cy="438.0" r="0.42"/><circle cx="86.9" cy="437.8" r="0.42"/><circle cx="74.8" cy="440.4" r="0.42"/><circle cx="95.8" cy="434.6" r="0.42"/><circle cx="92.5" cy="438.0" r="0.42"/><circle cx="83.3" cy="436.2" r="0.42"/><circle cx="93.0" cy="439.6" r="0.42"/><circle cx="77.1" cy="431.7" r="0.42"/><circle cx="80.8" cy="443.4" r="0.42"/><circle cx="71.4" cy="447.4" r="0.42"/><circle cx="85.9" cy="440.4" r="0.42"/><circle cx="83.6" cy="443.1" r="0.42"/><circle cx="95.7" cy="439.5" r="0.42"/><circle cx="66.2" cy="447.5" r="0.42"/><circle cx="69.1" cy="441.7" r="0.42"/><circle cx="123.9" cy="455.0" r="0.42"/><circle cx="123.8" cy="459.8" r="0.42"/><circle cx="125.7" cy="472.5" r="0.42"/><circle cx="122.4" cy="468.4" r="0.42"/><circle cx="124.4" cy="477.2" r="0.42"/><circle cx="123.6" cy="443.7" r="0.42"/><circle cx="129.1" cy="452.8" r="0.42"/><circle cx="118.4" cy="476.0" r="0.42"/><circle cx="121.4" cy="466.7" r="0.42"/><circle cx="125.9" cy="444.5" r="0.42"/><circle cx="123.9" cy="466.2" r="0.42"/><circle cx="117.8" cy="476.7" r="0.42"/><circle cx="121.4" cy="464.6" r="0.42"/><circle cx="122.1" cy="464.5" r="0.42"/><circle cx="118.3" cy="472.0" r="0.42"/><circle cx="120.0" cy="467.5" r="0.42"/><circle cx="122.7" cy="471.6" r="0.42"/><circle cx="127.1" cy="451.9" r="0.42"/><circle cx="122.1" cy="474.0" r="0.42"/><circle cx="122.7" cy="471.2" r="0.42"/><circle cx="125.8" cy="453.1" r="0.42"/><circle cx="132.8" cy="462.1" r="0.42"/><circle cx="118.1" cy="474.1" r="0.42"/><circle cx="120.7" cy="468.4" r="0.42"/><circle cx="126.4" cy="469.5" r="0.42"/><circle cx="123.9" cy="464.9" r="0.42"/><circle cx="117.4" cy="474.7" r="0.42"/><circle cx="123.4" cy="467.0" r="0.42"/><circle cx="126.7" cy="456.2" r="0.42"/><circle cx="129.3" cy="447.3" r="0.42"/><circle cx="122.8" cy="467.5" r="0.42"/><circle cx="126.8" cy="448.6" r="0.42"/><circle cx="108.4" cy="483.7" r="0.42"/><circle cx="114.7" cy="478.2" r="0.42"/><circle cx="119.4" cy="479.1" r="0.42"/><circle cx="126.8" cy="472.9" r="0.42"/><circle cx="110.0" cy="482.5" r="0.42"/><circle cx="121.9" cy="473.2" r="0.42"/><circle cx="121.9" cy="473.6" r="0.42"/><circle cx="116.2" cy="480.7" r="0.42"/><circle cx="106.0" cy="485.4" r="0.42"/><circle cx="117.6" cy="476.4" r="0.42"/></g>
<ellipse cx="60" cy="469" rx="16" ry="16" fill="url(#shd2)" opacity="0.75"/>
<path d="M71.9,491.9 L65.9,492.2 L57.4,492.2 L49.4,492.1 L43.9,491.9 L41.9,490.5 L40.1,488.9 L38.9,487.7 L38.7,484.4 L38.6,470.4 L38.7,464.4 L38.9,460.3 L40.8,458.4 L42.9,456.7 L45.4,455.1 L47.4,454.2 L49.9,453.2 L52.4,452.5 L54.9,452.1 L57.9,451.9 L61.4,451.9 L64.4,452.3 L67.4,452.8 L74.4,454.4 L77.9,455.0 L87.9,455.7 L91.4,456.1 L95.4,456.8 L101.4,458.3 L102.9,458.5 L103.9,458.3 L104.4,458.1 L104.9,457.6 L105.4,456.9 L105.8,455.4 L105.7,453.9 L105.4,452.9 L104.7,451.9 L101.6,449.4 L100.9,448.6 L100.4,447.9 L100.2,447.4 L100.0,446.4 L100.1,445.4 L100.3,444.9 L101.0,443.9 L102.3,442.9 L103.4,442.4 L107.2,440.9 L107.9,440.4 L108.4,439.8 L108.6,439.4 L108.8,438.4 L108.4,433.9 L108.5,431.4 L109.2,429.4 L109.7,428.4 L110.5,427.4 L111.9,426.2 L112.9,425.7 L113.9,425.3 L114.9,425.2 L115.9,425.3 L116.9,425.6 L117.9,426.1 L118.9,426.9 L120.0,428.4 L120.9,430.4 L121.4,432.4 L121.7,434.4 L122.2,440.9 L123.2,446.9 L123.6,449.9 L123.8,452.9 L123.7,455.9 L123.1,459.4 L122.5,461.4 L122.0,462.9 L120.4,465.8 L117.9,469.4 L117.0,470.9 L116.4,472.4 L114.9,476.4 L113.5,478.9 L111.9,480.7 L109.9,482.2 L107.9,483.2 L105.4,483.8 L103.4,484.1 L100.9,484.0 L93.4,483.2 L90.4,483.1 L87.4,483.4 L84.9,483.9 L83.4,484.5 L81.4,485.5 L79.4,486.9 L74.4,490.6 L72.4,491.9 L71.9,491.9Z" fill="#000" fill-opacity="0.018" stroke="#444" stroke-width="0.4"/>
<path d="M66.9,491.9 L57.9,492.1 L49.0,491.9 L46.9,490.9 L44.9,489.7 L42.9,488.2 L41.0,486.4 L39.8,484.9 L38.9,483.5 L38.8,480.4 L38.7,471.9 L38.9,464.4 L40.3,462.4 L42.2,460.4 L44.4,458.6 L46.4,457.3 L48.9,456.0 L51.4,455.2 L53.9,454.6 L56.9,454.2 L59.9,454.1 L62.4,454.3 L65.4,454.8 L68.4,455.5 L74.9,457.2 L77.9,457.9 L80.9,458.3 L88.4,458.9 L92.9,459.7 L95.4,460.3 L97.9,461.2 L106.4,464.7 L108.4,465.3 L109.5,465.4 L109.6,464.9 L109.1,460.4 L108.8,454.4 L108.6,452.4 L107.9,450.5 L107.4,449.7 L105.6,447.4 L105.4,446.9 L105.3,446.4 L105.4,445.9 L105.9,445.3 L106.9,444.6 L109.4,443.6 L110.4,443.0 L111.1,442.4 L111.8,441.4 L112.0,440.9 L112.0,439.9 L110.7,435.9 L110.3,434.4 L110.3,433.4 L110.6,431.4 L110.9,430.4 L111.4,429.6 L112.1,428.9 L112.9,428.3 L114.4,427.8 L115.9,428.0 L116.8,428.4 L117.4,428.8 L118.3,429.9 L118.8,430.9 L119.2,431.9 L119.5,433.4 L119.6,435.4 L119.4,439.4 L119.5,440.9 L119.8,442.4 L121.2,447.4 L121.8,451.4 L121.9,454.4 L121.6,456.9 L121.1,458.9 L120.3,460.9 L119.4,462.4 L117.9,464.0 L116.4,465.0 L114.9,465.6 L112.9,465.9 L110.4,465.9 L110.1,466.4 L110.7,470.9 L110.6,473.4 L110.0,475.4 L109.6,476.4 L108.9,477.3 L107.8,478.4 L106.4,479.3 L104.9,479.9 L103.4,480.2 L100.4,480.4 L93.9,479.9 L90.4,479.8 L87.4,480.1 L84.4,480.8 L82.4,481.6 L80.4,482.8 L74.4,487.6 L71.4,489.8 L68.9,491.1 L67.2,491.9 L66.9,491.9Z" fill="#000" fill-opacity="0.018" stroke="#444" stroke-width="0.4"/>
<path d="M115.9,436.6 L115.4,436.8 L114.9,436.8 L114.4,436.6 L113.9,436.2 L113.4,435.6 L112.9,434.4 L112.7,433.4 L112.9,432.4 L113.4,431.6 L113.9,431.2 L114.4,431.0 L114.9,431.0 L115.4,431.1 L115.9,431.4 L116.4,432.0 L116.8,432.9 L116.9,433.9 L116.9,434.9 L116.5,435.9 L115.9,436.6Z" fill="#000" fill-opacity="0.018" stroke="#444" stroke-width="0.4"/>
<path d="M115.9,460.9 L114.9,461.0 L113.9,460.6 L113.1,459.9 L112.4,458.9 L112.0,457.9 L111.6,456.4 L111.4,453.4 L111.5,449.9 L111.7,448.9 L112.0,447.9 L112.7,446.9 L113.9,445.9 L114.9,445.4 L115.9,445.3 L116.9,445.5 L117.4,445.9 L117.9,446.5 L118.5,447.4 L119.0,448.4 L119.4,449.9 L119.8,451.9 L119.8,453.4 L119.6,455.9 L119.2,457.4 L118.8,458.4 L118.1,459.4 L117.4,460.2 L116.9,460.5 L115.9,460.9Z" fill="#000" fill-opacity="0.018" stroke="#444" stroke-width="0.4"/>
<path d="M61.9,491.4 L58.4,491.8 L54.9,491.5 L51.4,490.7 L48.4,489.5 L46.9,488.7 L45.4,487.7 L42.9,485.4 L40.9,482.9 L39.6,480.4 L38.9,478.4 L38.9,475.9 L38.9,469.5 L39.5,467.9 L40.1,466.4 L41.0,464.9 L43.0,462.4 L45.4,460.3 L46.9,459.3 L48.4,458.4 L50.4,457.5 L52.4,456.9 L54.4,456.4 L56.4,456.1 L58.4,456.0 L60.4,456.0 L62.4,456.2 L64.9,456.7 L68.4,457.6 L75.4,459.9 L78.4,460.7 L81.4,461.3 L88.9,462.3 L91.4,462.9 L93.4,463.5 L96.4,464.8 L99.2,466.4 L101.6,468.4 L102.5,469.4 L103.2,470.4 L103.7,471.9 L103.7,472.9 L103.4,473.6 L102.9,474.3 L101.9,475.1 L100.4,475.6 L98.9,475.9 L91.9,476.2 L88.4,476.6 L85.9,477.1 L83.9,477.7 L81.9,478.7 L79.9,480.0 L73.4,485.8 L70.4,488.1 L68.4,489.2 L66.4,490.1 L64.4,490.8 L61.9,491.4Z" fill="#000" fill-opacity="0.018" stroke="#444" stroke-width="0.4"/>
<path d="M60.4,489.9 L57.9,490.1 L54.9,489.8 L51.9,489.1 L49.4,488.1 L46.9,486.6 L44.9,484.9 L43.2,482.9 L41.6,480.4 L40.7,477.9 L40.2,475.4 L40.2,473.9 L40.2,472.4 L40.7,469.9 L41.7,467.4 L42.9,465.4 L44.6,463.4 L46.9,461.4 L48.4,460.4 L50.4,459.4 L52.4,458.6 L54.4,458.1 L56.4,457.8 L58.4,457.7 L60.4,457.8 L62.9,458.0 L65.9,458.7 L69.9,460.1 L78.9,464.0 L87.4,466.9 L88.4,467.4 L89.6,468.4 L89.9,468.9 L90.0,469.4 L90.0,469.9 L89.7,470.4 L89.1,470.9 L87.4,471.9 L83.9,473.6 L81.4,475.3 L78.9,477.5 L73.4,483.4 L70.4,485.9 L67.9,487.5 L65.4,488.7 L62.9,489.5 L60.4,489.9Z" fill="#000" fill-opacity="0.018" stroke="#444" stroke-width="0.4"/>
<path d="M59.4,488.4 L57.9,488.5 L55.9,488.3 L52.9,487.7 L51.4,487.2 L49.9,486.5 L47.5,484.9 L45.3,482.9 L44.4,481.7 L43.6,480.4 L42.5,477.9 L42.2,476.4 L42.0,474.9 L41.9,473.4 L42.1,471.9 L42.8,469.4 L44.0,466.9 L44.9,465.6 L45.9,464.4 L47.0,463.4 L48.3,462.4 L50.9,460.9 L53.9,459.9 L55.4,459.6 L57.4,459.3 L60.4,459.3 L63.9,459.9 L67.4,461.0 L70.5,462.4 L72.3,463.4 L74.7,464.9 L77.1,466.9 L78.0,467.9 L78.6,468.9 L79.0,470.4 L78.9,471.4 L78.5,472.9 L77.8,474.4 L76.6,476.4 L73.7,480.4 L70.9,483.3 L68.4,485.3 L66.9,486.2 L65.4,486.9 L62.4,487.9 L59.4,488.4Z" fill="#000" fill-opacity="0.018" stroke="#444" stroke-width="0.4"/>
<path d="M58.9,486.9 L55.9,486.8 L53.4,486.2 L50.9,485.2 L49.5,484.4 L48.4,483.6 L46.4,481.6 L45.0,479.4 L44.0,476.9 L43.6,474.4 L43.8,471.9 L44.6,469.4 L45.3,467.9 L46.0,466.9 L47.7,464.9 L49.9,463.2 L52.4,462.0 L55.4,461.1 L58.4,460.8 L61.4,461.0 L64.4,461.7 L67.4,462.8 L69.9,464.2 L72.2,465.9 L73.2,466.9 L74.0,467.9 L74.8,469.4 L75.2,470.4 L75.3,471.4 L75.3,472.4 L75.0,473.9 L74.0,476.4 L73.2,477.9 L72.2,479.4 L69.9,482.0 L67.4,484.1 L64.9,485.5 L63.4,486.1 L61.9,486.5 L58.9,486.9Z" fill="#000" fill-opacity="0.018" stroke="#444" stroke-width="0.4"/>
<path d="M58.9,485.4 L56.4,485.3 L53.9,484.8 L51.4,483.7 L49.4,482.4 L47.9,480.9 L46.6,478.9 L45.7,476.9 L45.3,474.4 L45.5,471.9 L46.1,469.9 L47.2,467.9 L49.0,465.9 L51.0,464.4 L53.4,463.2 L55.9,462.6 L58.4,462.3 L61.4,462.5 L63.9,463.1 L66.4,464.2 L68.4,465.4 L70.2,466.9 L71.1,467.9 L71.8,468.9 L72.4,470.4 L72.7,472.4 L72.5,474.4 L71.6,476.9 L70.0,479.4 L68.2,481.4 L66.3,482.9 L63.9,484.2 L61.4,485.0 L58.9,485.4Z" fill="#000" fill-opacity="0.018" stroke="#444" stroke-width="0.4"/>
<path d="M61.4,483.4 L59.4,483.8 L57.4,483.9 L55.4,483.6 L53.3,482.9 L51.4,481.9 L49.9,480.6 L48.5,478.9 L47.7,477.4 L47.3,475.9 L47.0,473.9 L47.3,471.9 L47.8,470.4 L48.6,468.9 L49.9,467.3 L51.4,466.0 L53.4,464.9 L55.4,464.2 L57.9,463.9 L60.4,464.0 L62.9,464.5 L65.4,465.6 L67.4,466.9 L68.8,468.4 L69.5,469.4 L70.0,470.4 L70.3,471.4 L70.4,472.4 L70.3,474.4 L69.7,476.4 L68.6,478.4 L67.4,479.9 L65.4,481.6 L63.4,482.7 L61.4,483.4Z" fill="#000" fill-opacity="0.018" stroke="#444" stroke-width="0.4"/>
<path d="M60.4,482.0 L58.9,482.2 L56.9,482.2 L54.9,481.7 L53.4,481.1 L51.9,480.1 L50.9,479.1 L50.0,477.9 L49.3,476.4 L48.9,474.9 L48.9,473.4 L49.2,471.9 L49.8,470.4 L50.8,468.9 L51.9,467.8 L53.4,466.8 L54.9,466.1 L56.9,465.6 L58.9,465.5 L60.9,465.7 L62.9,466.3 L64.9,467.4 L66.1,468.4 L67.3,469.9 L68.0,471.4 L68.3,472.9 L68.2,474.4 L67.6,476.4 L66.7,477.9 L65.4,479.4 L63.9,480.6 L62.3,481.4 L60.4,482.0Z" fill="#000" fill-opacity="0.018" stroke="#444" stroke-width="0.4"/>
<path d="M60.9,479.9 L59.4,480.3 L57.9,480.4 L56.4,480.2 L55.4,479.9 L54.4,479.4 L53.4,478.8 L52.5,477.9 L51.8,476.9 L51.3,475.9 L51.0,474.9 L51.0,473.4 L51.2,472.4 L51.5,471.4 L52.4,470.1 L53.4,469.1 L54.4,468.4 L55.9,467.7 L57.4,467.4 L58.9,467.3 L60.4,467.5 L61.9,468.0 L63.4,468.8 L64.6,469.9 L65.3,470.9 L65.7,471.9 L66.0,473.4 L65.8,474.9 L65.4,476.0 L64.5,477.4 L63.6,478.4 L62.4,479.2 L60.9,479.9Z" fill="#000" fill-opacity="0.018" stroke="#444" stroke-width="0.4"/>
<path d="M58.9,478.0 L57.9,478.0 L56.9,477.8 L55.4,477.1 L54.6,476.4 L54.2,475.9 L53.9,475.3 L53.7,474.4 L53.8,472.9 L54.2,471.9 L54.6,471.4 L55.9,470.4 L57.4,469.8 L58.4,469.7 L59.4,469.8 L60.9,470.3 L61.8,470.9 L62.3,471.4 L62.6,471.9 L63.0,472.9 L63.1,474.4 L62.9,475.0 L62.4,475.9 L61.9,476.5 L60.9,477.3 L59.9,477.7 L58.9,478.0Z" fill="#000" fill-opacity="0.018" stroke="#444" stroke-width="0.4"/>
</g>
<rect x="44.90" y="395.40" width="90.10" height="91.20" fill="none" stroke="#555" stroke-width="0.8"/>
<line x1="103.50" y1="395.40" x2="103.50" y2="486.60" stroke="#444" stroke-width="0.9"/>
<line x1="44.90" y1="445.50" x2="135.00" y2="445.50" stroke="#444" stroke-width="0.9"/>
<text x="46.70" y="402.00" font-size="5.9" fill="#1a1a1a">0.81</text>
<text x="133.40" y="402.00" font-size="5.9" text-anchor="end" fill="#1a1a1a">3.43</text>
<text x="46.70" y="484.20" font-size="5.9" fill="#1a1a1a">87.54</text>
<text x="133.40" y="484.20" font-size="5.9" text-anchor="end" fill="#1a1a1a">5.36</text>
<text x="41.40" y="406.26" font-size="6.0" text-anchor="end" fill="#1a1a1a">10<tspan font-size="3.8" dy="-2.4">5</tspan></text>
<line x1="43.30" y1="404.06" x2="44.90" y2="404.06" stroke="#444" stroke-width="0.7"/>
<text x="41.40" y="426.78" font-size="6.0" text-anchor="end" fill="#1a1a1a">10<tspan font-size="3.8" dy="-2.4">4</tspan></text>
<line x1="43.30" y1="424.58" x2="44.90" y2="424.58" stroke="#444" stroke-width="0.7"/>
<text x="41.40" y="447.30" font-size="6.0" text-anchor="end" fill="#1a1a1a">10<tspan font-size="3.8" dy="-2.4">3</tspan></text>
<line x1="43.30" y1="445.10" x2="44.90" y2="445.10" stroke="#444" stroke-width="0.7"/>
<text x="41.40" y="468.74" font-size="6.0" text-anchor="end" fill="#1a1a1a">10<tspan font-size="3.8" dy="-2.4">2</tspan></text>
<line x1="43.30" y1="466.54" x2="44.90" y2="466.54" stroke="#444" stroke-width="0.7"/>
<text x="41.40" y="478.31" font-size="6.0" text-anchor="end" fill="#1a1a1a">0</text>
<text x="63.37" y="497.80" font-size="6.0" text-anchor="middle" fill="#1a1a1a">10<tspan font-size="3.8" dy="-2.4">2</tspan></text>
<line x1="63.37" y1="486.60" x2="63.37" y2="488.20" stroke="#444" stroke-width="0.7"/>
<text x="84.54" y="497.80" font-size="6.0" text-anchor="middle" fill="#1a1a1a">10<tspan font-size="3.8" dy="-2.4">3</tspan></text>
<line x1="84.54" y1="486.60" x2="84.54" y2="488.20" stroke="#444" stroke-width="0.7"/>
<text x="105.45" y="497.80" font-size="6.0" text-anchor="middle" fill="#1a1a1a">10<tspan font-size="3.8" dy="-2.4">4</tspan></text>
<line x1="105.45" y1="486.60" x2="105.45" y2="488.20" stroke="#444" stroke-width="0.7"/>
<text x="125.63" y="497.80" font-size="6.0" text-anchor="middle" fill="#1a1a1a">10<tspan font-size="3.8" dy="-2.4">5</tspan></text>
<line x1="125.63" y1="486.60" x2="125.63" y2="488.20" stroke="#444" stroke-width="0.7"/>
<text x="54.99" y="497.80" font-size="6.0" text-anchor="middle" fill="#1a1a1a">0</text>
<clipPath id="cp8"><rect x="158.50" y="395.40" width="91.80" height="91.60"/></clipPath>
<g clip-path="url(#cp8)">
<g fill="#666"><circle cx="207.4" cy="447.8" r="0.42"/><circle cx="240.4" cy="464.3" r="0.42"/><circle cx="236.8" cy="442.0" r="0.42"/><circle cx="239.9" cy="461.6" r="0.42"/><circle cx="236.6" cy="439.4" r="0.42"/><circle cx="222.5" cy="428.1" r="0.42"/><circle cx="237.7" cy="432.0" r="0.42"/><circle cx="224.1" cy="428.9" r="0.42"/><circle cx="240.0" cy="435.0" r="0.42"/><circle cx="237.0" cy="434.2" r="0.42"/><circle cx="229.4" cy="420.2" r="0.42"/><circle cx="224.8" cy="481.1" r="0.42"/><circle cx="184.9" cy="449.7" r="0.42"/><circle cx="240.1" cy="469.8" r="0.42"/><circle cx="223.8" cy="425.8" r="0.42"/><circle cx="174.1" cy="444.4" r="0.42"/><circle cx="215.8" cy="444.5" r="0.42"/><circle cx="234.0" cy="424.1" r="0.42"/><circle cx="215.6" cy="443.7" r="0.42"/><circle cx="241.7" cy="464.6" r="0.42"/><circle cx="234.0" cy="478.9" r="0.42"/><circle cx="217.3" cy="477.3" r="0.42"/><circle cx="186.8" cy="450.2" r="0.42"/><circle cx="214.9" cy="476.7" r="0.42"/><circle cx="239.6" cy="467.6" r="0.42"/><circle cx="220.2" cy="434.0" r="0.42"/><circle cx="238.3" cy="471.3" r="0.42"/><circle cx="241.6" cy="448.9" r="0.42"/><circle cx="240.6" cy="446.7" r="0.42"/><circle cx="238.9" cy="425.0" r="0.42"/><circle cx="231.2" cy="481.3" r="0.42"/><circle cx="198.1" cy="483.2" r="0.42"/><circle cx="226.9" cy="477.6" r="0.42"/><circle cx="168.7" cy="443.3" r="0.42"/><circle cx="232.1" cy="478.1" r="0.42"/><circle cx="239.4" cy="435.4" r="0.42"/><circle cx="239.1" cy="475.0" r="0.42"/><circle cx="198.3" cy="486.2" r="0.42"/><circle cx="243.3" cy="450.8" r="0.42"/><circle cx="240.4" cy="450.2" r="0.42"/><circle cx="236.1" cy="424.9" r="0.42"/><circle cx="222.9" cy="429.4" r="0.42"/><circle cx="223.6" cy="432.6" r="0.42"/><circle cx="220.3" cy="475.6" r="0.42"/><circle cx="214.2" cy="453.3" r="0.42"/><circle cx="225.2" cy="479.6" r="0.42"/><circle cx="194.3" cy="482.7" r="0.42"/><circle cx="240.3" cy="437.7" r="0.42"/><circle cx="242.2" cy="446.7" r="0.42"/><circle cx="238.4" cy="451.7" r="0.42"/><circle cx="219.8" cy="456.3" r="0.42"/><circle cx="211.9" cy="451.2" r="0.42"/><circle cx="212.2" cy="446.0" r="0.42"/><circle cx="219.1" cy="442.3" r="0.42"/><circle cx="228.4" cy="483.0" r="0.42"/><circle cx="199.4" cy="484.5" r="0.42"/><circle cx="207.6" cy="478.6" r="0.42"/><circle cx="216.6" cy="440.7" r="0.42"/><circle cx="236.9" cy="473.7" r="0.42"/><circle cx="236.4" cy="471.2" r="0.42"/><circle cx="216.8" cy="446.2" r="0.42"/><circle cx="218.8" cy="472.4" r="0.42"/><circle cx="241.2" cy="451.0" r="0.42"/><circle cx="198.4" cy="448.7" r="0.42"/><circle cx="221.1" cy="475.3" r="0.42"/><circle cx="239.7" cy="451.9" r="0.42"/><circle cx="222.1" cy="425.1" r="0.42"/><circle cx="217.8" cy="452.3" r="0.42"/><circle cx="230.0" cy="480.1" r="0.42"/><circle cx="213.8" cy="449.3" r="0.42"/><circle cx="237.3" cy="431.1" r="0.42"/><circle cx="215.4" cy="448.7" r="0.42"/><circle cx="229.6" cy="424.4" r="0.42"/><circle cx="215.6" cy="442.9" r="0.42"/><circle cx="201.5" cy="476.1" r="0.42"/><circle cx="220.2" cy="452.5" r="0.42"/><circle cx="238.0" cy="467.3" r="0.42"/><circle cx="225.7" cy="424.8" r="0.42"/><circle cx="216.1" cy="444.0" r="0.42"/><circle cx="239.7" cy="476.9" r="0.42"/><circle cx="215.9" cy="471.8" r="0.42"/><circle cx="239.3" cy="446.0" r="0.42"/><circle cx="193.9" cy="447.0" r="0.42"/><circle cx="208.9" cy="451.0" r="0.42"/><circle cx="234.5" cy="481.2" r="0.42"/><circle cx="237.8" cy="434.3" r="0.42"/><circle cx="234.9" cy="483.0" r="0.42"/><circle cx="196.4" cy="451.3" r="0.42"/><circle cx="212.9" cy="472.5" r="0.42"/><circle cx="238.6" cy="442.7" r="0.42"/><circle cx="210.0" cy="445.7" r="0.42"/><circle cx="223.4" cy="428.3" r="0.42"/><circle cx="237.3" cy="469.3" r="0.42"/><circle cx="221.9" cy="477.1" r="0.42"/><circle cx="232.8" cy="483.5" r="0.42"/><circle cx="210.4" cy="452.9" r="0.42"/><circle cx="197.2" cy="481.3" r="0.42"/><circle cx="217.6" cy="448.1" r="0.42"/><circle cx="234.5" cy="484.2" r="0.42"/><circle cx="234.4" cy="480.8" r="0.42"/><circle cx="235.0" cy="424.6" r="0.42"/><circle cx="226.6" cy="480.7" r="0.42"/><circle cx="217.3" cy="445.7" r="0.42"/><circle cx="215.9" cy="451.5" r="0.42"/><circle cx="210.2" cy="452.4" r="0.42"/><circle cx="230.1" cy="478.5" r="0.42"/><circle cx="218.9" cy="475.3" r="0.42"/><circle cx="242.2" cy="465.5" r="0.42"/><circle cx="240.9" cy="431.1" r="0.42"/><circle cx="234.1" cy="475.7" r="0.42"/><circle cx="192.2" cy="485.4" r="0.42"/><circle cx="239.9" cy="460.0" r="0.42"/><circle cx="161.2" cy="447.1" r="0.42"/><circle cx="236.8" cy="445.2" r="0.42"/><circle cx="236.8" cy="432.1" r="0.42"/><circle cx="223.3" cy="482.1" r="0.42"/><circle cx="229.3" cy="482.4" r="0.42"/><circle cx="222.8" cy="434.8" r="0.42"/><circle cx="182.0" cy="448.6" r="0.42"/><circle cx="225.5" cy="476.5" r="0.42"/><circle cx="214.7" cy="443.7" r="0.42"/><circle cx="237.1" cy="437.1" r="0.42"/><circle cx="222.9" cy="428.5" r="0.42"/><circle cx="231.7" cy="425.6" r="0.42"/><circle cx="214.9" cy="447.4" r="0.42"/><circle cx="218.8" cy="452.5" r="0.42"/><circle cx="237.0" cy="476.2" r="0.42"/><circle cx="240.8" cy="440.2" r="0.42"/><circle cx="224.0" cy="475.7" r="0.42"/><circle cx="164.4" cy="450.8" r="0.42"/><circle cx="221.7" cy="472.0" r="0.42"/><circle cx="240.2" cy="463.8" r="0.42"/><circle cx="231.7" cy="478.6" r="0.42"/><circle cx="191.9" cy="450.4" r="0.42"/><circle cx="221.9" cy="439.2" r="0.42"/><circle cx="218.7" cy="441.6" r="0.42"/><circle cx="238.4" cy="471.1" r="0.42"/><circle cx="181.6" cy="446.3" r="0.42"/><circle cx="216.8" cy="476.4" r="0.42"/><circle cx="232.6" cy="483.0" r="0.42"/><circle cx="239.2" cy="434.3" r="0.42"/><circle cx="237.2" cy="476.2" r="0.42"/><circle cx="223.8" cy="479.3" r="0.42"/><circle cx="220.6" cy="433.8" r="0.42"/><circle cx="239.1" cy="479.5" r="0.42"/><circle cx="221.1" cy="430.2" r="0.42"/><circle cx="216.2" cy="445.1" r="0.42"/><circle cx="214.9" cy="454.2" r="0.42"/><circle cx="207.1" cy="452.3" r="0.42"/><circle cx="217.1" cy="451.1" r="0.42"/><circle cx="243.8" cy="457.1" r="0.42"/><circle cx="237.1" cy="471.0" r="0.42"/><circle cx="223.2" cy="426.1" r="0.42"/><circle cx="223.9" cy="430.1" r="0.42"/><circle cx="238.7" cy="453.6" r="0.42"/><circle cx="209.1" cy="474.0" r="0.42"/><circle cx="242.9" cy="456.9" r="0.42"/><circle cx="213.1" cy="452.0" r="0.42"/><circle cx="211.4" cy="455.5" r="0.42"/><circle cx="237.6" cy="466.1" r="0.42"/><circle cx="231.4" cy="482.2" r="0.42"/><circle cx="219.3" cy="434.2" r="0.42"/><circle cx="204.9" cy="448.9" r="0.42"/><circle cx="230.8" cy="425.1" r="0.42"/><circle cx="222.9" cy="425.7" r="0.42"/><circle cx="213.3" cy="454.4" r="0.42"/><circle cx="226.7" cy="479.0" r="0.42"/><circle cx="221.3" cy="430.4" r="0.42"/><circle cx="223.3" cy="435.9" r="0.42"/><circle cx="230.8" cy="420.2" r="0.42"/><circle cx="232.9" cy="426.1" r="0.42"/><circle cx="224.0" cy="481.2" r="0.42"/><circle cx="220.1" cy="440.0" r="0.42"/><circle cx="202.6" cy="480.6" r="0.42"/><circle cx="238.2" cy="440.5" r="0.42"/><circle cx="237.6" cy="467.6" r="0.42"/><circle cx="219.1" cy="455.9" r="0.42"/><circle cx="189.6" cy="448.3" r="0.42"/><circle cx="209.0" cy="449.3" r="0.42"/><circle cx="237.3" cy="471.4" r="0.42"/><circle cx="215.3" cy="452.3" r="0.42"/><circle cx="226.7" cy="477.1" r="0.42"/><circle cx="214.8" cy="471.7" r="0.42"/><circle cx="223.5" cy="477.8" r="0.42"/><circle cx="211.6" cy="445.2" r="0.42"/><circle cx="239.8" cy="460.9" r="0.42"/><circle cx="238.4" cy="426.5" r="0.42"/><circle cx="242.7" cy="450.6" r="0.42"/><circle cx="240.1" cy="434.2" r="0.42"/><circle cx="228.9" cy="478.4" r="0.42"/><circle cx="240.1" cy="453.8" r="0.42"/><circle cx="216.5" cy="451.5" r="0.42"/><circle cx="187.8" cy="445.1" r="0.42"/><circle cx="233.4" cy="480.6" r="0.42"/><circle cx="239.8" cy="449.0" r="0.42"/><circle cx="201.8" cy="453.2" r="0.42"/><circle cx="237.1" cy="429.2" r="0.42"/><circle cx="239.5" cy="431.0" r="0.42"/><circle cx="223.3" cy="479.0" r="0.42"/><circle cx="242.8" cy="453.0" r="0.42"/><circle cx="159.6" cy="446.5" r="0.42"/><circle cx="222.4" cy="432.3" r="0.42"/><circle cx="199.1" cy="477.4" r="0.42"/><circle cx="214.1" cy="452.9" r="0.42"/><circle cx="229.4" cy="482.5" r="0.42"/><circle cx="216.5" cy="447.6" r="0.42"/><circle cx="216.2" cy="438.1" r="0.42"/><circle cx="217.4" cy="441.1" r="0.42"/><circle cx="236.3" cy="442.8" r="0.42"/><circle cx="234.6" cy="475.9" r="0.42"/><circle cx="222.3" cy="470.4" r="0.42"/><circle cx="237.8" cy="470.6" r="0.42"/><circle cx="220.9" cy="438.0" r="0.42"/><circle cx="237.2" cy="439.4" r="0.42"/><circle cx="219.1" cy="456.2" r="0.42"/><circle cx="228.3" cy="483.8" r="0.42"/><circle cx="240.9" cy="462.5" r="0.42"/><circle cx="241.7" cy="449.0" r="0.42"/><circle cx="216.8" cy="440.5" r="0.42"/><circle cx="203.7" cy="475.4" r="0.42"/><circle cx="230.4" cy="485.3" r="0.42"/><circle cx="240.8" cy="471.2" r="0.42"/><circle cx="241.3" cy="452.6" r="0.42"/><circle cx="209.3" cy="454.6" r="0.42"/><circle cx="222.6" cy="439.6" r="0.42"/><circle cx="221.3" cy="429.6" r="0.42"/><circle cx="216.3" cy="448.5" r="0.42"/><circle cx="242.2" cy="469.0" r="0.42"/><circle cx="240.2" cy="433.5" r="0.42"/><circle cx="211.9" cy="475.0" r="0.42"/><circle cx="217.8" cy="451.0" r="0.42"/><circle cx="214.2" cy="441.1" r="0.42"/><circle cx="241.2" cy="442.7" r="0.42"/><circle cx="217.0" cy="455.8" r="0.42"/><circle cx="240.3" cy="453.1" r="0.42"/><circle cx="203.1" cy="476.7" r="0.42"/><circle cx="230.1" cy="482.4" r="0.42"/><circle cx="229.4" cy="477.9" r="0.42"/><circle cx="223.2" cy="477.5" r="0.42"/><circle cx="217.0" cy="439.1" r="0.42"/><circle cx="213.1" cy="454.0" r="0.42"/><circle cx="216.0" cy="447.4" r="0.42"/><circle cx="239.2" cy="432.9" r="0.42"/><circle cx="204.7" cy="449.8" r="0.42"/><circle cx="228.9" cy="424.2" r="0.42"/><circle cx="235.5" cy="483.4" r="0.42"/><circle cx="241.8" cy="461.9" r="0.42"/><circle cx="239.2" cy="441.8" r="0.42"/><circle cx="236.5" cy="470.9" r="0.42"/><circle cx="237.0" cy="427.7" r="0.42"/><circle cx="164.6" cy="450.2" r="0.42"/><circle cx="238.1" cy="462.9" r="0.42"/><circle cx="221.6" cy="435.3" r="0.42"/><circle cx="239.3" cy="445.2" r="0.42"/><circle cx="238.0" cy="432.7" r="0.42"/><circle cx="234.7" cy="423.8" r="0.42"/><circle cx="200.6" cy="452.7" r="0.42"/><circle cx="239.7" cy="428.1" r="0.42"/><circle cx="227.1" cy="480.9" r="0.42"/><circle cx="221.6" cy="434.5" r="0.42"/><circle cx="238.7" cy="459.4" r="0.42"/><circle cx="217.0" cy="449.9" r="0.42"/><circle cx="224.9" cy="481.4" r="0.42"/><circle cx="239.5" cy="465.6" r="0.42"/><circle cx="222.6" cy="481.7" r="0.42"/><circle cx="230.8" cy="478.8" r="0.42"/><circle cx="220.8" cy="434.8" r="0.42"/><circle cx="240.2" cy="441.2" r="0.42"/><circle cx="242.5" cy="454.3" r="0.42"/><circle cx="228.8" cy="478.9" r="0.42"/><circle cx="237.9" cy="431.6" r="0.42"/><circle cx="243.7" cy="452.6" r="0.42"/><circle cx="238.5" cy="451.5" r="0.42"/><circle cx="197.1" cy="452.9" r="0.42"/><circle cx="217.6" cy="457.8" r="0.42"/><circle cx="216.3" cy="475.6" r="0.42"/><circle cx="220.7" cy="440.9" r="0.42"/><circle cx="216.6" cy="474.3" r="0.42"/><circle cx="223.4" cy="476.7" r="0.42"/><circle cx="224.0" cy="481.9" r="0.42"/><circle cx="240.6" cy="433.4" r="0.42"/><circle cx="186.6" cy="447.6" r="0.42"/><circle cx="231.6" cy="477.7" r="0.42"/><circle cx="233.7" cy="483.2" r="0.42"/><circle cx="242.1" cy="458.4" r="0.42"/><circle cx="237.1" cy="436.6" r="0.42"/><circle cx="236.8" cy="435.2" r="0.42"/><circle cx="212.9" cy="445.3" r="0.42"/><circle cx="235.1" cy="422.2" r="0.42"/><circle cx="208.1" cy="474.9" r="0.42"/><circle cx="206.0" cy="474.2" r="0.42"/><circle cx="243.3" cy="462.4" r="0.42"/><circle cx="236.4" cy="438.4" r="0.42"/><circle cx="236.4" cy="474.0" r="0.42"/><circle cx="215.4" cy="448.4" r="0.42"/><circle cx="237.9" cy="473.8" r="0.42"/><circle cx="213.2" cy="455.4" r="0.42"/><circle cx="197.1" cy="479.2" r="0.42"/><circle cx="218.5" cy="441.6" r="0.42"/><circle cx="232.4" cy="482.1" r="0.42"/><circle cx="222.4" cy="472.5" r="0.42"/><circle cx="182.2" cy="447.5" r="0.42"/><circle cx="239.3" cy="436.7" r="0.42"/><circle cx="224.9" cy="425.4" r="0.42"/><circle cx="218.3" cy="475.1" r="0.42"/><circle cx="222.4" cy="435.7" r="0.42"/><circle cx="218.0" cy="470.7" r="0.42"/><circle cx="241.4" cy="460.5" r="0.42"/><circle cx="202.3" cy="476.2" r="0.42"/><circle cx="239.9" cy="441.0" r="0.42"/><circle cx="222.0" cy="472.2" r="0.42"/><circle cx="219.9" cy="456.9" r="0.42"/><circle cx="238.8" cy="460.5" r="0.42"/><circle cx="196.1" cy="481.6" r="0.42"/><circle cx="219.2" cy="440.6" r="0.42"/><circle cx="221.0" cy="452.1" r="0.42"/><circle cx="217.8" cy="455.8" r="0.42"/><circle cx="217.3" cy="455.4" r="0.42"/><circle cx="213.7" cy="453.1" r="0.42"/><circle cx="208.8" cy="449.2" r="0.42"/><circle cx="163.5" cy="448.4" r="0.42"/><circle cx="206.3" cy="453.1" r="0.42"/><circle cx="220.3" cy="434.5" r="0.42"/><circle cx="202.8" cy="476.9" r="0.42"/><circle cx="203.1" cy="447.9" r="0.42"/><circle cx="212.1" cy="446.9" r="0.42"/><circle cx="206.5" cy="481.2" r="0.42"/><circle cx="201.4" cy="480.9" r="0.42"/><circle cx="186.8" cy="451.0" r="0.42"/><circle cx="236.1" cy="476.1" r="0.42"/><circle cx="229.0" cy="483.8" r="0.42"/><circle cx="193.7" cy="447.3" r="0.42"/><circle cx="214.3" cy="444.3" r="0.42"/><circle cx="240.5" cy="450.3" r="0.42"/><circle cx="236.7" cy="433.0" r="0.42"/><circle cx="221.2" cy="471.1" r="0.42"/><circle cx="218.0" cy="448.6" r="0.42"/><circle cx="228.9" cy="480.0" r="0.42"/><circle cx="214.8" cy="442.9" r="0.42"/><circle cx="229.6" cy="422.7" r="0.42"/><circle cx="162.8" cy="450.0" r="0.42"/><circle cx="220.3" cy="430.3" r="0.42"/><circle cx="227.4" cy="424.3" r="0.42"/><circle cx="238.6" cy="476.2" r="0.42"/><circle cx="221.2" cy="434.8" r="0.42"/><circle cx="185.0" cy="450.2" r="0.42"/><circle cx="239.2" cy="461.9" r="0.42"/><circle cx="161.7" cy="450.0" r="0.42"/><circle cx="168.4" cy="446.5" r="0.42"/><circle cx="222.8" cy="432.0" r="0.42"/><circle cx="204.0" cy="481.1" r="0.42"/><circle cx="220.7" cy="472.7" r="0.42"/><circle cx="221.6" cy="440.4" r="0.42"/><circle cx="196.7" cy="448.1" r="0.42"/><circle cx="224.6" cy="475.3" r="0.42"/><circle cx="217.8" cy="448.2" r="0.42"/><circle cx="220.8" cy="435.1" r="0.42"/><circle cx="215.7" cy="447.7" r="0.42"/><circle cx="196.1" cy="451.9" r="0.42"/><circle cx="230.0" cy="420.7" r="0.42"/><circle cx="240.7" cy="441.4" r="0.42"/><circle cx="218.1" cy="455.2" r="0.42"/><circle cx="237.3" cy="472.5" r="0.42"/><circle cx="241.0" cy="454.1" r="0.42"/><circle cx="241.5" cy="468.8" r="0.42"/><circle cx="236.5" cy="431.6" r="0.42"/><circle cx="166.8" cy="448.7" r="0.42"/><circle cx="220.8" cy="431.0" r="0.42"/><circle cx="225.6" cy="478.6" r="0.42"/><circle cx="238.9" cy="460.6" r="0.42"/><circle cx="219.4" cy="469.5" r="0.42"/><circle cx="237.4" cy="444.0" r="0.42"/><circle cx="219.1" cy="451.1" r="0.42"/><circle cx="206.9" cy="448.3" r="0.42"/><circle cx="229.7" cy="479.8" r="0.42"/><circle cx="239.9" cy="429.8" r="0.42"/><circle cx="215.2" cy="439.7" r="0.42"/><circle cx="242.5" cy="454.9" r="0.42"/><circle cx="238.4" cy="451.6" r="0.42"/><circle cx="198.5" cy="481.2" r="0.42"/></g>
<g fill="#888"><circle cx="159.5" cy="444.9" r="0.42"/><circle cx="198.2" cy="443.1" r="0.42"/><circle cx="185.3" cy="431.8" r="0.42"/><circle cx="189.4" cy="440.3" r="0.42"/><circle cx="193.2" cy="449.9" r="0.42"/><circle cx="206.0" cy="479.1" r="0.42"/><circle cx="200.8" cy="444.8" r="0.42"/><circle cx="210.8" cy="478.7" r="0.42"/><circle cx="192.2" cy="484.4" r="0.42"/><circle cx="176.2" cy="442.4" r="0.42"/><circle cx="201.6" cy="477.0" r="0.42"/><circle cx="160.6" cy="452.2" r="0.42"/><circle cx="205.5" cy="448.6" r="0.42"/><circle cx="208.1" cy="474.5" r="0.42"/><circle cx="174.1" cy="440.8" r="0.42"/><circle cx="216.5" cy="455.8" r="0.42"/><circle cx="216.8" cy="473.8" r="0.42"/><circle cx="219.0" cy="469.7" r="0.42"/><circle cx="202.4" cy="482.9" r="0.42"/><circle cx="166.5" cy="448.6" r="0.42"/><circle cx="241.5" cy="475.5" r="0.42"/><circle cx="237.6" cy="466.4" r="0.42"/><circle cx="197.3" cy="452.5" r="0.42"/><circle cx="209.8" cy="485.1" r="0.42"/><circle cx="196.4" cy="448.9" r="0.42"/><circle cx="229.2" cy="424.3" r="0.42"/><circle cx="210.0" cy="428.9" r="0.42"/><circle cx="233.4" cy="423.7" r="0.42"/><circle cx="226.0" cy="424.9" r="0.42"/><circle cx="234.2" cy="426.6" r="0.42"/><circle cx="247.9" cy="431.3" r="0.42"/><circle cx="246.6" cy="437.0" r="0.42"/><circle cx="227.2" cy="423.9" r="0.42"/><circle cx="209.9" cy="453.1" r="0.42"/><circle cx="237.8" cy="430.6" r="0.42"/><circle cx="244.5" cy="454.9" r="0.42"/><circle cx="239.3" cy="407.2" r="0.42"/><circle cx="213.3" cy="441.2" r="0.42"/><circle cx="220.0" cy="438.4" r="0.42"/><circle cx="215.7" cy="433.2" r="0.42"/><circle cx="222.7" cy="435.1" r="0.42"/><circle cx="221.8" cy="420.4" r="0.42"/><circle cx="239.4" cy="448.5" r="0.42"/><circle cx="214.0" cy="436.1" r="0.42"/><circle cx="239.1" cy="482.9" r="0.42"/><circle cx="243.0" cy="446.1" r="0.42"/><circle cx="242.1" cy="442.4" r="0.42"/><circle cx="242.2" cy="440.6" r="0.42"/><circle cx="222.4" cy="433.5" r="0.42"/><circle cx="220.0" cy="433.5" r="0.42"/><circle cx="237.1" cy="441.5" r="0.42"/><circle cx="216.0" cy="433.0" r="0.42"/><circle cx="221.7" cy="472.5" r="0.42"/><circle cx="218.6" cy="469.3" r="0.42"/><circle cx="237.3" cy="430.3" r="0.42"/><circle cx="244.5" cy="445.6" r="0.42"/><circle cx="246.7" cy="470.8" r="0.42"/><circle cx="240.5" cy="438.9" r="0.42"/><circle cx="243.8" cy="430.2" r="0.42"/><circle cx="242.8" cy="470.5" r="0.42"/><circle cx="245.5" cy="466.1" r="0.42"/><circle cx="246.5" cy="463.3" r="0.42"/><circle cx="200.3" cy="448.9" r="0.42"/><circle cx="212.9" cy="445.1" r="0.42"/><circle cx="215.8" cy="451.0" r="0.42"/><circle cx="207.4" cy="441.0" r="0.42"/><circle cx="218.8" cy="452.9" r="0.42"/><circle cx="210.8" cy="434.0" r="0.42"/><circle cx="219.6" cy="456.9" r="0.42"/><circle cx="215.2" cy="455.3" r="0.42"/><circle cx="202.4" cy="442.8" r="0.42"/><circle cx="216.7" cy="453.2" r="0.42"/><circle cx="239.4" cy="453.2" r="0.42"/><circle cx="214.8" cy="456.1" r="0.42"/><circle cx="212.3" cy="453.7" r="0.42"/><circle cx="222.0" cy="436.5" r="0.42"/><circle cx="217.0" cy="443.8" r="0.42"/><circle cx="204.7" cy="441.6" r="0.42"/><circle cx="239.1" cy="476.5" r="0.42"/><circle cx="233.9" cy="478.2" r="0.42"/><circle cx="236.2" cy="485.5" r="0.42"/><circle cx="222.0" cy="470.1" r="0.42"/><circle cx="209.8" cy="476.7" r="0.42"/><circle cx="237.9" cy="477.9" r="0.42"/><circle cx="223.8" cy="476.7" r="0.42"/><circle cx="216.2" cy="485.4" r="0.42"/><circle cx="222.4" cy="472.8" r="0.42"/><circle cx="221.5" cy="479.5" r="0.42"/><circle cx="247.0" cy="464.0" r="0.42"/><circle cx="249.1" cy="461.0" r="0.42"/><circle cx="210.4" cy="440.2" r="0.42"/><circle cx="176.3" cy="433.7" r="0.42"/><circle cx="212.1" cy="430.1" r="0.42"/><circle cx="195.0" cy="425.8" r="0.42"/><circle cx="186.8" cy="439.1" r="0.42"/><circle cx="194.5" cy="446.2" r="0.42"/><circle cx="201.5" cy="436.7" r="0.42"/><circle cx="198.6" cy="437.2" r="0.42"/><circle cx="181.3" cy="441.0" r="0.42"/><circle cx="186.9" cy="442.1" r="0.42"/><circle cx="237.2" cy="425.1" r="0.42"/><circle cx="223.2" cy="428.5" r="0.42"/><circle cx="198.3" cy="443.5" r="0.42"/><circle cx="209.8" cy="442.3" r="0.42"/><circle cx="219.8" cy="433.3" r="0.42"/><circle cx="195.4" cy="442.1" r="0.42"/><circle cx="210.3" cy="444.8" r="0.42"/><circle cx="174.1" cy="447.8" r="0.42"/><circle cx="208.5" cy="435.2" r="0.42"/><circle cx="190.5" cy="436.0" r="0.42"/><circle cx="192.9" cy="447.4" r="0.42"/><circle cx="202.2" cy="436.5" r="0.42"/><circle cx="203.3" cy="440.4" r="0.42"/><circle cx="212.2" cy="436.0" r="0.42"/><circle cx="198.8" cy="434.6" r="0.42"/><circle cx="201.4" cy="437.3" r="0.42"/><circle cx="193.6" cy="437.8" r="0.42"/><circle cx="219.7" cy="438.7" r="0.42"/><circle cx="207.0" cy="442.9" r="0.42"/><circle cx="204.8" cy="443.1" r="0.42"/><circle cx="203.3" cy="444.9" r="0.42"/><circle cx="209.3" cy="435.1" r="0.42"/><circle cx="186.4" cy="441.3" r="0.42"/><circle cx="203.3" cy="432.3" r="0.42"/><circle cx="198.9" cy="435.5" r="0.42"/><circle cx="204.8" cy="431.1" r="0.42"/><circle cx="203.6" cy="447.1" r="0.42"/><circle cx="215.3" cy="435.5" r="0.42"/><circle cx="222.6" cy="432.4" r="0.42"/><circle cx="213.7" cy="437.4" r="0.42"/><circle cx="196.9" cy="441.3" r="0.42"/><circle cx="191.8" cy="448.2" r="0.42"/><circle cx="193.5" cy="438.9" r="0.42"/><circle cx="195.5" cy="435.4" r="0.42"/><circle cx="208.0" cy="431.9" r="0.42"/><circle cx="188.2" cy="439.1" r="0.42"/><circle cx="210.9" cy="443.5" r="0.42"/><circle cx="202.7" cy="442.4" r="0.42"/><circle cx="221.2" cy="436.9" r="0.42"/><circle cx="213.6" cy="434.9" r="0.42"/><circle cx="181.3" cy="445.5" r="0.42"/><circle cx="187.5" cy="443.3" r="0.42"/><circle cx="190.2" cy="434.2" r="0.42"/><circle cx="199.6" cy="432.1" r="0.42"/><circle cx="203.2" cy="436.8" r="0.42"/><circle cx="200.7" cy="445.8" r="0.42"/><circle cx="213.1" cy="434.8" r="0.42"/><circle cx="213.7" cy="437.9" r="0.42"/><circle cx="196.7" cy="432.2" r="0.42"/><circle cx="194.2" cy="449.1" r="0.42"/><circle cx="203.5" cy="440.5" r="0.42"/><circle cx="214.8" cy="423.0" r="0.42"/><circle cx="186.6" cy="429.8" r="0.42"/><circle cx="202.2" cy="438.0" r="0.42"/><circle cx="191.8" cy="436.5" r="0.42"/><circle cx="242.4" cy="432.9" r="0.42"/><circle cx="208.7" cy="432.3" r="0.42"/><circle cx="191.8" cy="440.7" r="0.42"/><circle cx="197.8" cy="437.8" r="0.42"/><circle cx="196.9" cy="430.2" r="0.42"/><circle cx="207.6" cy="438.1" r="0.42"/><circle cx="210.5" cy="440.0" r="0.42"/><circle cx="206.3" cy="444.0" r="0.42"/><circle cx="198.3" cy="444.4" r="0.42"/><circle cx="195.4" cy="436.9" r="0.42"/><circle cx="187.6" cy="439.8" r="0.42"/><circle cx="204.1" cy="440.2" r="0.42"/><circle cx="217.2" cy="430.0" r="0.42"/><circle cx="196.7" cy="438.0" r="0.42"/><circle cx="176.3" cy="438.6" r="0.42"/><circle cx="193.6" cy="437.8" r="0.42"/><circle cx="197.5" cy="427.4" r="0.42"/><circle cx="207.8" cy="434.4" r="0.42"/><circle cx="209.1" cy="439.6" r="0.42"/><circle cx="201.3" cy="446.9" r="0.42"/><circle cx="178.9" cy="441.7" r="0.42"/><circle cx="204.3" cy="444.6" r="0.42"/><circle cx="201.1" cy="440.7" r="0.42"/><circle cx="206.3" cy="447.3" r="0.42"/><circle cx="196.7" cy="434.3" r="0.42"/><circle cx="195.6" cy="441.1" r="0.42"/><circle cx="219.4" cy="422.9" r="0.42"/><circle cx="185.6" cy="447.8" r="0.42"/><circle cx="195.6" cy="435.3" r="0.42"/><circle cx="194.9" cy="434.6" r="0.42"/><circle cx="187.5" cy="440.8" r="0.42"/><circle cx="193.0" cy="448.0" r="0.42"/><circle cx="168.3" cy="446.5" r="0.42"/><circle cx="193.8" cy="447.7" r="0.42"/><circle cx="188.9" cy="442.7" r="0.42"/><circle cx="193.2" cy="438.5" r="0.42"/><circle cx="205.9" cy="444.5" r="0.42"/><circle cx="204.5" cy="440.5" r="0.42"/><circle cx="186.9" cy="440.8" r="0.42"/><circle cx="218.9" cy="433.4" r="0.42"/><circle cx="195.0" cy="437.1" r="0.42"/><circle cx="218.3" cy="437.5" r="0.42"/><circle cx="206.8" cy="433.3" r="0.42"/><circle cx="178.8" cy="447.2" r="0.42"/><circle cx="196.7" cy="443.0" r="0.42"/><circle cx="208.5" cy="433.7" r="0.42"/><circle cx="187.7" cy="445.0" r="0.42"/><circle cx="170.9" cy="431.5" r="0.42"/><circle cx="222.6" cy="430.0" r="0.42"/><circle cx="240.4" cy="461.8" r="0.42"/><circle cx="248.0" cy="437.0" r="0.42"/><circle cx="239.0" cy="459.9" r="0.42"/><circle cx="239.6" cy="439.6" r="0.42"/><circle cx="243.4" cy="428.7" r="0.42"/><circle cx="243.6" cy="448.5" r="0.42"/><circle cx="239.7" cy="440.7" r="0.42"/><circle cx="238.7" cy="461.5" r="0.42"/><circle cx="240.7" cy="462.4" r="0.42"/><circle cx="242.0" cy="444.4" r="0.42"/><circle cx="238.6" cy="449.5" r="0.42"/><circle cx="237.9" cy="465.6" r="0.42"/><circle cx="236.9" cy="438.4" r="0.42"/><circle cx="239.5" cy="433.6" r="0.42"/><circle cx="246.3" cy="468.5" r="0.42"/><circle cx="245.3" cy="470.0" r="0.42"/><circle cx="244.6" cy="427.1" r="0.42"/><circle cx="242.3" cy="440.4" r="0.42"/><circle cx="243.1" cy="445.6" r="0.42"/><circle cx="237.9" cy="438.0" r="0.42"/><circle cx="241.9" cy="462.0" r="0.42"/><circle cx="241.4" cy="447.6" r="0.42"/><circle cx="238.9" cy="463.1" r="0.42"/><circle cx="244.9" cy="457.7" r="0.42"/><circle cx="242.5" cy="458.0" r="0.42"/><circle cx="239.8" cy="438.0" r="0.42"/><circle cx="242.8" cy="471.5" r="0.42"/><circle cx="247.8" cy="446.3" r="0.42"/><circle cx="237.8" cy="439.4" r="0.42"/><circle cx="242.4" cy="448.1" r="0.42"/><circle cx="244.3" cy="436.0" r="0.42"/><circle cx="240.3" cy="441.8" r="0.42"/><circle cx="240.7" cy="446.4" r="0.42"/><circle cx="239.9" cy="451.0" r="0.42"/><circle cx="239.3" cy="437.7" r="0.42"/><circle cx="239.8" cy="458.3" r="0.42"/></g>
<ellipse cx="175" cy="469" rx="15" ry="15" fill="url(#shd2)" opacity="0.65"/>
<path d="M178.0,490.5 L174.5,490.8 L170.5,490.5 L166.5,489.8 L163.5,488.7 L160.5,487.3 L157.6,485.4 L155.4,483.4 L153.2,480.9 L152.5,479.8 L152.4,477.4 L152.3,468.9 L152.5,460.9 L152.5,460.1 L154.5,457.5 L156.5,455.5 L158.5,453.9 L160.5,452.7 L163.5,451.2 L166.5,450.2 L169.0,449.6 L172.0,449.2 L175.0,449.1 L177.5,449.2 L180.5,449.6 L183.5,450.2 L193.0,452.5 L196.0,453.0 L204.0,453.9 L207.5,454.5 L210.0,455.2 L212.5,456.0 L218.5,458.6 L219.5,458.7 L220.0,458.5 L220.8,457.9 L221.3,456.9 L221.7,455.4 L221.7,453.9 L221.4,452.9 L220.9,451.9 L218.7,449.4 L217.8,447.9 L217.5,446.4 L217.8,444.9 L218.7,443.4 L221.8,440.9 L222.5,440.1 L222.9,439.4 L223.3,437.9 L223.4,433.9 L223.8,431.4 L224.6,429.4 L225.1,428.4 L225.9,427.4 L226.5,426.8 L227.5,426.1 L228.5,425.7 L229.5,425.5 L230.5,425.5 L231.5,425.7 L232.5,426.1 L233.5,426.8 L234.5,427.9 L235.5,429.4 L236.0,430.9 L236.4,432.4 L236.6,433.9 L236.6,435.4 L236.0,440.9 L236.0,442.9 L236.4,444.9 L237.7,448.9 L238.2,450.9 L238.6,453.4 L238.7,455.4 L238.6,457.4 L238.2,459.9 L235.9,470.9 L235.4,472.4 L234.8,473.9 L234.2,474.9 L233.5,475.8 L232.5,476.7 L231.0,477.3 L229.5,477.4 L228.0,477.0 L226.5,476.1 L225.5,475.0 L224.6,473.9 L222.5,470.5 L221.5,469.4 L220.5,468.9 L220.0,468.9 L219.0,469.0 L212.0,472.2 L204.0,474.8 L201.3,475.9 L200.0,476.6 L198.5,477.8 L192.5,483.7 L190.5,485.4 L188.5,486.7 L186.0,488.1 L183.5,489.1 L180.5,490.0 L178.0,490.5Z" fill="#000" fill-opacity="0.018" stroke="#444" stroke-width="0.4"/>
<path d="M230.5,472.0 L229.5,472.1 L228.5,471.5 L228.0,471.0 L227.5,470.1 L226.8,468.4 L225.7,464.4 L225.1,461.4 L224.9,458.9 L224.8,453.9 L224.6,451.9 L224.0,450.3 L222.2,447.4 L221.9,446.4 L222.0,445.9 L222.5,444.9 L225.2,442.4 L225.5,441.9 L226.0,440.9 L226.1,439.4 L225.7,435.9 L225.6,434.4 L225.8,432.9 L226.2,431.4 L227.0,430.1 L228.0,429.1 L229.0,428.6 L230.0,428.4 L231.0,428.6 L231.5,428.8 L232.5,429.5 L233.5,430.8 L234.1,432.4 L234.4,433.9 L234.3,435.9 L233.9,437.9 L232.9,441.4 L232.8,442.4 L232.8,443.4 L233.2,444.9 L235.0,448.7 L235.8,450.9 L236.2,452.9 L236.4,455.4 L236.2,457.9 L235.7,460.4 L233.0,468.2 L232.0,470.6 L231.4,471.4 L230.5,472.0Z" fill="#000" fill-opacity="0.018" stroke="#444" stroke-width="0.4"/>
<path d="M177.0,488.4 L173.5,488.6 L170.0,488.3 L167.0,487.6 L163.5,486.3 L160.5,484.6 L158.0,482.7 L155.9,480.4 L154.2,477.9 L153.2,475.9 L152.5,473.4 L152.5,466.9 L152.6,465.9 L153.1,464.4 L153.8,462.9 L155.2,460.4 L157.4,457.9 L159.5,456.0 L161.5,454.7 L163.5,453.6 L166.0,452.6 L168.0,452.0 L170.5,451.5 L173.0,451.3 L175.5,451.3 L178.0,451.4 L182.5,452.2 L193.5,455.1 L203.0,456.6 L206.5,457.4 L209.0,458.3 L211.0,459.2 L212.6,460.4 L213.6,461.4 L214.4,462.9 L214.6,463.9 L214.5,464.9 L213.8,466.4 L212.9,467.4 L212.0,468.1 L210.9,468.9 L209.0,469.9 L202.0,472.4 L200.5,473.1 L199.0,474.0 L197.8,474.9 L196.5,476.0 L192.5,480.4 L190.5,482.4 L188.5,484.0 L186.5,485.3 L184.0,486.6 L182.0,487.3 L179.5,488.0 L177.0,488.4Z" fill="#000" fill-opacity="0.018" stroke="#444" stroke-width="0.4"/>
<path d="M230.5,435.9 L230.0,436.1 L229.5,435.9 L229.0,434.9 L229.1,433.9 L229.5,433.3 L230.0,433.1 L230.6,433.4 L231.0,434.3 L231.0,434.9 L230.5,435.9Z" fill="#000" fill-opacity="0.018" stroke="#444" stroke-width="0.4"/>
<path d="M231.0,461.1 L230.5,461.1 L230.0,461.0 L229.5,460.7 L229.0,460.1 L228.3,458.4 L227.9,456.4 L228.0,453.4 L228.4,450.9 L229.0,449.8 L229.5,449.5 L230.0,449.3 L230.5,449.4 L231.5,449.9 L232.5,451.0 L233.2,452.4 L233.6,454.4 L233.7,455.4 L233.6,456.9 L233.0,458.8 L232.5,459.7 L232.0,460.4 L231.5,460.8 L231.0,461.1Z" fill="#000" fill-opacity="0.018" stroke="#444" stroke-width="0.4"/>
<path d="M178.0,486.4 L175.0,486.8 L171.5,486.7 L168.5,486.1 L165.5,485.2 L163.0,483.9 L160.5,482.3 L158.5,480.4 L156.6,477.9 L155.3,475.4 L154.5,472.9 L154.2,470.4 L154.3,468.9 L154.5,467.4 L154.8,465.9 L155.4,464.4 L156.7,461.9 L158.5,459.5 L160.5,457.7 L162.5,456.3 L164.5,455.2 L166.5,454.4 L168.5,453.8 L171.0,453.3 L173.0,453.1 L175.0,453.0 L177.5,453.2 L180.5,453.6 L183.0,454.2 L193.5,457.5 L203.0,459.8 L205.6,460.9 L206.5,461.5 L207.5,462.4 L208.0,463.4 L208.1,464.4 L207.7,465.4 L206.9,466.4 L206.0,467.1 L204.6,467.9 L199.5,470.5 L197.5,471.9 L195.0,474.3 L190.7,479.4 L188.1,481.9 L186.0,483.4 L183.5,484.7 L181.0,485.7 L178.0,486.4Z" fill="#000" fill-opacity="0.018" stroke="#444" stroke-width="0.4"/>
<path d="M177.0,485.0 L173.5,485.2 L170.5,484.9 L167.5,484.1 L164.5,482.9 L162.0,481.2 L160.5,479.9 L159.5,478.9 L158.7,477.9 L157.8,476.4 L156.7,473.9 L156.2,471.4 L156.1,469.9 L156.2,468.4 L156.5,466.9 L157.0,465.4 L158.2,462.9 L159.2,461.4 L160.1,460.4 L162.4,458.4 L165.0,456.8 L168.0,455.6 L171.5,454.8 L175.0,454.6 L178.5,454.9 L182.0,455.6 L185.0,456.6 L187.5,457.6 L195.0,460.9 L197.7,462.4 L198.8,463.4 L199.1,463.9 L199.2,464.9 L199.1,465.4 L198.5,466.4 L195.0,470.7 L190.5,476.9 L188.0,479.7 L185.5,481.7 L183.0,483.1 L180.0,484.3 L177.0,485.0Z" fill="#000" fill-opacity="0.018" stroke="#444" stroke-width="0.4"/>
<path d="M177.0,483.4 L174.0,483.7 L171.0,483.4 L168.0,482.7 L165.5,481.6 L163.0,480.0 L161.0,478.1 L159.5,475.9 L158.4,473.4 L157.9,470.9 L158.0,468.4 L158.6,465.9 L159.9,463.4 L161.4,461.4 L163.5,459.6 L166.0,458.1 L168.5,457.0 L171.5,456.3 L175.0,456.1 L178.5,456.4 L182.0,457.3 L186.0,458.8 L188.1,459.9 L189.8,460.9 L191.1,461.9 L192.2,462.9 L193.0,463.9 L193.5,464.9 L193.6,465.9 L193.6,466.9 L193.2,468.4 L192.6,469.9 L190.4,473.9 L189.1,475.9 L187.9,477.4 L185.5,479.7 L183.0,481.4 L181.5,482.1 L180.0,482.7 L177.0,483.4Z" fill="#000" fill-opacity="0.018" stroke="#444" stroke-width="0.4"/>
<path d="M177.0,482.0 L174.5,482.2 L171.5,482.0 L169.0,481.5 L166.5,480.4 L164.5,479.2 L162.5,477.4 L161.1,475.4 L160.2,473.4 L159.7,471.4 L159.7,468.9 L160.1,466.9 L161.0,464.7 L162.2,462.9 L164.0,461.1 L166.0,459.7 L168.5,458.6 L171.5,457.8 L174.5,457.5 L177.5,457.7 L181.0,458.5 L184.0,459.7 L185.5,460.5 L187.0,461.5 L188.2,462.4 L189.1,463.4 L189.8,464.4 L190.3,465.4 L190.5,466.4 L190.6,467.4 L190.5,468.4 L190.2,469.9 L189.6,471.4 L188.9,472.9 L188.1,474.4 L187.0,475.9 L185.0,478.1 L182.5,479.9 L180.0,481.1 L177.0,482.0Z" fill="#000" fill-opacity="0.018" stroke="#444" stroke-width="0.4"/>
<path d="M177.0,480.5 L175.0,480.8 L172.5,480.7 L170.0,480.3 L168.0,479.5 L166.0,478.4 L164.2,476.9 L163.0,475.4 L161.9,473.4 L161.4,471.4 L161.3,469.4 L161.6,467.4 L162.2,465.9 L163.5,463.9 L164.9,462.4 L166.5,461.2 L168.5,460.1 L171.0,459.3 L174.0,459.0 L177.0,459.1 L179.5,459.6 L182.5,460.8 L185.0,462.3 L186.7,463.9 L187.4,464.9 L187.8,465.9 L188.1,466.9 L188.2,467.9 L188.0,469.9 L187.2,472.4 L185.8,474.9 L184.0,476.9 L182.0,478.5 L179.5,479.8 L177.0,480.5Z" fill="#000" fill-opacity="0.018" stroke="#444" stroke-width="0.4"/>
<path d="M177.0,479.0 L175.0,479.3 L173.0,479.3 L171.0,479.0 L169.0,478.3 L167.5,477.5 L166.0,476.4 L164.7,474.9 L163.8,473.4 L163.2,471.9 L163.0,470.4 L163.2,468.4 L163.6,466.9 L164.4,465.4 L165.6,463.9 L167.0,462.7 L169.0,461.6 L171.0,460.9 L173.5,460.4 L176.0,460.5 L178.5,460.9 L181.0,461.8 L182.8,462.9 L184.5,464.4 L185.5,465.9 L185.9,466.9 L186.1,467.9 L186.0,469.9 L185.5,471.9 L184.4,473.9 L182.8,475.9 L181.0,477.3 L179.0,478.4 L177.0,479.0Z" fill="#000" fill-opacity="0.018" stroke="#444" stroke-width="0.4"/>
<path d="M176.5,477.5 L175.0,477.7 L173.0,477.7 L171.5,477.5 L170.0,477.0 L168.5,476.2 L167.4,475.4 L166.5,474.4 L165.5,472.9 L165.0,471.4 L164.8,469.9 L165.0,468.4 L165.5,467.0 L166.5,465.4 L167.5,464.4 L168.5,463.7 L170.0,462.9 L172.0,462.2 L174.0,461.9 L176.0,462.0 L178.0,462.4 L180.0,463.2 L181.5,464.2 L182.7,465.4 L183.6,466.9 L184.0,468.4 L184.0,469.9 L183.5,471.9 L182.6,473.4 L181.4,474.9 L180.0,476.0 L178.4,476.9 L176.5,477.5Z" fill="#000" fill-opacity="0.018" stroke="#444" stroke-width="0.4"/>
<path d="M175.5,475.9 L174.0,476.0 L172.5,475.9 L171.0,475.4 L170.0,475.0 L169.0,474.2 L168.2,473.4 L167.5,472.4 L167.1,471.4 L166.9,470.4 L167.0,468.9 L167.3,467.9 L167.9,466.9 L168.7,465.9 L169.5,465.2 L170.5,464.6 L172.0,464.0 L173.5,463.7 L175.0,463.7 L176.5,463.9 L178.0,464.4 L179.0,464.9 L180.3,465.9 L181.1,466.9 L181.5,467.9 L181.8,468.9 L181.7,470.4 L181.2,471.9 L180.6,472.9 L179.5,474.1 L178.3,474.9 L177.0,475.5 L175.5,475.9Z" fill="#000" fill-opacity="0.018" stroke="#444" stroke-width="0.4"/>
<path d="M176.0,473.4 L175.0,473.7 L174.0,473.8 L172.5,473.5 L171.2,472.9 L170.2,471.9 L169.7,470.9 L169.6,470.4 L169.6,469.4 L169.9,468.4 L170.2,467.9 L171.2,466.9 L172.0,466.4 L173.0,466.1 L174.0,465.9 L175.0,465.9 L176.0,466.2 L177.0,466.6 L178.0,467.3 L178.5,467.9 L178.7,468.4 L179.0,469.4 L179.0,469.9 L178.7,470.9 L178.2,471.9 L177.7,472.4 L177.0,473.0 L176.0,473.4Z" fill="#000" fill-opacity="0.018" stroke="#444" stroke-width="0.4"/>
</g>
<rect x="158.50" y="395.40" width="91.80" height="91.60" fill="none" stroke="#555" stroke-width="0.8"/>
<line x1="218.50" y1="395.40" x2="218.50" y2="487.00" stroke="#444" stroke-width="0.9"/>
<line x1="158.50" y1="445.50" x2="250.30" y2="445.50" stroke="#444" stroke-width="0.9"/>
<text x="160.30" y="402.00" font-size="5.9" fill="#1a1a1a">1.27</text>
<text x="248.70" y="402.00" font-size="5.9" text-anchor="end" fill="#1a1a1a">5.64</text>
<text x="160.30" y="484.60" font-size="5.9" fill="#1a1a1a">80.54</text>
<text x="248.70" y="484.60" font-size="5.9" text-anchor="end" fill="#1a1a1a">10.43</text>
<text x="155.00" y="406.30" font-size="6.0" text-anchor="end" fill="#1a1a1a">10<tspan font-size="3.8" dy="-2.4">5</tspan></text>
<line x1="156.90" y1="404.10" x2="158.50" y2="404.10" stroke="#444" stroke-width="0.7"/>
<text x="155.00" y="426.91" font-size="6.0" text-anchor="end" fill="#1a1a1a">10<tspan font-size="3.8" dy="-2.4">4</tspan></text>
<line x1="156.90" y1="424.71" x2="158.50" y2="424.71" stroke="#444" stroke-width="0.7"/>
<text x="155.00" y="447.52" font-size="6.0" text-anchor="end" fill="#1a1a1a">10<tspan font-size="3.8" dy="-2.4">3</tspan></text>
<line x1="156.90" y1="445.32" x2="158.50" y2="445.32" stroke="#444" stroke-width="0.7"/>
<text x="155.00" y="469.05" font-size="6.0" text-anchor="end" fill="#1a1a1a">10<tspan font-size="3.8" dy="-2.4">2</tspan></text>
<line x1="156.90" y1="466.85" x2="158.50" y2="466.85" stroke="#444" stroke-width="0.7"/>
<text x="155.00" y="478.67" font-size="6.0" text-anchor="end" fill="#1a1a1a">0</text>
<text x="177.32" y="498.20" font-size="6.0" text-anchor="middle" fill="#1a1a1a">10<tspan font-size="3.8" dy="-2.4">2</tspan></text>
<line x1="177.32" y1="487.00" x2="177.32" y2="488.60" stroke="#444" stroke-width="0.7"/>
<text x="198.89" y="498.20" font-size="6.0" text-anchor="middle" fill="#1a1a1a">10<tspan font-size="3.8" dy="-2.4">3</tspan></text>
<line x1="198.89" y1="487.00" x2="198.89" y2="488.60" stroke="#444" stroke-width="0.7"/>
<text x="220.19" y="498.20" font-size="6.0" text-anchor="middle" fill="#1a1a1a">10<tspan font-size="3.8" dy="-2.4">4</tspan></text>
<line x1="220.19" y1="487.00" x2="220.19" y2="488.60" stroke="#444" stroke-width="0.7"/>
<text x="240.75" y="498.20" font-size="6.0" text-anchor="middle" fill="#1a1a1a">10<tspan font-size="3.8" dy="-2.4">5</tspan></text>
<line x1="240.75" y1="487.00" x2="240.75" y2="488.60" stroke="#444" stroke-width="0.7"/>
<text x="168.78" y="498.20" font-size="6.0" text-anchor="middle" fill="#1a1a1a">0</text>
<clipPath id="cp9"><rect x="276.20" y="395.40" width="91.90" height="91.60"/></clipPath>
<g clip-path="url(#cp9)">
<g fill="#777"><circle cx="331.1" cy="447.3" r="0.42"/><circle cx="348.7" cy="477.9" r="0.42"/><circle cx="282.9" cy="451.3" r="0.42"/><circle cx="332.5" cy="453.7" r="0.42"/><circle cx="336.4" cy="439.0" r="0.42"/><circle cx="351.3" cy="464.8" r="0.42"/><circle cx="349.8" cy="472.9" r="0.42"/><circle cx="330.6" cy="481.8" r="0.42"/><circle cx="326.2" cy="453.8" r="0.42"/><circle cx="331.2" cy="453.3" r="0.42"/><circle cx="332.5" cy="449.0" r="0.42"/><circle cx="352.6" cy="427.1" r="0.42"/><circle cx="353.4" cy="444.1" r="0.42"/><circle cx="354.4" cy="455.1" r="0.42"/><circle cx="354.7" cy="445.2" r="0.42"/><circle cx="351.1" cy="425.9" r="0.42"/><circle cx="355.3" cy="457.2" r="0.42"/><circle cx="329.6" cy="442.2" r="0.42"/><circle cx="345.7" cy="479.8" r="0.42"/><circle cx="333.9" cy="452.5" r="0.42"/><circle cx="333.3" cy="446.8" r="0.42"/><circle cx="348.4" cy="420.8" r="0.42"/><circle cx="298.0" cy="450.0" r="0.42"/><circle cx="355.2" cy="428.2" r="0.42"/><circle cx="337.2" cy="471.9" r="0.42"/><circle cx="354.9" cy="442.2" r="0.42"/><circle cx="337.4" cy="463.7" r="0.42"/><circle cx="353.2" cy="454.6" r="0.42"/><circle cx="334.7" cy="440.2" r="0.42"/><circle cx="354.6" cy="477.8" r="0.42"/><circle cx="352.4" cy="440.0" r="0.42"/><circle cx="338.2" cy="468.7" r="0.42"/><circle cx="354.3" cy="438.3" r="0.42"/><circle cx="336.0" cy="464.3" r="0.42"/><circle cx="331.2" cy="483.2" r="0.42"/><circle cx="337.2" cy="465.1" r="0.42"/><circle cx="335.2" cy="440.9" r="0.42"/><circle cx="336.0" cy="453.7" r="0.42"/><circle cx="337.7" cy="477.9" r="0.42"/><circle cx="335.2" cy="437.5" r="0.42"/><circle cx="352.0" cy="478.2" r="0.42"/><circle cx="350.8" cy="429.9" r="0.42"/><circle cx="354.4" cy="459.1" r="0.42"/><circle cx="333.6" cy="455.0" r="0.42"/><circle cx="340.4" cy="425.0" r="0.42"/><circle cx="296.2" cy="447.7" r="0.42"/><circle cx="349.2" cy="476.4" r="0.42"/><circle cx="332.4" cy="462.6" r="0.42"/><circle cx="352.4" cy="474.2" r="0.42"/><circle cx="330.7" cy="450.3" r="0.42"/><circle cx="356.3" cy="442.0" r="0.42"/><circle cx="336.6" cy="437.3" r="0.42"/><circle cx="333.5" cy="455.5" r="0.42"/><circle cx="352.4" cy="427.8" r="0.42"/><circle cx="340.9" cy="422.2" r="0.42"/><circle cx="335.0" cy="436.3" r="0.42"/><circle cx="329.6" cy="448.1" r="0.42"/><circle cx="333.9" cy="438.9" r="0.42"/><circle cx="333.2" cy="446.3" r="0.42"/><circle cx="335.3" cy="454.7" r="0.42"/><circle cx="350.2" cy="467.8" r="0.42"/><circle cx="329.5" cy="484.4" r="0.42"/><circle cx="332.7" cy="466.7" r="0.42"/><circle cx="331.9" cy="446.8" r="0.42"/><circle cx="332.6" cy="476.0" r="0.42"/><circle cx="354.5" cy="463.5" r="0.42"/><circle cx="351.9" cy="471.9" r="0.42"/><circle cx="356.5" cy="462.0" r="0.42"/><circle cx="330.7" cy="448.0" r="0.42"/><circle cx="354.6" cy="434.6" r="0.42"/><circle cx="353.1" cy="440.8" r="0.42"/><circle cx="350.1" cy="467.3" r="0.42"/><circle cx="332.5" cy="478.5" r="0.42"/><circle cx="350.5" cy="475.7" r="0.42"/><circle cx="324.3" cy="443.6" r="0.42"/><circle cx="357.0" cy="450.9" r="0.42"/><circle cx="335.9" cy="454.7" r="0.42"/><circle cx="324.7" cy="443.8" r="0.42"/><circle cx="335.4" cy="434.2" r="0.42"/><circle cx="334.1" cy="484.9" r="0.42"/><circle cx="355.1" cy="461.7" r="0.42"/><circle cx="332.4" cy="442.3" r="0.42"/><circle cx="332.3" cy="439.9" r="0.42"/><circle cx="337.8" cy="469.3" r="0.42"/><circle cx="354.2" cy="474.9" r="0.42"/><circle cx="337.8" cy="423.3" r="0.42"/><circle cx="352.3" cy="428.9" r="0.42"/><circle cx="328.5" cy="448.5" r="0.42"/><circle cx="316.3" cy="445.2" r="0.42"/><circle cx="334.8" cy="436.2" r="0.42"/><circle cx="296.9" cy="446.3" r="0.42"/><circle cx="336.7" cy="477.4" r="0.42"/><circle cx="325.7" cy="453.4" r="0.42"/><circle cx="336.3" cy="472.4" r="0.42"/><circle cx="343.3" cy="482.7" r="0.42"/><circle cx="336.0" cy="474.5" r="0.42"/><circle cx="330.3" cy="451.6" r="0.42"/><circle cx="335.9" cy="474.3" r="0.42"/><circle cx="328.6" cy="452.8" r="0.42"/><circle cx="337.9" cy="464.5" r="0.42"/><circle cx="341.0" cy="481.8" r="0.42"/><circle cx="330.7" cy="441.6" r="0.42"/><circle cx="337.0" cy="459.0" r="0.42"/><circle cx="336.6" cy="460.2" r="0.42"/><circle cx="331.4" cy="449.1" r="0.42"/><circle cx="348.6" cy="475.8" r="0.42"/><circle cx="336.6" cy="460.8" r="0.42"/><circle cx="350.6" cy="425.9" r="0.42"/><circle cx="338.0" cy="474.1" r="0.42"/><circle cx="334.9" cy="450.7" r="0.42"/><circle cx="334.1" cy="450.2" r="0.42"/><circle cx="337.4" cy="464.5" r="0.42"/><circle cx="325.5" cy="454.3" r="0.42"/><circle cx="336.1" cy="467.4" r="0.42"/><circle cx="349.7" cy="480.8" r="0.42"/><circle cx="315.3" cy="442.4" r="0.42"/><circle cx="349.4" cy="472.2" r="0.42"/><circle cx="333.8" cy="443.0" r="0.42"/><circle cx="356.5" cy="465.4" r="0.42"/><circle cx="356.9" cy="460.3" r="0.42"/><circle cx="323.1" cy="444.6" r="0.42"/><circle cx="334.3" cy="452.7" r="0.42"/><circle cx="331.7" cy="452.3" r="0.42"/><circle cx="321.6" cy="452.0" r="0.42"/><circle cx="334.2" cy="443.6" r="0.42"/><circle cx="351.7" cy="439.1" r="0.42"/><circle cx="332.5" cy="445.0" r="0.42"/><circle cx="327.5" cy="483.5" r="0.42"/><circle cx="337.8" cy="475.8" r="0.42"/><circle cx="356.2" cy="469.9" r="0.42"/><circle cx="326.0" cy="445.8" r="0.42"/><circle cx="343.7" cy="480.5" r="0.42"/><circle cx="355.4" cy="459.5" r="0.42"/><circle cx="321.6" cy="450.4" r="0.42"/><circle cx="332.3" cy="467.4" r="0.42"/><circle cx="354.2" cy="456.1" r="0.42"/><circle cx="327.7" cy="485.8" r="0.42"/><circle cx="334.8" cy="466.5" r="0.42"/><circle cx="343.9" cy="422.6" r="0.42"/><circle cx="329.9" cy="455.0" r="0.42"/><circle cx="353.5" cy="464.0" r="0.42"/><circle cx="337.3" cy="481.5" r="0.42"/><circle cx="334.7" cy="484.6" r="0.42"/><circle cx="355.0" cy="442.9" r="0.42"/><circle cx="332.6" cy="477.0" r="0.42"/><circle cx="355.7" cy="452.8" r="0.42"/><circle cx="334.6" cy="452.9" r="0.42"/><circle cx="353.6" cy="479.7" r="0.42"/><circle cx="286.1" cy="449.7" r="0.42"/><circle cx="330.0" cy="452.6" r="0.42"/><circle cx="337.8" cy="430.2" r="0.42"/><circle cx="335.6" cy="460.2" r="0.42"/><circle cx="353.2" cy="455.5" r="0.42"/><circle cx="338.8" cy="468.0" r="0.42"/><circle cx="328.9" cy="448.1" r="0.42"/><circle cx="347.1" cy="422.3" r="0.42"/><circle cx="354.9" cy="456.9" r="0.42"/><circle cx="352.5" cy="439.0" r="0.42"/><circle cx="354.2" cy="444.1" r="0.42"/><circle cx="337.1" cy="427.7" r="0.42"/><circle cx="333.3" cy="471.6" r="0.42"/><circle cx="332.6" cy="462.5" r="0.42"/><circle cx="326.2" cy="453.4" r="0.42"/><circle cx="333.9" cy="481.4" r="0.42"/><circle cx="325.7" cy="480.9" r="0.42"/><circle cx="326.9" cy="449.7" r="0.42"/><circle cx="284.7" cy="448.4" r="0.42"/><circle cx="333.0" cy="450.0" r="0.42"/><circle cx="289.5" cy="444.4" r="0.42"/><circle cx="338.7" cy="468.5" r="0.42"/><circle cx="330.3" cy="482.4" r="0.42"/><circle cx="352.9" cy="449.4" r="0.42"/><circle cx="338.3" cy="433.3" r="0.42"/><circle cx="335.4" cy="458.1" r="0.42"/><circle cx="325.4" cy="453.5" r="0.42"/><circle cx="340.1" cy="427.6" r="0.42"/><circle cx="328.4" cy="443.2" r="0.42"/><circle cx="324.6" cy="454.2" r="0.42"/><circle cx="333.1" cy="440.0" r="0.42"/><circle cx="334.9" cy="439.6" r="0.42"/><circle cx="332.1" cy="440.4" r="0.42"/><circle cx="352.1" cy="424.2" r="0.42"/><circle cx="338.1" cy="434.6" r="0.42"/><circle cx="339.4" cy="429.6" r="0.42"/><circle cx="325.7" cy="452.3" r="0.42"/><circle cx="337.5" cy="428.8" r="0.42"/><circle cx="335.8" cy="440.3" r="0.42"/><circle cx="333.8" cy="482.9" r="0.42"/><circle cx="332.6" cy="449.3" r="0.42"/><circle cx="330.5" cy="480.4" r="0.42"/><circle cx="325.2" cy="447.2" r="0.42"/><circle cx="328.1" cy="458.1" r="0.42"/><circle cx="333.2" cy="456.8" r="0.42"/><circle cx="352.1" cy="449.3" r="0.42"/><circle cx="335.3" cy="455.5" r="0.42"/><circle cx="345.5" cy="424.0" r="0.42"/><circle cx="326.9" cy="480.2" r="0.42"/><circle cx="338.7" cy="431.1" r="0.42"/><circle cx="335.9" cy="452.7" r="0.42"/><circle cx="352.5" cy="468.8" r="0.42"/><circle cx="338.2" cy="434.7" r="0.42"/><circle cx="352.9" cy="451.0" r="0.42"/><circle cx="354.6" cy="463.7" r="0.42"/><circle cx="331.9" cy="467.5" r="0.42"/><circle cx="331.7" cy="448.3" r="0.42"/><circle cx="332.6" cy="437.6" r="0.42"/><circle cx="301.0" cy="443.7" r="0.42"/><circle cx="332.0" cy="442.1" r="0.42"/><circle cx="334.1" cy="437.1" r="0.42"/><circle cx="356.1" cy="437.7" r="0.42"/><circle cx="337.1" cy="429.9" r="0.42"/><circle cx="332.5" cy="464.4" r="0.42"/><circle cx="336.9" cy="457.4" r="0.42"/><circle cx="335.5" cy="459.0" r="0.42"/><circle cx="350.2" cy="482.3" r="0.42"/><circle cx="342.8" cy="480.8" r="0.42"/><circle cx="315.0" cy="449.2" r="0.42"/><circle cx="332.7" cy="480.3" r="0.42"/><circle cx="335.1" cy="438.1" r="0.42"/><circle cx="334.6" cy="441.0" r="0.42"/><circle cx="327.3" cy="451.7" r="0.42"/><circle cx="311.6" cy="443.4" r="0.42"/><circle cx="342.9" cy="481.1" r="0.42"/><circle cx="325.7" cy="485.1" r="0.42"/><circle cx="335.4" cy="476.7" r="0.42"/><circle cx="338.3" cy="427.9" r="0.42"/><circle cx="326.5" cy="454.4" r="0.42"/><circle cx="354.3" cy="468.6" r="0.42"/><circle cx="333.8" cy="483.6" r="0.42"/><circle cx="352.7" cy="448.4" r="0.42"/><circle cx="355.0" cy="433.6" r="0.42"/><circle cx="342.9" cy="421.4" r="0.42"/><circle cx="353.1" cy="449.8" r="0.42"/><circle cx="354.1" cy="442.8" r="0.42"/><circle cx="351.1" cy="464.5" r="0.42"/><circle cx="333.3" cy="444.6" r="0.42"/><circle cx="353.0" cy="466.6" r="0.42"/><circle cx="335.6" cy="455.5" r="0.42"/><circle cx="357.0" cy="447.0" r="0.42"/><circle cx="330.6" cy="444.3" r="0.42"/><circle cx="331.0" cy="444.4" r="0.42"/><circle cx="351.8" cy="441.9" r="0.42"/><circle cx="328.6" cy="455.9" r="0.42"/><circle cx="355.0" cy="470.7" r="0.42"/><circle cx="337.2" cy="465.1" r="0.42"/><circle cx="355.1" cy="439.6" r="0.42"/><circle cx="335.0" cy="466.7" r="0.42"/><circle cx="333.6" cy="453.4" r="0.42"/><circle cx="348.0" cy="476.6" r="0.42"/><circle cx="319.6" cy="451.5" r="0.42"/><circle cx="328.0" cy="448.7" r="0.42"/><circle cx="353.2" cy="475.4" r="0.42"/><circle cx="354.6" cy="446.3" r="0.42"/><circle cx="338.2" cy="426.7" r="0.42"/><circle cx="325.0" cy="482.6" r="0.42"/><circle cx="352.0" cy="430.3" r="0.42"/><circle cx="295.3" cy="447.5" r="0.42"/><circle cx="349.2" cy="476.6" r="0.42"/><circle cx="354.0" cy="473.2" r="0.42"/><circle cx="354.1" cy="450.4" r="0.42"/><circle cx="356.7" cy="454.4" r="0.42"/><circle cx="323.2" cy="452.7" r="0.42"/><circle cx="331.1" cy="446.8" r="0.42"/><circle cx="355.3" cy="474.0" r="0.42"/><circle cx="355.8" cy="439.9" r="0.42"/><circle cx="351.3" cy="482.2" r="0.42"/><circle cx="338.0" cy="478.5" r="0.42"/><circle cx="321.8" cy="450.5" r="0.42"/><circle cx="348.9" cy="474.5" r="0.42"/><circle cx="321.7" cy="447.1" r="0.42"/><circle cx="334.4" cy="441.3" r="0.42"/><circle cx="325.1" cy="453.7" r="0.42"/><circle cx="354.2" cy="432.0" r="0.42"/><circle cx="352.8" cy="468.0" r="0.42"/><circle cx="353.7" cy="465.2" r="0.42"/><circle cx="278.6" cy="449.1" r="0.42"/><circle cx="350.6" cy="466.8" r="0.42"/><circle cx="334.4" cy="455.7" r="0.42"/><circle cx="329.7" cy="482.3" r="0.42"/><circle cx="335.8" cy="480.4" r="0.42"/><circle cx="303.8" cy="441.6" r="0.42"/><circle cx="338.7" cy="476.7" r="0.42"/><circle cx="328.5" cy="444.5" r="0.42"/><circle cx="330.4" cy="444.8" r="0.42"/><circle cx="336.3" cy="434.8" r="0.42"/><circle cx="329.4" cy="481.5" r="0.42"/><circle cx="339.2" cy="469.9" r="0.42"/><circle cx="336.0" cy="437.9" r="0.42"/><circle cx="324.8" cy="486.4" r="0.42"/><circle cx="318.3" cy="448.2" r="0.42"/><circle cx="347.0" cy="423.7" r="0.42"/><circle cx="330.5" cy="441.6" r="0.42"/><circle cx="340.5" cy="477.1" r="0.42"/><circle cx="350.0" cy="424.9" r="0.42"/><circle cx="351.2" cy="463.4" r="0.42"/><circle cx="331.6" cy="462.3" r="0.42"/><circle cx="351.5" cy="444.0" r="0.42"/><circle cx="352.7" cy="463.9" r="0.42"/><circle cx="352.9" cy="466.7" r="0.42"/><circle cx="355.9" cy="440.5" r="0.42"/><circle cx="349.7" cy="423.0" r="0.42"/><circle cx="355.2" cy="436.5" r="0.42"/><circle cx="328.4" cy="452.4" r="0.42"/><circle cx="330.3" cy="454.4" r="0.42"/><circle cx="333.1" cy="450.4" r="0.42"/><circle cx="334.2" cy="453.7" r="0.42"/><circle cx="329.3" cy="448.9" r="0.42"/><circle cx="331.2" cy="486.2" r="0.42"/><circle cx="333.5" cy="443.3" r="0.42"/><circle cx="335.3" cy="481.8" r="0.42"/><circle cx="351.3" cy="472.8" r="0.42"/><circle cx="320.1" cy="448.3" r="0.42"/><circle cx="325.4" cy="447.0" r="0.42"/><circle cx="330.8" cy="441.0" r="0.42"/><circle cx="338.5" cy="425.0" r="0.42"/><circle cx="336.0" cy="434.4" r="0.42"/><circle cx="335.3" cy="464.4" r="0.42"/><circle cx="331.0" cy="443.5" r="0.42"/><circle cx="356.9" cy="460.1" r="0.42"/><circle cx="343.1" cy="482.2" r="0.42"/></g>
<g fill="#888"><circle cx="321.7" cy="448.7" r="0.42"/><circle cx="296.8" cy="443.4" r="0.42"/><circle cx="298.3" cy="446.6" r="0.42"/><circle cx="334.1" cy="480.5" r="0.42"/><circle cx="288.6" cy="438.9" r="0.42"/><circle cx="286.9" cy="443.2" r="0.42"/><circle cx="279.3" cy="444.1" r="0.42"/><circle cx="317.8" cy="444.4" r="0.42"/><circle cx="352.8" cy="472.0" r="0.42"/><circle cx="326.8" cy="452.8" r="0.42"/><circle cx="329.6" cy="456.8" r="0.42"/><circle cx="333.8" cy="480.3" r="0.42"/><circle cx="301.3" cy="429.1" r="0.42"/><circle cx="314.1" cy="440.7" r="0.42"/><circle cx="320.0" cy="419.7" r="0.42"/><circle cx="365.3" cy="482.0" r="0.42"/><circle cx="313.9" cy="435.0" r="0.42"/><circle cx="331.3" cy="428.7" r="0.42"/><circle cx="336.3" cy="428.1" r="0.42"/><circle cx="348.9" cy="416.1" r="0.42"/><circle cx="349.6" cy="423.4" r="0.42"/><circle cx="356.1" cy="404.4" r="0.42"/><circle cx="353.0" cy="451.0" r="0.42"/><circle cx="366.3" cy="444.7" r="0.42"/><circle cx="356.1" cy="449.9" r="0.42"/><circle cx="353.1" cy="429.4" r="0.42"/><circle cx="329.7" cy="417.7" r="0.42"/><circle cx="360.2" cy="452.6" r="0.42"/><circle cx="353.1" cy="458.7" r="0.42"/><circle cx="357.2" cy="449.0" r="0.42"/><circle cx="353.9" cy="452.0" r="0.42"/><circle cx="355.5" cy="445.9" r="0.42"/><circle cx="327.7" cy="408.8" r="0.42"/><circle cx="358.2" cy="474.7" r="0.42"/><circle cx="337.3" cy="460.2" r="0.42"/><circle cx="358.1" cy="443.4" r="0.42"/><circle cx="352.9" cy="453.2" r="0.42"/><circle cx="336.4" cy="425.1" r="0.42"/><circle cx="338.1" cy="467.8" r="0.42"/><circle cx="357.8" cy="442.3" r="0.42"/><circle cx="336.5" cy="437.4" r="0.42"/><circle cx="330.3" cy="442.8" r="0.42"/><circle cx="334.4" cy="443.3" r="0.42"/><circle cx="336.3" cy="436.8" r="0.42"/><circle cx="331.5" cy="445.1" r="0.42"/><circle cx="338.3" cy="433.2" r="0.42"/><circle cx="333.7" cy="448.8" r="0.42"/><circle cx="330.7" cy="443.6" r="0.42"/><circle cx="336.1" cy="454.6" r="0.42"/><circle cx="329.8" cy="438.1" r="0.42"/><circle cx="326.5" cy="452.7" r="0.42"/><circle cx="327.0" cy="456.4" r="0.42"/><circle cx="327.2" cy="445.5" r="0.42"/><circle cx="322.3" cy="441.5" r="0.42"/><circle cx="327.7" cy="445.9" r="0.42"/><circle cx="342.4" cy="484.5" r="0.42"/><circle cx="366.2" cy="480.7" r="0.42"/><circle cx="336.9" cy="485.3" r="0.42"/><circle cx="352.7" cy="485.9" r="0.42"/><circle cx="333.7" cy="473.8" r="0.42"/><circle cx="338.3" cy="469.8" r="0.42"/><circle cx="342.8" cy="476.5" r="0.42"/><circle cx="335.2" cy="483.5" r="0.42"/><circle cx="340.7" cy="476.4" r="0.42"/><circle cx="352.0" cy="467.6" r="0.42"/><circle cx="353.2" cy="466.9" r="0.42"/><circle cx="336.9" cy="464.0" r="0.42"/><circle cx="340.0" cy="486.3" r="0.42"/><circle cx="335.3" cy="478.6" r="0.42"/><circle cx="348.9" cy="480.2" r="0.42"/><circle cx="338.3" cy="477.8" r="0.42"/><circle cx="350.5" cy="476.6" r="0.42"/><circle cx="337.6" cy="476.2" r="0.42"/><circle cx="329.0" cy="437.7" r="0.42"/><circle cx="297.1" cy="444.4" r="0.42"/><circle cx="356.1" cy="430.9" r="0.42"/><circle cx="304.6" cy="447.0" r="0.42"/><circle cx="304.4" cy="441.1" r="0.42"/><circle cx="321.6" cy="434.7" r="0.42"/><circle cx="305.5" cy="441.7" r="0.42"/><circle cx="302.6" cy="442.7" r="0.42"/><circle cx="323.8" cy="431.3" r="0.42"/><circle cx="327.0" cy="430.0" r="0.42"/><circle cx="320.6" cy="433.8" r="0.42"/><circle cx="300.9" cy="438.5" r="0.42"/><circle cx="320.8" cy="441.1" r="0.42"/><circle cx="325.7" cy="432.3" r="0.42"/><circle cx="314.2" cy="425.3" r="0.42"/><circle cx="329.2" cy="436.0" r="0.42"/><circle cx="315.6" cy="437.0" r="0.42"/><circle cx="291.9" cy="444.1" r="0.42"/><circle cx="319.9" cy="437.2" r="0.42"/><circle cx="332.0" cy="434.8" r="0.42"/><circle cx="311.6" cy="444.9" r="0.42"/><circle cx="313.9" cy="434.3" r="0.42"/><circle cx="287.3" cy="441.1" r="0.42"/><circle cx="311.1" cy="433.6" r="0.42"/><circle cx="322.7" cy="428.7" r="0.42"/><circle cx="316.5" cy="438.4" r="0.42"/><circle cx="331.6" cy="435.5" r="0.42"/><circle cx="314.8" cy="443.7" r="0.42"/><circle cx="337.2" cy="435.8" r="0.42"/><circle cx="306.4" cy="442.5" r="0.42"/><circle cx="303.1" cy="447.1" r="0.42"/><circle cx="320.6" cy="432.9" r="0.42"/><circle cx="342.2" cy="426.5" r="0.42"/><circle cx="331.9" cy="433.8" r="0.42"/><circle cx="309.6" cy="431.7" r="0.42"/><circle cx="291.5" cy="443.8" r="0.42"/><circle cx="305.1" cy="445.5" r="0.42"/><circle cx="317.6" cy="439.8" r="0.42"/><circle cx="342.7" cy="425.1" r="0.42"/><circle cx="319.2" cy="435.5" r="0.42"/><circle cx="327.0" cy="435.5" r="0.42"/><circle cx="309.8" cy="435.3" r="0.42"/><circle cx="313.5" cy="431.4" r="0.42"/><circle cx="324.1" cy="422.7" r="0.42"/><circle cx="325.3" cy="439.2" r="0.42"/><circle cx="318.4" cy="436.2" r="0.42"/><circle cx="331.2" cy="439.4" r="0.42"/><circle cx="328.4" cy="433.9" r="0.42"/><circle cx="323.7" cy="436.4" r="0.42"/><circle cx="311.8" cy="444.4" r="0.42"/><circle cx="298.9" cy="439.9" r="0.42"/><circle cx="298.3" cy="432.0" r="0.42"/><circle cx="335.3" cy="438.3" r="0.42"/><circle cx="320.7" cy="431.4" r="0.42"/><circle cx="318.0" cy="441.5" r="0.42"/><circle cx="291.3" cy="446.1" r="0.42"/><circle cx="324.8" cy="445.9" r="0.42"/><circle cx="306.4" cy="449.3" r="0.42"/><circle cx="319.2" cy="439.6" r="0.42"/><circle cx="331.6" cy="447.2" r="0.42"/><circle cx="333.3" cy="444.7" r="0.42"/><circle cx="319.4" cy="441.3" r="0.42"/><circle cx="329.0" cy="429.3" r="0.42"/><circle cx="321.4" cy="438.5" r="0.42"/><circle cx="327.4" cy="444.6" r="0.42"/><circle cx="327.6" cy="437.8" r="0.42"/><circle cx="319.6" cy="438.1" r="0.42"/><circle cx="299.0" cy="440.3" r="0.42"/><circle cx="304.7" cy="433.5" r="0.42"/><circle cx="331.1" cy="431.0" r="0.42"/><circle cx="302.3" cy="432.4" r="0.42"/><circle cx="335.0" cy="442.1" r="0.42"/><circle cx="323.1" cy="435.5" r="0.42"/><circle cx="325.5" cy="439.3" r="0.42"/><circle cx="319.4" cy="439.1" r="0.42"/><circle cx="295.0" cy="442.8" r="0.42"/><circle cx="311.8" cy="438.0" r="0.42"/><circle cx="315.2" cy="431.4" r="0.42"/><circle cx="321.9" cy="440.4" r="0.42"/><circle cx="286.7" cy="435.7" r="0.42"/><circle cx="336.4" cy="427.1" r="0.42"/><circle cx="328.5" cy="440.5" r="0.42"/><circle cx="306.7" cy="436.3" r="0.42"/><circle cx="306.1" cy="431.6" r="0.42"/><circle cx="301.8" cy="438.0" r="0.42"/><circle cx="311.9" cy="442.7" r="0.42"/><circle cx="327.7" cy="436.4" r="0.42"/><circle cx="293.3" cy="445.1" r="0.42"/><circle cx="311.9" cy="429.4" r="0.42"/><circle cx="309.4" cy="435.3" r="0.42"/><circle cx="317.7" cy="439.6" r="0.42"/><circle cx="339.2" cy="430.6" r="0.42"/><circle cx="318.6" cy="432.4" r="0.42"/><circle cx="308.4" cy="432.7" r="0.42"/><circle cx="316.9" cy="440.7" r="0.42"/><circle cx="314.1" cy="445.5" r="0.42"/><circle cx="317.2" cy="442.3" r="0.42"/><circle cx="313.3" cy="438.5" r="0.42"/><circle cx="325.3" cy="428.2" r="0.42"/><circle cx="315.0" cy="442.9" r="0.42"/><circle cx="320.2" cy="436.1" r="0.42"/><circle cx="313.0" cy="439.1" r="0.42"/><circle cx="319.9" cy="443.9" r="0.42"/><circle cx="305.2" cy="435.6" r="0.42"/><circle cx="333.1" cy="438.5" r="0.42"/><circle cx="311.7" cy="438.0" r="0.42"/><circle cx="325.0" cy="435.3" r="0.42"/><circle cx="308.2" cy="440.3" r="0.42"/><circle cx="326.8" cy="431.6" r="0.42"/><circle cx="312.2" cy="441.8" r="0.42"/><circle cx="293.2" cy="440.9" r="0.42"/><circle cx="329.2" cy="431.5" r="0.42"/><circle cx="328.2" cy="448.1" r="0.42"/><circle cx="326.1" cy="431.7" r="0.42"/><circle cx="332.5" cy="437.2" r="0.42"/><circle cx="307.2" cy="439.3" r="0.42"/><circle cx="355.1" cy="476.9" r="0.42"/><circle cx="360.9" cy="447.8" r="0.42"/><circle cx="357.0" cy="460.0" r="0.42"/><circle cx="361.1" cy="464.5" r="0.42"/><circle cx="351.4" cy="468.5" r="0.42"/><circle cx="351.3" cy="445.4" r="0.42"/><circle cx="358.9" cy="452.6" r="0.42"/><circle cx="360.2" cy="465.9" r="0.42"/><circle cx="355.1" cy="444.4" r="0.42"/><circle cx="361.2" cy="461.7" r="0.42"/><circle cx="360.1" cy="469.2" r="0.42"/><circle cx="354.8" cy="442.5" r="0.42"/><circle cx="356.8" cy="444.9" r="0.42"/><circle cx="353.3" cy="439.5" r="0.42"/><circle cx="355.5" cy="447.4" r="0.42"/><circle cx="357.7" cy="460.1" r="0.42"/><circle cx="360.9" cy="456.3" r="0.42"/><circle cx="356.9" cy="458.7" r="0.42"/><circle cx="356.6" cy="457.1" r="0.42"/><circle cx="353.7" cy="453.8" r="0.42"/><circle cx="350.8" cy="466.9" r="0.42"/><circle cx="356.8" cy="458.6" r="0.42"/><circle cx="353.5" cy="423.7" r="0.42"/><circle cx="360.0" cy="460.3" r="0.42"/><circle cx="356.0" cy="466.6" r="0.42"/><circle cx="360.2" cy="461.9" r="0.42"/><circle cx="355.5" cy="457.8" r="0.42"/><circle cx="356.4" cy="445.3" r="0.42"/><circle cx="353.8" cy="438.2" r="0.42"/><circle cx="355.7" cy="448.7" r="0.42"/><circle cx="359.4" cy="429.0" r="0.42"/><circle cx="355.7" cy="445.4" r="0.42"/><circle cx="353.0" cy="447.0" r="0.42"/><circle cx="361.8" cy="476.2" r="0.42"/><circle cx="352.0" cy="432.9" r="0.42"/></g>
<ellipse cx="291" cy="471" rx="16" ry="16" fill="url(#shd2)" opacity="0.65"/>
<path d="M346.2,476.0 L344.7,476.3 L343.7,476.2 L342.7,475.7 L341.7,475.0 L341.2,474.4 L340.5,473.4 L340.0,472.4 L339.4,470.4 L338.7,465.9 L337.4,460.4 L336.4,453.9 L335.9,452.4 L334.6,448.9 L334.2,446.9 L334.3,445.4 L334.8,443.9 L335.4,442.9 L337.3,440.4 L338.1,438.9 L338.4,437.4 L338.6,433.9 L338.8,432.4 L339.2,430.9 L339.9,429.4 L340.7,428.1 L341.9,426.9 L343.2,426.1 L344.7,425.8 L345.7,425.8 L346.7,426.1 L347.7,426.6 L348.7,427.4 L349.5,428.4 L350.1,429.4 L350.9,431.4 L351.3,433.4 L351.4,435.4 L350.8,440.9 L350.7,442.9 L351.0,444.9 L352.3,450.4 L352.6,453.4 L352.5,455.9 L352.2,457.9 L351.8,459.9 L350.4,465.4 L349.3,471.9 L348.7,473.4 L348.1,474.4 L347.2,475.4 L346.2,476.0Z" fill="#000" fill-opacity="0.018" stroke="#444" stroke-width="0.4"/>
<path d="M306.7,492.4 L300.2,492.6 L290.7,492.7 L281.2,492.7 L275.2,492.4 L274.5,492.4 L271.9,490.4 L270.2,488.7 L270.1,486.9 L269.9,480.9 L269.9,471.4 L270.0,463.9 L270.2,459.3 L272.1,457.4 L274.2,455.8 L276.7,454.2 L279.2,452.9 L281.7,452.0 L284.7,451.1 L287.7,450.6 L291.2,450.2 L295.7,450.1 L307.2,450.1 L310.7,450.2 L313.7,450.6 L317.2,451.4 L320.2,452.5 L323.2,454.2 L325.4,455.9 L327.2,457.9 L329.0,460.4 L330.1,462.9 L330.8,465.4 L331.0,467.9 L330.8,470.4 L330.2,472.9 L329.1,475.4 L327.9,477.4 L326.3,479.4 L324.7,481.1 L322.7,482.8 L320.7,484.2 L317.7,486.1 L308.2,491.7 L307.0,492.4 L306.7,492.4Z" fill="#000" fill-opacity="0.018" stroke="#444" stroke-width="0.4"/>
<path d="M345.2,465.5 L344.7,465.6 L344.2,465.4 L343.2,464.6 L341.7,462.4 L340.7,460.4 L339.9,457.9 L338.8,452.4 L337.4,448.4 L337.1,446.9 L337.2,445.9 L337.7,444.6 L338.2,443.9 L340.0,441.9 L340.8,440.4 L341.0,438.9 L340.9,434.4 L341.1,432.9 L341.7,431.4 L342.3,430.4 L343.2,429.5 L344.2,429.1 L345.2,429.0 L346.2,429.2 L346.7,429.5 L347.7,430.4 L348.3,431.4 L348.8,432.9 L349.0,434.4 L348.9,436.4 L348.6,437.9 L347.8,440.9 L347.6,442.9 L348.0,444.9 L349.3,448.4 L349.9,450.4 L350.1,451.9 L350.3,453.9 L350.2,455.9 L349.9,457.4 L349.0,460.4 L348.2,462.0 L347.2,463.6 L346.2,464.8 L345.2,465.5Z" fill="#000" fill-opacity="0.018" stroke="#444" stroke-width="0.4"/>
<path d="M301.2,492.4 L290.2,492.6 L279.4,492.4 L277.2,491.2 L274.7,489.4 L272.7,487.6 L270.8,485.4 L270.2,484.4 L270.1,481.4 L270.0,471.9 L270.2,463.5 L271.4,461.9 L272.7,460.4 L274.2,459.0 L275.7,457.8 L277.7,456.5 L280.2,455.2 L282.7,454.2 L285.7,453.4 L288.2,453.0 L291.7,452.7 L295.2,452.7 L299.2,452.8 L309.7,453.5 L312.7,454.0 L315.2,454.6 L317.7,455.5 L320.2,456.8 L322.2,458.4 L324.1,460.4 L325.3,462.4 L326.1,464.4 L326.6,466.4 L326.7,468.4 L326.5,470.4 L325.9,472.4 L325.1,474.4 L323.8,476.4 L322.6,477.9 L321.1,479.4 L319.2,481.0 L316.6,482.9 L306.7,489.6 L303.7,491.3 L301.2,492.4Z" fill="#000" fill-opacity="0.018" stroke="#444" stroke-width="0.4"/>
<path d="M344.7,458.4 L344.2,458.2 L343.7,457.9 L343.2,457.2 L342.6,455.9 L342.1,453.9 L341.9,451.4 L342.0,449.4 L342.4,448.4 L342.7,448.1 L343.2,447.9 L344.2,447.9 L345.2,448.5 L345.7,449.0 L346.7,450.6 L347.2,451.9 L347.4,452.9 L347.4,454.9 L347.2,455.9 L346.8,456.9 L346.2,457.8 L345.7,458.2 L345.2,458.4 L344.7,458.4Z" fill="#000" fill-opacity="0.018" stroke="#444" stroke-width="0.4"/>
<path d="M294.2,492.4 L286.1,492.4 L284.2,492.0 L282.2,491.3 L279.2,490.0 L276.8,488.4 L274.7,486.6 L272.8,484.4 L271.2,481.9 L270.2,479.4 L270.1,472.4 L270.2,468.6 L271.3,465.9 L272.9,463.4 L274.7,461.4 L276.2,460.0 L278.2,458.6 L280.2,457.4 L282.2,456.6 L284.7,455.7 L287.2,455.2 L290.2,454.8 L293.7,454.7 L297.7,455.0 L303.7,455.7 L309.2,456.5 L311.7,457.0 L314.2,457.7 L316.2,458.6 L318.2,459.9 L319.9,461.4 L321.1,462.9 L322.1,464.9 L322.6,466.9 L322.7,467.9 L322.6,469.4 L322.2,471.4 L321.4,473.4 L320.1,475.4 L317.9,477.9 L315.1,480.4 L309.5,484.9 L305.7,487.6 L303.2,489.2 L300.2,490.7 L297.2,491.7 L294.2,492.4Z" fill="#000" fill-opacity="0.018" stroke="#444" stroke-width="0.4"/>
<path d="M291.7,490.9 L289.2,490.9 L286.2,490.6 L283.7,489.9 L281.2,488.9 L279.2,487.8 L277.2,486.3 L275.3,484.4 L273.8,482.4 L272.5,479.9 L271.8,477.9 L271.4,475.4 L271.3,472.9 L271.7,470.4 L272.4,468.4 L273.6,465.9 L275.0,463.9 L276.4,462.4 L278.1,460.9 L279.7,459.8 L281.7,458.8 L283.7,457.9 L286.2,457.2 L288.7,456.8 L291.2,456.6 L294.2,456.6 L297.7,457.0 L301.7,457.6 L306.2,458.6 L309.2,459.4 L311.7,460.3 L313.7,461.3 L315.4,462.4 L316.8,463.9 L317.8,465.4 L318.3,466.9 L318.5,468.9 L318.4,470.4 L317.7,472.4 L316.6,474.4 L315.0,476.4 L312.2,479.4 L308.5,482.9 L305.5,485.4 L302.7,487.3 L300.2,488.6 L297.2,489.8 L294.2,490.6 L291.7,490.9Z" fill="#000" fill-opacity="0.018" stroke="#444" stroke-width="0.4"/>
<path d="M293.7,489.0 L292.2,489.2 L290.2,489.3 L287.2,489.1 L284.2,488.3 L282.7,487.7 L281.0,486.9 L278.7,485.3 L277.7,484.4 L276.3,482.9 L274.7,480.4 L274.1,478.9 L273.6,477.4 L273.3,475.9 L273.2,474.4 L273.3,471.9 L273.6,470.4 L274.1,468.9 L275.4,466.4 L276.5,464.9 L277.4,463.9 L279.7,461.9 L281.2,460.9 L282.7,460.2 L285.7,459.1 L287.7,458.6 L289.7,458.4 L291.7,458.3 L293.7,458.4 L298.2,459.0 L303.2,460.2 L307.7,461.9 L309.2,462.7 L310.7,463.6 L311.7,464.4 L312.7,465.5 L313.3,466.4 L313.9,467.9 L314.1,468.9 L314.1,470.4 L313.7,471.9 L313.1,473.4 L312.3,474.9 L311.0,476.9 L309.4,478.9 L307.6,480.9 L304.2,484.0 L302.3,485.4 L300.7,486.4 L299.2,487.2 L297.2,488.0 L295.2,488.7 L293.7,489.0Z" fill="#000" fill-opacity="0.018" stroke="#444" stroke-width="0.4"/>
<path d="M293.2,487.4 L290.2,487.7 L287.2,487.4 L284.2,486.6 L281.7,485.4 L279.7,483.9 L277.7,481.8 L276.2,479.4 L275.3,476.9 L275.0,474.4 L275.1,471.9 L275.8,469.4 L276.5,467.9 L277.2,466.8 L278.8,464.9 L279.9,463.9 L281.2,462.9 L283.7,461.5 L286.7,460.5 L289.7,460.0 L293.2,460.0 L295.2,460.2 L297.2,460.6 L300.7,461.6 L304.2,463.1 L305.6,463.9 L307.0,464.9 L308.1,465.9 L308.9,466.9 L309.5,467.9 L309.9,468.9 L310.1,469.9 L310.1,471.4 L309.9,472.4 L309.5,473.9 L308.8,475.4 L308.0,476.9 L306.6,478.9 L305.3,480.4 L302.7,482.9 L301.2,484.1 L299.7,485.1 L296.7,486.5 L294.7,487.1 L293.2,487.4Z" fill="#000" fill-opacity="0.018" stroke="#444" stroke-width="0.4"/>
<path d="M292.2,486.0 L289.2,486.0 L286.7,485.7 L284.2,484.8 L282.2,483.7 L281.1,482.9 L280.0,481.9 L278.5,479.9 L277.5,477.9 L276.8,475.4 L276.8,472.9 L277.3,470.4 L278.3,468.4 L279.7,466.4 L281.7,464.6 L283.7,463.3 L286.2,462.3 L288.7,461.8 L291.7,461.6 L294.7,461.8 L297.7,462.6 L301.0,463.9 L303.4,465.4 L305.0,466.9 L305.7,467.9 L306.3,468.9 L306.6,469.9 L306.8,470.9 L306.9,471.9 L306.7,473.4 L305.9,475.9 L304.4,478.4 L302.3,480.9 L300.2,482.7 L297.7,484.3 L295.2,485.3 L292.2,486.0Z" fill="#000" fill-opacity="0.018" stroke="#444" stroke-width="0.4"/>
<path d="M291.2,484.4 L288.7,484.4 L286.2,483.8 L284.1,482.9 L282.2,481.6 L280.6,479.9 L279.4,477.9 L278.8,475.9 L278.6,473.9 L278.8,471.9 L279.5,469.9 L280.7,467.9 L282.2,466.3 L284.2,465.0 L286.2,464.0 L288.7,463.4 L291.2,463.2 L293.7,463.4 L295.9,463.9 L298.2,464.8 L300.2,465.9 L302.0,467.4 L303.1,468.9 L303.8,470.4 L304.1,472.4 L303.9,474.4 L303.1,476.4 L302.0,478.4 L300.2,480.4 L298.4,481.9 L296.2,483.1 L293.7,484.0 L291.2,484.4Z" fill="#000" fill-opacity="0.018" stroke="#444" stroke-width="0.4"/>
<path d="M292.7,482.5 L290.7,482.7 L288.7,482.6 L286.7,482.1 L285.2,481.4 L283.7,480.5 L282.6,479.4 L281.5,477.9 L280.9,476.4 L280.6,474.9 L280.6,472.9 L280.9,471.4 L281.6,469.9 L282.7,468.4 L283.8,467.4 L285.3,466.4 L287.2,465.6 L289.2,465.1 L291.2,465.0 L293.7,465.2 L295.7,465.8 L297.7,466.8 L299.2,467.9 L300.5,469.4 L301.2,470.9 L301.5,472.4 L301.4,474.4 L300.7,476.4 L299.8,477.9 L298.5,479.4 L296.7,480.8 L294.7,481.9 L292.7,482.5Z" fill="#000" fill-opacity="0.018" stroke="#444" stroke-width="0.4"/>
<path d="M292.7,480.4 L291.2,480.7 L289.7,480.7 L288.2,480.5 L287.2,480.2 L285.7,479.4 L284.7,478.6 L283.7,477.4 L283.2,476.4 L282.9,475.4 L282.7,473.9 L282.9,472.4 L283.2,471.4 L283.8,470.4 L284.7,469.3 L285.8,468.4 L287.2,467.7 L288.7,467.2 L290.7,466.9 L292.2,467.0 L293.9,467.4 L295.2,467.9 L296.7,468.9 L297.7,469.9 L298.5,471.4 L298.8,472.4 L298.9,473.9 L298.5,475.4 L297.8,476.9 L297.0,477.9 L295.7,479.0 L294.2,479.9 L292.7,480.4Z" fill="#000" fill-opacity="0.018" stroke="#444" stroke-width="0.4"/>
<path d="M292.2,478.0 L291.2,478.2 L290.2,478.2 L288.7,478.0 L287.2,477.2 L286.7,476.7 L286.1,475.9 L285.7,475.1 L285.6,474.4 L285.7,472.9 L286.1,471.9 L286.4,471.4 L287.7,470.3 L288.7,469.8 L289.7,469.6 L291.2,469.5 L292.2,469.6 L293.2,470.0 L293.9,470.4 L294.7,471.1 L295.3,471.9 L295.5,472.4 L295.7,473.4 L295.7,474.4 L295.3,475.4 L294.7,476.3 L294.1,476.9 L293.2,477.5 L292.2,478.0Z" fill="#000" fill-opacity="0.018" stroke="#444" stroke-width="0.4"/>
</g>
<rect x="276.20" y="395.40" width="91.90" height="91.60" fill="none" stroke="#555" stroke-width="0.8"/>
<line x1="335.30" y1="395.40" x2="335.30" y2="487.00" stroke="#444" stroke-width="0.9"/>
<line x1="276.20" y1="445.50" x2="368.10" y2="445.50" stroke="#444" stroke-width="0.9"/>
<text x="278.00" y="402.00" font-size="5.9" fill="#1a1a1a">1.06</text>
<text x="366.50" y="402.00" font-size="5.9" text-anchor="end" fill="#1a1a1a">4.11</text>
<text x="278.00" y="484.60" font-size="5.9" fill="#1a1a1a">87.55</text>
<text x="366.50" y="484.60" font-size="5.9" text-anchor="end" fill="#1a1a1a">5.27</text>
<text x="272.70" y="406.30" font-size="6.0" text-anchor="end" fill="#1a1a1a">10<tspan font-size="3.8" dy="-2.4">5</tspan></text>
<line x1="274.60" y1="404.10" x2="276.20" y2="404.10" stroke="#444" stroke-width="0.7"/>
<text x="272.70" y="426.91" font-size="6.0" text-anchor="end" fill="#1a1a1a">10<tspan font-size="3.8" dy="-2.4">4</tspan></text>
<line x1="274.60" y1="424.71" x2="276.20" y2="424.71" stroke="#444" stroke-width="0.7"/>
<text x="272.70" y="447.52" font-size="6.0" text-anchor="end" fill="#1a1a1a">10<tspan font-size="3.8" dy="-2.4">3</tspan></text>
<line x1="274.60" y1="445.32" x2="276.20" y2="445.32" stroke="#444" stroke-width="0.7"/>
<text x="272.70" y="469.05" font-size="6.0" text-anchor="end" fill="#1a1a1a">10<tspan font-size="3.8" dy="-2.4">2</tspan></text>
<line x1="274.60" y1="466.85" x2="276.20" y2="466.85" stroke="#444" stroke-width="0.7"/>
<text x="272.70" y="478.67" font-size="6.0" text-anchor="end" fill="#1a1a1a">0</text>
<text x="295.04" y="498.20" font-size="6.0" text-anchor="middle" fill="#1a1a1a">10<tspan font-size="3.8" dy="-2.4">2</tspan></text>
<line x1="295.04" y1="487.00" x2="295.04" y2="488.60" stroke="#444" stroke-width="0.7"/>
<text x="316.64" y="498.20" font-size="6.0" text-anchor="middle" fill="#1a1a1a">10<tspan font-size="3.8" dy="-2.4">3</tspan></text>
<line x1="316.64" y1="487.00" x2="316.64" y2="488.60" stroke="#444" stroke-width="0.7"/>
<text x="337.96" y="498.20" font-size="6.0" text-anchor="middle" fill="#1a1a1a">10<tspan font-size="3.8" dy="-2.4">4</tspan></text>
<line x1="337.96" y1="487.00" x2="337.96" y2="488.60" stroke="#444" stroke-width="0.7"/>
<text x="358.54" y="498.20" font-size="6.0" text-anchor="middle" fill="#1a1a1a">10<tspan font-size="3.8" dy="-2.4">5</tspan></text>
<line x1="358.54" y1="487.00" x2="358.54" y2="488.60" stroke="#444" stroke-width="0.7"/>
<text x="286.49" y="498.20" font-size="6.0" text-anchor="middle" fill="#1a1a1a">0</text>
<text x="89.80" y="157.70" font-size="7.4" text-anchor="middle" fill="#222">shLuc</text>
<text x="205.00" y="157.80" font-size="7.4" text-anchor="middle" fill="#222">shB-2</text>
<text x="319.40" y="157.80" font-size="7.4" text-anchor="middle" fill="#222">shB-8</text>
<path d="M30.00,247.50 V266.90 H49.20" fill="none" stroke="#111" stroke-width="1.3"/>
<path d="M27.00,249.70 L30.00,242.50 L33.00,249.70 L30.00,248.30 Z" fill="#111"/>
<path d="M46.80,263.90 L54.20,266.90 L46.80,269.90 L48.20,266.90 Z" fill="#111"/>
<text x="0" y="0" font-size="6.8" font-weight="bold" text-anchor="middle" fill="#222" textLength="11" lengthAdjust="spacingAndGlyphs" transform="translate(27.00,258.50) rotate(-90)">Gr-1</text>
<text x="30.60" y="275.70" font-size="6.8" font-weight="bold" textLength="15.6" lengthAdjust="spacingAndGlyphs" fill="#222">CD11b</text>
<path d="M29.40,365.20 V384.00 H48.70" fill="none" stroke="#111" stroke-width="1.3"/>
<path d="M26.40,367.40 L29.40,360.20 L32.40,367.40 L29.40,366.00 Z" fill="#111"/>
<path d="M46.30,381.00 L53.70,384.00 L46.30,387.00 L47.70,384.00 Z" fill="#111"/>
<text x="0" y="0" font-size="6.8" font-weight="bold" text-anchor="middle" fill="#222" textLength="11" lengthAdjust="spacingAndGlyphs" transform="translate(27.00,375.70) rotate(-90)">c-kit</text>
<text x="34.60" y="392.60" font-size="6.8" font-weight="bold" textLength="10.4" lengthAdjust="spacingAndGlyphs" fill="#222">Gr-1</text>
<path d="M29.40,483.30 V502.50 H49.20" fill="none" stroke="#111" stroke-width="1.3"/>
<path d="M26.40,485.50 L29.40,478.30 L32.40,485.50 L29.40,484.10 Z" fill="#111"/>
<path d="M46.80,499.50 L54.20,502.50 L46.80,505.50 L48.20,502.50 Z" fill="#111"/>
<text x="0" y="0" font-size="6.8" font-weight="bold" text-anchor="middle" fill="#222" textLength="12.6" lengthAdjust="spacingAndGlyphs" transform="translate(27.00,495.00) rotate(-90)">7AAD</text>
<text x="25.60" y="512.30" font-size="6.8" font-weight="bold" textLength="24.9" lengthAdjust="spacingAndGlyphs" fill="#222">Annexin V</text></svg>
<svg class="ov" width="520" height="674" viewBox="0 0 520 674"><rect x="0" y="0" width="1.1" height="674" fill="#4d4d4d"/><rect x="0" y="0" width="520" height="1" fill="#5a5a5a"/><rect x="518.7" y="0" width="1.3" height="674" fill="#555"/><rect x="0" y="672.5" width="520" height="1.5" fill="#404040"/></svg>
</body></html>
